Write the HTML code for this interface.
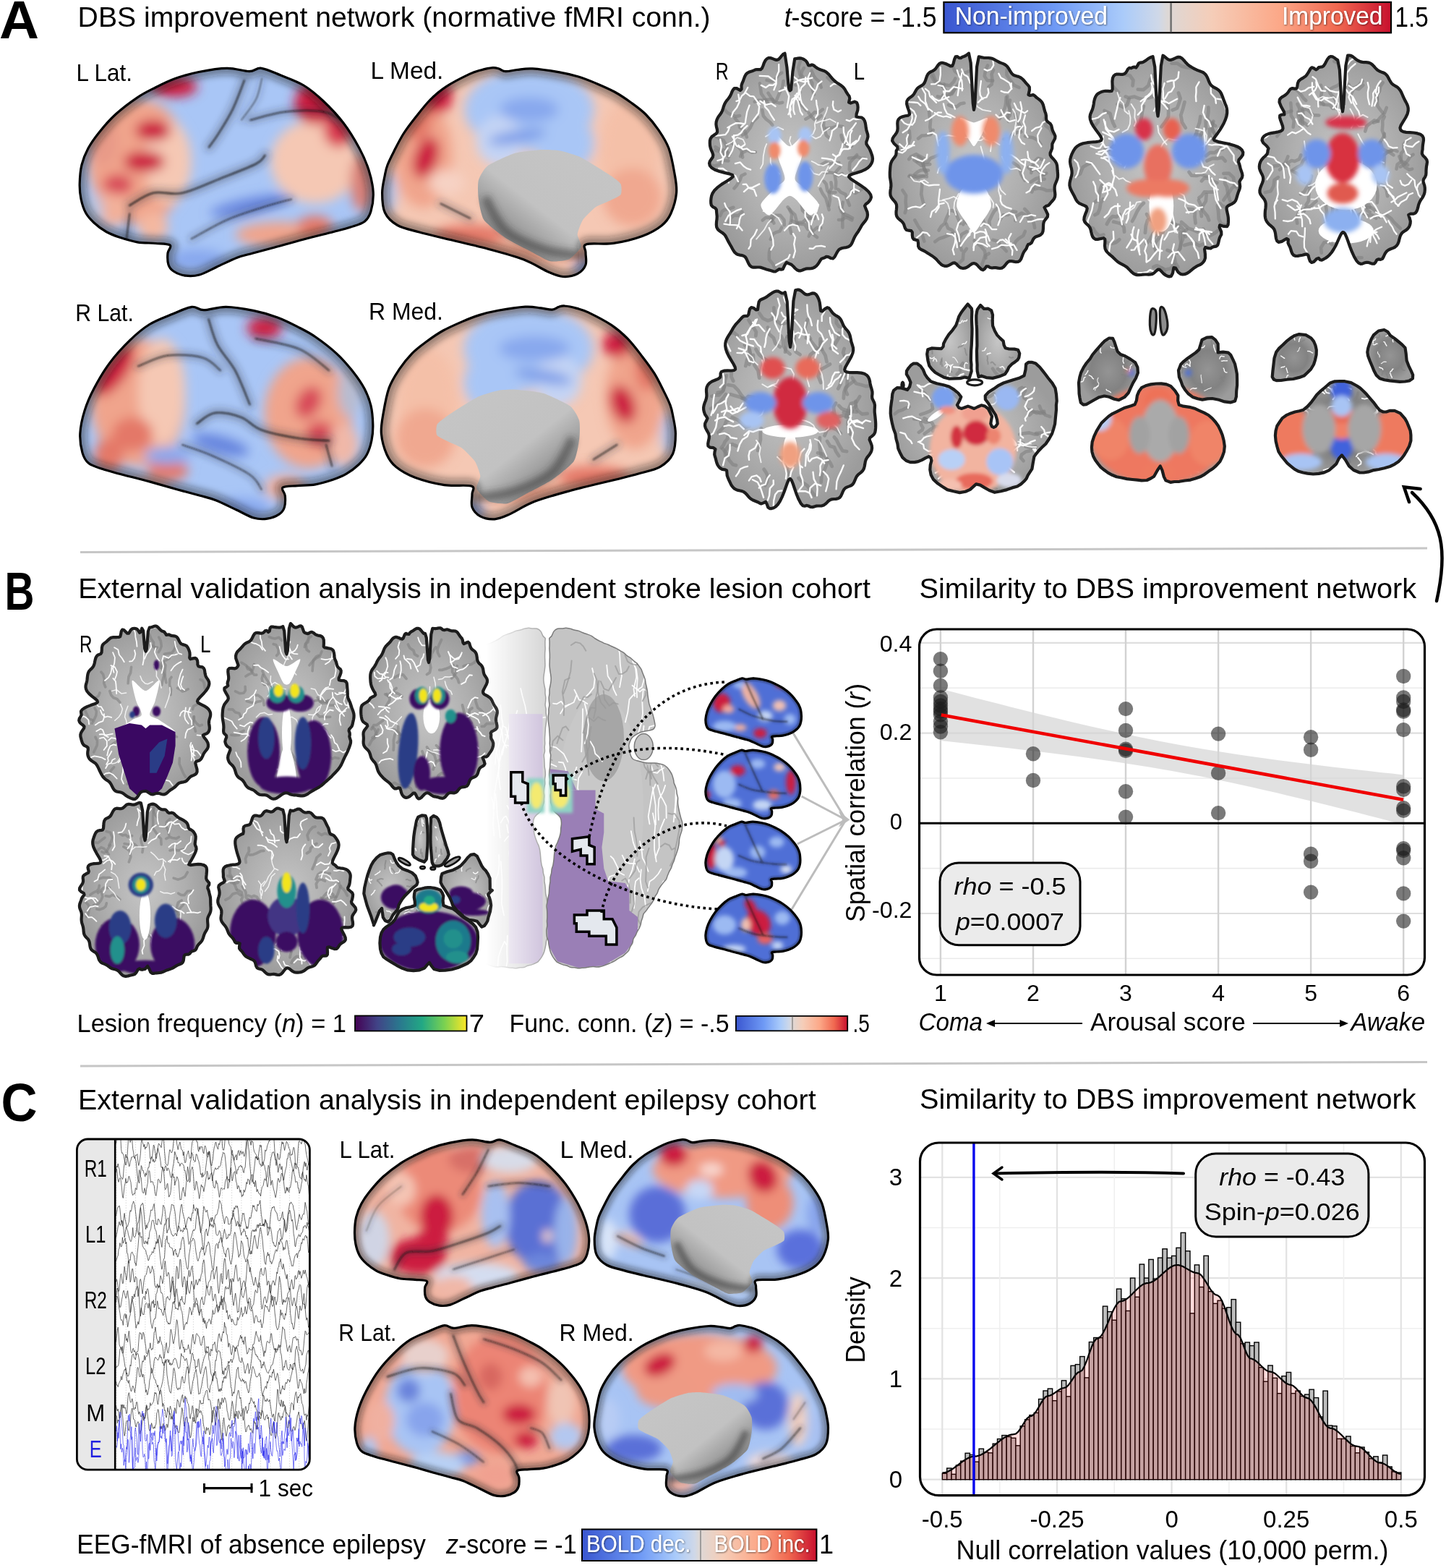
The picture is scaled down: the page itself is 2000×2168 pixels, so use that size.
<!DOCTYPE html>
<html><head><meta charset="utf-8"><title>DBS improvement network figure</title>
<style>html,body{margin:0;padding:0;background:#fff;}svg{display:block;}text{font-family:"Liberation Sans",Arial,sans-serif;}</style>
</head><body>
<svg width="2000" height="2168" viewBox="0 0 2000 2168" font-family="'Liberation Sans', Arial, sans-serif"><defs><linearGradient id="cw" x1="0" y1="0" x2="1" y2="0"><stop offset="0.00" stop-color="#3a56d0"/><stop offset="0.25" stop-color="#6f9af5"/><stop offset="0.40" stop-color="#aacbfa"/><stop offset="0.48" stop-color="#cfd8e8"/><stop offset="0.50" stop-color="#ddd8d6"/><stop offset="0.60" stop-color="#f5cdb8"/><stop offset="0.75" stop-color="#fca888"/><stop offset="0.88" stop-color="#f06850"/><stop offset="1.00" stop-color="#c8102e"/></linearGradient><linearGradient id="vir" x1="0" y1="0" x2="1" y2="0"><stop offset="0.00" stop-color="#440154"/><stop offset="0.20" stop-color="#414487"/><stop offset="0.40" stop-color="#2a788e"/><stop offset="0.60" stop-color="#22a884"/><stop offset="0.80" stop-color="#7ad151"/><stop offset="1.00" stop-color="#fde725"/></linearGradient><filter id="tsh" x="-5%" y="-20%" width="110%" height="140%"><feDropShadow dx="0.8" dy="0.8" stdDeviation="0.8" flood-color="#000" flood-opacity="0.6"/></filter></defs>
<rect width="2000" height="2168" fill="#fff"/>
<text x="-1.0" y="53.0" font-size="75.0" textLength="55.0" lengthAdjust="spacingAndGlyphs" font-weight="bold">A</text>
<text x="107.6" y="37.0" font-size="38.0" textLength="875.0" lengthAdjust="spacingAndGlyphs">DBS improvement network (normative fMRI conn.)</text>
<text x="1084.7" y="36.5" font-size="38" textLength="211" lengthAdjust="spacingAndGlyphs"><tspan font-style="italic">t</tspan>-score = -1.5</text>
<rect x="1305.4" y="3" width="618.6" height="42.3" fill="url(#cw)" stroke="#000" stroke-width="2.2"/>
<line x1="1619.6" y1="4" x2="1619.6" y2="44.3" stroke="#707070" stroke-width="2.5"/>
<text x="1320.7" y="34.0" font-size="35.0" textLength="211.3" lengthAdjust="spacingAndGlyphs" fill="#fff" filter="url(#tsh)">Non-improved</text>
<text x="1773.0" y="34.0" font-size="35.0" textLength="139.4" lengthAdjust="spacingAndGlyphs" fill="#fff" filter="url(#tsh)">Improved</text>
<text x="1929.6" y="36.5" font-size="38.0" textLength="46.1" lengthAdjust="spacingAndGlyphs">1.5</text>
<text x="105.5" y="112.0" font-size="34.0" textLength="77.4" lengthAdjust="spacingAndGlyphs">L Lat.</text>
<text x="512.4" y="109.4" font-size="34.0" textLength="101.0" lengthAdjust="spacingAndGlyphs">L Med.</text>
<text x="104.3" y="444.0" font-size="34.0" textLength="80.5" lengthAdjust="spacingAndGlyphs">R Lat.</text>
<text x="510.0" y="442.0" font-size="34.0" textLength="103.0" lengthAdjust="spacingAndGlyphs">R Med.</text>
<defs><path id="p3" d="M313.8 94.3c11.6-.2 23.1 4.3 31 4.3c7.9 0 9.5-5.2 16.6-4.3c7.1 .9 16.4 5.5 26.2 9.5c9.8 4 22.5 8.3 32.4 14.2c9.9 6 17.8 12.8 27 21.5c9.2 8.7 19.7 19.6 28 30.5c8.3 10.9 16.2 24.2 22 35c5.8 10.8 9.8 19.9 13 30c3.2 10.1 5.7 21.2 6.2 30.7c.5 9.5 -1.2 19.6 -3.2 26.3c-2 6.8 -4 10.5 -8.7 14.2c-4.7 3.7 -12.2 5.4 -19.3 7.8c-7.2 2.4 -12.8 3.7 -23.6 6.5c-10.8 2.8 -27.8 6.9 -41.4 10.5c-13.6 3.6 -28.3 7.8 -40 11c-11.7 3.2 -21.3 5.6 -30 8c-8.7 2.4 -13.7 3 -22 6.2c-8.3 3.2 -19.3 8.8 -28 12.8c-8.7 4 -17.1 9 -24.3 11c-7.2 2 -13.1 2 -19 1.2c-5.9-.8 -12.7-3.6 -16.7-6.2c-4-2.6 -5.8-5.1 -7.1-9.3c-1.3-4.2 -1.3-11.2 -.9-15.7c.4-4.4 6-8.8 3.2-11c-2.8-2.2 -12.7-1.8 -20.2-2.5c-7.5-.7 -16.7-.3 -25-1.7c-8.3-1.4 -17.8-4.4 -25-6.8c-7.2-2.4 -12.2-4.2 -18-7.5c-5.8-3.3 -12.3-8.1 -17-12.5c-4.7-4.4 -8.4-8.2 -11.4-13.7c-3-5.5 -5.2-12.6 -6.6-19.3c-1.4-6.8 -2-13.4 -1.8-21.2c.2-7.8 .8-17.7 2.8-25.8c2-8.1 4.9-15.4 9-23c4.1-7.6 9.3-14.8 15.6-22.6c6.3-7.8 13.7-16.5 22.4-24.4c8.7-7.9 20.8-17 30-23.2c9.2-6.2 16.3-9.4 25-13.8c8.7-4.4 17.4-8.8 27.4-12.4c10-3.6 20.7-6.7 32.6-9.1c11.9-2.4 27.2-5.1 38.8-5.2Z"/><clipPath id="c1"><use href="#p3"/></clipPath><filter id="f2" x="-30%" y="-30%" width="160%" height="160%"><feGaussianBlur stdDeviation="8.1"/></filter></defs>
<g clip-path="url(#c1)">
<rect x="105.0" y="89.0" width="417.0" height="298.0" fill="#a9c6f6"/>
<g filter="url(#f2)">
<ellipse cx="191.4" cy="223.6" rx="69.2" ry="86.4" fill="#f0a48c"/>
<ellipse cx="232.1" cy="223.6" rx="32.6" ry="57.6" fill="#f5c8b4"/>
<ellipse cx="211.8" cy="180.4" rx="24.4" ry="14.4" fill="#cc1a40"/>
<ellipse cx="199.5" cy="223.6" rx="28.5" ry="14.4" fill="#cc1a40"/>
<ellipse cx="162.9" cy="255.3" rx="20.4" ry="14.4" fill="#d84a58"/>
<ellipse cx="240.2" cy="119.9" rx="32.6" ry="14.4" fill="#cc1a40"/>
<ellipse cx="142.6" cy="194.8" rx="20.4" ry="34.6" fill="#e89a88"/>
<ellipse cx="435.6" cy="223.6" rx="61.0" ry="57.6" fill="#f5c8b4"/>
<ellipse cx="435.6" cy="143.0" rx="28.5" ry="28.8" fill="#cc1a40"/>
<ellipse cx="468.2" cy="180.4" rx="20.4" ry="23.0" fill="#d83850"/>
<ellipse cx="500.7" cy="252.4" rx="16.3" ry="40.3" fill="#d88078"/>
<ellipse cx="386.8" cy="324.4" rx="61.0" ry="17.3" fill="#f0a48c"/>
<ellipse cx="435.6" cy="312.9" rx="24.4" ry="14.4" fill="#e47868"/>
<ellipse cx="154.8" cy="289.8" rx="24.4" ry="23.0" fill="#f2b09a"/>
<ellipse cx="211.8" cy="312.9" rx="20.4" ry="20.2" fill="#f4b8a0"/>
<ellipse cx="346.1" cy="284.1" rx="57.0" ry="10.1" fill="#5c7cda" opacity="0.90" transform="rotate(-12 346.1 284.1)"/>
<ellipse cx="272.8" cy="359.0" rx="40.7" ry="14.4" fill="#88a8ee"/>
<ellipse cx="130.3" cy="295.6" rx="12.2" ry="28.8" fill="#b8c4e0"/>
</g>
<defs><filter id="f4" filterUnits="userSpaceOnUse" x="90" y="74" width="447" height="328"><feGaussianBlur stdDeviation="1.2"/></filter><filter id="f5" filterUnits="userSpaceOnUse" x="90" y="74" width="447" height="328"><feGaussianBlur stdDeviation="4.9"/></filter></defs>
<g filter="url(#f5)" fill="none" stroke="#2a2a3a" stroke-linecap="round"><path d="M337.9 111.3c-2.7 6.7 -10.2 27.8 -16.3 40.3c-6.1 12.5 -14.9 26 -20.3 34.6c-5.4 8.6 -10.2 14.3 -12.2 17.2" stroke-opacity="0.29" stroke-width="12.7"/><path d="M179.2 284.1c5.4-2.9 20.4-14.4 32.6-17.3c12.2-2.9 25 3.4 40.6 0c15.6-3.4 36-13.5 53-20.2c17-6.7 38.6-14.8 48.8-20.1c10.2-5.3 10.2-9.6 12.2-11.5" stroke-opacity="0.29" stroke-width="13.8"/><path d="M264.7 330.2c8.1-4.3 32.5-18.8 48.8-26c16.3-7.2 33.9-12.4 48.8-17.2c14.9-4.8 33.9-9.7 40.7-11.6" stroke-opacity="0.29" stroke-width="8.5"/><path d="M346.1 166c8.1-1.9 31.8-9.6 48.8-11.5c16.9-1.9 39.3-2.4 52.9 0c13.6 2.4 23.8 12 28.5 14.4" stroke-opacity="0.29" stroke-width="10.6"/><path d="M362.3 108.4c-1.4 4.8 -3.4 19.2 -8.1 28.8c-4.7 9.6 -16.9 24 -20.3 28.8" stroke-opacity="0.19" stroke-width="8.5"/><path d="M179.2 295.6l-4.1 34.6" stroke-opacity="0.29" stroke-width="10.6"/></g>
<g filter="url(#f4)" fill="none" stroke="#111" stroke-linecap="round"><path d="M337.9 111.3c-2.7 6.7 -10.2 27.8 -16.3 40.3c-6.1 12.5 -14.9 26 -20.3 34.6c-5.4 8.6 -10.2 14.3 -12.2 17.2" stroke-opacity="0.68" stroke-width="2.4"/><path d="M179.2 284.1c5.4-2.9 20.4-14.4 32.6-17.3c12.2-2.9 25 3.4 40.6 0c15.6-3.4 36-13.5 53-20.2c17-6.7 38.6-14.8 48.8-20.1c10.2-5.3 10.2-9.6 12.2-11.5" stroke-opacity="0.68" stroke-width="2.6"/><path d="M264.7 330.2c8.1-4.3 32.5-18.8 48.8-26c16.3-7.2 33.9-12.4 48.8-17.2c14.9-4.8 33.9-9.7 40.7-11.6" stroke-opacity="0.68" stroke-width="1.6"/><path d="M346.1 166c8.1-1.9 31.8-9.6 48.8-11.5c16.9-1.9 39.3-2.4 52.9 0c13.6 2.4 23.8 12 28.5 14.4" stroke-opacity="0.68" stroke-width="2.0"/><path d="M362.3 108.4c-1.4 4.8 -3.4 19.2 -8.1 28.8c-4.7 9.6 -16.9 24 -20.3 28.8" stroke-opacity="0.45" stroke-width="1.6"/><path d="M179.2 295.6l-4.1 34.6" stroke-opacity="0.68" stroke-width="2.0"/></g>
<defs><filter id="f6" x="-10%" y="-10%" width="120%" height="120%"><feGaussianBlur stdDeviation="4.9"/></filter></defs>
<use href="#p3" fill="none" stroke="#1a1a1a" stroke-opacity="0.42" stroke-width="18.3" filter="url(#f6)"/>
</g>
<use href="#p3" fill="none" stroke="#000" stroke-width="3.2" stroke-linejoin="round"/>
<defs><path id="p9" d="M528.6 266.7c0 8.7 .3 19.8 3.8 27.3c3.5 7.5 9.5 13 17.4 17.5c7.9 4.5 19.8 6.6 30.2 9.5c10.4 2.9 16.3 4.2 32 8c15.7 3.8 43.6 10 62.3 15c18.7 5 35.6 9.4 49.7 14.8c14.1 5.4 25.8 13.4 34.9 17.4c9.1 3.9 13.3 5.9 19.9 6.3c6.6 .4 14.7-1.1 19.9-3.8c5.2-2.7 9.4-7.4 11.3-12.4c1.9-5 -.2-12.6 0-17.4c.2-4.8 -5.2-9.1 1.2-11.2c6.4-2.1 24.4 .6 37.3-1.3c12.8-1.9 28.7-5.8 39.8-9.9c11.1-4.1 20.1-9.2 26.7-14.5c6.6-5.2 9.6-9.4 13-17c3.4-7.6 6.8-19.1 7.6-28.3c.8-9.2 -.8-16.4 -2.6-26.7c-1.8-10.3 -4.3-24.9 -8-35c-3.7-10.1 -8.9-17.6 -14.2-25.4c-5.3-7.8 -11.6-15.4 -17.8-21.6c-6.2-6.2 -12.4-10.6 -19.6-15.8c-7.2-5.2 -15.1-10.6 -23.4-15.2c-8.3-4.5 -18.1-8.6 -26.4-12.1c-8.3-3.5 -15.3-6.4 -23.6-8.9c-8.3-2.5 -15.6-4.2 -26.2-6.1c-10.6-1.8 -27.5-4.4 -37.3-5c-9.8-.6 -15.3 1 -21.5 1.6c-6.2 .6 -11.6 2.5 -15.8 2.2c-4.2-.2 -6.3-2.9 -9.2-3.7c-2.9-.8 -4.1-1.6 -8.3-1.3c-4.2 .3 -11.3 1.8 -16.7 3.3c-5.4 1.5 -7.6 1.6 -15.6 5.4c-8 3.8 -23.3 11.5 -32.4 17.4c-9.1 5.9 -15 11.1 -22 18.2c-7 7.1 -14.1 16.4 -20.3 24.2c-6.2 7.8 -11.7 14.9 -16.7 22.8c-5 7.9 -9.5 17.2 -13.2 24.4c-3.7 7.2 -6.7 13.2 -8.8 18.6c-2.1 5.4 -2.4 7.4 -3.6 13.8c-1.2 6.4 -3.8 16.2 -3.8 24.9Z"/><clipPath id="c7"><use href="#p9"/></clipPath><filter id="f8" x="-30%" y="-30%" width="160%" height="160%"><feGaussianBlur stdDeviation="8.2"/></filter></defs>
<g clip-path="url(#c7)">
<rect x="523.0" y="88.7" width="418.0" height="299.0" fill="#f5c8b4"/>
<g filter="url(#f8)">
<ellipse cx="732.0" cy="151.5" rx="89.8" ry="57.8" fill="#a9c6f6"/>
<ellipse cx="781.0" cy="197.7" rx="40.8" ry="40.5" fill="#a9c6f6"/>
<ellipse cx="691.2" cy="194.8" rx="32.6" ry="34.7" fill="#c4d4f4"/>
<ellipse cx="732.0" cy="151.5" rx="40.8" ry="17.3" fill="#88a8ee"/>
<ellipse cx="715.7" cy="189.1" rx="40.8" ry="8.7" fill="#7c9ce8" transform="rotate(-10 715.7 189.1)"/>
<ellipse cx="585.1" cy="215.1" rx="40.8" ry="72.2" fill="#f0a48c"/>
<ellipse cx="601.4" cy="134.2" rx="24.5" ry="23.1" fill="#cc1a40"/>
<ellipse cx="589.2" cy="218.0" rx="16.3" ry="28.9" fill="#cc1a40" transform="rotate(20 589.2 218.0)"/>
<ellipse cx="577.0" cy="165.9" rx="20.4" ry="28.9" fill="#e47868"/>
<ellipse cx="870.7" cy="209.3" rx="40.8" ry="72.2" fill="#f4c0a8"/>
<ellipse cx="874.8" cy="272.9" rx="40.8" ry="40.5" fill="#f0a890"/>
<ellipse cx="732.0" cy="348.0" rx="81.6" ry="14.5" fill="#f0a48c"/>
<ellipse cx="650.4" cy="324.9" rx="49.0" ry="14.5" fill="#e47868"/>
<ellipse cx="536.2" cy="267.1" rx="12.2" ry="28.9" fill="#b0c0e8"/>
<ellipse cx="813.6" cy="371.1" rx="20.4" ry="11.6" fill="#88a8ee"/>
<ellipse cx="617.8" cy="252.7" rx="24.5" ry="17.3" fill="#f6d2c4"/>
</g>
<defs><filter id="f10" filterUnits="userSpaceOnUse" x="508" y="74" width="448" height="329"><feGaussianBlur stdDeviation="1.2"/></filter><filter id="f11" filterUnits="userSpaceOnUse" x="508" y="74" width="448" height="329"><feGaussianBlur stdDeviation="4.9"/></filter></defs>
<g filter="url(#f11)" fill="none" stroke="#2a2a3a" stroke-linecap="round"><path d="M609.6 281.6l40.8 20.2" stroke-opacity="0.29" stroke-width="10.6"/></g>
<g filter="url(#f10)" fill="none" stroke="#111" stroke-linecap="round"><path d="M609.6 281.6l40.8 20.2" stroke-opacity="0.68" stroke-width="2.0"/></g>
<defs><linearGradient id="g12" x1="100%" y1="0%" x2="0%" y2="100%"><stop offset="0" stop-color="#c6c6c6"/><stop offset="0.55" stop-color="#c2c2c2"/><stop offset="0.8" stop-color="#8a8a8a"/><stop offset="1" stop-color="#b4b4b4"/></linearGradient></defs>
<path d="M661.8 249.3c1.2-4.5 7.5-16.2 12.5-19.9c5-3.7 29.8-15.2 37.3-17.4c7.5-2.2 31.2-4.6 37.4-5c6.2-.4 19.7 .3 24.8 1.2c5.1 .9 21.2 5.7 26.2 7.8c5 2.1 19.1 10.7 23.6 13.4c4.5 2.7 17.9 11.1 21.4 13.6c3.5 2.5 12.2 8.7 13.5 11.3c1.3 2.6 1.8 12.4 0 14.9c-1.8 2.5 -15 8.1 -18.5 9.8c-3.5 1.7 -13 5.1 -16.4 7.6c-3.4 2.5 -14.9 13.7 -17.4 17.4c-2.5 3.7 -7.2 16.3 -7.5 20c-.2 3.7 6.2 13.9 5 17.4c-1.2 3.5 -13.2 15.4 -17.4 17.4c-4.2 2 -19.9 3.5 -24.9 2.5c-5-1 -18.7-9.2 -24.9-12.4c-6.2-3.2 -30.6-15.4 -37.3-19.9c-6.7-4.5 -26.2-19.5 -29.9-25c-3.7-5.5 -6.8-24.3 -7.5-29.8c-.8-5.5 -1.2-20.4 0-24.9Z" fill="url(#g12)"/>
<defs><filter id="f13" filterUnits="userSpaceOnUse" x="508" y="74" width="448" height="329"><feGaussianBlur stdDeviation="4.9"/></filter></defs>
<path d="M670.8 272.9c4.8 7.7 15 34.2 28.6 46.2c13.6 12 35.3 20.2 53 26c17.7 5.8 44.2 7.2 53 8.7" fill="none" stroke="#333" stroke-opacity="0.55" stroke-width="12.2" filter="url(#f13)"/>
<defs><filter id="f14" x="-10%" y="-10%" width="120%" height="120%"><feGaussianBlur stdDeviation="4.9"/></filter></defs>
<use href="#p9" fill="none" stroke="#1a1a1a" stroke-opacity="0.42" stroke-width="18.4" filter="url(#f14)"/>
</g>
<use href="#p9" fill="none" stroke="#000" stroke-width="3.2" stroke-linejoin="round"/>
<defs><path id="p17" d="M312.7 424.3c-11.6-.2 -23 4.4 -30.9 4.4c-7.9 0 -9.5-5.3 -16.6-4.4c-7.1 .9 -16.4 5.7 -26.1 9.7c-9.7 4 -22.4 8.4 -32.3 14.5c-9.9 6.1 -17.9 13 -27 21.9c-9.2 8.9 -19.6 20.1 -27.9 31.2c-8.3 11.1 -16.1 24.6 -21.9 35.7c-5.8 11 -9.8 20.3 -13 30.6c-3.2 10.3 -5.7 21.7 -6.2 31.4c-.5 9.7 1.2 19.9 3.2 26.8c2 6.9 4.1 10.8 8.7 14.5c4.7 3.8 12.1 5.6 19.2 8c7.1 2.4 12.8 3.7 23.6 6.6c10.8 2.9 27.8 7 41.3 10.7c13.5 3.7 28.3 8.1 39.9 11.3c11.6 3.2 21.3 5.7 29.9 8.1c8.6 2.4 13.6 3.2 21.9 6.4c8.3 3.2 19.3 9 28 13c8.7 4 17 9.2 24.2 11.3c7.2 2.1 13.1 2.1 19 1.2c5.9-.9 12.7-3.7 16.6-6.3c3.9-2.6 5.8-5.2 7.1-9.5c1.3-4.3 1.3-11.6 .9-16.1c-.4-4.5 -6-8.9 -3.2-11.2c2.8-2.3 12.7-1.8 20.2-2.5c7.5-.7 16.6-.4 24.9-1.8c8.3-1.5 17.8-4.5 24.9-6.9c7.2-2.4 12.2-4.3 18-7.7c5.8-3.4 12.2-8.3 16.9-12.7c4.7-4.5 8.4-8.4 11.4-14c3-5.6 5.2-12.8 6.6-19.7c1.4-6.9 2-13.7 1.8-21.7c-.2-8 -.8-18 -2.8-26.3c-2-8.3 -4.9-15.7 -9-23.5c-4.1-7.8 -9.2-15.1 -15.5-23.1c-6.3-8 -13.7-16.8 -22.4-24.9c-8.7-8.1 -20.8-17.3 -29.9-23.6c-9.1-6.3 -16.2-9.6 -24.9-14.1c-8.7-4.5 -17.4-9 -27.4-12.7c-10-3.7 -20.6-6.9 -32.5-9.3c-11.9-2.4 -27.1-5.2 -38.7-5.3Z"/><clipPath id="c15"><use href="#p17"/></clipPath><filter id="f16" x="-30%" y="-30%" width="160%" height="160%"><feGaussianBlur stdDeviation="8.1"/></filter></defs>
<g clip-path="url(#c15)">
<rect x="105.0" y="419.0" width="416.0" height="304.0" fill="#a9c6f6"/>
<g filter="url(#f16)">
<ellipse cx="191.2" cy="556.3" rx="65.0" ry="88.2" fill="#f0a48c"/>
<ellipse cx="223.7" cy="541.6" rx="32.5" ry="73.5" fill="#f5c8b4"/>
<ellipse cx="158.7" cy="512.2" rx="16.2" ry="41.2" fill="#cc1a40" transform="rotate(35 158.7 512.2)"/>
<ellipse cx="183.1" cy="600.4" rx="28.4" ry="23.5" fill="#e47868"/>
<ellipse cx="150.6" cy="629.8" rx="20.3" ry="23.5" fill="#e47868"/>
<ellipse cx="231.8" cy="650.4" rx="28.4" ry="14.7" fill="#e47868"/>
<ellipse cx="191.2" cy="676.8" rx="40.6" ry="14.7" fill="#f0b0a0"/>
<ellipse cx="426.7" cy="571.0" rx="60.9" ry="76.4" fill="#f0a48c"/>
<ellipse cx="426.7" cy="556.3" rx="16.2" ry="23.5" fill="#d84858" transform="rotate(30 426.7 556.3)"/>
<ellipse cx="442.9" cy="600.4" rx="20.3" ry="17.6" fill="#d84a58"/>
<ellipse cx="365.8" cy="453.4" rx="24.4" ry="14.7" fill="#cc1a40"/>
<ellipse cx="475.4" cy="615.1" rx="20.3" ry="29.4" fill="#f0b8a8"/>
<ellipse cx="394.2" cy="673.9" rx="28.4" ry="17.6" fill="#f0b0a0"/>
<ellipse cx="304.9" cy="615.1" rx="40.6" ry="11.8" fill="#5c7cda" opacity="0.90" transform="rotate(15 304.9 615.1)"/>
<ellipse cx="231.8" cy="629.8" rx="32.5" ry="11.8" fill="#88a8ee"/>
<ellipse cx="333.3" cy="703.3" rx="40.6" ry="14.7" fill="#88a8ee"/>
<ellipse cx="483.5" cy="541.6" rx="16.2" ry="35.3" fill="#b8bcd0"/>
</g>
<defs><filter id="f18" filterUnits="userSpaceOnUse" x="90" y="404" width="446" height="334"><feGaussianBlur stdDeviation="1.2"/></filter><filter id="f19" filterUnits="userSpaceOnUse" x="90" y="404" width="446" height="334"><feGaussianBlur stdDeviation="4.9"/></filter></defs>
<g filter="url(#f19)" fill="none" stroke="#2a2a3a" stroke-linecap="round"><path d="M288.6 441.6c2 5.9 6.1 23.5 12.2 35.3c6.1 11.8 16.9 21.6 24.4 35.3c7.4 13.7 16.9 39.2 20.3 47" stroke-opacity="0.29" stroke-width="12.7"/><path d="M191.2 506.3c6.8-2.4 25.7-12.7 40.6-14.7c14.9-1.9 36.5-.4 48.7 3c12.2 3.4 20.3 14.7 24.4 17.6" stroke-opacity="0.29" stroke-width="10.6"/><path d="M272.4 585.7c4.1-2.5 14.3-13.2 24.4-14.7c10.2-1.5 25.7 2 36.5 5.9c10.8 3.9 14.9 12.7 28.4 17.6c13.5 4.9 37.2 9.3 52.8 11.8c15.6 2.5 33.8 2.4 40.6 2.9" stroke-opacity="0.29" stroke-width="13.7"/><path d="M252.1 615.1c6.8 2.4 25 7.8 40.6 14.7c15.6 6.9 41.3 18.7 52.8 26.5c11.5 7.8 13.5 17.1 16.2 20.5" stroke-opacity="0.29" stroke-width="8.4"/><path d="M353.6 468.1c10.1 2.4 44 7.3 60.9 14.7c16.9 7.4 33.8 24.5 40.6 29.4" stroke-opacity="0.29" stroke-width="10.6"/><path d="M451 615.1l8.2 29.4" stroke-opacity="0.29" stroke-width="10.6"/></g>
<g filter="url(#f18)" fill="none" stroke="#111" stroke-linecap="round"><path d="M288.6 441.6c2 5.9 6.1 23.5 12.2 35.3c6.1 11.8 16.9 21.6 24.4 35.3c7.4 13.7 16.9 39.2 20.3 47" stroke-opacity="0.68" stroke-width="2.4"/><path d="M191.2 506.3c6.8-2.4 25.7-12.7 40.6-14.7c14.9-1.9 36.5-.4 48.7 3c12.2 3.4 20.3 14.7 24.4 17.6" stroke-opacity="0.68" stroke-width="2.0"/><path d="M272.4 585.7c4.1-2.5 14.3-13.2 24.4-14.7c10.2-1.5 25.7 2 36.5 5.9c10.8 3.9 14.9 12.7 28.4 17.6c13.5 4.9 37.2 9.3 52.8 11.8c15.6 2.5 33.8 2.4 40.6 2.9" stroke-opacity="0.68" stroke-width="2.6"/><path d="M252.1 615.1c6.8 2.4 25 7.8 40.6 14.7c15.6 6.9 41.3 18.7 52.8 26.5c11.5 7.8 13.5 17.1 16.2 20.5" stroke-opacity="0.68" stroke-width="1.6"/><path d="M353.6 468.1c10.1 2.4 44 7.3 60.9 14.7c16.9 7.4 33.8 24.5 40.6 29.4" stroke-opacity="0.68" stroke-width="2.0"/><path d="M451 615.1l8.2 29.4" stroke-opacity="0.68" stroke-width="2.0"/></g>
<defs><filter id="f20" x="-10%" y="-10%" width="120%" height="120%"><feGaussianBlur stdDeviation="4.9"/></filter></defs>
<use href="#p17" fill="none" stroke="#1a1a1a" stroke-opacity="0.42" stroke-width="18.3" filter="url(#f20)"/>
</g>
<use href="#p17" fill="none" stroke="#000" stroke-width="3.2" stroke-linejoin="round"/>
<defs><path id="p23" d="M934.4 599.6c0 8.9 -.3 20.3 -3.8 27.9c-3.5 7.6 -9.5 13.2 -17.4 17.8c-7.9 4.6 -19.8 6.7 -30.2 9.7c-10.4 3 -16.3 4.3 -32 8.2c-15.7 3.9 -43.6 10.2 -62.3 15.3c-18.7 5.1 -35.6 9.6 -49.7 15.1c-14.1 5.5 -25.8 13.8 -34.9 17.8c-9.1 4 -13.3 6 -19.9 6.4c-6.6 .4 -14.7-1.1 -19.9-3.9c-5.2-2.8 -9.4-7.5 -11.3-12.6c-1.9-5.1 .2-12.9 0-17.8c-.2-4.9 5.2-9.3 -1.2-11.4c-6.4-2.1 -24.4 .5 -37.3-1.4c-12.8-1.9 -28.7-6 -39.8-10.1c-11.1-4.2 -20.1-9.5 -26.7-14.8c-6.6-5.4 -9.6-9.6 -13-17.3c-3.4-7.7 -6.8-19.5 -7.6-28.9c-.8-9.4 .8-16.8 2.6-27.3c1.8-10.5 4.3-25.4 8-35.7c3.7-10.3 8.9-17.9 14.2-25.9c5.3-8 11.6-15.7 17.8-22.1c6.2-6.4 12.4-10.8 19.6-16.1c7.2-5.3 15.1-10.9 23.4-15.5c8.3-4.6 18.1-8.8 26.4-12.4c8.3-3.6 15.3-6.4 23.6-9c8.3-2.6 15.6-4.4 26.2-6.3c10.6-1.9 27.5-4.5 37.3-5.1c9.8-.6 15.3 1 21.5 1.7c6.2 .7 11.6 2.5 15.8 2.2c4.2-.3 6.3-3 9.2-3.8c2.9-.9 4.1-1.7 8.3-1.3c4.2 .3 11.3 1.9 16.7 3.4c5.4 1.5 7.6 1.6 15.6 5.5c8 3.9 23.3 11.7 32.4 17.7c9.1 6.1 15 11.4 22 18.6c7 7.2 14.1 16.7 20.3 24.7c6.2 8 11.7 15.3 16.7 23.3c5 8 9.5 17.6 13.2 24.9c3.7 7.3 6.7 13.5 8.8 19c2.1 5.5 2.4 7.5 3.6 14.1c1.2 6.6 3.8 16.5 3.8 25.4Z"/><clipPath id="c21"><use href="#p23"/></clipPath><filter id="f22" x="-30%" y="-30%" width="160%" height="160%"><feGaussianBlur stdDeviation="8.2"/></filter></defs>
<g clip-path="url(#c21)">
<rect x="522.0" y="418.0" width="418.0" height="305.0" fill="#f5c8b4"/>
<g filter="url(#f22)">
<ellipse cx="731.0" cy="482.0" rx="89.8" ry="59.0" fill="#a9c6f6"/>
<ellipse cx="682.0" cy="529.2" rx="40.8" ry="41.3" fill="#a9c6f6"/>
<ellipse cx="771.8" cy="526.2" rx="32.6" ry="35.4" fill="#c4d4f4"/>
<ellipse cx="739.2" cy="482.0" rx="49.0" ry="17.7" fill="#88a8ee"/>
<ellipse cx="751.4" cy="520.4" rx="40.8" ry="8.8" fill="#7c9ce8" transform="rotate(10 751.4 520.4)"/>
<ellipse cx="877.9" cy="546.9" rx="40.8" ry="73.8" fill="#f0a48c"/>
<ellipse cx="853.4" cy="476.1" rx="20.4" ry="17.7" fill="#cc1a40"/>
<ellipse cx="861.6" cy="558.7" rx="16.3" ry="26.6" fill="#cc1a40" transform="rotate(-20 861.6 558.7)"/>
<ellipse cx="894.2" cy="511.5" rx="16.3" ry="29.5" fill="#e47868"/>
<ellipse cx="592.3" cy="555.8" rx="40.8" ry="73.8" fill="#f4c0a8"/>
<ellipse cx="588.2" cy="605.9" rx="40.8" ry="41.3" fill="#f0a890"/>
<ellipse cx="751.4" cy="682.6" rx="81.6" ry="14.8" fill="#f0a48c"/>
<ellipse cx="820.8" cy="659.0" rx="49.0" ry="14.8" fill="#e47868"/>
<ellipse cx="926.8" cy="600.0" rx="12.2" ry="29.5" fill="#b0c0e8"/>
<ellipse cx="649.4" cy="706.2" rx="20.4" ry="11.8" fill="#88a8ee"/>
</g>
<defs><filter id="f24" filterUnits="userSpaceOnUse" x="507" y="403" width="448" height="335"><feGaussianBlur stdDeviation="1.2"/></filter><filter id="f25" filterUnits="userSpaceOnUse" x="507" y="403" width="448" height="335"><feGaussianBlur stdDeviation="4.9"/></filter></defs>
<g filter="url(#f25)" fill="none" stroke="#2a2a3a" stroke-linecap="round"><path d="M853.4 614.8l-32.6 20.6" stroke-opacity="0.29" stroke-width="10.6"/></g>
<g filter="url(#f24)" fill="none" stroke="#111" stroke-linecap="round"><path d="M853.4 614.8l-32.6 20.6" stroke-opacity="0.68" stroke-width="2.0"/></g>
<defs><linearGradient id="g26" x1="0%" y1="0%" x2="100%" y2="100%"><stop offset="0" stop-color="#c6c6c6"/><stop offset="0.55" stop-color="#c2c2c2"/><stop offset="0.8" stop-color="#8a8a8a"/><stop offset="1" stop-color="#b4b4b4"/></linearGradient></defs>
<path d="M801.2 581.8c-1.2-4.6 -7.5-16.5 -12.5-20.3c-5-3.8 -29.8-15.4 -37.3-17.7c-7.5-2.3 -31.2-4.7 -37.4-5.1c-6.2-.4 -19.7 .3 -24.8 1.2c-5.1 .9 -21.2 5.7 -26.2 7.9c-5 2.2 -19.1 10.9 -23.6 13.7c-4.5 2.8 -17.9 11.4 -21.4 13.9c-3.5 2.5 -12.2 8.8 -13.5 11.5c-1.3 2.7 -1.8 12.7 0 15.2c1.8 2.5 15 8.2 18.5 10c3.5 1.8 13 5.2 16.4 7.8c3.4 2.6 14.9 14 17.4 17.8c2.5 3.8 7.2 16.6 7.5 20.4c.2 3.8 -6.2 14.1 -5 17.7c1.2 3.6 13.2 15.8 17.4 17.8c4.2 2 19.9 3.6 24.9 2.6c5-1 18.7-9.4 24.9-12.7c6.2-3.3 30.6-15.7 37.3-20.3c6.7-4.6 26.2-19.9 29.9-25.5c3.7-5.6 6.8-24.9 7.5-30.5c.8-5.6 1.2-20.8 0-25.4Z" fill="url(#g26)"/>
<defs><filter id="f27" filterUnits="userSpaceOnUse" x="507" y="403" width="448" height="335"><feGaussianBlur stdDeviation="4.9"/></filter></defs>
<path d="M792.2 605.9c-4.8 7.9 -15 34.9 -28.6 47.2c-13.6 12.3 -35.3 20.6 -53 26.5c-17.7 5.9 -44.2 7.4 -53 8.9" fill="none" stroke="#333" stroke-opacity="0.55" stroke-width="12.2" filter="url(#f27)"/>
<defs><filter id="f28" x="-10%" y="-10%" width="120%" height="120%"><feGaussianBlur stdDeviation="4.9"/></filter></defs>
<use href="#p23" fill="none" stroke="#1a1a1a" stroke-opacity="0.42" stroke-width="18.4" filter="url(#f28)"/>
</g>
<use href="#p23" fill="none" stroke="#000" stroke-width="3.2" stroke-linejoin="round"/>
<defs><path id="sp2" d="M1203.4 229l-3 2.9 -4.2 2.8 -5.4 2.4 -6.2 2 -5.9 1.7 -3.9 1.7 -.7 2.1 2.8 2.9 5.7 3.7 6.9 4.5 6.7 4.7 5.1 4.6 2.9 4.1 .8 3.5 -.9 2.9 -1.7 2.5 -2.1 2.3 -2.7 1.9 -1.6 2.4 1.6 4.1 1.9 4.4 .5 3.8 -.4 3.2 -1.1 2.8 -1.6 2.4 -1.9 2.3 -1.8 2.2 -1.6 2.4 -1.4 2.5 -1.4 2.5 -1.5 2.5 -1.6 2.3 -1.6 2.3 -1.5 2.4 -1.3 2.6 -1.2 2.8 -1.2 2.9 -1.3 2.7 -1.9 2.1 -2.3 1.5 -2.8 .8 -2.9 .4 -2.9 .5 -2.5 .9 -2 1.4 -1.7 2.2 -1.5 2.6 -1.4 2.8 -1.5 2.6 -2.1 1.8 -2.9-.3 -3.6-1.8 -2.8-.3 -2.1 1.3 -2.3 .8 -2.3 .9 -1.7 2.3 -1.7 2.9 -1.7 2.6 -2 2.2 -2.2 1.6 -2.3 1.1 -2.5 .5 -2.5 .2 -2.5 .1 -2.5 .3 -2.4 .8 -2.3 1 -2.4 .8 -2.5 0 -2.6-1.1 -2.6-2.2 -2.5-2.8 -2.4-2.2 -2.3-1.1 -2.3-.8 -2.2-1.4 -2.5 3.7 -2.7 5.7 -2.5 .5 -2.4-.6 -2.7 1.8 -2.8 1.7 -2.5-.2 -2.5-.9 -2.4-.7 -2.5-.6 -2.4-.7 -2.5-.8 -2.4-.9 -2.4-.8 -2.6-.4 -2.7 0 -2.9 .2 -2.8 0 -2.5-.8 -2.2-1.8 -1.7-2.7 -1.5-3.3 -1.4-3.1 -1.6-2.5 -2.1-1.6 -2.6-.8 -2.8-.5 -2.7-.6 -2.4-1.2 -2.1-1.9 -1.7-2.3 -1.5-2.7 -1.4-2.6 -1.5-2.6 -1.4-2.5 -1.5-2.6 -1.3-2.6 -1.3-2.6 -1.4-2.5 -1.7-2.1 -2.2-1.8 -2.4-1.6 -2.4-1.6 -2-2.1 -1.3-2.7 -.4-3.4 .2-3.8 .5-3.8 .2-3.6 -.3-3.2 -.3-3.1 -.2-3.2 -1.8-2.2 -3.1-1.5 -2.1-2.3 -.6-2.9 -.1-3.3 .3-3.3 .6-3.4 1.3-3.5 2.5-3.9 4.2-4.2 6-4.5 6.7-4.2 5.8-3.7 3.2-2.9 -.6-2.1 -4.3-1.6 -6.6-1.5 -7.2-1.9 -6.3-2.3 -4.5-2.7 -2.5-3 -.7-3.1 .8-3 2-2.9 1.9-2.8 .5-2.9 -.9-3.1 -1.5-3.3 -1.2-3.4 -.7-3.3 -.2-3.3 .1-3.3 .8-3 1.8-2.6 2.9-2.2 3.1-1.9 1.6-2.4 -.2-3.4 -1-3.8 -.5-3.7 .3-3.3 .9-3 1.3-2.7 1.6-2.4 1.8-2.3 1.6-2.4 1.2-2.7 1-2.9 .9-3 1.1-2.9 1.4-2.6 1.6-2.3 1.8-2.1 1.7-2.2 1.5-2.5 1.3-2.7 1.1-2.9 1.4-2.6 1.9-2.1 3.2 .2 4.8 2.7 1.8-1.7 -.1-5 1-3.2 1.3-2.8 1.1-3.3 1.2-3.2 1.5-2.8 1.9-1.9 2.2-1.2 2.3-.8 2.4-.7 2.2-.9 2.2-1 2.4-.4 2.5 .2 2.3-.1 1.9-1.7 1.5-3.4 1.4-4 1.7-3.3 1.9-2.2 2.2-1.3 2.4-.2 2.4 .6 2.5 1 2.5 1 2.3 .3 2.2-.9 2-2 2.1-2.7 2.2-2.4 2.3-1.1 2.9 19.2 2.4 28.1 1.7 4.1 1.6-1.2 2.3-24.9 2.8-17.7 2.2-.4 2.3-.4 2.3-.2 2.3 .2 2.2 .8 2.1 1.2 2.1 1.5 1.9 2.7 1.6 3.5 2.3 .2 2.4-1 2.2 .8 2 1.5 1.9 1.5 2 1.4 2.1 1 2.2 .8 2.2 .7 2.2 .7 2.1 1.1 2 1.4 1.9 1.8 1.8 2 1.7 2.1 1.7 2.1 1.8 1.9 1.8 1.7 2 1.6 2 1.4 2.1 1.3 2.2 1.4 2 1.6 1.9 1.8 1.7 2.2 1.4 2.5 1.5 2.5 1.5 2.4 1.7 2.1 .8 3.2 -1.2 5.5 2.5 1.1 5.7-2 2.8 1.3 1.1 2.9 .4 3.5 -.3 4.1 -1.6 5 -.3 3.8 3.5 .9 4.1 .6 2.5 2 1.5 2.6 .9 3 .5 3.2 .4 3.2 .6 3.2 .9 2.9 .9 3 .3 3.2 -.9 3.6 -1.3 3.6 .1 3 1.7 2.7 1.9 2.7 1.4 2.8 1.2 3 1.1 3 .9 3 .4 3.2 -.4 3.1 -1.2 3.2Z"/><clipPath id="sc1"><use href="#sp2"/></clipPath></defs>
<g clip-path="url(#sc1)">
<defs><radialGradient id="sg3"><stop offset="0" stop-color="#c6c6c6"/><stop offset="0.6" stop-color="#afafaf"/><stop offset="1" stop-color="#9c9c9c"/></radialGradient></defs>
<use href="#sp2" fill="url(#sg3)"/>
<g fill="none" stroke="#808080" stroke-width="4.5" stroke-opacity="0.60" stroke-linecap="round" stroke-linejoin="round"><path d="M1161.6 231.6l-5.1 5.6 -1.8 5.4 1.6 9 -.5 9.2"/><path d="M1015.4 260.4l3.3-3.7 4.9-7.8 1.9-5.9 5-2.5"/><path d="M1016.6 163.6l5.4 6.4 1.1 6.2 7 4.9 2.8 8.4"/><path d="M1122.6 97.8l3.3 7.5 3 3.8 4.4 3.8 2.5 8"/><path d="M1196.2 219.1l-4.7 0 -5.8-2.4 -4.2 1.4 -7.6 .7"/><path d="M1006.7 310.3l4-9 5.1-3.6 5.7 .2 4.9-5"/><path d="M1146.7 290.1l-2.3-8.5 -2-7.3 -4.8-6.9 -2.9-6.2"/><path d="M1146.7 284.4l1.4-8.8 -1.6-9 4.2-7.5 -1.3-6.9"/><path d="M1122.9 301.5l-7.4 .8 -5.2 4.9 -4.8 .2 -4.2 3.8"/><path d="M989.4 203.1l5.5 3.4 3.9 5.8 5.7 1.3 3.4 3.8"/><path d="M1060.4 110.9l7.2 1.7 5-3.4 3.7-5.4 5.1-3.2"/><path d="M1111.9 94l-2.6 4.1 -2.1 9.6 -3.6 4.2 -3.3 5.6"/><path d="M1117.3 317.1l-4.4-6.8 -7-.7 -4.7-1.9 -5.6-2.3"/><path d="M1120.6 302.1l-2.4-6 -3.9-.9 -4.4-4.4 -1-6.7"/><path d="M1106.6 127.3l-2.5 9.1 1.9 6.5 5 4.9 4.1 4.7"/><path d="M989.1 207.5l5.3 1.8 5.9-2 5.3 2.4 3.7 4.2"/><path d="M1062.4 128.6l4.7 7.1 3.3 4.9 7.7 2 4.1-.8"/><path d="M1012 197.6l3.7 2.2 5.2 3 4.4 5.1 1.9 9.7"/><path d="M1126.6 302.3l-.1-5.5 -2.6-9.5 -2.6-6.5 -1.2-10.1"/><path d="M1083.6 111.9l-1.5 9.4 -4.4 8.2 -3.7 8.8 -5.2 4.3"/><path d="M1002.6 152l3.4 3.8 4.5 2.5 7.4 2.7 5.2-1"/><path d="M1054.7 304.5l4.3-3.4 4.6-.4 4 2.5 2.9 5.4"/><path d="M1179.2 301.4l-5.5-2.8 -6.3-3 -3.6-2.8 -2.2-6.3"/><path d="M1165.4 314.4l-.1-9.8 .9-8.1 -1.8-9 1.4-7.9"/><path d="M1162.9 107.2l-2.5 4.6 -4.5 .6 -5.8 .3 -5.8-5.6"/><path d="M1130.2 328.1l-6.5-4.8 -1.8-6.9 -4.4-7.7 -2-7.4"/><path d="M1138 151.3l-6 4.6 -5.2-.9 -5.7 5.7 -6.9 4"/><path d="M1178.4 304.4l-5-2.7 -4.1-1.3 -4.3 3.7 -5.1 0"/><path d="M1024 216.2l2.2-4.8 7.3-3.7 6.3 3.1 5.2-.6"/><path d="M1165.2 174.9l-6.7-1 -4.4 1.8 -3.9 1.1 -7.6 .7"/><path d="M1054.3 151.8l1.5 8.5 4 4.7 5.1 3.7 3.6 4.4"/><path d="M1178.1 202.1l-5.4 .7 -4.4-5.7 -3.2-3.5 -1.7-6.7"/><path d="M1175 283.9l-3.1-7.9 -2.2-7.1 -6.7-3 -3.8-4"/><path d="M1071.9 370.6l-3.4-6.2 -4.7-5.7 0-8.9 1.2-5.7"/><path d="M1201.2 256.8l-6.2 2.6 -6.6 4.6 -5.4 2.9 -5.2-3.3"/><path d="M1109.7 79.9l-3.1 5.7 -2.5 7.8 2.2 9.5 4.3 3.2"/><path d="M1065.7 330.9l3.6-7.6 5.1-2.5 4.1-1.2 2.7-4.9"/><path d="M1155.6 266l-7.2 .4 -4-2.6 -1.7-9.3 -3.1-3.7"/><path d="M990.3 189.3l5.6 2.4 4.5 2.2 4.4 7.6 .4 9"/><path d="M1094.4 322.7l-2.4-9.7 2.2-7.9 1-8.8 -3.5-7"/><path d="M1120.5 101.8l-.6 7.3 3.5 5.6 -.3 7.2 2.9 8.8"/><path d="M1118.7 326.6l2.3-5.5 3.8-2 5.6-4.7 5 .7"/><path d="M1066.5 306l1.3-7.3 -1.5-8.8 1.4-5.7 5.7-6.5"/><path d="M1135.8 159.8l-4.3 4.2 -5.2 1.2 -4-3.9 -3.9-5.5"/><path d="M1026.9 186.8l5.6-3.4 5.2-6.8 4-8.6 6.3-5.8"/><path d="M1160.4 224.8l-5.1 .6 -6.7 1.1 -6.1-2.5 -6.6 3.8"/><path d="M1103.5 312.4l-1.4-5.5 -2.6-9.9 -4.1-3.9 -5.9-6.8"/><path d="M996.3 298.2l2.4-5.8 3.5-2.5 5.3-.7 7-2.5"/><path d="M1043.7 140.6l4.9-1.8 6.4-.1 7-1.1 6.8-.2"/><path d="M1050.9 115.2l.8 5.6 1.3 8.8 5.2 7.3 4.7 6.7"/><path d="M1164.8 240.1l-5.4 2.9 -5.3-3.6 -7-1.1 -5.8 .9"/><path d="M1179.3 241.3l-4.6-7 .7-9.6 4-4.2 5.8-6.3"/><path d="M981.3 227.7l6.7 1.7 6.2-1.6 6-6 7.3 .6"/><path d="M1084.8 311.2l-.2-7.1 -5.4-6.3 -6.9-.1 -4.4 6.9"/><path d="M1139.7 163.3l-.6 10 1.9 7.3 1.8 6.4 3.7 3.4"/></g>
<g fill="none" stroke="#ffffff" stroke-width="2.3" stroke-opacity="0.95" stroke-linecap="round" stroke-linejoin="round"><path d="M1165.6 198.9l-2.1 10.2 -2.2 5.1 -5.1 2.3 -4.3-3"/><path d="M1183.9 170.1l-4.6 6.5 -5.9 6.1 -1.9 6.5 -3.5 8.5"/><path d="M1184.6 194.5l-5.6 4 -5.3 7.5 -7.1 0 -5.2 5.2"/><path d="M1121.8 310.4l1.5-5 2.5-7.3 3.6-5.6 2.7-9.5"/><path d="M1066.3 345.5l3.4-6 -.5-8 -2.7-9.9 -2.8-6.6"/><path d="M1008.4 216l4.5-8 2.3-7.5 .6-7 -3-4.8"/><path d="M1047.7 142.7l2.4 4.5 -1 9.6 -4.1 5.5 -4.2 5.5"/><path d="M1090.5 105.7l.5 8.6 -3.4 8.3 -6.1 2.3 -3.9 1.5"/><path d="M1141 341.1l-5-1.3 -7.7 .9 -3.7 3.2 -4.9-.4"/><path d="M1166.9 292.9l-3.9-4.8 -1.8-9.9 -1.7-5 -7-2.7"/><path d="M1018.9 316l3.2-6.3 .9-6.4 1.9-5 4.2-2.4"/><path d="M999 225.6l1.5-7.6 -4.1-7.5 1.5-8.3 -1.7-9.5"/><path d="M1035.5 343.9l2.5-4.1 .6-8.6 5.2-6.6 3.2-7"/><path d="M1124.4 323.9l-4.8-7.3 -.9-8.9 -5-8 -.1-7.4"/><path d="M1051.3 139.8l3.8 2.3 4.4 2.8 7.6-1.7 5.5 3.8"/><path d="M1101.7 133.4l-6 3.9 -2.7 8.9 .8 5.6 -3.4 6.5"/><path d="M1021.3 130.6l1.4 10.3 -3.6 7.8 -5.2 6.4 -2.2 6.4"/><path d="M1166.6 175.9l.4 6.9 2.2 7.1 1.9 5.6 3.6 5.8"/><path d="M990.2 187.9l5.4-.8 7.7-.9 3.5-4.4 2.2-5.8"/><path d="M1198.8 219.7l-5.8-.9 -4.8 4.8 -3.4 5.4 -5.7 6.7"/><path d="M1188.2 264.3l-6.2-3.1 -4.4 3.3 -1.8 5.2 -4.6 4.6"/><path d="M1030.8 127.8l6.6 5.1 5.1 .4 4.5 6.6 4.2 4.3"/><path d="M1003.3 305.9l4.2-7.9 6.6-4.3 4.5-2.5 6.4-2.4"/><path d="M1015 187.4l.4 7.3 3.3 7 5.3 2.5 6.1-4.2"/><path d="M1106.4 127.9l.9 9 1.6 5.6 4.6 6.1 3.1 3.3"/><path d="M1178.5 180.5l-2.5 4.7 -.3 7.8 -.2 5.7 .3 6.7"/><path d="M1025 175.8l5.9-5.9 .7-5.8 1.6-9.4 3.4-9.1"/><path d="M1085.4 120.8l3.3 6 2.6 6.2 -.9 5.9 -1.7 9.9"/><path d="M1021.2 200.9l6.3 5.8 5.4-1.2 5.7 4 5.4 .7"/><path d="M1132.9 318.8l.9-5.4 3.7-4.8 1.2-7.5 -1.9-4.8"/><path d="M1120.3 100.9l-3.2 7.7 1.4 7 3.9 5.7 3.9 3.7"/><path d="M1073.2 366.6l3.7-2.1 6.6-3.5 6.8-4.1 2.1-4.6"/><path d="M1129 138.9l.6 5.8 1.6 6.9 0 6.1 -3.1 5"/><path d="M1102.3 113.9l2.2 5.1 .4 6.5 -1.5 6.9 2.4 5.9"/><path d="M1158.9 169.8l-1.3 5.8 -6.7 5.2 -1.1 6.3 -2.3 7.2"/><path d="M1101.9 134.7l-5 5.8 -4.1 5.6 -.8 7.9 2 7.6"/><path d="M1132.2 303.4l-2-5.9 -4.7-4.9 -3-4.4 -2.6-8.1"/><path d="M1174.7 241.3l-5.3 1.9 -5.3-2.5 -4.1 2 -5.6-2.5"/><path d="M1102.1 129.1l-3.2 7.2 -1.6 9.6 .1 6.7 1.8 5.3"/><path d="M1085 318.7l6.1-6.5 5.4-1.7 6.8 1.9 2.7 7"/><path d="M1028.9 265.1l6-5.3 6-.7 4.1-2 5.4-2.7"/><path d="M1123.4 107.6l-6 1.5 -6.3 .2 -5.4 1.2 -6.5 3.6"/><path d="M1189.8 187.6l-2.6 6.4 -5.3 5.1 -6.7 1.5 -4.1-1"/><path d="M1152.3 140.1l-.5 5.5 1.7 6 5.6 3 4-2.1"/><path d="M1094 103.1l6.1 4.8 3.6 3 7.2 2.1 7.4-.9"/><path d="M1168.2 112.1l-4.1 3.1 -6.1 .8 -4.9-.2 -4.3 3.4"/><path d="M1015 187.5l5.3-.8 4.5-3 3.3-4.8 5.4-5"/><path d="M1056.9 139.7l1.1 7.9 4.8 5 3.4 6.2 4.7 7"/><path d="M992.4 222l5.9-1.6 4.8-5.1 .1-5.8 3.5-5.1"/><path d="M1136.5 112.4l-5.3 4.3 -2 6.5 -4.5 8.1 -2.4 6.5"/><path d="M1114.3 107.1l-.8 9.1 -5.3 4.9 -2.7 8.4 -4 6.9"/><path d="M1189.4 146.6l.5 7.8 5.6 7.3 3.1 6.3 5.3 2.9"/><path d="M994.1 233l5.8-.2 5.2 4 1.6 9.8 1.1 5.9"/><path d="M1009.7 310.7l.4-9.4 -.6-8.5 -5.3-6.7 -2-5.1"/><path d="M1001.5 309.6l7.2 1.3 7.3 .3 5.1 .5 5.5 6.8"/><path d="M1099.5 132l4 7.7 1.9 6.9 1.7 7.6 2.9 4.3"/><path d="M1000.4 241.2l5.3-2.5 7.1 2.7 4.4 1.7 3.8 7.8"/><path d="M1034.3 121l-4.6 8.5 -3.8 3.2 -3.1 6 -4.3 1.2"/><path d="M1017 226.2l6.8-1.8 4.7 5.4 4.5 3.1 5.2 1.8"/><path d="M1097.3 356.1l2.6-9 -1.7-9.6 1.8-9.1 -3.1-5.5"/><path d="M1163.4 205.8l-1.8 7 -5.4 4.8 -2.9 9 -6 6.1"/><path d="M1191.4 164l-7.1 1.1 -3.9-1 -5.4 3.3 -4.3-1.5"/><path d="M1192.6 240.2l-7.3 1.6 -3.8 7.4 -.4 9.4 -.1 7.6"/><path d="M1027.7 254.9l4.4-.2 3.5 5.1 7.3 2.3 3.3 8.8"/><path d="M1052.8 117.9l6.4 3.2 4.8-3.6 5.2 .3 4-2.9"/><path d="M1164.2 228.5l-6.9-2.3 -5.9-5.3 -7.8-1.6 -6.8-.6"/><path d="M1077.2 89.2l0 9.3 -3.2 7.5 -.5 10.3 -3.1 8.1"/><path d="M1006.3 176.4l5.9-3.4 5.8-2.9 7.3 .4 4.2 .9"/><path d="M1050.7 104.9l6.1 .3 5.9 .3 5.2 3.8 4.6 3.1"/></g>
<g fill="none" stroke="#ffffff" stroke-width="1.8" stroke-opacity="0.80" stroke-linecap="round" stroke-linejoin="round"><path d="M1138.5 184.6l-2.8-10.8 2.8-9.1 4.3-9.8 1.9-6.6"/><path d="M1066.4 304l-4.3 4.4 -5.1 9.3 -4.8 5.7 -6.1 7.2"/><path d="M1120.2 232.5l5.3 7.3 7.5 2.1 4-4.2 7.7-.1"/><path d="M1145.6 230.3l-2.9 5.7 -3.3 8.5 -3.5 5.2 -4.1 7.6"/><path d="M1129.1 170.2l6.8-2.8 5-.8 6.7-2.1 8.3 4.5"/><path d="M1146 225.5l-7.3 3.6 -6.9-1.2 -4.3-2.7 -4.8-2.2"/><path d="M1093.6 188.8l-1.7 6.2 2.8 7 3.8 3.4 6.5-2.7"/><path d="M1065.7 218.1l.1 6.8 3.2 7.2 4.6 3.8 4.6 4.8"/><path d="M1072.5 234.3l3.9 8.3 -1.5 11 .4 7.8 -1.5 7.6"/><path d="M1122.5 188.2l5.8 3.4 6.3-2.7 4.8-7 7.8-5.1"/><path d="M1030.6 198.8l-2.9-5.9 -8.1-2.8 -7.6 6.5 -7.4 3.6"/><path d="M1060.3 199l-2.3 5.6 -2.2 11 -.6 11.1 -3.3 6.2"/><path d="M1119.6 188.9l5-4 2.9-7.1 -.7-6.2 2-6"/><path d="M1095.9 263.3l2.1-5.4 -.9-8.1 -.6-7.3 -1.6-7.2"/><path d="M1083.4 179.1l-7.3-3.3 -7.2 4.5 -5.2 5.8 -4.7 2.7"/><path d="M1055.6 292.1l7.3 .5 6.8 3.9 6.7 4.8 4.8 8.4"/><path d="M1071.9 255.9l-5.9 .1 -4-4.7 -.9-6.7 3.9-8"/></g>
<path d="M1071.3 184.3c2.2-2 15.5 17.9 21.2 17.9c5.7 0 19-19.9 21.2-17.9c2.2 2 -2.8 24.5 -4.7 32.8c-1.9 8.3 -9.8 24.2 -9.5 29.8c.3 5.6 7.4 7.1 11.8 11.9c4.4 4.8 19.9 18.6 21.2 23.8c1.3 5.2 -7.7 15.7 -11.8 14.9c-4.1-.8 -15-17.2 -18.8-20.8c-3.8-3.6 -6.9-6 -9.4-6c-2.5 0 -5.6 2.4 -9.4 6c-3.8 3.6 -14.7 20 -18.8 20.8c-4.1 .8 -13.1-9.7 -11.8-14.9c1.3-5.2 16.8-19 21.2-23.8c4.4-4.8 11.5-6.3 11.8-11.9c.3-5.6 -7.6-21.5 -9.5-29.8c-1.9-8.3 -6.9-30.8 -4.7-32.8Z" fill="#fff"/>
<defs><filter id="sf4" x="-20%" y="-20%" width="140%" height="140%"><feGaussianBlur stdDeviation="2.5"/></filter></defs>
<g filter="url(#sf4)">
<ellipse cx="1071.3" cy="187.3" rx="9.4" ry="11.9" fill="#a8c4f4"/>
<ellipse cx="1113.7" cy="187.3" rx="9.4" ry="11.9" fill="#a8c4f4"/>
<ellipse cx="1071.3" cy="208.1" rx="8.2" ry="11.9" fill="#f08a6c"/>
<ellipse cx="1111.3" cy="205.2" rx="8.2" ry="11.9" fill="#f08a6c"/>
<ellipse cx="1069.0" cy="246.9" rx="11.8" ry="20.9" fill="#6e94ea"/>
<ellipse cx="1113.7" cy="243.9" rx="10.6" ry="20.9" fill="#6e94ea"/>
</g>
</g>
<use href="#sp2" fill="none" stroke="#1c1c1c" stroke-width="4.2" stroke-linejoin="round"/>
<text x="989.8" y="110.0" font-size="34.0" textLength="18.0" lengthAdjust="spacingAndGlyphs">R</text>
<text x="1180.7" y="110.0" font-size="34.0" textLength="15.3" lengthAdjust="spacingAndGlyphs">L</text>
<defs><path id="sp6" d="M1461.3 226l.8 3.1 .3 3.1 .2 3.1 .3 3.2 .2 3.1 -.1 3.2 -.7 3 -1.1 2.9 -1.2 2.8 -1 2.8 -.4 3 .1 3.2 .4 3.2 .3 3.3 -.3 3.1 -1.2 2.8 -1.8 2.4 -2.1 2.2 -1.8 2.3 -2.1 2.1 -3.4 1.2 -2.2 1.8 2.4 4.7 2.3 4.9 -.3 3.2 -1.7 2.2 -1.8 2.2 -1.5 2.4 -.7 2.9 -.2 3.5 -.1 3.7 -.4 3.4 -1.2 2.8 -2.1 2 -2.6 1.2 -2.9 .9 -2.4 1.3 -1.9 2 -1.3 2.6 -1.2 2.7 -2.1 1.7 -2.7 .9 -1.4 2.5 -1.1 3.2 -1.7 2.3 -1.7 2.2 -1.4 2.9 -1.2 3.4 -1.3 3.4 -1.8 2.6 -2.4 1.4 -2.9 .2 -3.2-.6 -3.1-.6 -2.7 .1 -2.3 1.2 -2 2.2 -1.9 2.5 -2.1 2.2 -2.3 1.4 -2.7 .4 -2.8-.4 -2.7-.4 -2.7-.1 -2.5 .4 -2.7-.5 -2.8-1.7 -2.5 .1 -2.1 3.1 -2.4 1.9 -2.6-1.1 -2.7-2.7 -2.6-2.9 -2.4-2 -2.4-.7 -2.4 .6 -2.4 1.6 -2.5 1.9 -2.6 1.6 -2.6 1 -2.5 .3 -2.5-.5 -2.4-1.2 -2.2-2 -2.1-2.4 -2.2-1.5 -2.5 .3 -3 1.6 -3 1.7 -2.9 .9 -2.7-.1 -2.5-.8 -2.3-1.4 -2.1-2 -1.9-2.1 -1.9-2.2 -2-2 -2.1-1.7 -2.1-1.5 -2.2-1.4 -2.2-1.4 -2.2-1.4 -2.2-1.4 -2.3-1.3 -2.4-1.2 -2.4-1.1 -2.2-1.6 -1.4-2.8 -.1-4.4 -.7-3.5 -2.6-.8 -2.8-.8 -1.6-2.2 -.5-3.6 0-3.9 -1.5-2.2 -3.4-.4 -3.2-.7 -1.7-2.2 -1-2.9 -.9-2.9 -1.5-2.4 -1.9-2 -2.4-1.8 -2.2-2 -1.7-2.4 -.8-3 -.1-3.4 .4-3.6 .3-3.5 -.3-3.1 -1.2-2.7 -1.9-2.3 -2.1-2.3 -1.9-2.5 -1.2-2.9 -.3-3.1 .2-3.3 .5-3.4 .4-3.3 -.1-3.1 -.4-3 -.5-3.1 -.5-3 -.1-3.1 0-3.2 .2-3.1 .2-3.2 .3-3.1 .6-3.1 1.2-3.1 2-3 2.2-2.8 1.7-2.8 .4-2.9 .1-3 1.8-2.7 -.3-3 -4.7-4.2 -2.4-3.8 .5-3.2 1.6-2.8 2-2.5 1.8-2.6 1.2-2.8 .4-3.1 -.1-3.4 -.2-3.5 .3-3.3 1.3-2.8 2.3-2.1 3.2-1.4 3.8-.9 3.8-.6 2-1.8 -.6-4 -2-5.3 -1.3-4.9 .2-3.7 1.5-2.7 2.1-1.9 2.3-1.6 2.1-1.7 1.8-2.1 1.4-2.5 1.4-2.6 1.6-2.3 2-1.8 2.2-1.4 2.3-1.2 2-1.6 1.7-2.2 1.2-2.9 1.1-3.3 1.1-3.2 1.5-2.7 1.9-1.9 2.2-1.3 2.3-1 2.2-1.3 1.9-1.9 1.7-2.4 1.7-2.5 1.9-2 2.3-1.1 2.5 0 2.7 .8 2.7 1.1 2.7 1.4 2.6 1.3 2.2-.4 1.6-3.5 1.3-5.4 1.7-3.9 2.4-.1 2.6 1.9 2.3 0 2.1-1.3 2.3-.8 2.2-1 2.2-1.6 2.2-1.6 2.7 13.1 3 55.6 1.3 9.4 1.3-6.3 2.8-53.2 2.7-14.1 2.2 .4 2.2 .7 2.3 .4 2.2 .2 2.3 0 2.3 0 2.3 .3 2.3 .5 2.2 .9 2.1 1.1 2.1 1.2 2.2 1.2 2.1 1.1 2.2 .8 2.2 .8 2.2 1 2.1 1.3 1.9 1.8 1.8 2.4 1.5 2.7 1.6 2.6 1.7 2.3 1.9 1.6 2.1 1 2.4 .7 2.4 .6 2.3 1 2.1 1.3 2 1.8 1.8 2 1.7 2.1 1.8 2 1.9 2 1.6 2.3 .1 4.4 -1.4 6.2 2.3 1 4.2-.9 2.3 1.4 1.9 2 2.2 1.7 2.3 1.7 2.1 1.9 1.8 2.3 1.2 2.8 .9 3.2 .7 3.1 .9 3 1.1 2.9 .6 3.1 0 3.5 .6 3.1 2.2 2.1 2.8 2 1.6 2.6 .7 3 .7 3.1 1.2 2.9 1.5 2.7 1.2 3 -.3 3.4 -2.1 3.8 -1.7 3.6 -.1 3.1 -.1 3.1 -1.3 3.3 -1.3 3.1 .1 2.9 1.7 2.8 2.7 2.7 2.5 3Z"/><clipPath id="sc5"><use href="#sp6"/></clipPath></defs>
<g clip-path="url(#sc5)">
<defs><radialGradient id="sg7"><stop offset="0" stop-color="#c6c6c6"/><stop offset="0.6" stop-color="#afafaf"/><stop offset="1" stop-color="#9c9c9c"/></radialGradient></defs>
<use href="#sp6" fill="url(#sg7)"/>
<g fill="none" stroke="#808080" stroke-width="4.6" stroke-opacity="0.60" stroke-linecap="round" stroke-linejoin="round"><path d="M1412.5 182.5l-5 .3 -7.4 3 -3.7 6.2 -8 .5"/><path d="M1257.3 243.8l5.2 1.8 4.6-1.5 4.3-1 6.4 .4"/><path d="M1298.5 318.5l3.2-5.4 4.9-4.1 2-6.2 3.6-7.8"/><path d="M1347.3 312.9l5.2-7.4 3.6-8.5 6-2.8 4.7-3.6"/><path d="M1265.2 241l5.2-4.2 4-1.6 4.5-.1 5 .4"/><path d="M1404.2 305.1l1.5-6.3 7.4-4.3 7.3 3.7 3.6 6.8"/><path d="M1446.8 158.4l-2.1 6.7 1.5 8.8 6.4 4.7 2.9 6.4"/><path d="M1444.7 247.6l-5.2 .3 -3.4 5.3 -6.5 4.4 -2.3 7.9"/><path d="M1269.9 216.3l4.7 3.7 1.7 5.7 2.1 8.4 3.4 6.5"/><path d="M1447.3 239.6l-4 1.5 -5.9 4.7 -4.6 1.2 -7.2 4.7"/><path d="M1257.8 181.1l.7 9.7 -2.4 8.3 -5.1 6.4 -6.6 2.6"/><path d="M1296.8 133.4l6.7 1.3 7-1.7 6.8-5 5.4-7.6"/><path d="M1264.4 221.4l6.1 4.4 3.8 3.1 5-1.1 6.9-.7"/><path d="M1455.9 263.1l-8.1 .4 -5.6-2.3 -5.1-.9 -5.4 1"/><path d="M1404.2 157.6l1.6 6.5 2.9 5.8 2.4 4.9 .1 5.7"/><path d="M1368.8 311.9l-.6-6.2 3.7-8 3.2-5.7 5.6-5.5"/><path d="M1441 220.3l-5.3-1.5 -6.4 5.7 -.7 6.3 -2.3 8.2"/><path d="M1251.7 294.4l1.7-5.9 -.8-9.4 .5-8.9 -4.8-7.3"/><path d="M1278.5 224.8l4.8-.7 3.6-5.2 4.9-1.9 6.6-3"/><path d="M1431.2 314.9l-1.1-5.1 -3.3-9.3 -5.2-7.2 -4.4-4.4"/><path d="M1352.9 311.2l2.2-7.6 2.6-8.3 -1.3-7.2 2.1-8.5"/><path d="M1391.7 134.5l-.7 9.6 -1.3 5.4 -3.3 7.4 -3.8 7.2"/><path d="M1288.4 105.1l3.9 7.3 6.9 2.1 4 4.6 4 5"/><path d="M1405.2 293l-4.3-.7 -7 4.7 -6.6 .4 -4.5 6.8"/><path d="M1363.5 356.8l-1.6-10.1 -5.3-6.4 -4.5-3.4 -4.5-4.1"/><path d="M1258.5 242.5l6.4 .7 4.4 3 7.3-2.9 5.2 1"/><path d="M1358.9 371.2l-.6-5.7 2-5.5 2-6.1 5.5-3.4"/><path d="M1328.2 309l-3.8-8.4 -2.6-7.3 -4.9-2.3 -4 .4"/><path d="M1323.1 365.9l3.9-2.6 4.8-4.2 .7-9.5 4.4-5.7"/><path d="M1268.5 223.2l3.9-1.2 4.3 3.8 1.6 7.1 2.7 4.4"/><path d="M1366.1 90.5l-2.9 5.8 -1.5 8.9 3.7 5.9 7.8 .4"/><path d="M1417.5 249.5l-5-8.2 -1.8-6 -2.5-5.6 -6.7-4.6"/><path d="M1361.7 309.8l-2.4-6.3 -.5-6.5 -5-8 -4.8-.7"/><path d="M1401.6 340.4l3.4-6.5 4-4 6.3-4 2.6-6.1"/><path d="M1321.4 108.5l-2.4 4.6 -5.2 5.3 -4.9-.9 -5.2 1.1"/><path d="M1318 92l2.9 6.9 5.5 4 6.1-1.2 7.7-3.2"/><path d="M1277.9 283.8l-2.3-9.2 -1.4-6.1 .6-6.5 .8-9.8"/><path d="M1285.6 96.4l4.8 6.5 3.3 8.3 5.8 6.3 6.3-1.2"/><path d="M1293.2 334.2l5.8-4.2 7.6-2.5 4-1.7 6.5-2.6"/><path d="M1374.1 96.5l-2.6 6.1 1 7.9 -.9 6.3 -4.3 3.4"/><path d="M1337.2 308.4l2.9-5.6 3.4-5.7 1.7-5.2 7-4.3"/><path d="M1393.3 133.1l.3 9.9 3.2 8.4 -3.3 9.6 1.6 6.8"/><path d="M1397 138.6l-1.4 5.9 1.7 9 -.7 6.5 -3.9 4"/><path d="M1392.6 96.3l-.1 7.2 4.8 7.4 5.4 7 6.9 3.1"/><path d="M1391.9 347.2l-3.8-4.3 -3.6-3 -4.3-6.5 -6.9-1.6"/><path d="M1278.3 333.6l-2.2-7.4 -2.2-7.8 -4.3-6.2 -4.3-7.9"/><path d="M1303.9 131.7l6.2-1 6.6-.8 4.6-8.3 5.5-6.2"/><path d="M1439.5 199.5l-4-5.4 -6.8-3.8 -4.8-.8 -6-1"/><path d="M1329.9 345.8l-3.1-9.3 -.3-6.3 4.1-6.4 6.7-3.7"/><path d="M1332.2 310.4l2.5-5.9 6.6-4.5 2.3-5.7 -1.6-6.7"/><path d="M1257.2 220.1l3.1-3.8 7.2-3.2 4.5 2.8 6.9 3.7"/><path d="M1270.1 191.6l4.9-4.1 4.7-.3 7.1-1 3.8-6.2"/><path d="M1444.2 241.9l-6.9-4.8 -3.8-3.3 -7.4 .9 -3.8-3.2"/><path d="M1284.8 151.9l.9 8.5 1.4 5.3 -.8 10 1.7 9"/><path d="M1323.2 332.6l-2.1-8.1 -4.5-6.5 -5.3-2.4 -2.4-5.9"/><path d="M1311.9 145.2l4.9 1.9 6.5 .4 4.8-3.9 5.4-1"/></g>
<g fill="none" stroke="#ffffff" stroke-width="2.3" stroke-opacity="0.95" stroke-linecap="round" stroke-linejoin="round"><path d="M1368.8 333l-2.4-6.6 -5.2-5.5 -5.5-.7 -7.1 2.5"/><path d="M1436.2 229.9l-5.7-5.5 -5.9-2.2 -6.9-1.8 -5.1 .7"/><path d="M1422.2 252.1l-5.4-4.9 -2.6-7.9 3.3-9.2 .9-7.2"/><path d="M1399.9 352.5l.5-6.4 -3.9-7.3 -1.4-9.4 3.4-6.3"/><path d="M1330.1 95.7l3.1 7.4 5.2 2.8 3.3 8.5 5.2 4.6"/><path d="M1240.5 209.2l7.5 2.2 4-2.9 4.9-6.8 7.7-.5"/><path d="M1365.7 341.1l-6.7-3.8 -7.7-1.7 -4.1 4.2 -.6 6.3"/><path d="M1304.9 143.4l1.8 7.3 3.2 6.4 6.4 2.8 4.4 2.3"/><path d="M1323.8 342l-.4-6.3 -2.2-7.4 -3.6-3.8 -7.5-1.4"/><path d="M1268 328.6l5.1-3.9 3.1-3.6 6.1 1.1 3.3 3.8"/><path d="M1246.4 207.4l4.1-1 4.3-7.2 -.8-7.7 2.1-5.3"/><path d="M1336.1 329.4l3.7-5.8 6.4-5.7 2.7-4.7 2.2-9.2"/><path d="M1328.7 340l4.9-7.3 3.4-4.5 4.3-3.4 .6-6.6"/><path d="M1319.7 351.9l-2-6.8 3.1-8.9 .7-5.9 -.7-7.5"/><path d="M1283.2 184.8l6.8-1.5 5 3.2 1 5.2 2.1 9.6"/><path d="M1297.6 117.9l6.7 1.3 3.3 5.9 -1.3 6 -3.7 5.2"/><path d="M1414.5 174.4l-4.2 5.5 -1 10.2 3.8 6.9 4 2.2"/><path d="M1421.1 153.3l-3.9 3 -6.7-3.3 -4.1-2.4 -3.5-7.7"/><path d="M1381.3 101.8l3 5.7 4.9 2.6 6.9 4.4 3.3 8.3"/><path d="M1307.5 125.8l5.3 .3 6.3-6 4.9 1.1 7.7 1.6"/><path d="M1438.2 256.8l-7.3-2.1 -4.2 4.2 -2.3 4.9 -4.9 2.6"/><path d="M1444.5 220.7l-3.1 6.7 -2.3 4.7 -7.1 1.5 -4 1.3"/><path d="M1356.5 312.8l4.1-3.9 6.6 2.3 4.7 5.8 6.4 .1"/><path d="M1418 159.3l-2.6 9.2 2.9 7.5 -.4 8.1 3.6 5.5"/><path d="M1440.3 202.5l-4.3-6.3 -.9-9 2.4-4.9 3-5.3"/><path d="M1244.1 199.2l6 5.1 5.9 .5 4.7-2.5 3.7-6.4"/><path d="M1410.9 174.8l-4.7 .8 -4.8 7 -3.1 9 -2 7.5"/><path d="M1346.4 342.5l.9-5.5 5.2-4.6 3.2-3.5 7.6-1.4"/><path d="M1347.9 328.9l.2-6.3 -3.3-8.5 -4.1-2.9 -2.7-8.6"/><path d="M1432.1 298.3l-5.9-1.3 -4.3 1.4 -6 .4 -5 8.2"/><path d="M1288.1 116.4l5.6-.2 5.8-4.3 1.4-9.1 -.2-9.8"/><path d="M1273.7 250.4l5.3 4.3 5.6 1.8 7.2-.9 6.9 0"/><path d="M1380.4 311.3l3-8.3 -.1-6.8 -2.5-9.6 -3.1-4.1"/><path d="M1447.1 167l-4.8 2.6 -3.3 5.6 -6.5 1.7 -5.4 4.1"/><path d="M1323.8 97.1l2.8 8.3 3.6 5.8 .7 6.8 -.1 7.3"/><path d="M1398.7 115.1l0 8 -4.3 5 -5.8-.6 -4-1.6"/><path d="M1445.1 303l-4.6-.2 -5.7 .7 -7.8 2.6 -5.1 .4"/><path d="M1287 300l1.9-7.3 5.3-3.8 5.3-6.8 6.2-1.3"/><path d="M1451.4 225.1l-5 3.3 -5 6.6 -2.3 7 .8 8.8"/><path d="M1261.6 172.7l3.3-4.1 2.2-8.4 -3-6.2 -5.1-4.1"/><path d="M1396.8 156.2l-4.2-.8 -5.6 5.7 -5.6 1.5 -4-4"/><path d="M1398.5 336.4l-5.6-.2 -5.7-4.9 -4.1 .7 -3.7 3.5"/><path d="M1261.8 217.2l6.5 3.1 7.5 2.8 5.7-4.2 .9-5.3"/><path d="M1398.7 288.7l-7.4-2.4 -5.2-3.5 -2.3-5.1 .3-7.3"/><path d="M1403.8 166l-7.8 2.1 -3.5-2.6 -4.6-6.2 -3.3-7.3"/><path d="M1288.9 132.7l3.5 3.8 5.9 3 7.6-2.6 6.5-2.9"/><path d="M1256.1 288.6l5.7-2.3 4.8-.6 6.2 1.3 6.2-4.8"/><path d="M1250.3 140.4l7.5 .7 6.3 .4 5.5 .7 3.7 3.7"/><path d="M1280.1 166.7l4.8-2 5.7-4.3 6.9-5.1 4.4 .3"/><path d="M1366.5 122.3l.9 6.1 -2.9 6.1 -6 1.6 -5.6 5.5"/><path d="M1243.2 161.4l3 3.5 4.5 5.4 4.4 2 5.3 .1"/><path d="M1305 126.1l3 9 6 6.2 4.4 2.8 2.5 6.6"/><path d="M1279.8 122.7l4.9 4 1.6 6.4 5.4 5.3 3.4 3.6"/><path d="M1400.1 338.9l-7.7 .5 -7.4-.8 -5.3 3.4 -7.7 2.2"/><path d="M1270.2 133.5l3.1 5.2 6.4 4.9 3.3 5.6 6.5 5"/><path d="M1406.6 345.8l-4.5-7.5 -4.5-.4 -3.5-3.9 -3.4-3.4"/><path d="M1294.1 293.4l4.5-6.9 -.5-8.9 1.2-10 .7-5.9"/><path d="M1405.5 305l-2.9-7.9 -6.7-3 -5.3 2.2 -5.3 4.1"/><path d="M1411.3 141l2 9.2 -1 5.6 -1.5 8.2 -2.7 4.2"/><path d="M1330.3 101l-1.4 8.1 -2.1 5.1 -1 9.7 -1.2 8.1"/><path d="M1368.7 340.4l-3.8-3.9 -1.3-7.3 1.2-5.9 -2.1-6.2"/><path d="M1327.1 333.6l-.8-7.6 -3.4-8.6 2.8-8.9 4-4.1"/><path d="M1373.2 82.7l1.1 7.4 -3.3 5.6 -5.4 2.1 -4-1.9"/><path d="M1275.6 122.2l4.3 7.6 0 10 2.1 5.9 1.7 6.1"/><path d="M1356.9 112l-1 7.7 -.7 6 .6 5.9 3.5 5.5"/><path d="M1292.7 156l5 3.3 7.1 2.2 4.2-.9 6.2 2.1"/><path d="M1436.5 220.2l-4.7 5 -5.4-1.2 -4.2-6.2 -1-8.1"/><path d="M1444.6 240.3l-5.8-1.8 -6.2-6.1 -4.6-1 -4.1-.9"/><path d="M1248.6 183.2l6.5-4.2 4.4-7.8 2.2-7.4 -.3-5.6"/><path d="M1417.9 228.8l-5.6-3.5 -6-6.1 -6.7-4.6 -5.6-1.7"/></g>
<g fill="none" stroke="#ffffff" stroke-width="1.9" stroke-opacity="0.80" stroke-linecap="round" stroke-linejoin="round"><path d="M1299.4 194.6l3.8-5.9 8.6-1.6 5.5 .9 7.5 1.3"/><path d="M1283.8 252.8l-5.3-3.8 -6.7 2.6 -7.4-1.2 -4.8-5.8"/><path d="M1334.9 190l9.2-.4 4.4 4.5 8.2 0 5.4-3.5"/><path d="M1310 216.2l-1.1 6.9 -3.7 4 -6.7 5.8 -1.8 6.3"/><path d="M1380.6 240.1l.1 7.1 .5 8.7 0 8.2 2.8 10"/><path d="M1303.8 276.4l8.5-1.9 6.9-2.6 5.6 3.3 7.8-1.9"/><path d="M1373.6 231l-6.7-5.6 -5.6-4.7 -1.7-7.2 -3.1-11.1"/><path d="M1359.5 176.9l2.7 6.1 6 6 3.2 8.8 -1.4 11.6"/><path d="M1403.7 186.6l.1-9.5 2.1-10.8 -1.9-10 -3.1-5.2"/><path d="M1357.1 262.7l4.5 2.8 6.8 5.9 5.7 9.4 -.5 6"/><path d="M1358.5 188.4l3.5 4.2 8 2.8 5.2 .2 7.5 4.7"/><path d="M1348.8 143.6l3.4 4.1 6.8 4.2 5.1 1 6.2 1"/><path d="M1375.4 244.4l4 4 2 6.3 3.1 8.3 6.1 5.9"/><path d="M1326.1 267.7l-3.5 6.4 -2.4 5.2 -.8 8.2 2.8 9.7"/><path d="M1385.9 216.7l4.9 9.9 7 7.5 8.4-1.4 5.3 2.9"/><path d="M1298.7 277.8l7.5-.7 4.6 4.2 2.5 7.9 -.1 7.7"/><path d="M1352.2 293.3l7.6-4.3 2.8-7.6 -1.5-10.5 -4.8-3.8"/></g>
<path d="M1328 163.4c1.6-2 13.9 6 19 6c5.1 0 17.4-8 19-6c1.6 2 -5.2 16.5 -7.1 20.9c-1.9 4.4 -5.5 9.5 -7.1 11.9c-1.6 2.4 -3.5 6 -4.8 6c-1.3 0 -3.2-3.6 -4.8-6c-1.6-2.4 -5.2-7.5 -7.1-11.9c-1.9-4.4 -8.7-18.9 -7.1-20.9Z" fill="#fff"/>
<path d="M1330.3 261.8c3.2-4 12.2-6 16.7-6c4.5 0 13.5 2 16.7 6c3.2 4 8.1 17.5 7.1 23.8c-1 6.3 -11.1 19 -14.3 23.8c-3.2 4.8 -7 12 -9.5 12c-2.5 0 -6.3-7.2 -9.5-12c-3.2-4.8 -13.3-17.5 -14.3-23.8c-1-6.3 3.9-19.8 7.1-23.8Z" fill="#fff"/>
<defs><filter id="sf8" x="-20%" y="-20%" width="140%" height="140%"><feGaussianBlur stdDeviation="3.0"/></filter></defs>
<g filter="url(#sf8)">
<ellipse cx="1328.0" cy="181.3" rx="11.9" ry="20.9" fill="#f08a6c"/>
<ellipse cx="1370.8" cy="181.3" rx="11.9" ry="20.9" fill="#f08a6c"/>
<ellipse cx="1347.0" cy="240.9" rx="40.5" ry="26.8" fill="#6e94ea"/>
<ellipse cx="1304.2" cy="211.1" rx="9.5" ry="29.8" fill="#8cb0f0"/>
<ellipse cx="1392.2" cy="211.1" rx="9.5" ry="29.8" fill="#8cb0f0"/>
</g>
</g>
<use href="#sp6" fill="none" stroke="#1c1c1c" stroke-width="4.2" stroke-linejoin="round"/>
<defs><path id="sp10" d="M1715 230l.7 3.1 1.1 3.1 1.1 3.2 .6 3.2 -.7 3.1 -2 2.8 -1.4 2.8 .4 3.2 .4 3.2 -.5 3 -1 2.8 -1.1 2.8 -.9 2.8 -.8 2.8 -.8 2.9 -1.1 2.6 -1.8 2.4 -2.6 1.8 -3.2 1.5 -2.9 1.5 -1.7 2 -.2 2.9 .7 3.6 .9 3.8 .6 3.6 .2 3.5 -.1 3.4 -.3 3.3 -1.4 2.4 -4.4-.2 -5.7-1.6 -.5 2.9 2.6 6.2 .1 3.9 -1.4 2.4 -1.2 2.7 -.8 3.1 -.7 3.4 -1 3 -2.1 1.8 -3 .4 -2.6 .9 -2.1 1.5 -3.3-.3 -3.8-1.3 -1.2 2.8 .8 6.5 .1 5.5 -1.2 3.6 -1.8 2.5 -2.1 1.9 -2.3 1.4 -2.4 1.1 -2.5 1.2 -2.3 1.5 -2.2 1.6 -2.2 1.9 -2.2 1.8 -2.3 1.7 -2.5 1.4 -2.5 .9 -2.7 .3 -2.9-.6 -3.3-2.6 -3.6-5.7 -2.6-.5 -1.4 7.6 -2.1 4.2 -2.6 .5 -2.7-.7 -2.7-1.4 -2.8-2.1 -2.6-2.9 -2.5-2.4 -2.5-.2 -2.5 2.1 -2.6 2.4 -2.6 1.7 -2.6 .6 -2.6 .1 -2.6-.1 -2.6 0 -2.7 .2 -2.7 .3 -2.7 .2 -2.7-.1 -2.6-.7 -2.4-1.3 -2.3-1.9 -2.1-2.1 -2.1-2.2 -2.1-2.1 -2.2-1.6 -2.3-1.4 -2.3-1.2 -2.3-1.2 -2.3-1.3 -2.2-1.6 -2-1.8 -2-1.9 -1.9-1.9 -2-1.8 -2.1-1.7 -2-1.8 -1.9-1.8 -1.7-2.2 -1.3-2.8 -.5-4 .3-4.8 0-4.1 -1.8-1.7 -3.9 .8 -4.2 .9 -3.4-.1 -2.3-1.5 -1.6-2.3 -1-2.9 -.8-3.1 -.7-3.1 -.9-2.8 -1.5-2.3 -1.9-2 -2.2-1.9 -1.8-2.1 -1-2.8 .4-3.7 1.5-4.4 1.8-4.3 .7-3.5 -1.2-2.5 -2.8-1.5 -3.5-1.4 -3.4-1.6 -2.5-2.1 -1.8-2.5 -1.4-2.7 -1.3-2.8 -1.5-2.8 -1.5-2.8 -1.5-2.8 -1.2-3 -.7-3.2 .1-3.4 .7-3.4 .9-3.4 1-3.3 .5-3.3 -.1-3.2 -.5-3.2 -.9-3.2 -.7-3.3 -.4-3.3 .3-3.3 .8-3.2 1.1-3.2 1.5-3.1 1.6-3 1.9-2.8 2.6-2.6 3.6-2.2 4.7-1.7 5.7-1.1 6.1-.7 5.8-.4 4.6-.6 2.8-1.3 .7-2.1 -1.4-3.2 -2.8-4.2 -3.7-4.9 -3.6-5.2 -2.8-5 -1.6-4.5 -.4-3.7 .5-3.1 1.1-2.7 1.2-2.7 1-2.7 .8-3.1 .6-3.3 .5-3.5 .8-3.3 1.1-3 1.5-2.5 1.9-1.9 2.4-1.4 2.5-1.1 2.7-.8 2.7-.5 3 0 3.2 .4 2.6-.2 1.1-2.7 -.1-5.2 -.2-5.7 .6-4.5 1.3-2.9 2-1.7 2.4-.7 2.7-.1 2.6 .3 2.6 .1 2.3-.6 1.9-1.4 1.7-2.5 1.5-2.9 2-1.7 2.5 .5 2.1-1.2 2.2-.5 2.5 .9 1.8-2.5 1.7-3.3 2.1-1.1 2.3-.2 2.2-.7 2.1-1.3 2.2-1.5 2.1-1.6 2.2-1.3 2.3-1 2.2-.9 2.8 14.4 3 59.9 1.2 8.2 1.2-8.8 3.1-60.7 2.7-14.4 2.3 1.6 2.2 1.8 2.2 1.7 2.2 1 2.3 0 2.4-.8 2.5-1.2 2.6-1.2 2.6-.7 2.4 .3 2.2 1.2 2.1 1.9 2 2.2 1.9 2.3 2 2 2 1.7 2.1 1.4 2.2 1.3 2.1 1.3 2.2 1.1 2.3 1.1 2.3 .9 2.4 .9 2.4 .9 2.3 1.1 2.1 1.8 1.8 2.3 1.5 2.9 1.2 3.1 1.3 3.1 1.4 2.7 1.8 2.1 2.1 1.6 2.4 1.3 2.5 1.3 2.3 1.5 2.1 2 1.6 2.5 1.3 2.8 1.2 3.1 1 3 1.2 3 1.1 2.9 1.2 2.9 .9 3 .5 3.4 0 3.7 -.7 4.2 -1.5 4.5 -2.1 4.8 -2.7 4.9 -3 4.9 -3.2 4.6 -3.4 4.5 -2 3.5 1.3 1.9 3.1 1 3.6 1.1 4.4 .9 5 1 5.3 1.1 5.2 1.5 4.8 1.8 3.9 2.2 2.7 2.7 1.4 3 -.3 3.4 -2.4 3.5 -3.1 3.4 -.5 3.1 1.2 2.9Z"/><clipPath id="sc9"><use href="#sp10"/></clipPath></defs>
<g clip-path="url(#sc9)">
<defs><radialGradient id="sg11"><stop offset="0" stop-color="#c6c6c6"/><stop offset="0.6" stop-color="#afafaf"/><stop offset="1" stop-color="#9c9c9c"/></radialGradient></defs>
<use href="#sp10" fill="url(#sg11)"/>
<g fill="none" stroke="#808080" stroke-width="4.8" stroke-opacity="0.60" stroke-linecap="round" stroke-linejoin="round"><path d="M1678.3 167.7l-2.2 6.7 1.2 7.2 3.4 4.1 2.8 4.2"/><path d="M1521.8 337.7l6.9-3.8 6.8 3.6 8.2-2.4 4.5-3.8"/><path d="M1660.4 187.4l-.3 10.3 -3 4.3 .7 6.8 4.2 6.4"/><path d="M1647.9 94l-6.2-.7 -7-1.6 -6.2-4 -8-.1"/><path d="M1527.7 153.1l7.7 3.7 1.4 5.4 2.8 7.9 2.3 4.6"/><path d="M1653.6 308.6l-1.1-9 .4-6.1 -3-4 -7.2-.5"/><path d="M1679.5 265.3l-8.2 .3 -5.6-.1 -3.5 5.1 -3.7 2.9"/><path d="M1694.7 222.7l-4.2-4.8 -5.6 1.1 -7.8-.1 -7.6 3.5"/><path d="M1583.9 321.9l1-9.6 2.2-7.5 4.7-2 4.3-2.7"/><path d="M1656.3 320.4l-5.7-2.3 -6.8-2.4 -4.8-4.3 -5-4.3"/><path d="M1603.4 313.5l-4.9-3.6 -5.7-4.5 -3.9-4 -2.9-5.2"/><path d="M1602.7 372.7l4.1-2.3 4.5 2.4 7.9-1.4 5.1-6.1"/><path d="M1556.7 133.6l4.6 1.6 7.9-1.5 5.3 2.1 8.1 2.2"/><path d="M1540.1 306.7l5.6 1.3 5.6 1.6 3.3 5 .5 6.1"/><path d="M1615.1 143.1l1.1 10.5 -.2 7.9 -4.5 7.3 -5.2 6.5"/><path d="M1515 279.1l4.8-4 .9-8.5 1.2-5.4 1.9-4.9"/><path d="M1676.9 169.7l0 7.8 3 8 4.8 2.1 1.6 5.7"/><path d="M1629.4 369.2l-3.7-5.6 -1.3-7.5 -4.1-8 -5.7-2.2"/><path d="M1683.2 252.8l-4-1.5 -5.4-4.1 -7.5-1.5 -4.4 4.6"/><path d="M1528.2 206.9l7.3 0 4.7-4.9 7.8-3.1 5.4 3.7"/><path d="M1700.8 276.4l-2.6-10 -1.1-7.5 -3-5.6 .5-6.8"/><path d="M1545.6 144.1l3.9 2.2 4.6 2.1 4.8-3.3 2.7-8.4"/><path d="M1593.3 334.9l3.2-7.9 4.9-3.9 5.6-7.5 5.6-3.2"/><path d="M1686 317.5l-6.1 5.2 -7.7 3.8 -5-2.7 -2.8-7"/><path d="M1631.4 344.6l2.1-8.1 2.4-5.5 .6-9.1 5-4.4"/><path d="M1702.6 279.3l-2.8 4.7 -4 2.6 -4.7-1.5 -4-3.9"/><path d="M1690.9 206.8l-4.3 0 -6.6 4.3 -6.2-.3 -5.9 4.5"/><path d="M1672.1 304.5l-2.1-5.8 -5.9-7.1 -3.7-9.3 -2.4-5.3"/><path d="M1660.4 161l-1.3 8.3 -2.6 7.5 -2.3 9.9 -5.6 6.9"/><path d="M1667.7 167l.3 9.9 -3.4 4.3 -4.2 5.5 -7.1-.5"/><path d="M1529.2 109.5l4.7 2.3 4 5.8 5.5 6.4 3.7 3.4"/><path d="M1630.5 316.6l-5.5-7.2 -4.9-1.7 -4-7.1 -6.7-2.5"/><path d="M1664.7 337.3l-5.9 2.5 -6.2-3.8 -7.2 1 -7.4 2.1"/><path d="M1552.8 98.5l4.7 4.9 5.3 1.1 4.6 6.4 -.8 7.7"/><path d="M1630 128.5l2.7 7.8 -2.5 7.8 -2.2 5.5 -6.3 2.6"/><path d="M1596.5 102.8l-5.4 7 -2.9 8.8 -6.8 5.5 -7.6-.5"/><path d="M1514.5 297.3l4-2.4 2.6-6.6 1.3-7.8 3.2-5.2"/><path d="M1487.7 243.7l6.3-3.4 3.7-9.3 5.6-3.3 5.4-2.3"/><path d="M1702.5 151.7l-6.3 6.5 -1 7.1 -1.5 9.6 .4 8.6"/><path d="M1518.9 163.2l-.1 5.5 -4 4.6 -3.9 5.2 -2.9 8.5"/><path d="M1628.1 349.6l4.5-6.2 .7-8.3 -1.2-8.5 .9-6"/><path d="M1610.8 376.9l-2-5 -4.2-2.6 -4.5-2 -4.7 2"/><path d="M1688 201.6l-5.6-7.1 -5-1.3 -3.9-4 -.7-10.6"/><path d="M1608.6 120.3l-3.1 5.6 -6.8 5.8 -6.3 2.6 -4.1 1.2"/><path d="M1668.4 243.5l-7.6-2.3 -5.6 1.7 -7.2-.2 -3.5-4.8"/><path d="M1530.8 310l3.6-6.4 4.4-4.4 5.5 .7 4.2-3.3"/><path d="M1694.3 311l-5.3-1.3 -3.2-7 -.7-10 -1.2-8.5"/><path d="M1681.2 174l-6.8-4.1 -4.3-6 1.3-10 -.1-5.6"/><path d="M1710.8 205.6l-4.5-7.3 -5.5-2 -5-8.5 -6.8-1.8"/><path d="M1608.5 321.1l-7.3-3.4 -6.5 4.9 -4 8.1 -5.2 6.5"/><path d="M1581.8 146.7l-1.6 5.8 -1.3 8.9 -1.8 8.6 -3.3 5.3"/><path d="M1713.3 262.2l-5.8-6.4 -1.4-10.3 -6.4-5.9 -7.3 .3"/><path d="M1504.8 313l7.2 2.8 2.8 4.9 5.7 5.6 5.8-1.8"/><path d="M1639.8 327.3l-2.8-9.2 -5.3-6.7 -8-.7 -4.7-2.9"/><path d="M1661.9 299.1l-1-6.4 2.4-7.5 4.5-6.9 .8-9.5"/><path d="M1598.7 346.6l-1.9-5 1.8-6.8 4.9-6.9 2.2-4.7"/><path d="M1707.5 257.1l-3.8 3.4 -2.7 4.2 -3.7 4.9 -4.9 7"/><path d="M1566 305.9l3.2-5.8 4-8.5 4.1-6.3 4.7-4.5"/><path d="M1638.4 141.1l-2.4 9.7 -2.8 8.5 1.8 10 4.8 7.5"/></g>
<g fill="none" stroke="#ffffff" stroke-width="2.4" stroke-opacity="0.95" stroke-linecap="round" stroke-linejoin="round"><path d="M1695.9 202.8l-6.2-2 -8.3-1 -5.1 .8 -4.5-.7"/><path d="M1604 125.1l-1.8 8 1.5 5.2 6.2 6.3 4.9 6"/><path d="M1672.7 323.8l-4-4 -5-.1 -6.1-2.1 -3.5-2.9"/><path d="M1533.8 191.6l6.5 2.3 4 5.2 3.7 4.3 6.3-.6"/><path d="M1623.4 113.2l.5 6.9 -3.8 6.2 -4.1 1.8 -4.7 8"/><path d="M1506.9 165.5l7.4-1.7 4.3-1.1 6.2-5 4.9-1.8"/><path d="M1651.4 341l.1-6.1 -5.1-6.1 -5.3-5.9 -4.7-.4"/><path d="M1658.5 332.2l.5-8.4 3.7-3.7 8.1-.1 5.2 .9"/><path d="M1677.3 337.6l-5.9-7 -3.5-9.4 -4-3.9 -8.1 .5"/><path d="M1674.7 191.1l-5.8 7.2 -4.5 3.8 -4.7 1.3 -6.8-.5"/><path d="M1602.3 325l-1.3-6.9 1-5.8 -3.1-7.5 -3.5-6.3"/><path d="M1564.6 345.7l4.3-.3 2.9-4.5 4.5-3.5 6-6.6"/><path d="M1558.4 342.4l4.6-7.2 2.9-5.6 .8-10.6 1.7-4.9"/><path d="M1603.5 359l.8-9.5 .3-6.4 1.3-10.2 2.4-7.9"/><path d="M1620.7 363.9l2.2-7.4 1.4-5.6 -2.4-5.2 2-8.3"/><path d="M1525.3 182.6l6.3 3.2 4.1 2 5.1 5.1 .8 5.9"/><path d="M1593.5 121.3l-.4 6.9 -4 4.2 -6.3 4.1 -5.1 3.6"/><path d="M1675.8 113.3l-1.2 9.8 .4 6.1 6 6.7 .9 6.8"/><path d="M1595.1 341.4l-1.2-8.1 1.6-10.3 4.6-7.7 5.8-3.7"/><path d="M1630.4 99.4l-1 8.2 -4.5 3.6 -4.9 .3 -5.5 1.5"/><path d="M1658.5 113.4l-4.1 7.1 .1 6.9 -.6 6.1 .5 6.6"/><path d="M1516.4 212.4l7.4 1.6 6.1-6.1 4.5-2.5 4.6 1.9"/><path d="M1680.4 241.7l-4.9-4.4 -3.3-4.7 -7.8-2 -3.7-8.9"/><path d="M1486.1 221l4.2 4.2 2.2 7.5 -2.1 8.3 -2.8 4.3"/><path d="M1512.8 190.6l5 5.7 6.7 .4 4.3 6.8 4.7 0"/><path d="M1684.6 262.3l-4.3-2.2 -4.9-3.8 -2.5-4.6 -.8-8.8"/><path d="M1574.4 377.3l5.9-.2 6.2-.8 4.1-3.2 7.1 3.3"/><path d="M1595.1 123l.8 9.4 4.7 8 -1.3 7.8 -3.4 5.1"/><path d="M1528.4 168.3l1.2 10.2 5.2 6.4 4.6 5.1 2.3 6.5"/><path d="M1523.2 218.4l4.3 .6 7 5.2 4.7 8.8 .9 7.8"/><path d="M1701.6 156.3l-6.3-5.6 -1.7-6.5 -3.6-6.6 -6.7-1"/><path d="M1527.2 217.3l7.7-.6 5 4.1 4.4 1.4 6.3 4.6"/><path d="M1575.8 346.9l-1-8.5 -2.8-5.9 -4.1-1.4 -3.4-7.1"/><path d="M1659 289.5l-6.9-5.8 -8.1-1.8 -6.4-4.5 -7.3-2.8"/><path d="M1527.6 300.5l5.4-4.9 4.1-7.7 4.8-3 6.9 .1"/><path d="M1504.5 315.3l.2-10.6 2.8-6.6 2.8-8 1.8-9.5"/><path d="M1512.1 251.3l2.8 6 .8 7.7 3.3 5.1 -.2 7.8"/><path d="M1688.4 288l-3.2-5.4 -3.5-6.5 -1.4-7.2 -1.4-9.7"/><path d="M1628.2 321.8l-4.2-7.7 .2-5.9 -2-8.9 -1.5-6.8"/><path d="M1638.4 359.7l-3.8-5 -5.1-6.4 -8 1.3 -6.1 6.6"/><path d="M1589.9 129.8l-6 7.5 -4.9 8.5 .2 6.9 -5.4 6"/><path d="M1557.7 308l2.7-6.3 .6-6.6 2-7.4 .1-8.1"/><path d="M1576.6 352.1l-2.1-7.5 -1-7.9 -.4-9.2 1.8-9.9"/><path d="M1526.7 165.5l2.7 9.7 3.7 5.3 7.6 1.9 6.8-3.4"/><path d="M1610.4 331.2l2.9-4.1 3.1-5.9 7.9-1.9 5.4-6.6"/><path d="M1709.8 226.6l-3.2-4.5 -.1-7.3 -5.5-7.3 -3.3-4.8"/><path d="M1552.6 303.6l.7-6.1 4-7.7 5.2-2 5.2-4"/><path d="M1585.6 361.5l-.1-8.9 -2.2-5.7 2.8-8.6 -1.8-5.7"/><path d="M1525.2 266.2l1.6-6 1.9-5.2 4.9-2.1 5.2 3"/><path d="M1658.2 356.9l-1.6-7.7 -3.9-5.8 -1.9-8.4 -3.5-5.4"/><path d="M1665.7 145.9l-1.8 9.5 3 7.4 5 4.9 2.8 7.1"/><path d="M1551.9 310.4l-1.6-9.3 -3.5-5.8 -.6-5.7 -.1-7.6"/><path d="M1508.6 202.1l8 3 4.8-.5 3.9-5.8 .5-10.3"/><path d="M1628.1 136.8l-5.5 3 -5.9 3.2 -4.8-2.5 -7.4-1.1"/><path d="M1502.7 223.6l7.1 1.8 3.3 4.1 3.5 5.1 4.7 6.3"/><path d="M1685 276.6l-1.6-9.8 -1.5-8.9 -4-6.6 -1.8-4.9"/><path d="M1665.4 177.4l.3 9.1 .5 5.6 .1 5.7 -1.1 9.5"/><path d="M1592.5 114.8l1.9 7.8 -4.2 8.2 -5.8 3.2 -1.3 6.1"/><path d="M1711.1 257.1l-3.5-3.9 -5.7-.9 -7-3.1 -7.9-1.2"/><path d="M1527.3 265.3l7.9-2.9 3.4-8.3 2.6-9.5 -2.8-8.7"/><path d="M1592.2 103.8l1.2 7.1 2.1 4.7 4.8 4.2 4.4 1.8"/><path d="M1549.5 135.1l-3 7.1 -1.2 6.9 -2.1 8.4 -1.5 6.9"/><path d="M1663.1 286.4l-5.8 1.1 -7 5.4 -5 .2 -4.5 .6"/><path d="M1704.2 197.7l-7.2 2.9 -4 4 -5.1 2.1 -3.9 8.9"/><path d="M1521.5 248.8l6 5.5 3.4 4.5 1.3 9.2 -4.9 8.7"/><path d="M1526.2 257.8l4.3-2.8 7.1 2 4.9 5.2 2.5 8.2"/><path d="M1610.6 115.1l-2.2 7.9 .5 5.5 -.2 6.6 2.2 5.8"/><path d="M1529 210.2l4.1 5.3 6.5 2.6 5.1 .5 6.5 5.5"/><path d="M1667.3 338.6l-1.3-7.7 -2.1-8.3 -2.9-5 -8.1-.4"/><path d="M1585.7 362.4l4.8-3.2 5.9-7.6 4.8-5.6 6.1 .7"/><path d="M1697.3 169.8l-4.3 7 -6.9 1.2 -2.3 4.9 -.5 9.4"/><path d="M1533.6 352.9l.7-7.6 1.3-8.5 4.8-6.3 -.6-10.4"/><path d="M1605 347.9l-4.6-4.4 -4.4-8.6 -.2-5.7 1.3-7.1"/><path d="M1519.4 210.1l7.9-2.2 3.9 3.5 2.6 5.5 .4 6.4"/></g>
<g fill="none" stroke="#ffffff" stroke-width="1.9" stroke-opacity="0.80" stroke-linecap="round" stroke-linejoin="round"><path d="M1632.3 194l-8.9-.7 -7.1-2 -7.6 6.9 -2.9 5.3"/><path d="M1644.3 294.8l-5.5-9.8 1.2-6.5 -2.6-8.4 -6.4-3.7"/><path d="M1626.3 257.7l-8 3.9 -4.3 4 -3.1 5.2 -.7 11.4"/><path d="M1607.8 265.6l-2.8 9.2 3.3 9.3 5.5 3.6 7.3 2.1"/><path d="M1571.4 209.3l-4.6 2.8 -4.6 9.8 -3.8 3.7 -3 6.1"/><path d="M1653.9 239.8l8.5-.3 5.1-1.4 5.1-7.7 6.2-3.1"/><path d="M1542.5 242.9l5.5 4.8 5.3-1.6 4.1 3.8 6.3 2.5"/><path d="M1653.5 177.8l6 1.2 6 2 3.3 6.3 -.7 8.1"/><path d="M1595.6 263.3l9.2-.7 4.7 2.6 5.9 2.4 4.7 10.5"/><path d="M1568.9 174.2l2.5-5.3 -2-6.7 .4-10.1 -5.1-8.2"/><path d="M1552.5 182.9l7.2-4.1 3.2-7.1 .6-9.1 -2.3-9.5"/><path d="M1588.2 276.1l6.3 5.6 .6 10 1 9.1 3.4 6.4"/><path d="M1560.5 157.4l-4.8-3.9 -1.9-10.7 -5.4-5.4 -3-9.6"/><path d="M1613.6 199.8l-3.8-4.7 -3.4-5.5 -3.8-6 -1.4-9.8"/><path d="M1577.9 278.7l-5.7 .9 -3.3 7.1 -5.2 3.9 -6.9 5.8"/><path d="M1625.6 209.3l6.7-2.5 8.8 3.5 3.1 5.9 1 12"/><path d="M1603.1 289l4.8 9.3 5.6 7.2 8.4 5.5 3.6 10.4"/><path d="M1628.9 213.8l8.9-.7 4.1 3.5 8.7 3.8 4.9 5.6"/></g>
<ellipse cx="1606.3" cy="284.4" rx="16.9" ry="36.2" fill="#fff"/>
<defs><filter id="sf12" x="-20%" y="-20%" width="140%" height="140%"><feGaussianBlur stdDeviation="3.0"/></filter></defs>
<g filter="url(#sf12)">
<ellipse cx="1558.1" cy="208.9" rx="24.1" ry="24.2" fill="#6e94ea"/>
<ellipse cx="1644.9" cy="208.9" rx="24.1" ry="24.2" fill="#6e94ea"/>
<ellipse cx="1601.5" cy="230.0" rx="19.3" ry="30.2" fill="#e87060"/>
<ellipse cx="1582.2" cy="178.7" rx="12.1" ry="15.1" fill="#d8304a"/>
<ellipse cx="1620.8" cy="178.7" rx="12.1" ry="15.1" fill="#e86050"/>
<ellipse cx="1587.0" cy="260.2" rx="28.9" ry="12.1" fill="#ec7a64"/>
<ellipse cx="1616.0" cy="260.2" rx="28.9" ry="12.1" fill="#ec7a64"/>
<ellipse cx="1601.5" cy="305.5" rx="12.1" ry="18.1" fill="#f0a080"/>
</g>
</g>
<use href="#sp10" fill="none" stroke="#1c1c1c" stroke-width="4.2" stroke-linejoin="round"/>
<defs><path id="sp14" d="M1973.6 227l-.6 3 -.3 3 -.2 3 0 3 -.3 3 -1.2 2.8 -1.8 2.7 -.8 2.8 .8 3.1 1.1 3.3 .5 3.1 0 3.1 -.3 3 -.8 2.8 -1.2 2.6 -1.5 2.5 -1.6 2.4 -1.5 2.4 -1.1 2.6 -.9 2.7 -.6 2.8 -.8 2.7 -1 2.6 -1.6 2.3 -2.8 1.3 -4.5 .1 -2.4 1.4 1.4 4.3 1.2 4.3 -.2 3.2 -.8 2.9 -1.2 2.5 -1.7 2.1 -2 1.7 -2.3 1.4 -2.2 1.5 -1.8 1.8 -1.4 2.3 -1 2.8 -.8 3.1 -.8 3.2 -1.2 2.9 -1.5 2.4 -2 1.8 -2.3 1.3 -2.4 1 -2.5 .9 -2.3 1.1 -2.1 1.6 -1.8 2.1 -1.5 2.7 -1.4 3.1 -1.6 2.8 -2.5 1 -3-.5 -2.3 1.1 -1.7 3.2 -2 2 -2.9-.1 -3-1.1 -2.8-.7 -2.6 .1 -2.4 .7 -2.4 1 -2.5 .2 -2.8-1.2 -3-3.3 -3.1-5.3 -3.1-6.8 -2.9-7.5 -2.5-7.2 -2.2-5.9 -1.9-4.2 -1.8-2.1 -1.6-.1 -1.7 1.8 -1.8 3.3 -2 4.4 -2.1 4.8 -2.4 5 -2.6 4.5 -2.6 4 -2.7 3.2 -2.7 2.5 -2.7 2 -2.8 1.6 -2.7 1.3 -2.5-.4 -1.9-2.3 -2.8 1.1 -3.8 4 -3.1 1 -2.1-1.8 -1.4-3.6 -1.1-4.3 -1.9-1.9 -2.9 .5 -3.2 .8 -3.1 .6 -3.3 .6 -3.1 .1 -2.6-1 -1.9-2.1 -1.3-3 -1-3.5 -1.1-3.2 -1.4-2.5 -1.2-2.8 .3-4.8 -2.4-1.1 -6.5 3.9 -4.5 1 -2.2-1.8 -1.1-3 -.6-3.4 -.4-3.6 -.7-3.2 -1.1-2.8 -1.6-2.2 -2.1-1.9 -2.2-1.8 -2.1-2 -1.8-2.2 -1.4-2.5 -1-2.9 -.4-3.2 0-3.4 .2-3.5 .5-3.5 .3-3.4 0-3.2 -.6-2.8 -1.2-2.5 -1.7-2.3 -1.9-2.4 -1.7-2.5 -1.1-2.7 -.1-3.1 .7-3.2 1.3-3.4 1.4-3.3 1.1-3.2 .3-3 -.4-2.8 -1.1-2.7 -1.5-2.8 -1.3-2.8 -.9-2.9 -.2-3 .4-3 1-3 1.6-2.9 2.3-2.8 2.9-2.6 2.4-2.5 .9-2.6 .3-2.8 .9-2.6 -2.6-3.5 -4.7-4.2 -1.7-3.5 .7-3 1.9-2.5 2.9-2.1 3.9-1.5 4.5-1.1 4.5-.7 4.2-.8 3.4-1 2.2-1.5 .8-2.2 -.4-3.1 -1.3-3.7 -1.5-4 -1.2-4.1 .1-3.1 2.7-1.1 3.5-.2 -.5-3.7 -4-7.3 -2.4-6.1 .4-3.6 1.7-2.2 2.2-1.6 2.3-1.3 2.2-1.5 1.9-1.7 1.7-2.1 1.5-2.3 1.7-2 2.4-.8 3.2 .5 2.6-.3 1-3 .6-4.1 1.2-3 1.8-1.8 2-1.3 2.1-1.2 2-1.3 2-1.5 1.7-2 1.6-2.4 1.6-2.8 1.6-2.8 1.9-1.8 2.8 1 2.9 2.1 2.1-1.2 1.8-2.1 2.3-.4 2.3-.2 2-1.3 1.9-2.6 1.7-3.4 1.9-3.4 2.1-2.6 2.2-1.2 2.5 .3 2.4 1.4 2.5 1.9 2.4 1.5 2.7 13.6 2.8 51.1 1.3 6.5 1.3-8.4 3-54.5 2.8-14.7 2.4-.2 2.4 .6 2.2 1.3 2.2 1.7 2.2 1.8 2.2 1.5 2.1 1.2 2.3 .8 2.3 .5 2.3 .2 2.4 .1 2.4 .2 2.4 .5 2.2 1 2.1 1.6 1.9 1.9 1.9 2.2 1.9 2 2 1.7 2.1 1.2 2.3 .9 2.3 .8 2.3 1 2.1 1.6 1.8 2.1 1.5 2.6 1.4 2.8 1.5 2.6 1.6 2.3 1.9 1.7 2.2 1.4 2.2 1.3 2.2 1.5 1.9 1.8 1.7 2.3 1.4 2.6 1.2 2.7 1.2 2.8 1.2 2.7 1.3 2.6 1.4 2.5 1.3 2.5 1.1 2.7 .7 3.1 0 3.6 -1 4.3 -2.5 5.2 -3.6 5.8 -3 5 -1.1 3.4 .5 2.4 1.4 1.8 2.6 1.3 3.9 .6 5 .3 5.4 .4 5.1 .9 4.2 1.4 2.8 2.1 1.4 2.8 .2 3.1 -.5 3.3 -.5 3.2 -.3 3.1 -.1 3.1 -.6 3 -.2 3 1.5 2.8 2.9 2.7 2.2 2.9 .6 3Z"/><clipPath id="sc13"><use href="#sp14"/></clipPath></defs>
<g clip-path="url(#sc13)">
<defs><radialGradient id="sg15"><stop offset="0" stop-color="#c6c6c6"/><stop offset="0.6" stop-color="#afafaf"/><stop offset="1" stop-color="#9c9c9c"/></radialGradient></defs>
<use href="#sp14" fill="url(#sg15)"/>
<g fill="none" stroke="#808080" stroke-width="4.6" stroke-opacity="0.60" stroke-linecap="round" stroke-linejoin="round"><path d="M1947.6 192.6l-6 6.6 -.1 9 -3.6 3.9 .1 9.1"/><path d="M1866.9 305.8l-3.6-3.7 -6.8-4.1 -5.1-1.6 -2.5-4.7"/><path d="M1927.4 214.4l-5.3-3.5 -6.1-3 -4.2-2.4 -2.3-8.6"/><path d="M1885.3 117.8l-5.6 5.4 -7.1-1.1 -4.7-1 -2.5-4.4"/><path d="M1826.9 117.8l1.5 7.2 -1.1 8.2 0 7.4 3.6 3.7"/><path d="M1787 236.2l6.5 3.3 4.7 3.9 1.6 4.9 4.9 3.4"/><path d="M1914.9 161.4l-2.7 5.2 .2 5.2 -.6 8.6 3.3 8.8"/><path d="M1770.1 234.7l3.2-3.1 2.6-4.4 2.9-4.2 2.5-6.5"/><path d="M1866.3 79.8l-2.9 3.6 -7.1 .1 -5.6 3.7 -5.5-2.3"/><path d="M1802.8 294.2l2.7-6.5 7.1-2.4 4.2-4 3.9-3.3"/><path d="M1750.1 265.9l7.6-1.7 3.8-7.2 1-8.1 5.3-3.8"/><path d="M1824.8 143.3l7.2 1.5 7.2 .3 4.2 4.9 5.8-.2"/><path d="M1884.7 112.1l-5.3 5.8 -6.7 3.8 -2.3 4.7 -2.3 4.8"/><path d="M1919.1 271.2l-1.6-9.2 -3.2-3.7 -4.9-4.3 -7-3.8"/><path d="M1906.4 167.9l-5.5-1.5 -6.7 4.9 -3.8 3.1 -2.2 7.2"/><path d="M1834.9 300.5l.3-6.9 -1.3-8 -1-5.3 1.8-8.9"/><path d="M1932.5 209.1l-5.7-2.4 -7.3 3.7 -7.1 4.7 -3.1 3.4"/><path d="M1954.6 213.7l-4.2 2.9 -3.6 5.7 -4.7 5.5 -5.3 2.9"/><path d="M1903.4 301.8l-6-4.5 -6.5 .8 -6.1-3.8 -5.7 2.5"/><path d="M1785.2 142.2l.7 7.9 -.3 9.4 4.3 6.9 -1.2 9.3"/><path d="M1801.6 151.9l5.9-.9 4.3 3.6 4.6 4.5 7.9 .4"/><path d="M1860.1 111.5l-6.8 4.1 -4.4 3.2 -3.9 1.5 -4.2 2.2"/><path d="M1894.8 293.2l-3.9-2.1 -1.4-5 -2.6-7.4 -3.8-4.1"/><path d="M1806.3 283.5l3.5-5.5 .4-7.2 1.1-8.5 .5-5.4"/><path d="M1864.7 357.5l4.4-2.9 5.5 2.8 4.4-1.4 4.6 .3"/><path d="M1937 315.7l-3.9-3.5 -5.9-5.8 -3.1-4.2 -5.8-4.4"/><path d="M1912.8 114.2l-3.6 5.3 -1 6.2 -3.5 5.5 .3 6.7"/><path d="M1799 268.4l4.9-3.1 4.4-7.7 4-6.8 1.7-7.6"/><path d="M1917.8 148.9l-3.2 8.3 -5.6 5.3 -4.5 5.4 -4.6 1.7"/><path d="M1794.2 308.8l-.9-6.1 1.9-6.6 2.5-4.9 7-1.6"/><path d="M1838.8 303.7l3.5-6.9 1.1-6.4 -1-9.3 -4.4-4.2"/><path d="M1761.6 229.5l6.3-.6 5.2-1.8 3.6 2.5 5.7-.8"/><path d="M1953.2 233.6l-4.1 1.1 -5.5-3.3 -4.4-6.4 -3.9-8.6"/><path d="M1947.2 228.1l-4.6-3.6 -4.4-1.1 -5.5 3.9 -1.2 6.3"/><path d="M1938.8 117.6l.5 7.1 2.5 4.2 4.3 2.8 3.7 4.4"/><path d="M1801.1 150.2l1.6 8.4 -1.4 4.9 -3.4 3.9 .3 6.5"/><path d="M1767.7 160.8l-.1 6.5 2.2 9.4 0 7.1 -3.5 4.6"/><path d="M1836.1 122.2l4 7.5 4.9 5.2 3.3 6 -.7 5.6"/><path d="M1904.6 132l.2 6 .7 8.7 3.5 4.9 4 4.9"/><path d="M1761.6 145.2l5.8 2.9 5.5 6.2 6.7 1.2 6.7-2.1"/><path d="M1872.8 306.7l-.6-8.1 .6-5.7 -.7-6.6 3.1-8.9"/><path d="M1788.1 234.9l7.3-4.4 4.5-2.2 2.5-6.7 5.5-3.9"/><path d="M1780.8 225.4l5.7-3.3 4.2 .9 6.3-2.9 2.3-5.7"/><path d="M1908.2 300.2l-1.5-5 -5-4.3 -5-3.7 -7.2-.6"/><path d="M1876.9 314.4l-2.5-4.2 .7-7.6 -3-5.6 -2.7-4.7"/><path d="M1795.4 154.9l.3 5.3 3.3 7.3 5.9 2.9 3.5 2.9"/><path d="M1827.8 349.7l-.8-7.2 4.6-7.5 6.3-.3 4.9 3.6"/><path d="M1859.5 331.5l-2.9-5.3 .5-6.8 -2.7-9.3 -3.9-2.7"/><path d="M1789.3 122l6.1 4.1 4.6 5.6 3 4.3 3.3 2.9"/><path d="M1925.4 208.7l-6.6 .5 -4 4.7 -.4 8.3 -.3 8.9"/><path d="M1914.9 184.9l-1.4 4.8 -5.3 7.6 -2.9 6.5 1.4 5.4"/><path d="M1894.8 286l-3.3-5.9 .5-7.6 -1.8-7.9 2.8-5.3"/><path d="M1794.4 143.9l2.7 5.3 1.3 9.5 3.1 6.4 .5 6.6"/><path d="M1904.7 280.5l.9-10 -.9-8.7 -2.9-8.1 -4.4-6.4"/></g>
<g fill="none" stroke="#ffffff" stroke-width="2.3" stroke-opacity="0.95" stroke-linecap="round" stroke-linejoin="round"><path d="M1840.6 334.1l2.3-6.8 2.6-6.8 -1.3-5.8 1.2-6.2"/><path d="M1773.7 276.1l7.3 2.2 6.1-2.4 7.2 3.2 3.8 5.6"/><path d="M1868.4 318.8l-1.2-6.2 1-5.2 -1.8-5.8 -5.9-3.7"/><path d="M1932.5 204.1l-6 .5 -5.7-2.4 -2.9-5.2 -3.4-4.3"/><path d="M1953.9 267l-5.4 2.2 -3.4 6.3 -7.2 3.9 -4.5 5.4"/><path d="M1780.7 283.6l4 2.4 6.7 4.7 6.1-1.8 2.5-5.3"/><path d="M1890.7 340.5l1.5-6.9 3.1-7.1 4.4-5.9 4.6 .4"/><path d="M1865.6 354l-2-9.8 1.1-6.8 .2-5.6 -2.2-7.4"/><path d="M1931.7 323.8l-3.3-4.2 -2.7-6 -3-3.9 -2.4-4.5"/><path d="M1794.7 134.6l2.9 5.6 3.4 5.6 5.7 .2 4.8 .9"/><path d="M1891.7 114.2l1.4 6.5 -1.3 7.1 .2 7.5 2.1 9"/><path d="M1895.2 334.8l.6-7.9 2.9-6.1 5.6-4 6.8-3"/><path d="M1934.6 284.6l-4.7-3.8 -2.5-8.9 -6.5-5.1 -1.7-5.8"/><path d="M1870.8 133.7l.8 8.2 4.4 7.6 3.1 4.3 1.6 6.1"/><path d="M1891.1 300.7l-2.9-5.2 -3.4-4.9 -1.7-5.5 -3.6-6.1"/><path d="M1833.1 120l6.5 5.4 7.9 1.9 4.1 .1 7.3 1.8"/><path d="M1744.1 192.3l7.2-2.5 3.9-3.5 6.2-4.3 1.5-6.3"/><path d="M1772.7 129.2l6.8-.7 3.8-4.7 5.1-1.8 6.1 1.2"/><path d="M1797.7 266.6l6.1 3.1 5.4-.4 5.1-7.8 4.1-3.9"/><path d="M1764.2 281.6l1.3-5 2.2-8.3 -.8-9.4 .5-8.8"/><path d="M1796 156.8l4.4-.4 4.9 5.6 5.9 2.7 4.3 6.9"/><path d="M1924.2 291.3l-7.3 3.9 -4.6 2.4 -5.1-2.1 -4.3-2"/><path d="M1775.1 305.1l6.1 .9 6.4-1.2 4.3-4.3 7 .2"/><path d="M1807.9 349.1l-3.9-6.8 -.2-7.6 .8-9.5 .4-9.9"/><path d="M1917.7 307.2l-4.2-7.4 -7.7-1.9 -6.1 1.7 -4.2 2.7"/><path d="M1793.7 122.9l5.7 3.8 5.4-1.5 5.4-3.9 7-1.4"/><path d="M1820.3 113.2l.9 7 -2.5 4.7 -4 3.4 -3.7 2.9"/><path d="M1815.8 129.7l4.7 7.7 7.1 1.6 4.5-3.7 4.5 .2"/><path d="M1814.9 114.5l.1 9.2 3.5 7.5 4.4 6.6 .5 9.7"/><path d="M1909.8 300.1l-3.5-7.3 -3.8-7.3 -5.3-6.6 -5.2 .7"/><path d="M1951.6 190.5l-7.2 4 -2.2 9.2 3.3 9.1 4.7 2.7"/><path d="M1767.1 223.8l4.5 2.4 3.1 5 .9 5.4 .9 9.5"/><path d="M1876.6 78.4l-4.7 2.8 -4 2.7 -4.3 5.5 -6.8-.8"/><path d="M1878.9 304.7l-3.1-8.1 -2.5-5.1 -4.9-7.1 -.5-7.3"/><path d="M1815.4 106.3l4.4 3.1 3.3 8.4 4.4 7.6 5.4 .5"/><path d="M1875.7 120.2l-4 3.6 -4.1 3.1 -2.2 7.4 3.7 8.1"/><path d="M1781.9 323.7l3.7-4.6 7.5 .9 3.4 5.5 6 1.9"/><path d="M1812.6 309.2l-1.3-5.8 -3.9-4.7 -4.3-3.2 -7.8 .8"/><path d="M1909.7 111.8l-3.2 4 -2.3 4.5 -1.4 7.6 2.2 4.3"/><path d="M1925.9 259.7l-6.8-4.3 -1.7-5.5 .9-5.5 2.5-6.5"/><path d="M1874.7 88.2l-6.3 5.3 -5.4 7.3 .7 9.5 -1.7 7.5"/><path d="M1834.7 309.8l-2.2-7.2 -1.6-6.7 -4.5-5.1 -2.7-7"/><path d="M1856.1 119.8l-4.2 7.8 -2.7 9.5 -1.5 7.3 -4 5"/><path d="M1836.6 335.4l5.2-5 2.7-7.3 2.5-7.7 4.9-2.5"/><path d="M1781.1 186.6l6-4 5.2 1.7 6.1-3.4 3.7-2.5"/><path d="M1861.6 123.6l3.5 5.1 6 5.1 2.7 5.1 2.5 5"/><path d="M1962.6 195.6l-4.4 2.6 -4.5 4.8 -7.5-1.2 -4.3-2"/><path d="M1959.9 262.9l-2.6-5.9 -.8-7.7 -6.4-5.1 -3.9-4"/><path d="M1814 288.2l4.5 0 6.2-.6 4.2-3.2 6.9-3.3"/><path d="M1801.2 313.2l-.3-9.7 -2.4-8.8 -.6-6.1 -3.8-4"/><path d="M1796.3 293.2l6.6-3.3 5.3-.4 5.4-.1 4.8-2.7"/><path d="M1907.5 330.3l-3-5.5 -3.7-2.8 -4.1-2.2 -5.9-5.4"/><path d="M1952.2 249.1l-4 5.7 -5.1 2 -4.2-1.9 -2.2-5.2"/><path d="M1965.5 273.4l-3.5-4.1 -2.3-8.6 1.6-5.1 5.6-5.4"/><path d="M1945.4 266.5l-6.6 3.3 -5.4 2.6 -4.3 4.3 -4.8 2.8"/><path d="M1744.2 213.2l6.8 2.3 7 1.3 4.2 1.1 3.4 5"/><path d="M1858.9 313.2l6.4-5.6 2.9-4.2 .6-9.2 -1.1-7.8"/><path d="M1884.1 109.8l-1.7 5.7 -6.6 5.1 -4.5 1.6 -5.8-3.8"/><path d="M1763.8 302.5l-.2-8.9 -1.1-7.9 1.2-5.8 3.3-3.1"/><path d="M1902.2 124l-3.1 5.2 .4 5.7 -1 5.7 -1 5.9"/><path d="M1752.5 248.2l3.1-4.5 4.7-8.1 -.8-5.7 -6.1-4.2"/><path d="M1792.4 164.7l3.3 7.1 6.9 5.1 6.1 6.6 3.8 2.3"/><path d="M1784.1 253.1l1.1-8.5 -1.6-5.5 -1.8-8.5 -4.2-4.4"/><path d="M1907.1 120.6l-.1 6.7 -3.8 7.3 .9 5 -3.1 6.7"/><path d="M1831.3 136.1l6.8 4.2 5.8 3.5 3.7 6.5 6.5 2"/><path d="M1880.4 304.3l1.4-6.6 3.7-6.4 1.1-5.4 -.6-8.3"/><path d="M1928.3 276l-4.5-7.4 -4.4-5.8 -3.8-5.6 -6.1-1.1"/><path d="M1904.5 336.4l-2.2-5.1 -2.4-4.2 -2.4-7.9 -4.1-4.1"/></g>
<g fill="none" stroke="#ffffff" stroke-width="1.9" stroke-opacity="0.80" stroke-linecap="round" stroke-linejoin="round"><path d="M1868.6 302.2l4.6 1.6 6.5 5.6 1.7 5.5 -1.1 7.8"/><path d="M1852.7 172.7l1.8-11.1 -4.4-9.6 .8-9.4 -4-5.7"/><path d="M1892 211.3l2.8 8.5 6.9 4.3 6-1.6 6.3 2.4"/><path d="M1864.9 278.7l5.9-3.3 7.6 2.7 4.2 3.1 5.6 6"/><path d="M1878.3 185.3l2.8 5.6 3.3 5.9 4.7 6.7 4.7 7.3"/><path d="M1841 242.7l4.6-5.5 4.2-3.8 1.5-10.2 -4.3-7.3"/><path d="M1849.7 138.9l-5.1-4.6 -8.3 1.6 -6.6-2.2 -8.4 3.8"/><path d="M1809.4 172.4l4.4-5.3 2-7.5 -4.4-9.9 -9-2.6"/><path d="M1846.4 245.7l-4.1-8.7 -4.7-3.9 -4.8 .4 -6.1 5.5"/><path d="M1886.3 236.3l-2.6-8.6 .5-7.6 2.5-6.4 5.8-6.1"/><path d="M1839.9 167.8l6.3-3.6 4.8-3.6 4-9.8 5.4-4.6"/><path d="M1891.7 162.1l-6.7-3.5 -7.8 4.9 -5.4 8.6 -2.9 4.7"/><path d="M1899.5 262.1l-5.4 .1 -3.6-3.9 -8.7-2.6 -8-1.9"/><path d="M1823.2 233.1l1 9.1 -4.4 9.7 -4.4 3.4 -5.4 1.8"/><path d="M1813.5 275.4l5.3 .2 4.1-3.2 5.6-2.1 4.9-1.1"/><path d="M1886.5 174.6l-6.9 .3 -5.1-5.7 -2.7-10.4 -4.4-8.3"/><path d="M1810.9 227l-2.2-7.1 .4-9.4 -3.5-4 -1.6-11.2"/></g>
<ellipse cx="1861.8" cy="255.8" rx="42.8" ry="34.6" fill="#fff"/>
<ellipse cx="1861.8" cy="319.2" rx="38.1" ry="17.3" fill="#fff"/>
<defs><filter id="sf16" x="-20%" y="-20%" width="140%" height="140%"><feGaussianBlur stdDeviation="3.0"/></filter></defs>
<g filter="url(#sf16)">
<ellipse cx="1857.0" cy="218.4" rx="23.8" ry="34.6" fill="#d83040"/>
<ellipse cx="1861.8" cy="169.4" rx="28.6" ry="8.6" fill="#d8304a"/>
<ellipse cx="1821.3" cy="212.6" rx="19.0" ry="20.2" fill="#6e94ea"/>
<ellipse cx="1897.5" cy="212.6" rx="19.0" ry="20.2" fill="#6e94ea"/>
<ellipse cx="1804.6" cy="241.4" rx="11.9" ry="14.4" fill="#a8c4f4"/>
<ellipse cx="1909.4" cy="241.4" rx="11.9" ry="14.4" fill="#a8c4f4"/>
<ellipse cx="1857.0" cy="267.3" rx="21.4" ry="14.4" fill="#e05a50"/>
<ellipse cx="1857.0" cy="304.8" rx="26.2" ry="17.3" fill="#8cb0f0"/>
</g>
</g>
<use href="#sp14" fill="none" stroke="#1c1c1c" stroke-width="4.2" stroke-linejoin="round"/>
<defs><path id="sp18" d="M1209.3 557l.7 3.1 -.1 3.1 -.2 3.1 0 3.2 .3 3.1 .4 3.2 .3 3.2 .3 3.2 .2 3.3 0 3.2 -.1 3.2 -.3 3.1 -.6 3.1 -1.5 2.7 -2.6 2.3 -2.8 2 -.7 2.9 1.7 4 1.5 4.1 .3 3.6 -.6 3.2 -1.1 2.8 -1.6 2.5 -1.9 2.4 -1.8 2.3 -1.4 2.6 -.9 3 -.5 3.2 -.6 3.3 -.9 3.1 -1.5 2.6 -2 2.1 -2.3 1.8 -2.2 1.8 -1.8 2.2 -1.4 2.6 -1.2 3 -1.3 2.9 -1.6 2.4 -2.2 1.8 -2.7 1.1 -2.7 1 -2.5 1.2 -1.9 2 -1.5 2.7 -1.3 3.1 -1.4 3.1 -1.8 2.4 -2.4 1.4 -2.8 .6 -3 .1 -2.8 .3 -2.5 .9 -2.2 1.6 -2.1 2.1 -2.1 2 -2.3 1.6 -2.5 .8 -2.7 .2 -2.8 0 -2.6 .2 -2.5 .7 -2.5 .8 -2.8-.3 -2.8-1.4 -2.7-.6 -2.4 .8 -2.6-.5 -2.9-3.4 -3-5.7 -2.8-6.9 -2.6-7.4 -2.3-6.8 -2-5 -1.8-2.1 -1.8 1.1 -2 4 -2.2 6.2 -2.5 7 -2.8 6.9 -2.9 5.9 -3 4.5 -2.9 3 -2.9 1.8 -2.7 .8 -2.7 0 -2.3-1.6 -1.6-4.5 -1.8-3.2 -3.1 1.6 -3 1.1 -2.4-1 -2.3-1.3 -2.4-1 -2.4-1 -2.4-1 -2.3-1.4 -2.1-1.8 -1.9-2.1 -1.8-2.2 -1.9-2 -2.1-1.5 -2.5-1.1 -2.6-.6 -2.8-.6 -2.7-.9 -2.4-1.3 -2-1.9 -1.8-2.3 -1.4-2.6 -1.3-2.8 -1.3-2.8 -1.2-2.8 -1.1-2.9 -.3-3.7 -.3-3.5 -2.7-1.1 -3.5-.4 -2.6-1.5 -2-2 -1.6-2.3 -1.2-2.8 -.9-2.9 -.7-3.1 -.9-2.9 -.8-2.9 .3-3.6 .9-3.9 -2.6-1.8 -4.8-.6 -2.6-2 -.2-3.3 .7-3.7 .8-3.6 .2-3.3 -.7-2.9 -1.4-2.7 -1.6-2.7 -1.4-2.8 -.8-3 .2-3.2 1.8-3.6 1.5-3.4 -1.6-2.8 -2-2.9 -1-3 -.7-3.1 -.1-3.2 .6-3.2 1-3.2 1.3-3.1 .9-3.1 .5-3.1 -.1-3.2 -.3-3.2 0-3.2 .6-3 1.5-3 2.4-2.6 3.5-2.2 4.3-1.8 4-1.6 2.6-2 .7-2.6 0-2.9 1.2-2.5 3.5-1.2 5-.3 5.2 .1 3.9-.5 1.7-1.4 -.4-2.9 -2.1-4.2 -3.1-5.1 -3.3-5.5 -2.6-5.4 -1.7-4.9 -.7-4.3 .1-3.6 .7-3.2 1.1-2.8 1.4-2.6 1.5-2.4 1.5-2.4 1.5-2.4 1.5-2.5 1.4-2.5 1.6-2.5 1.6-2.2 1.8-2.1 1.9-2 1.8-1.9 1.8-2 1.8-2.1 2-1.7 2.6-.5 2.8 .1 1.7-2 .8-4.3 1.1-3.8 2-1.9 2.9 .7 3.5 2.7 2.4-.2 .7-5.3 .9-5.4 1.8-2.6 2.3-1.2 2.2-.9 2.3-1.1 2.2-1.3 2.1-1.6 2.2-1.6 2.2-1.5 2.2-1.4 2.3-1.1 2.4-.7 2.5 .2 2.5 1.3 2.5 1.4 2.3 .1 2.3-1.3 2.8 12.7 3 55.1 1.3 7.9 1.3-7.9 3.1-55.8 2.8-14.9 2.4-.6 2.5 0 2.3 1 2.3 1.8 2.2 1.9 2.2 1.5 2.3 .6 2.5-.4 2.6-1 2.6-.7 2.5 .2 2.2 1.6 1.9 2.8 1.7 3.7 1.3 4.3 .8 5.9 .6 5.8 2.1 .8 3.7-3.4 3.2-1.9 2.4 .8 1.8 2.1 1.7 2.4 1.7 2.3 1.9 1.8 2.1 1.4 2.2 1.2 2.1 1.4 1.9 1.9 1.6 2.5 1.3 2.8 1.2 2.9 1.4 2.7 1.6 2.2 1.7 2.1 1.8 2 1.6 2.3 1.2 2.8 .8 3.1 .7 3.2 .6 3.2 .9 2.9 .9 2.8 .8 2.9 .2 3.3 -.8 4.1 -1.9 4.8 -2.9 5.2 -3 5.1 -2.4 4.3 -1 3.3 .6 2.1 2.3 1.3 3.7 .6 5 .1 5.9 0 5.5 .5 4.4 1.2 3.2 1.9 2.1 2.4 1.3 2.8 .8 2.9 .5 3 .6 3 .8 2.9 .9 3 .7 3 0 3.1 -.4 3.1 .3 3 1.4 3Z"/><clipPath id="sc17"><use href="#sp18"/></clipPath></defs>
<g clip-path="url(#sc17)">
<defs><radialGradient id="sg19"><stop offset="0" stop-color="#c6c6c6"/><stop offset="0.6" stop-color="#afafaf"/><stop offset="1" stop-color="#9c9c9c"/></radialGradient></defs>
<use href="#sp18" fill="url(#sg19)"/>
<g fill="none" stroke="#808080" stroke-width="4.8" stroke-opacity="0.60" stroke-linecap="round" stroke-linejoin="round"><path d="M1009.7 493.6l1.4 10.3 .7 7.5 -.3 9.5 2.7 5.9"/><path d="M1184.9 569.5l-5.2-.5 -7.3-1 -7.9-2.8 -4.4-4.5"/><path d="M1045.4 482.7l4.6 7.8 6.8 5.4 6.1 3.8 3.5 3.4"/><path d="M1150.8 644.8l-2.8-5.4 -4.5-5.5 -5.9-6.3 -6.5-1.3"/><path d="M1058.2 671.2l2.6-4.6 .9-8.8 -2.2-4.6 -2.9-4.3"/><path d="M1183.9 561.4l-4.3 4.4 -4.5 5.2 -4.2 .2 -4.1-1.3"/><path d="M1012.8 577.1l7.6 3.5 5.4 4.4 5.9 5.5 4.9-1.3"/><path d="M982.9 565.2l5-2.6 6.8-5.9 6-6.9 3.3-4.6"/><path d="M1070.1 437.7l-3 4.1 -5.3 1.6 -6.7-3.2 -5.1-7.3"/><path d="M1136.9 483l-7.7-1.9 -4.9-6.2 -3.9-4.8 -5.5-3"/><path d="M1093.1 452.1l-.6 8.3 -5 8 0 9.3 -1.5 8.9"/><path d="M1171.8 446.8l.4 6.5 3.5 3.2 5.5 4.5 6.8 4.4"/><path d="M1080.4 464.4l2.6 6.7 .3 6.7 4.5 7.6 4.9 4.1"/><path d="M1171.1 624.1l-5.6-.7 -5.1-8.3 -3.6-7.2 -3-3.5"/><path d="M1180.7 527.2l-6.7 5 -4.5 3.9 -2.1 6.5 -.6 8.2"/><path d="M1178.1 569.2l-3.9 6.5 -1.5 8.4 .6 7.2 3 9.1"/><path d="M1062 452.7l1.6 8.9 6.4 5.7 2.5 7.8 6.6 4.6"/><path d="M1160.8 584.2l-5.3-7.3 -1.8-6.8 -.8-7.5 3.2-5.2"/><path d="M1048.2 622.9l2-6.9 1.7-8.2 -.1-8.2 .9-7.5"/><path d="M1096.5 435.7l-.2 9.3 -1.5 6.1 -3.2 6.4 -2.8 8"/><path d="M1189.2 548.2l-4.7 7.8 -7.7 2.1 -3.5 8.9 -3.1 9.7"/><path d="M1199.7 571.9l-7.4 .6 -6.2-5 -2.4-4.5 -.2-8.4"/><path d="M1134.7 468.3l-.4 7.9 2.7 7.7 4.6 7.6 1.9 8.7"/><path d="M997.5 619.2l3.3-4 2-4.7 3.2-3.5 .9-5.9"/><path d="M1136 633.9l-.2-5.4 -1.6-7.8 -.8-8.1 .6-7.5"/><path d="M1160.2 630.2l-4.1-6.2 -2.2-5.6 -5.6-1.5 -4.3-6.9"/><path d="M1070.3 425.3l.8 9.4 2.5 8.2 6.4 5.3 5.6-1.2"/><path d="M1162.6 506.1l.5 8.2 .4 6.9 -.8 9.4 -3.4 6.8"/><path d="M1099.3 465.3l-1.1 6.9 -.4 7.4 3 7 5.8 3.7"/><path d="M1205.1 533.5l-7.7 .5 -5.5-1.7 -7.9-2.1 -5.4-7.8"/><path d="M1010.6 545.2l7.2 2.2 5.9 1.7 6.6 3.6 6.3 3.9"/><path d="M1026.6 550.6l5 .8 3.5-3.4 6.8 1 5.5 2"/><path d="M1041.8 490.9l.4 8.9 1.2 5.1 5.2 7.5 1.6 10.3"/><path d="M1029.9 477.1l6.2 5.7 2.3 8.2 1.1 6 -3.2 6.9"/><path d="M1171.9 545.3l-2.4-5.2 2-7.9 .7-9.7 -4-6.5"/><path d="M1126.5 684.8l-5.8-7.4 -4.1-6 -6.2-4.2 -5.9-6.2"/><path d="M1172.9 575.6l-7.1-1.1 -6.7 1.9 -5.1-1.4 -3.3-3.9"/><path d="M1147.9 503.6l-6.4 3.9 -7.3 4 -2.5 8.8 3.6 8.7"/><path d="M1007.1 532.1l7.8 1.4 6.3 6.5 4.2 6.3 5.2 5.8"/><path d="M1158.6 434.1l-1.6 5.2 -.2 7.4 3.3 4.5 6.3 2.4"/><path d="M1162.7 599.3l-5.7-5.2 -6.8-3 -6 2.6 -3.6 8.5"/><path d="M1091.6 656.9l-2.7-7.4 .8-9.6 -4.3-6.5 -7.6-.4"/><path d="M1116.9 441.6l-1.6 5.5 -2.3 6.1 2.6 8.9 5.4 6"/><path d="M1034 477.2l2.9 6.3 .6 5.5 -4.2 8.4 -2 8.6"/><path d="M993.4 598.1l4.2-4 4.2-4.6 2.8-7.3 4.7-1.9"/><path d="M996.1 466.8l6.1-1.3 6.7-4.3 6.2-1.3 4.7 4"/><path d="M1189.5 509.5l-4.3 4.7 -8.3 .9 -5.1 .6 -5 4.8"/><path d="M979.5 505.5l2.7 7.3 5.8 5.1 6.5 2.7 8.2 .3"/><path d="M992.7 542.9l6.5-1.7 3-7.2 .6-8 2-6.6"/><path d="M1003.3 630.3l-.5-6.4 5-7.5 5.1-2.3 5.4 2.4"/><path d="M1179.4 504.1l-4.4-3.7 -5.3-4.3 -3.6-8.6 1.6-5.5"/><path d="M984.4 547.8l5.6-1.5 4.5 .1 6.1-6.5 1.2-6.2"/><path d="M1182.2 510l-3.6-7.1 -.5-5.9 -5.5-4.3 -4.2-.6"/><path d="M1135.7 666.6l.8-10.5 2.9-4.3 3.8-9.1 .8-8.3"/><path d="M999.6 620.5l5.5 6.8 3.3 8.8 5.2 6.1 4.4 1.2"/><path d="M1035.4 442.5l2.8 4.5 4.7 7.1 3 5 -.6 5.3"/><path d="M1135.8 472.7l-1.7 8.7 -7.5 4.5 -5.9 4.6 -2.9 8.2"/><path d="M1160.1 460.6l.2 6.2 -4.3 7.4 -2.6 5.3 -4.6 2.3"/></g>
<g fill="none" stroke="#ffffff" stroke-width="2.4" stroke-opacity="0.95" stroke-linecap="round" stroke-linejoin="round"><path d="M1113.9 644.2l.7-8.4 .2-7.1 4.4-8.3 1-6.6"/><path d="M1192.5 585.5l-6.8-4.5 -7.4 1.7 -5.4 6.5 .3 8.9"/><path d="M1109.8 646.2l-3.6-2.6 -1.3-8.6 3-9.7 4.6-4.8"/><path d="M986.1 571l3.4-5.2 3.1-6.1 5.2-2.2 5.7-3.6"/><path d="M1174.4 590.7l-1.2-7.4 4-7.6 .2-8.9 -.6-5.6"/><path d="M1103.3 428.2l-4.4 2.1 -6.3 7 -6.4 3.3 -4.9 6.1"/><path d="M1056.1 687.9l-2.5-8.1 -1.8-5.4 -3.9-7.7 -7-3.5"/><path d="M1148 439.1l.4 7 1.8 4.9 4.3 8.7 6.6 4.2"/><path d="M1017.9 658.4l3.3-4.5 2.7-5.4 5.7-2.7 4.4-1"/><path d="M1144.1 468.8l-6.2 6.4 -3.3 6.7 -4.9 5.7 -2.3 7.2"/><path d="M1035.9 664.4l3.8-5.3 6.8-1.8 4.3 3.7 1.9 5"/><path d="M1119.8 681.7l-6-2.5 -5.1-.2 -6.2 .8 -5.8 6.2"/><path d="M997.9 569.6l5.3-1.9 4.3 1 7.5-2.3 6-2.2"/><path d="M1006.7 567.4l6.3 4.6 7.4-2.7 3.3-6.1 3.9-5.6"/><path d="M994.5 509.3l5.3 7 1.3 5.1 -.3 9.1 -5 5.2"/><path d="M1140.2 640.5l-3.9-5.4 -6.3-2.9 -6.7 1.9 -3.6 4"/><path d="M1203.8 582.8l-6.5-1.7 -4.6 3.6 -8.1-1.8 -4.8 2"/><path d="M999.5 462l5 7.1 .4 5.2 3 6.3 2.4 4.8"/><path d="M1163 517.8l-2.7 4.1 -5.4 3.6 -4.9 7.9 -7 4.4"/><path d="M1098.8 435l-4.7 3.3 -3.9 2.3 -6.9-3.5 -2.4-5.1"/><path d="M1029.3 601.9l6.8-6.1 5.5 1.4 8-3.1 6.9 .2"/><path d="M1114.1 445.7l-1.4 7 2.6 6.6 2 6.5 -.6 8.9"/><path d="M1130 685.4l.6-9 -.5-5.7 -4.4-8.3 -1.2-9.8"/><path d="M1131.4 443.1l-.8 6.9 .7 7 4.9 4.9 3.4 8"/><path d="M1064.7 454.5l-3.8 7.1 -1.6 6.2 -.3 5.6 -1.7 6.5"/><path d="M1041.2 445.7l4.2 4.1 4.3-.6 3.7 4.4 3.9 4.4"/><path d="M1194 592.1l-4.4-1.5 -6.3-1.6 -5.9-7.4 -1.9-6.4"/><path d="M1069.8 699.4l.4-7.3 2-8.3 3.8-4.6 5.4-.8"/><path d="M1116.3 421.4l.5 9.7 1.2 5.5 2.9 4.8 2 8.6"/><path d="M1037.7 468.7l5.4 .4 5.2 7.7 3.7 2.8 .8 7"/><path d="M1099.4 442.7l5.5 6.7 4 5.6 -.8 6.2 -2.8 5.9"/><path d="M1097 457.9l1.1 5.3 -1 5.3 3.1 9.8 -.7 5.9"/><path d="M982.1 601.7l4.3-2.6 3.8-8.3 1.6-9.4 1.1-8.4"/><path d="M1019 465.7l4.6 5.3 7.1 3.6 4.8 1.8 6.3 2.1"/><path d="M1000 643.4l2.6-9.9 5.2-3.5 1.7-8.2 .1-7.2"/><path d="M1036.1 635.8l-.6-5.7 1.4-6.2 7.4-4.4 3.6-7.3"/><path d="M1067.3 432.7l3.8 5.4 .9 9.1 2.8 6 2.8 5.3"/><path d="M1090.6 675.3l-1-7.2 2.8-6.6 1.7-8.6 3.3-6.9"/><path d="M989.1 581.5l5.7-3.4 7.9-1.6 4.4 3.2 7.1 3.5"/><path d="M1001.2 574.3l4.2-9.1 -1.7-7.9 .9-6.5 3.1-5.5"/><path d="M983.5 574.2l2.6-7.7 .1-6.3 .4-6.1 1.4-8.5"/><path d="M1178.4 486.2l-3.1 4.2 -5.1 1 -2.9 4.2 -5.3 5.2"/><path d="M1118.3 637.1l-1.1-7.1 4.1-8.3 .6-5.7 -1.5-7.9"/><path d="M1146.8 457.1l2.2 7.5 2.4 4.7 .2 7.6 5.6 5.3"/><path d="M1021.7 481.6l7.4 2.4 3.5 7 3.7 8.3 5.8 1.8"/><path d="M1119.3 462.7l-8-.2 -7.4-2.7 -7.2 3.2 -6.9-1.1"/><path d="M1173.5 504.6l-4.2 7.1 -1.2 5.6 -3.4 7.7 -2.3 4.9"/><path d="M1188.6 621.5l-6.2-6.3 -4.2-9.1 1.7-8.1 -3.5-8"/><path d="M1142.3 414.9l-.7 6.3 -1.4 9.9 -3.5 5.9 0 6.9"/><path d="M1075.8 412.7l2.7 9.7 -2 5.9 -.6 5.4 -2.6 8.1"/><path d="M1086.9 661.8l.9-7 -1.3-7 -3.1-7.9 1.4-7.8"/><path d="M1047.1 441.4l-3.7 8.8 -4.9 2.1 -4.7 7.5 -2.3 5.4"/><path d="M1133.9 657.4l.8-5.5 -.3-7.8 3.8-6.9 7.4-1.2"/><path d="M1088.3 441l4.5 4.5 .9 7.4 2.4 6.9 -1.4 6.4"/><path d="M1122.6 688l-2.9-6.7 .8-6.6 6.8-6.1 8 2.8"/><path d="M1049.8 674.7l3.4-3.3 5.4-1.7 2.9-8.3 3.2-4.5"/><path d="M1159.1 489l-7.1-5.3 -1.8-6.8 2.5-7.4 -1.5-6.9"/><path d="M1142.2 679.2l2.3-8.5 1.7-8.6 -2.1-4.8 -5.3-5.4"/><path d="M1105.2 677.7l5.5-7 -.6-7.2 -3.1-8.6 -.4-10.5"/><path d="M1156.6 676.4l.8-10.6 2.3-6.6 3.7-7.6 3.4-8.2"/><path d="M1182.5 496.7l-5.3 1.9 -4.7 8.1 .5 10.1 -.5 7.2"/><path d="M1001.6 589.4l6.5-1.5 6.5 1.7 7.8-2.5 6.4 6.1"/><path d="M995.1 600.4l6.7-1.5 5.9 2.4 3.1 3.7 8.1 1.4"/><path d="M1084 410.8l1.9 5.9 3.6 6.5 4.3 4 6.9 .5"/><path d="M1118.6 465.1l-.3 5.6 3.3 5.7 4.6 7.8 5.7 4"/><path d="M1010.6 561.7l4.5 6 4.6 1.9 5.9-3.1 6.1-3.4"/><path d="M1061.9 691.6l2.1-6.3 .9-10.1 5-5.6 -.2-5.5"/><path d="M1045.1 442.1l-4 6.9 -3.1 4.1 -4.2 8.8 -7.4 2.1"/><path d="M1169 448.7l-3.9 6.5 .3 7.6 3.9 4.5 5.7 2.8"/><path d="M1179.6 452.8l-.3 5.6 3.4 9.4 -.4 5.9 -2.6 7.4"/><path d="M1160.4 514.7l-5.4 .3 -3.3 5.4 -2.4 9 -3.6 4"/><path d="M1031.7 465.2l1.9 8.1 -1.1 9.8 -5.8 5.1 -7.2-.3"/><path d="M1020.4 623.5l2.7-9.1 3.8-6.6 6.8-4.4 2.2-5.4"/></g>
<g fill="none" stroke="#ffffff" stroke-width="1.9" stroke-opacity="0.80" stroke-linecap="round" stroke-linejoin="round"><path d="M1138.8 581.4l6.4 .1 5.9 3.5 6.6 5.9 5.2 10"/><path d="M1054.2 498.2l2.4 10.6 7.1 5.7 6-2.4 4.9-5.8"/><path d="M1124.4 496.8l-.4 9 -6.6 8.3 -1.2 9.4 3.1 11.1"/><path d="M1046 608.8l3.5 4.6 2.2 5.7 -1.5 8.8 2.4 11.3"/><path d="M1118.4 541.2l-4.5 10.5 -.9 7.8 -5.6 4.2 -5.7-.4"/><path d="M1109.4 580.8l4.8 1.1 5.5 2.2 5.4 4 4.4 8.4"/><path d="M1095.8 617.9l3.5-9.8 -1.4-8.9 -.2-11.3 6.1-7.4"/><path d="M1060.4 556.9l-4.1 10 -2.7 6.1 -5.9 4 -6.4 7.6"/><path d="M1054.3 531.3l7.6 4.4 5.8-3.3 6.2-2.1 2.8-5.3"/><path d="M1048.1 504.4l-5.1-4.6 -2-5.6 -6-5.2 -5.2-1.3"/><path d="M1146.8 585.8l-.7 6.9 -4.6 3.7 -8 1.4 -6.3-4.8"/><path d="M1126.9 606.9l5.6 2.4 3.3 5.2 3.9 7.9 3.6 8.4"/><path d="M1075 631.8l6.6 6.4 5 1.7 6.6-3.6 7.1 3.9"/><path d="M1053 518.7l.9-10.2 3.1-9.8 -1.3-6.3 -3.8-6.9"/><path d="M1068.5 484.8l5.5-6.2 4.9-10.2 .6-10.6 2.2-8"/><path d="M1138.9 538l-.3-10.5 -1.9-10.3 -3.6-7.4 1.2-6.7"/><path d="M1081.1 507l7.6 1.8 5.5 1.4 3.8 6.9 -1.2 8.9"/><path d="M1064.4 534.4l5.2-1.8 8.7 4.7 5.3 9 1.1 8.9"/></g>
<ellipse cx="1093.0" cy="596.0" rx="38.7" ry="9.0" fill="#fff"/>
<ellipse cx="1093.0" cy="623.0" rx="9.7" ry="24.0" fill="#fff"/>
<defs><filter id="sf20" x="-20%" y="-20%" width="140%" height="140%"><feGaussianBlur stdDeviation="3.0"/></filter></defs>
<g filter="url(#sf20)">
<ellipse cx="1093.0" cy="557.0" rx="24.2" ry="36.0" fill="#d02a40"/>
<ellipse cx="1068.8" cy="509.0" rx="16.9" ry="15.0" fill="#e05050"/>
<ellipse cx="1117.2" cy="509.0" rx="16.9" ry="15.0" fill="#e86a5a"/>
<ellipse cx="1051.9" cy="557.0" rx="21.8" ry="15.0" fill="#6e94ea"/>
<ellipse cx="1131.7" cy="557.0" rx="21.8" ry="15.0" fill="#6e94ea"/>
<ellipse cx="1039.8" cy="581.0" rx="16.9" ry="12.0" fill="#a8c4f4"/>
<ellipse cx="1146.2" cy="581.0" rx="16.9" ry="12.0" fill="#e06060"/>
<ellipse cx="1093.0" cy="629.0" rx="14.5" ry="18.0" fill="#f0a080"/>
</g>
</g>
<use href="#sp18" fill="none" stroke="#1c1c1c" stroke-width="4.2" stroke-linejoin="round"/>
<defs><path id="sp22" d="M1332.9 427.6l5.6-7.1 5.4 6.2 .4 4 -.1 4.8 -.2 5.7 .2 6.4 .3 7 -.1 7.4 -.3 7.6 -.3 7.5 -.6 7.5 -.2 7.1 -.1 6.6 .6 5.9 -.2 5 .4 4.1 -3.1 9.8 -6.1-1.6 -6.4 1.7 -7.8 .1 -7.2 .3 -7.7-1.9 -6.8-3.7 -5.1-3 -4.6-4.5 -3.6-4.7 -1.9-7.4 -1.2-8.7 1.1-6.5 5.3-1.8 7.5 .4 5.9 .4 2.6-3 .5-4.2 3-5.9 4.1-6.5 5.4-6.3 4.5-6.2 2.2-6.2 1.9-6.1 3.2-5.6Z"/><path id="sp23" d="M1351.8 427.9l4.3-5.9 4.9 5 5.8-.3 4.4 2.7 1.8 5.9 -.3 8.1 .4 7.1 2.8 7 3.1 5.6 4.3 4.5 4.4 4 .9 5.6 1.9 4 5.2 1.3 7.3 .1 5.1 1.2 2.1 5 -.9 5.7 -1.8 3.1 -3.3 2.6 -4.5 3.1 -4.1 4.1 -2.4 5.1 -3.2 4.9 -7.8 3.1 -9.2 2.4 -8.8-.8 -6.9-2.4 -3.8 1.5 -1.8-8 -.2-3.9 .1-4.9 -.4-5.8 -.1-6.4 -.2-7.1 .5-7.3 -.1-7.5 -.1-7.6 -.1-7.3 -.5-7 -.3-6.4 0-5.7 .7-4.8Z"/><path id="sp24" d="M1263.6 502.5l4.9 .2 4.8 3.4 3.5 5 2.5 6.2 3.5 5.3 4.8 4.8 8.2 2.9 9.1 2 7.8 2.2 6.4 3.9 6.2 5.1 4 5.3 -2.4 5.8 -3 5.4 2.3 3.7 4.1 1.2 4.3-1.7 4.2-1.6 4 1.5 4.6 1.9 4.9-2.5 5-2.2 5 1.3 4.4 3.4 2.8 5.4 2.6 5.3 -1.1 5.3 -.7 4.7 1.5 3.9 2.6 1.3 2.7-1.2 2.6-3.9 -.6-5.3 -2-6.7 -3.4-5.2 -3.7-6 -3.1-5.1 -4-5.2 -.2-5.1 4.4-4.9 7.4-4.7 6.8-4.8 6.7-3.3 6.9-2.3 6.3-2 8.3-2.4 7-3.4 2-8.4 .6-7.5 3.3-2.6 4.5-.1 5.7 1.8 5.6 5.1 3.7 4.7 4.2 5.4 3.9 5.2 5.4 6.6 4.2 7.2 1.4 8.4 .7 9.2 -.8 5.6 .1 6.3 -.6 6.3 -.6 6 -.7 7.7 -2 7.1 -2.1 6.4 -4.2 7.5 -4.4 6.4 -5.7 5.4 -5 5.2 -2.9 3.5 -2.4 3.6 -1.6 8.4 -1.4 8.6 -3.1 4.7 -2.6 4 -2.1 4.7 -3.5 4 -4 3.6 -5 3.1 -7 1.9 -7.5 2.7 -8.4 2.2 -8.4 1.5 -7.5-2.8 -6.8-3.9 -5.8-3.5 -5.6-1.2 -3.9 3.5 -4.4 4 -6.5 2.8 -7.9 1.4 -8.6-1.8 -8.5-2.2 -7.3-4.6 -6.6-4.5 -5.4-5.1 -3.3-6.1 -1.4-7.4 .5-6.7 .9-3.3 .7-2.5 -.9-3.7 -2.7-2.1 -4.5 2 -5.3 3 -4.9 2 -5.2 1 -5.9 0 -5.6-2.1 -5-4.3 -3.7-7 -2.4-5.5 -.9-6.6 -1.9-6.6 -1.1-7.2 -2.6-7 -1.8-7.2 -1.4-6.9 -.9-7 .2-7.3 .8-6.4 1-6.8 .6-6.5 1.7-4.8 4.8-3.8 5.7 .3 4.6 1.3 3.9 1.3 3.1-4.3 1.4-5.9 -2.5-6.1 -3.2-5.3 .2-4.5 2.5-3.9 3.4-4Z"/><clipPath id="sc21"><use href="#sp22"/><use href="#sp23"/><use href="#sp24"/></clipPath></defs>
<g clip-path="url(#sc21)">
<defs><radialGradient id="sg25"><stop offset="0" stop-color="#c6c6c6"/><stop offset="0.6" stop-color="#afafaf"/><stop offset="1" stop-color="#9c9c9c"/></radialGradient></defs>
<use href="#sp22" fill="url(#sg25)"/>
<g fill="none" stroke="#808080" stroke-width="2.0" stroke-opacity="0.60" stroke-linecap="round" stroke-linejoin="round"><path d="M1300.8 503.9l-.2-2.7 1.3-2.1 .6-2 .3-1.9"/><path d="M1286.3 484l1.5-1.2 1.1 .8 .6 2.9 0 2.8"/><path d="M1318.1 421.4l-1.8 1.8 -.7 3 -.4 3.5 -1.4 2.7"/><path d="M1306.1 522.2l1.8-1.7 1.6-.1 1.6 .2 1-1.3"/><path d="M1303.2 506.3l-.4-2.2 -.5-2.6 .5-2 -.6-2.5"/><path d="M1337 490.9l-.8-2 -.7-2.4 -.4-3.3 -.9-1.4"/><path d="M1332.1 476.8l-1.7 1.7 -1.7 .9 -1.5-.4 -1.7 1.5"/><path d="M1316.6 514.3l-1.4-1.6 -1-.8 -.9-2.4 -1-2.2"/></g>
<g fill="none" stroke="#ffffff" stroke-width="1.4" stroke-opacity="0.95" stroke-linecap="round" stroke-linejoin="round"><path d="M1313.9 515l.8-2.7 -.4-2.3 .5-3.5 .5-2.1"/><path d="M1309.1 508.8l1-2.3 0-3.1 -1.1-1.8 -.9-1.5"/><path d="M1314.4 511.7l.7-1.9 .2-2.5 .8-1.9 1.8-1.6"/><path d="M1306.8 506.2l1.4-1.9 2.1-.5 2.1 .6 1.4 2"/><path d="M1331.1 442.8l-1.1 1.7 -1.2 1.9 -1.5 .8 -1.6-1.4"/><path d="M1290.7 499.2l.9-2.5 1.4-.9 1.7 .9 1 3"/><path d="M1337.6 442l-1 1.9 -2-.1 -1.8 .2 -.8 1.4"/><path d="M1337 472.2l-1.4 2.5 -1.2 .2 -2.1 .3 -1.6 1"/><path d="M1338.1 502.6l-1.9-1.2 -1.6 1.2 -.7 2.9 .4 2.8"/><path d="M1286.4 494.6l1.2 1 2 0 1.7-1 1.1-.7"/></g>
<g fill="none" stroke="#ffffff" stroke-width="1.2" stroke-opacity="0.80" stroke-linecap="round" stroke-linejoin="round"><path d="M1317.7 493.9l2.3 .5 1.5 1.7 1.8 2.7 1.4 2.5"/><path d="M1307.8 451.3l-.8 2.6 -.6 3.1 -.5 3.2 -1.4 3.3"/></g>
<defs><radialGradient id="sg26"><stop offset="0" stop-color="#c6c6c6"/><stop offset="0.6" stop-color="#afafaf"/><stop offset="1" stop-color="#9c9c9c"/></radialGradient></defs>
<use href="#sp23" fill="url(#sg26)"/>
<g fill="none" stroke="#808080" stroke-width="2.0" stroke-opacity="0.60" stroke-linecap="round" stroke-linejoin="round"><path d="M1366.6 503.4l-.2-2.8 -.9-2.3 .5-2.9 -.5-3"/><path d="M1370.5 501.6l1.6-1.2 1.5 .9 1.6 2 1.4 1.2"/><path d="M1394.2 437.3l-1.4 2.5 -1.7-.1 -1.3-.6 -1.2 1.1"/><path d="M1401.1 454.5l-.7 2 -1.6 1.9 -.6 3 .2 3.4"/><path d="M1379.3 434.1l.2 3.2 -.7 2.2 0 2.8 .9 1.9"/><path d="M1401.3 494.2l-1 .1 -1.5 .6 -1.4-.6 -1.3-.7"/><path d="M1375.6 442.5l.1 2.2 1.5 2.1 0 2.6 -.6 1.6"/></g>
<g fill="none" stroke="#ffffff" stroke-width="1.4" stroke-opacity="0.95" stroke-linecap="round" stroke-linejoin="round"><path d="M1399.1 506.6l-1-1.8 -1.2-.1 -1.2 1.1 -.9 2.8"/><path d="M1396.9 456.3l-1.3 2.8 -1.5 1.5 -.4 2.8 -1.3 2.2"/><path d="M1375.1 422.9l-.8 1.6 -1.6-.1 -2-.1 -1.6-2.1"/><path d="M1399.8 460.9l-1.3 1.8 -.6 3 -.7 2.5 -.9 1.1"/><path d="M1389.1 510.6l-.9-2.7 -1.9-1.3 -1.2 .8 -2 .4"/><path d="M1358.7 485.1l1.8-.2 1.3-.6 1-1.9 .9-1.4"/><path d="M1365.1 489.9l1.2-1.2 1.8 .4 .9-1.1 1.2 .5"/><path d="M1366.2 439.7l1 .6 2.1 .6 2-.1 1.1-1.6"/><path d="M1404.4 459.1l-1.1 2.1 -1.4 1.8 -.9 1.2 -.2 2.9"/></g>
<g fill="none" stroke="#ffffff" stroke-width="1.2" stroke-opacity="0.80" stroke-linecap="round" stroke-linejoin="round"><path d="M1381.9 462.1l-.6-2.5 -.4-2.1 .5-3.2 -1-3.3"/><path d="M1385.1 454.9l-2.1 0 -1-1.3 -1.4-.7 -1.3-.2"/></g>
<defs><radialGradient id="sg27"><stop offset="0" stop-color="#c6c6c6"/><stop offset="0.6" stop-color="#afafaf"/><stop offset="1" stop-color="#9c9c9c"/></radialGradient></defs>
<use href="#sp24" fill="url(#sg27)"/>
<g fill="none" stroke="#808080" stroke-width="4.6" stroke-opacity="0.60" stroke-linecap="round" stroke-linejoin="round"><path d="M1373 509.8l3.7 5.3 4.3 4.2 6.7 2.9 7.8-1.1"/><path d="M1278.6 599.8l5.4-3.9 3.4-2.6 6.3-3.5 4.7 .6"/><path d="M1296.9 652.3l-2.2-5.2 .7-3.8 4.5-4.5 4.9-1.2"/><path d="M1299 549.1l3.4 4.4 1.4 4.4 5.1 2.2 2.1 5.7"/><path d="M1272.3 535.1l1.5 5.5 5.1 2.9 3.3 4.9 4.1 4.5"/><path d="M1401.3 516.3l-2.2 5.4 -4.5 3.4 -7.4-.6 -4.6-.5"/><path d="M1264.2 579.2l7.9 .9 4.1 2.1 4.3 1.7 4.1-.7"/><path d="M1415.6 637.2l-3.7-4.3 1-4.2 5.8-4.1 7.2-1.4"/><path d="M1452.5 576.1l-6.5-2.2 -2.3-2.7 -3.9-4.7 -1.9-5"/><path d="M1413.5 535.9l-3.5 1.6 -2.6 4.1 -1.2 4.2 -.6 4.1"/><path d="M1377.9 676.2l-7.1-2.9 -6.9-.1 -5.1-2.3 -2.6-4.7"/><path d="M1293.4 628.1l3.6-1.6 6.5 1.1 3.2 3.1 7.4 .8"/><path d="M1318.3 536.4l.7 4.5 1.1 4.8 4.7 4.7 3.9 4.9"/><path d="M1273.2 573.1l6.7-2.1 5.9-2.3 4.3-3.5 -1.1-6.2"/><path d="M1323.2 637l5-4.6 3.5-2.3 3.7-3.7 0-4.8"/><path d="M1331.8 502.3l-2.1 2.9 -1.6 3 -.6 5.2 -3.8 3.9"/><path d="M1340.3 665.9l.3-3.7 3.3-3 -.5-5.4 -6.1-3.6"/><path d="M1435.3 600.6l-4.8-.2 -6.9-2 -6.2 .7 -7.1 1.5"/><path d="M1359.7 527.3l-4.2 4.9 -4.4 .7 -4.9 .8 -7.8 .2"/><path d="M1432.4 617.2l-6.7 2.2 -7.2-2.1 -1.8-3.2 -3.9-2.3"/><path d="M1301.5 548.3l1.1 4.2 .1 5.5 -.7 5.1 .4 4.4"/><path d="M1421.2 553.3l-4.9-3.3 -1.7-4.5 3.6-5.4 -1-3.4"/><path d="M1315.2 647.8l-3.1-5.6 -1.4-3.1 -1.3-6.2 5-4.3"/><path d="M1455.5 603.6l-5.4-3.5 -5.9-.8 -4.6-.7 -6.8 .5"/><path d="M1380 510.1l3.4 2.4 3.3 2.6 1.9 2.9 2.2 5.3"/><path d="M1444.2 568.7l-4.2 1.3 -6.3 1.2 -5.7-3.2 -7.6-1.9"/><path d="M1295 666.2l3.6-4.2 0-3.8 1-4.4 4.5-2.4"/><path d="M1278.4 578.4l5.5 2.8 5.4 3.6 2.7 5.6 -1.8 5.7"/><path d="M1362.4 530.1l-7.1 1 -3.7 1.3 -7.3 1.7 -6.4 .3"/><path d="M1374.9 544.1l-5.2 3.9 -6.9 1.9 -3.8-1.8 -2.4-4.7"/><path d="M1444.7 571.5l-6.5-.1 -3.3-2.2 -6.7 .8 -4.4 4"/><path d="M1237.6 572.3l4.9-3.8 5.5-1.6 4.2-2.3 5.5-2"/><path d="M1315.3 657.9l-1.6-5.5 2.3-5.3 6-3.1 2.3-3"/><path d="M1270.8 597.8l4.7-3.1 1.1-3.1 -2.5-4.2 -.8-3.2"/></g>
<g fill="none" stroke="#ffffff" stroke-width="2.3" stroke-opacity="0.95" stroke-linecap="round" stroke-linejoin="round"><path d="M1330 660.4l1.1-3.4 2.7-5.8 4.6-3.1 2.7-4.1"/><path d="M1430.8 535.9l-.8 4.7 -2.8 3 -5.3 3.6 -4.3 1.1"/><path d="M1301.4 530.4l4.6 .5 7.9-.2 5.6-.4 6.3 3.9"/><path d="M1249.2 578.3l6.2-1.8 5.8-.9 5.7 2.9 6.5 2.3"/><path d="M1350.3 523.9l.4 5.1 -3.6 4.4 -3.7 3.4 -4.6 1.2"/><path d="M1308.1 639.6l3.6-2.8 6.3-.7 6.6-3.2 4.6-.6"/><path d="M1271.6 611.5l5.6 3.3 .8 5.3 5.9 3.7 4.3-.5"/><path d="M1328.3 535.2l2.7 5.6 4 1.8 3 5.2 -1.9 3.2"/><path d="M1270.7 532.7l3.1 2 4.6-.2 5.1-3.3 5.3-1.7"/><path d="M1310.8 518.7l-.9 3.8 -4.1 2.4 -2.3 2.8 -.6 5.2"/><path d="M1419 537.1l-3.6 2.2 -3.2 3 -.3 3.5 -4.6 3.1"/><path d="M1427.5 550.8l-5.8 2.2 -1.8 3.4 -2.5 5.5 3.2 5"/><path d="M1459.9 598.2l-6-.8 -6.3 .9 -6.8 3 -.6 3.2"/><path d="M1293.8 653.8l4.5-2.3 1.9-4.8 4.1-4.3 6-2.9"/><path d="M1405.1 547.8l-7.5-2.3 -6.1 2.3 -6 3.5 -7.4-.9"/><path d="M1334.9 650.4l4.6-4 5.3-3.6 3.3-1.9 6.6-1.4"/><path d="M1264.5 541.6l7.6 1.7 6 .6 5.6 4.2 3.1 4.9"/><path d="M1317.7 643.2l-3.3-5.7 -5.7-2.3 -2.7-2.4 -6.1-2.1"/><path d="M1245.2 597.9l6.7 2 2.8 5.7 4.8 4 1.9 3.4"/><path d="M1427.6 565.7l-4.9 3.5 -1.8 5 -3.2 4.4 .9 3.1"/><path d="M1372.6 534.1l-4.8-.3 -4.6-1.4 -7.5 1 -4.7-2.3"/><path d="M1441.2 636.3l-2.3-3.3 .4-4.7 -5.2-4.1 -2.5-3.4"/><path d="M1268.7 532.3l2.7 3 4.2 2.9 -.2 4.9 .9 5.1"/><path d="M1312.8 520.9l7 1.7 5.5-1.2 3-3 4.4-1.5"/><path d="M1415.3 605.4l-3.8-3 -.1-4.4 -.3-6.3 3.4-3.7"/><path d="M1359.1 656.1l-2.3-4.4 -2.5-3 -5.3-4.2 -.1-4.3"/><path d="M1386.2 647.8l-1.9-3.9 -2.2-3.6 -2.2-2.8 1.4-5.8"/><path d="M1431.6 608.8l-6.4 2.4 -4.3 3 -5.2 2 -7.1-1.6"/><path d="M1297.8 661.9l5.2-4.4 7.4-.4 4.5 1.1 6.5 3.2"/><path d="M1334.5 528.9l-1.3 3 -5 2.9 -2.6 3.7 -2.8 3.2"/><path d="M1364.9 664.4l-3.6-2.3 -6.7-1.5 -4.3-1.3 -5.6 .8"/><path d="M1244.9 554.4l5.3-.6 5.5 1.2 1.7 3.2 -1.4 5.9"/><path d="M1447.6 633.6l-4.2-1.7 -4.8-3.8 -5.4-1.8 -4-5.3"/><path d="M1345.9 658.4l-1.3-5.7 -4.7-3 -1.7-3.7 -5.1-2.5"/><path d="M1407.1 623.1l-.2-4.1 3.4-2.4 .9-3.9 .1-4.8"/><path d="M1319 507.3l7.8 .5 7.1 2.8 6.2 1.6 4-1.3"/><path d="M1269.9 611l4.3-1.3 3.6-4.3 4.2-1.9 7.7-1.7"/><path d="M1285.8 629l6-1.5 3.9 1.3 7.1 .2 4.6-2.2"/><path d="M1335.1 532.8l.2 5.3 -1.6 4.8 2.4 3 -1.4 4.5"/><path d="M1306.4 535.2l1.9 4.8 1.5 4.1 -2.6 2.8 -1.4 5.1"/><path d="M1358.8 533.2l2 5.3 2 5.4 -1.2 5.9 3.6 5.2"/><path d="M1457.4 602.9l-7.7 .4 -4.5-3 -1-5.9 -4-4.4"/><path d="M1402.9 653l-5.4-4.4 -3.2-2.9 -2.6-5.5 -.4-5.5"/></g>
<g fill="none" stroke="#ffffff" stroke-width="1.8" stroke-opacity="0.80" stroke-linecap="round" stroke-linejoin="round"><path d="M1366 610.7l1.1-5.5 1.5-4.7 3.5-3.9 1.9-3.7"/><path d="M1370.7 559.6l4.6-1.3 3.5-3.6 -.8-5.6 -2.3-3.3"/><path d="M1361.2 563.5l1.8-7 -.4-4.3 .6-4.3 1.6-5.2"/><path d="M1400.9 623.9l5.5-4.6 5.9-5.4 8.9-.4 4.9-.1"/><path d="M1408.2 610.4l6.1 1.9 4.6 4.3 8.5 1.4 5.9 0"/><path d="M1315.8 624.8l8.4 2.7 4.5 3 3.9 3.2 6 2.1"/><path d="M1317.3 571.9l7.8-1.8 2.6-4.4 -3.1-5.2 1.9-5.3"/><path d="M1355 565.7l5.4-3.7 1.8-4.6 -.3-6.6 -2.9-3.5"/><path d="M1312.4 627.7l-6.9 3.4 -8.3 1.6 -7 1.4 -5.4 4.7"/><path d="M1392.5 606l-3.3 2.9 0 3.9 2.9 5.8 4 1.8"/></g>
<ellipse cx="1294.7" cy="574.3" rx="14.0" ry="4.0" fill="#fff" transform="rotate(-35 1294.7 574.3)"/>
<ellipse cx="1395.7" cy="607.1" rx="14.0" ry="4.0" fill="#fff" transform="rotate(40 1395.7 607.1)"/>
<ellipse cx="1333.1" cy="574.3" rx="5.0" ry="8.0" fill="#fff"/>
<defs><filter id="sf28" x="-20%" y="-20%" width="140%" height="140%"><feGaussianBlur stdDeviation="2.5"/></filter></defs>
<g filter="url(#sf28)">
<ellipse cx="1345.9" cy="621.3" rx="59.8" ry="61.2" fill="#f2b4a0"/>
<ellipse cx="1304.7" cy="550.2" rx="15.6" ry="15.6" fill="#7aa0ee"/>
<ellipse cx="1392.9" cy="550.2" rx="17.1" ry="17.1" fill="#9ab8f2"/>
<ellipse cx="1310.4" cy="567.2" rx="11.4" ry="5.7" fill="#f09080"/>
<ellipse cx="1348.8" cy="571.5" rx="18.5" ry="11.4" fill="#f0a090"/>
<ellipse cx="1350.2" cy="598.5" rx="18.5" ry="17.1" fill="#d02a40"/>
<ellipse cx="1323.2" cy="604.2" rx="8.5" ry="15.6" fill="#d23040"/>
<ellipse cx="1316.1" cy="635.5" rx="18.5" ry="14.2" fill="#b8d0f6"/>
<ellipse cx="1382.9" cy="638.4" rx="18.5" ry="18.5" fill="#a8c4f6"/>
<ellipse cx="1347.4" cy="665.4" rx="25.6" ry="11.4" fill="#e86a5c"/>
<ellipse cx="1313.2" cy="671.1" rx="17.1" ry="8.5" fill="#f4c0b0"/>
<ellipse cx="1395.7" cy="664.0" rx="17.1" ry="10.0" fill="#d8dcec"/>
<ellipse cx="1374.4" cy="602.8" rx="10.0" ry="11.4" fill="#ec8470"/>
</g>
</g>
<use href="#sp22" fill="none" stroke="#1c1c1c" stroke-width="4.2" stroke-linejoin="round"/>
<use href="#sp23" fill="none" stroke="#1c1c1c" stroke-width="4.2" stroke-linejoin="round"/>
<use href="#sp24" fill="none" stroke="#1c1c1c" stroke-width="4.2" stroke-linejoin="round"/>
<ellipse cx="1348.1" cy="528.8" rx="10.5" ry="4" fill="none" stroke="#1c1c1c" stroke-width="3.2"/>
<ellipse cx="1248.5" cy="532.4" rx="3.2" ry="6" fill="#1c1c1c"/>
<path d="M1591.9 429.4c1-3.7 3.1-2.8 4.3-2.3c1.2 .5 2.5 1 2.9 5.2c.4 4.2 -.1 15.1 -.6 20.1c-.5 5 -1.3 8.6 -2.3 10c-1 1.4 -2.5 .8 -3.5-1.4c-1-2.1 -2.2-6.2 -2.3-11.5c-.1-5.3 .5-16.4 1.5-20.1Z" fill="#8c8c8c" stroke="#1c1c1c" stroke-width="3.2"/>
<path d="M1604.8 426.5c.7-3.4 2.9-2.4 4.3-.5c1.4 1.9 3.4 7.6 4.3 12c1 4.4 1.9 10.3 1.4 14.4c-.5 4.1 -3 8.6 -4.3 10c-1.3 1.4 -2.5 1.2 -3.4-1.4c-1-2.6 -1.9-8.6 -2.3-14.4c-.4-5.8 -.7-16.7 0-20.1Z" fill="#8c8c8c" stroke="#1c1c1c" stroke-width="3.2"/>
<defs><path id="sp30" d="M1493.4 549.8l-.8-5.4 -.2-7.2 -.4-7.9 1.3-7.7 1.8-6.4 3.7-7.3 3.9-5.9 5.2-6.2 3.1-5.3 4.5-5.3 4.6-5.3 4.2-4.8 3.5-3.5 6.3-4.1 5 .3 2.4 5.3 2.3 7.2 1.9 5.6 4.2 4.1 6.2 2.3 7.5 4.3 6.6 4.6 3.2 6.6 .5 7.7 -2.8 7.2 -4.1 6.9 -3.3 7.1 -3 6.6 -5.5 5.9 -7.7 3.9 -6.5-1.3 -6.9-3 -6.7-1.3 -7.1 1.7 -7 3.8 -5.7 3.3 -5.1 2.9 -4.1 .4 -3.6-2.9Z"/><path id="sp31" d="M1633.2 503.8l4.2-4.2 5.1-4.1 5-3.5 6.2-4.4 4.7-4.2 2.1-6.9 2-6.6 6.7-3.3 7-.5 4.8 3.7 3.6 5.6 .2 6.3 -.1 5.7 7-.7 7.3 1 3.2 3.1 2.9 5.8 2.9 6.4 1.4 6.4 1.5 7.8 .2 7.9 0 7.6 -.9 7.9 -.3 7.9 -1.7 5.9 -6.4 2 -8.1-1 -8-2.6 -9-1.8 -6.8 .4 -6.9 1.2 -6.6-1.4 -6.9-2.3 -6.1-4.6 -4.5-5.6 -3.4-5.6 -2.1-6 -2.5-5.8 -.9-9.2Z"/><path id="sp32" d="M1579.2 535.8l5.4-2.5 7.2-1.9 7.2-.9 7.2-.2 7.1 1.1 6 2.5 5.8 6.2 4.3 6.8 -.2 7.1 1.5 5.8 5.9 1.9 8.4 1.1 8.2 2.3 5.8 2.7 6.3 2.8 6.2 3.4 5.1 4.4 4.6 5.1 4.1 5.8 3 6.3 2.4 5.9 2 7.7 1.1 7.8 -.8 7.6 -2.4 6.9 -3.2 6.6 -5.5 6.1 -4.4 3.8 -5.6 3.6 -5.7 4.2 -6.2 3.5 -6.5 2.3 -6.9 2 -7.7 .9 -7.6 1.3 -6.9 .2 -5.5 .8 -6.5-2.4 -2.6-5.3 -2.3-8.7 -2.7-5.9 -3.9 5.7 -4.8 8.6 -4.5 2.7 -5.3 2.5 -7.3 .4 -5.9-.7 -7-.7 -7.5-.9 -7.3-1.6 -6.9-1.2 -6.1-2.5 -5.9-3.2 -5.2-3.8 -4.8-3.9 -3.5-4.4 -3.9-5.2 -2.9-5.6 -1.7-6 -.5-6 .8-7.7 2.5-7.6 3.4-7.3 3.3-5.4 3.5-5.7 4.9-4.8 4.9-4.4 5.4-3.7 6.2-3 5.9-3 5.2-2.4 8.3-2.5 5.4-2 2.3-5.4 1-6.9 2.5-6Z"/><clipPath id="sc29"><use href="#sp30"/><use href="#sp31"/><use href="#sp32"/></clipPath></defs>
<g clip-path="url(#sc29)">
<defs><radialGradient id="sg33"><stop offset="0" stop-color="#949494"/><stop offset="0.6" stop-color="#828282"/><stop offset="1" stop-color="#9c9c9c"/></radialGradient></defs>
<use href="#sp30" fill="url(#sg33)"/>
<g fill="none" stroke="#808080" stroke-width="2.0" stroke-opacity="0.60" stroke-linecap="round" stroke-linejoin="round"><path d="M1559 506.1l-1.3 1.4 -.8 1.8 -.8 2.7 -1.5 2"/><path d="M1542 484l-1.2 2.1 .6 2.9 1 1.7 2.5 1.1"/><path d="M1570.3 504.3l-2.2 .9 -2.3 0 -1.7-1.2 -.2-1.6"/><path d="M1560.7 519.9l-2.1 .1 -2.5-.5 -2.3-1.5 -1.8 .1"/><path d="M1554.5 484.4l-.1 1.8 -1.3 2 -.2 2.4 .4 2.4"/><path d="M1572.2 501.5l-1.7 .9 -2 .8 -2.4 .9 -1.7 1.9"/><path d="M1565 495.8l-1.9 1.5 -.8 1.4 -2.2 1 -2.5 1.3"/><path d="M1511.2 530.1l1.7-.8 1.7-.7 2.4-1.4 1.9 .7"/></g>
<g fill="none" stroke="#ffffff" stroke-width="1.4" stroke-opacity="0.95" stroke-linecap="round" stroke-linejoin="round"><path d="M1565.5 504.3l-2.1 2.1 0 2.9 -1.3 1.3 0 2.9"/><path d="M1536.4 542.8l-1.3-1.2 -2.4-1.3 -1.8-.5 -.8-1.5"/><path d="M1559.3 511.4l-1.9-1.1 -2.1-1 -1.5-.7 -.8-2.8"/><path d="M1543 479.5l-2 1.7 -2.5-.3 -1.6-.3 -.9-1.5"/><path d="M1521.7 479.6l.5 2.3 -.4 2.6 0 2.3 1.3 1.2"/><path d="M1506.3 518.9l2.3 1 1.6 1.2 .6 1.6 1.7 1.1"/><path d="M1554.3 493.4l-.9 1.7 .1 1.7 -.3 2.7 1.2 2.8"/><path d="M1501 518.2l1.1-1 .9-1.4 1-1.4 .9-2"/><path d="M1536 468.5l-1.1 1.1 -2.5 .1 -1.9 1.1 -2-.7"/><path d="M1512.6 538.2l1-2.1 2.5-.8 1.5-1.2 1.3-1.1"/><path d="M1494.9 528l2.7-.5 1.3-2.3 .3-2.6 1.9-1.2"/></g>
<g fill="none" stroke="#ffffff" stroke-width="1.2" stroke-opacity="0.80" stroke-linecap="round" stroke-linejoin="round"><path d="M1519.5 532.8l-1 1.6 -2.3 1.9 -1.3 1.2 -.2 2.2"/><path d="M1519.6 531.6l0-1.9 -1.5-1.7 -.3-3.2 1.2-2.4"/></g>
<defs><radialGradient id="sg34"><stop offset="0" stop-color="#949494"/><stop offset="0.6" stop-color="#828282"/><stop offset="1" stop-color="#9c9c9c"/></radialGradient></defs>
<use href="#sp31" fill="url(#sg34)"/>
<g fill="none" stroke="#808080" stroke-width="2.0" stroke-opacity="0.60" stroke-linecap="round" stroke-linejoin="round"><path d="M1663 537l.4-2.1 -1.5-2.5 -1.8-1.9 -1.6-.7"/><path d="M1686 481.7l-.3 2 -.9 1.5 -.7 1.5 -1 2.3"/><path d="M1632.7 507.3l2.1 1.6 1.1 1.7 -.6 2.8 -.6 2.4"/><path d="M1694.4 521.8l-1.6-.3 -2.6 .3 -1.1 1.1 -1.7 .4"/><path d="M1693 483l-1.3 .7 -1.6-.4 -2-.4 -2.2 1.2"/><path d="M1692.4 526.9l-2.1-2.1 -.6-1.7 -.2-2 -1.2-.9"/><path d="M1676.6 468.1l-.4 2 -1 2 .8 3 0 2.9"/><path d="M1656.2 485.9l0 2 .1 3 1.3 2.1 1.9 .3"/></g>
<g fill="none" stroke="#ffffff" stroke-width="1.4" stroke-opacity="0.95" stroke-linecap="round" stroke-linejoin="round"><path d="M1693.2 493l-1.9-.2 -1.8-.7 -1.9 1.5 -.8 2.5"/><path d="M1646.5 480.6l2.1 .2 1.8-1.2 1.6-2.5 1.4-2"/><path d="M1647 479.7l1.6-.4 2.6-.2 1.5-.3 2.1-.4"/><path d="M1646.4 539.1l2-1.8 2.1-.6 2.3 .6 2.2-.6"/><path d="M1659.5 478.1l1.5 2.2 1.9 .5 1.9-.8 1.4-2.1"/><path d="M1697.4 498.7l-2.3 .2 -2.7-.3 -1.4 .6 -1.7-.1"/><path d="M1644.6 497.5l1.1 1.6 .8 1.9 -.8 2.8 .4 2.8"/><path d="M1633.7 504.3l1.4 1.2 2.2 1.9 2.1 .2 1.4 .4"/><path d="M1678.7 477l.3 3 .8 2.2 .6 2.2 1.2 2.4"/><path d="M1697 515l-1.9-.1 -1.8-2.2 0-1.7 -1.1-1.9"/><path d="M1639.2 505.5l1.1-2 1.8-.4 2.2 1.9 1.6 1.2"/></g>
<g fill="none" stroke="#ffffff" stroke-width="1.2" stroke-opacity="0.80" stroke-linecap="round" stroke-linejoin="round"><path d="M1661.2 518.4l-.1 2.3 .4 2.2 .4 3 .4 3.5"/><path d="M1675.3 536l-2 1.2 -1.9 .3 -2.7 1.5 -2.9 1.4"/></g>
<defs><radialGradient id="sg35"><stop offset="0" stop-color="#949494"/><stop offset="0.6" stop-color="#828282"/><stop offset="1" stop-color="#9c9c9c"/></radialGradient></defs>
<use href="#sp32" fill="url(#sg35)"/>
<g fill="none" stroke="#808080" stroke-width="3.7" stroke-opacity="0.60" stroke-linecap="round" stroke-linejoin="round"><path d="M1581.2 553.1l5.5 .3 4-.7 3.2-4 3-1.3"/><path d="M1632.7 629.9l-1.6-4.5 -5.3-2.4 -4.8 .6 -4.2-.6"/><path d="M1563.3 654.1l.3-4.3 3.4-3 1.6-2.3 -1.2-3.2"/><path d="M1529 615.3l5.1-1.7 1.7-2.5 5.2-.9 5.6 .9"/><path d="M1556.6 552l3.5 3.9 4.5 1.4 2.5 3.7 -1.2 2.9"/><path d="M1542.9 621.9l4.2-1.9 3.1-3.9 2.6-2.8 .4-4.2"/><path d="M1637.4 635.2l-2.6-1.8 -.2-3.9 -2.5-1.6 -2.8-2.7"/><path d="M1543.4 611.3l4.3-2.1 5.5-1.9 4.4-.2 3.1 1.3"/><path d="M1530.6 569.6l2.3 2.8 -.2 3.3 1.2 4.5 3.3 3.1"/><path d="M1616.4 551.9l3.1 1.9 3 3.3 3.8 2.9 2.3 2.7"/><path d="M1658.3 563.5l-4.3 .7 -1.7 2 -4 .9 -2.3 3.6"/><path d="M1574.3 637l1.1-3.5 .2-3.2 -3.5-3.2 -2.3-3.7"/><path d="M1546.1 648.2l6.2 1 6.2-1 4-.9 2-2.5"/><path d="M1599.2 642.3l3-2.1 5.1-2.6 2.8-1.7 .8-3"/><path d="M1615.2 540.5l-2.8 3.5 -3.1 1.2 -2.5 4.2 .4 2.4"/><path d="M1563.5 540.2l3.4 3.5 -.5 3.7 -.7 3 -2.4 2.8"/><path d="M1660.4 581.1l-5.8-1.2 -3.7-.3 -3.7-2.6 -2.8-3"/><path d="M1571.9 563.4l1.8 2.8 .6 2.7 -.7 3.9 -3 2.4"/><path d="M1516.7 586.4l4.1 1.6 3.9 .7 3.3 2.5 4.2 2.7"/><path d="M1646.1 656l-1.9-3.7 -.7-2.3 2.4-2.7 -.7-2.4"/><path d="M1529.4 578.6l5.2-2.1 2.4-3.2 -2-4.6 -1.5-2.6"/><path d="M1627.6 662.5l-2.2-2.2 -3.7-.3 -4.8-.7 -3.4 1.5"/></g>
<g fill="none" stroke="#ffffff" stroke-width="1.8" stroke-opacity="0.95" stroke-linecap="round" stroke-linejoin="round"><path d="M1533.3 573.6l4.9 1.4 4.6-.9 3.6-.1 3.4 .8"/><path d="M1608.6 547.3l.1 4.3 3.9 2.2 5 1.1 3.3 1.5"/><path d="M1545.1 621.1l.7-4.2 2.4-4.1 -1.1-3.8 -4.8-1.7"/><path d="M1653.4 578l-4.8-1.3 -4.6-.5 -3.8-2.4 -5-1.7"/><path d="M1588.2 545.3l-1 2.7 -1.4 2.2 -1.5 4.1 -1.6 4.2"/><path d="M1668.3 634.3l-2.7-3.6 .6-4 -.6-3.3 1.5-4.4"/><path d="M1530.9 561.9l4.1 1 2.3 4.5 .2 3.7 -.2 4.1"/><path d="M1523.4 570.8l2.7 2.1 1.8 3.5 .6 3.1 -2.5 4.4"/><path d="M1629.7 635l-.1-4.1 -2.7-2.3 -2.3-4.3 -3.3-2.9"/><path d="M1643.6 565.4l1.3 2.7 2.4 4 -1.9 3.6 -3.1 2.5"/><path d="M1647.2 657l-.4-3 -1.9-2.2 -5.1-.5 -4.1-.5"/><path d="M1657.8 652.7l-5-1.3 -3.4 .1 -4-.2 -4-.9"/><path d="M1521.8 626.1l4.5 .2 4.7-2.3 3.3-3 -.4-3.6"/><path d="M1530.1 612l4.1-.7 5.9-.1 3.8 2 3.3 1.1"/><path d="M1655.1 640.4l-2.9-2 -3.9-2.8 -.5-2.9 2.9-3.8"/><path d="M1658.9 604.1l-4.4-.3 -2.2 1.8 -.9 3.1 -2 2.7"/><path d="M1591.2 551.2l-2.3 1.9 -5.8-.2 -3-1 -3.3-4"/><path d="M1527.2 608l2.5 3.7 4.1 1.4 2.2 3.8 .1 3.1"/><path d="M1663.4 601.5l-1.8 2.1 -4.4 3.3 -3.7 3.3 -3.8 0"/><path d="M1536.6 604.5l2.4-2.7 2.1-2 5.5-.5 5-2"/><path d="M1539.8 572l4.9 1.6 3.2 .7 3.8-.4 4.9-.9"/><path d="M1594.8 649.5l1.2-4 1-2.9 4.9-1.7 2.8-4.2"/><path d="M1525 607.1l5.6 .7 2 2.6 2.5 2.7 2.7 2.1"/><path d="M1653.1 557.9l-1.2 3.8 2.1 2.9 -.2 2.6 1.8 4.2"/><path d="M1689.1 594.3l-4.5 1.6 -4.5 2.4 -3.9-.5 -3.3 1.4"/><path d="M1559.5 548.1l4.7 3.2 4.1 1.6 3.8 3.7 6.1 1"/><path d="M1692.4 590.9l-3.6-2.8 -3.3-.3 -6-.8 -3.9-1.8"/><path d="M1532.9 587.6l2.9 1.3 5.8 1.1 5.3-1.1 3-3"/></g>
<g fill="none" stroke="#ffffff" stroke-width="1.5" stroke-opacity="0.80" stroke-linecap="round" stroke-linejoin="round"><path d="M1623.3 619.2l3.2-3.9 4.7-1.9 1.8-3.9 -2.5-3.5"/><path d="M1586.7 617.6l-2-3 -3-2.4 .5-4.4 3.6-2"/><path d="M1611.9 582.2l-4.1-.2 -4.4-1.9 -5.8 .1 -5-3.3"/><path d="M1568.4 569.4l-.3 4.3 -2.7 3.9 -2.9 4.3 -2.8 2.8"/><path d="M1621.2 579.9l-5.8-2.2 -5.2-3.4 -1-3.3 1.3-5.2"/><path d="M1562.1 599.8l0 4.6 -1.9 2.8 1.3 4.5 .2 2.9"/><path d="M1571.2 576.9l-1.7-4.1 -3.2-1.5 -3.6-1.8 -6.3-.4"/></g>
<ellipse cx="1600.5" cy="585.7" rx="8.0" ry="8.0" fill="#fff"/>
<defs><filter id="sf36" x="-20%" y="-20%" width="140%" height="140%"><feGaussianBlur stdDeviation="3.0"/></filter></defs>
<g filter="url(#sf36)">
<ellipse cx="1601.9" cy="601.5" rx="94.6" ry="68.8" fill="#ee7860"/>
<ellipse cx="1536.0" cy="607.2" rx="25.8" ry="28.7" fill="#f08468"/>
<ellipse cx="1670.7" cy="613.0" rx="25.8" ry="31.5" fill="#f08468"/>
<ellipse cx="1601.9" cy="555.6" rx="20.1" ry="20.1" fill="#ee7258"/>
<ellipse cx="1604.8" cy="595.7" rx="25.8" ry="43.0" fill="#aaaaaa"/>
<ellipse cx="1576.1" cy="601.5" rx="14.3" ry="25.8" fill="#a2a2a2"/>
<ellipse cx="1630.6" cy="601.5" rx="14.3" ry="25.8" fill="#a2a2a2"/>
<ellipse cx="1601.9" cy="653.1" rx="22.9" ry="14.3" fill="#ee7a60"/>
<ellipse cx="1520.2" cy="578.5" rx="17.2" ry="17.2" fill="#b8cef4"/>
<ellipse cx="1564.6" cy="515.4" rx="4.6" ry="4.6" fill="#4a70e0"/>
<ellipse cx="1643.5" cy="515.4" rx="4.6" ry="4.6" fill="#4a70e0"/>
<ellipse cx="1560.3" cy="512.6" rx="2.9" ry="2.9" fill="#f09070"/>
</g>
</g>
<use href="#sp30" fill="none" stroke="#1c1c1c" stroke-width="4.2" stroke-linejoin="round"/>
<use href="#sp31" fill="none" stroke="#1c1c1c" stroke-width="4.2" stroke-linejoin="round"/>
<use href="#sp32" fill="none" stroke="#1c1c1c" stroke-width="4.2" stroke-linejoin="round"/>
<defs><path id="sp38" d="M1759.7 521.2l.7-7.9 1.1-9.5 1-8.7 2.7-8.4 3.9-5.1 5.3-4.8 4.9-4.9 5.5-4.3 6-3.7 6.1-1.8 9.2 1 7.4 4.4 3.5 4.3 2.5 5.9 1.3 6.2 -.2 6.7 -1.6 7.2 -2 6.2 -3.9 6.5 -4.8 4.8 -4.7 4.3 -6.5 2.3 -8.4 2.1 -8.8 .7 -8.1 1.3 -6.4 .1 -3.5-1.3Z"/><path id="sp39" d="M1892.3 481.2l1.8-5.6 2.5-6.6 3.1-5.6 7-5.9 7.8-1.5 4.9 2.8 3.7 5.1 5.8 4.1 5.6 4.5 4.7 3.9 4.3 4.5 1.2 8 .9 9.5 2.7 7.2 3.5 7.2 2.4 5.6 -.3 4.9 -4.6 3.2 -5.9 1 -7.3 .3 -7.3-.7 -7-.7 -7-1.1 -6.4-2.1 -4.9-4.6 -3.2-6.1 -2.4-6 -3.2-7.5 -2.5-6.7 -.9-5.4Z"/><path id="sp40" d="M1839.8 529.4l6.4-2.1 7.1-.3 6.7 .2 8.7 1.9 8.1 4.4 4.5 3 4.5 4.2 4.5 4.6 4 4.7 5.3 6.1 4.8 6.4 4.1 4.9 4.8 2.1 4 0 5.3-1.7 6.4 .1 7.7 3.4 6.4 7.3 2.8 4.9 2.4 5.9 2.4 6.1 .7 6 0 7.8 -2.3 7.8 -3.8 6.9 -3 4.9 -3.6 4.8 -4.4 4.5 -5.3 3.6 -6.5 3.2 -7.7 2.3 -7.7 1.7 -7 1.1 -7.4 2.3 -6.6 1.1 -6-.2 -7.9-3.3 -6.3-5.6 -5.1-8.7 -4.9-6.3 -4 4.5 -3.6 7.5 -4.7 4.2 -5.6 4.7 -6.6 3.1 -7.3 1.5 -7.8 .6 -7.9-.9 -6-1.1 -6.2-1.7 -5.8-3.1 -5-4.1 -5-4.2 -4.3-5.2 -4.2-5.2 -3.5-5.6 -2-6.9 -1.8-7.6 -.7-7.6 .6-6.5 1.8-6.8 3.6-5.5 3.7-5.4 5.5-3.9 6.2-2.8 5.8-1.9 6.1-1.3 5.3-1.4 5.9-4.8 5.7-6.4 3.6-4.8 3.6-5.1 4.4-4.3 4.8-3.9 4.6-4Z"/><clipPath id="sc37"><use href="#sp38"/><use href="#sp39"/><use href="#sp40"/></clipPath></defs>
<g clip-path="url(#sc37)">
<defs><radialGradient id="sg41"><stop offset="0" stop-color="#949494"/><stop offset="0.6" stop-color="#828282"/><stop offset="1" stop-color="#9c9c9c"/></radialGradient></defs>
<use href="#sp38" fill="url(#sg41)"/>
<g fill="none" stroke="#808080" stroke-width="2.0" stroke-opacity="0.60" stroke-linecap="round" stroke-linejoin="round"><path d="M1804.1 470.1l-1.7 .7 -1.4 1.2 -1.8 .7 -.8 1.5"/><path d="M1773 468.6l.5 2.2 .8 1.1 .5 1.7 .2 1.7"/><path d="M1770.3 483.5l1.1-1.1 .1-2.2 -.9-1.1 -.6-1.7"/><path d="M1794.1 523.1l.5-1.2 1-.5 1.1 .2 1-.6"/><path d="M1770.6 503.8l1.1 0 1 .8 .8 1.4 1.3 .8"/></g>
<g fill="none" stroke="#ffffff" stroke-width="1.4" stroke-opacity="0.95" stroke-linecap="round" stroke-linejoin="round"><path d="M1771.7 492l.9 .9 1 .3 1.3 1.1 1.8 1.1"/><path d="M1788.8 464.5l1.1 1.6 .2 1.3 .2 1.4 .6 1.3"/><path d="M1798.5 466.6l-.8 1.5 -.8 1.6 0 1.3 -.4 1.4"/><path d="M1772 508.3l1.6-.9 1.3 .1 1.1-.3 .9-.7"/><path d="M1781 515.4l-.5-1.8 -.6-1.8 -.5-1.5 -.2-1.3"/><path d="M1815.6 488l-1.8-.8 -1.6-1.2 -1.4-.4 -2.1-.1"/><path d="M1778.9 523l.9-.9 .1-1.8 .9-1.4 1.1-.2"/></g>
<g fill="none" stroke="#ffffff" stroke-width="1.2" stroke-opacity="0.80" stroke-linecap="round" stroke-linejoin="round"><path d="M1794.3 486l1.6-1 .8-1.8 .4-1.5 .8-1.3"/></g>
<defs><radialGradient id="sg42"><stop offset="0" stop-color="#949494"/><stop offset="0.6" stop-color="#828282"/><stop offset="1" stop-color="#9c9c9c"/></radialGradient></defs>
<use href="#sp39" fill="url(#sg42)"/>
<g fill="none" stroke="#808080" stroke-width="2.0" stroke-opacity="0.60" stroke-linecap="round" stroke-linejoin="round"><path d="M1918.9 525.2l.2-2 .2-2.1 -.9-2 -.9-2"/><path d="M1942.8 512l-2.1-.1 -.9-1.3 -1.3-.7 -.7-1.6"/><path d="M1904.7 466.8l1.1 .5 1.4-.9 1-1.4 -.4-2"/><path d="M1903.4 486.8l1.4 0 2 .2 1.2-.9 1.3-.2"/><path d="M1907.2 512.8l1.3-.3 1.7-1.4 .7-1.4 .8-1.7"/><path d="M1911.3 517.9l.9-1.5 -.1-1.8 .9-1.1 1.5-1.2"/></g>
<g fill="none" stroke="#ffffff" stroke-width="1.4" stroke-opacity="0.95" stroke-linecap="round" stroke-linejoin="round"><path d="M1899 476.4l1.5 .4 2-.5 .9-1 1.7-.2"/><path d="M1922.8 514.8l.8-1.4 1.4-.8 .9-2.1 1.1-.4"/><path d="M1929.1 468l-1.9 .9 -.9 1.2 .1 1.7 .6 1"/><path d="M1912.8 511.1l-.6-1.2 -1.5-1.1 -1.4-.1 -1.5-1"/><path d="M1925.3 522.2l-.4-1.4 -1.2-2 -.2-1.8 -1.1-.8"/><path d="M1902.6 468.2l-.8 1.9 -2 .6 -.9 2 .4 1.8"/><path d="M1920 459.5l.6 1.2 -.7 2.3 -1.5 1.4 -1.5 .3"/><path d="M1913.8 472.6l1.6 .6 .6 2.1 .9 1.1 1 1.8"/></g>
<g fill="none" stroke="#ffffff" stroke-width="1.2" stroke-opacity="0.80" stroke-linecap="round" stroke-linejoin="round"><path d="M1908.2 493.8l-.2-2.4 -1.4-1.9 -1.1-1.2 .1-2"/><path d="M1917.3 500.3l-2.4-.2 -1.8 .5 -1.6 1.5 -1.2 .5"/></g>
<defs><radialGradient id="sg43"><stop offset="0" stop-color="#949494"/><stop offset="0.6" stop-color="#828282"/><stop offset="1" stop-color="#9c9c9c"/></radialGradient></defs>
<use href="#sp40" fill="url(#sg43)"/>
<g fill="none" stroke="#808080" stroke-width="3.8" stroke-opacity="0.60" stroke-linecap="round" stroke-linejoin="round"><path d="M1788.5 631.7l.3-2.4 -2-2.5 -2.8-2.4 -4.3-3.2"/><path d="M1924.8 554.7l-2.5 3.7 -1.4 2.5 -1.9 2.4 -2.2 3.8"/><path d="M1800.6 625.6l4-.2 3.8 2 5.2 1.5 5.8-.2"/><path d="M1878.4 543.2l-1.1 4.2 -1.4 3.2 -3.6 2.3 -3.2 1.8"/><path d="M1796.6 571.7l1.7 2.5 3.2 1.1 1.5 2.3 -2.6 3.5"/><path d="M1838.5 552.6l4.6 3.2 5.8 1.9 6 .2 2.4 1.7"/><path d="M1917.9 569.9l-2.3 3.7 1.9 2.8 1.1 3.3 3.7 1.3"/><path d="M1915.6 552.7l.2 2.3 .9 3.1 -2.5 2.3 -2.5 2.7"/><path d="M1791.7 610.2l5.8 2.1 3.8-.6 4.6 2.1 4.9 2.1"/><path d="M1867.2 627.9l-1.2-2.3 -3.4-3.1 -3.6-.3 -5 .6"/><path d="M1827.8 560.4l-1.3 2.1 -3.9 1.5 -2.6 1.5 -.3 2.8"/><path d="M1866.7 639l-.8-3 -2.6-1.4 -6.3-.6 -3.1-2.3"/><path d="M1825.4 625.6l3.8-1.1 6.3-.8 4.2 2.3 4.8-.5"/><path d="M1860.1 629.2l3.8-1.6 4.8 0 3.4-2.2 4.5 .3"/><path d="M1918.1 600.8l-2.6-1.5 -3.4-3.5 -3.5-.7 -3.3-.5"/><path d="M1783.1 596.9l3.4 .2 6.3 0 6.2-.1 4 2"/><path d="M1923.6 575.1l-3.6-1.7 -3.4-1.1 -5.9-1.2 -1.9-2.3"/><path d="M1858.1 528.6l-3.2 1.7 -5.7-.8 -3-2.7 -4.3-2.2"/><path d="M1888.2 629.8l-3-1.2 -3-1.1 -5.3 1.2 -4-1.7"/><path d="M1895.1 638.6l-.5-3 -.2-3.1 -1.2-3.2 -4-1.8"/><path d="M1899.8 623.4l-3.3-1.9 -.3-3.9 -2.1-3.6 -3.5-2.1"/></g>
<g fill="none" stroke="#ffffff" stroke-width="1.9" stroke-opacity="0.95" stroke-linecap="round" stroke-linejoin="round"><path d="M1931 557.7l-.3 2.8 -.3 3.9 -2.6 3 -4.7 1.5"/><path d="M1935.2 577.2l-6-.8 -4.2-.4 -3.9 1.8 -3.2 2.9"/><path d="M1903 547.2l-4.3 2.4 -6.4 .7 -4.7 1.4 -3.8-.9"/><path d="M1908.3 629.3l-3.4-.8 -2.1-1.8 .4-2.5 -3.5-2.6"/><path d="M1931.5 599.1l-3.9-2.2 -3.4-1.5 -1.4-3.9 -1.2-3.3"/><path d="M1846.4 532.4l2.2 1.7 -.9 3.2 2.5 3 4.6 1.8"/><path d="M1934.9 584.9l-3.6-1.3 -5.9-.9 -2.9-1.5 -1.6-2.7"/><path d="M1899.1 541.7l-1.2 2.8 -1.3 3.1 1 2.9 1.5 2.8"/><path d="M1829.7 532.7l2 3.1 1 4 2 3.1 4 .9"/><path d="M1814.2 620.9l3.9-1.5 2.6-2.7 -.8-4.2 1-4"/><path d="M1946.8 578.5l-.7 2.3 -3.3 1.4 -4.9 2.4 -4.7 1.9"/><path d="M1810.7 564.3l2.1 1.8 5.2 1.3 4.5 1.7 4.8-.9"/><path d="M1852 533.6l5.9 1 2.7 1.3 5.3 .6 2.9 1.6"/><path d="M1878.4 643.7l3.9-2.3 .3-3 -2.6-3.3 -2-2.5"/><path d="M1875.9 631.3l2.7-3.9 4.1-1.2 4.2-2.1 5.8 .3"/><path d="M1899.3 628.3l-3.4-2 -4.1-1.1 -3.6-2.9 -2.6-2.6"/><path d="M1834.7 533.7l3.1 2.3 2.6 1.5 1.8 3.3 2.8 3.2"/><path d="M1776 588.8l4.3-2.4 .7-4.3 2.9-2.3 2.5-3.3"/><path d="M1908.1 559.3l-.1 3.8 -2.8 1.9 -1.1 4.1 -4.6 3.1"/><path d="M1822.6 534.2l.2 3.1 3.4 2.2 3.6 2.9 2.3 1.8"/><path d="M1842.3 537.6l1.9 3.8 .8 3.2 1.6 4.1 -3 3.6"/><path d="M1830.5 650.2l3.7-1.3 5.1-1.5 5.8-2.1 5.1-.3"/><path d="M1785.6 612l3.1 1.4 2.4 2.6 1.5 2.1 4.6 2.4"/><path d="M1904.7 565.9l.8 3.8 -3.9 3.1 .5 2.4 -1.2 2.3"/><path d="M1801.1 567.1l5.8 1 2.4 2.1 .3 3.7 -2.1 4"/><path d="M1852.7 544l5 1.5 2 2.8 4.7 3.1 1.5 2.2"/><path d="M1794.7 615.6l3.3 .3 6 .3 5.1 2.4 6.2 .3"/></g>
<g fill="none" stroke="#ffffff" stroke-width="1.5" stroke-opacity="0.80" stroke-linecap="round" stroke-linejoin="round"><path d="M1908 597.9l-.3-2.6 2.6-2.6 1.7-4.6 1.3-4"/><path d="M1829 606.5l2.7-4 4.9-1 6.6-.5 6 1"/><path d="M1853.1 608.8l-3.1-1.6 -1.6-4.2 1.8-3.1 -1.7-4.6"/><path d="M1836.1 593.9l2.2 4 2.6 2.2 2.9 3.7 .7 2.8"/><path d="M1835.9 565.4l2.4-2.8 5.8-1.2 7.1 1 6-.1"/><path d="M1891.6 568.9l-5.1 2.4 -4.8 .3 -3.6 3.7 -2 2.7"/></g>
<defs><filter id="sf44" x="-20%" y="-20%" width="140%" height="140%"><feGaussianBlur stdDeviation="3.0"/></filter></defs>
<g filter="url(#sf44)">
<ellipse cx="1791.2" cy="604.3" rx="31.5" ry="37.3" fill="#ee7a5e"/>
<ellipse cx="1926.0" cy="604.3" rx="31.5" ry="37.3" fill="#ee7a5e"/>
<ellipse cx="1855.7" cy="584.3" rx="22.9" ry="22.9" fill="#e86a54"/>
<ellipse cx="1855.7" cy="541.3" rx="14.3" ry="17.2" fill="#3f62dc"/>
<ellipse cx="1855.7" cy="561.3" rx="14.3" ry="14.3" fill="#a8c4f4"/>
<ellipse cx="1855.7" cy="615.8" rx="15.8" ry="20.1" fill="#3f62dc"/>
<ellipse cx="1855.7" cy="595.7" rx="17.2" ry="11.5" fill="#f08068"/>
<ellipse cx="1824.2" cy="592.9" rx="22.9" ry="34.4" fill="#a6a6a6"/>
<ellipse cx="1887.3" cy="592.9" rx="22.9" ry="34.4" fill="#a6a6a6"/>
<ellipse cx="1799.8" cy="638.8" rx="28.7" ry="11.5" fill="#a8c4f4"/>
<ellipse cx="1917.4" cy="638.8" rx="28.7" ry="11.5" fill="#a8c4f4"/>
</g>
</g>
<use href="#sp38" fill="none" stroke="#1c1c1c" stroke-width="4.2" stroke-linejoin="round"/>
<use href="#sp39" fill="none" stroke="#1c1c1c" stroke-width="4.2" stroke-linejoin="round"/>
<use href="#sp40" fill="none" stroke="#1c1c1c" stroke-width="4.2" stroke-linejoin="round"/>
<line x1="111" y1="763.4" x2="1974" y2="758" stroke="#c6c6c6" stroke-width="3"/>
<line x1="111" y1="1474" x2="1974" y2="1468.4" stroke="#c6c6c6" stroke-width="3"/>
<path d="M1987 831 C2003 760 1995 720 1953 681" fill="none" stroke="#000" stroke-width="4.5" stroke-linecap="round"/>
<path d="M1964.6 676 L1942 673.5 L1949 694" fill="none" stroke="#000" stroke-width="4.5" stroke-linecap="round" stroke-linejoin="miter"/>
<text x="6.5" y="842.8" font-size="74.0" textLength="41.0" lengthAdjust="spacingAndGlyphs" font-weight="bold">B</text>
<text x="108.2" y="827.2" font-size="38.0" textLength="1095.7" lengthAdjust="spacingAndGlyphs">External validation analysis in independent stroke lesion cohort</text>
<text x="1271.6" y="826.8" font-size="38.0" textLength="687.4" lengthAdjust="spacingAndGlyphs">Similarity to DBS improvement network</text>
<defs><path id="sp46" d="M290.3 983.5l.8 2.4 .1 2.5 -.4 2.4 -.7 2.4 -.7 2.3 -.4 2.3 .1 2.4 .3 2.5 .4 2.5 0 2.5 -.5 2.3 -1.1 2.2 -1.8 1.8 -3.2 1.2 -2.5 1.3 1.6 3.1 3.2 3.9 1.9 3.4 .6 3 -.1 2.6 -.8 2.3 -1.3 1.9 -1.5 1.8 -1.4 1.8 -1.2 1.9 -1 2.1 -.9 2.1 -1 2 -1.4 1.8 -1.7 1.3 -2.4 .8 -2.2 .7 -.8 2.2 1 4.1 1.2 4.3 .1 3.5 -1 2.3 -1.7 1.5 -2 1 -2.1 .8 -1.9 1 -1.7 1.4 -1.4 1.6 -1.5 1.7 -1.6 1.4 -1.9 1 -2 .5 -2.2 .3 -2.1 .5 -1.9 .7 -1.6 1.2 -1.5 1.5 -1.5 1.6 -1.6 1.5 -1.7 1.2 -1.7 1.1 -1.8 1.1 -1.7 1.2 -1.7 1.5 -1.6 1.5 -1.8 1.3 -1.9 .8 -2.1 .1 -2.1-.4 -2.2-.7 -2.1-.5 -2 0 -1.9 .4 -1.9 .7 -1.9 .5 -2-.2 -2-1.1 -2-1.4 -1.9-1.3 -1.9-.6 -1.9 .2 -1.9 .3 -1.9 .4 -2 1.7 -2.2 3.3 -2.4 3.4 -2.3 1.7 -2.1 .1 -2-.5 -2-.8 -2-.9 -1.9-1 -1.9-1.2 -1.8-1.3 -1.8-1.4 -1.8-1.2 -1.9-.9 -2-.5 -2.1-.3 -2.1-.4 -1.9-.9 -1.7-1.4 -1.4-2.1 -1.2-2.3 -1.2-2.5 -1.2-2.1 -1.4-1.8 -1.6-1.3 -1.7-1.1 -1.7-1.1 -1.7-1.3 -1.5-1.5 -1.3-1.7 -1.2-2 -1.1-2 -1.1-2.1 -1-2 -.9-2.2 -1-2 -1-2 -1.1-1.8 -1.4-1.6 -1.7-1.3 -1.8-1.2 -1.9-1.2 -1.8-1.4 -1.5-1.6 -1.1-2 -.8-2.2 -.4-2.5 .1-2.8 .5-3 -.1-2.6 -1.7-1.5 -2.6-1.2 -2-1.5 -1.3-2 -.8-2.3 -.7-2.3 -.6-2.3 -.6-2.4 -.1-2.6 .8-2.8 1.9-3.1 2.1-3 .4-2.4 -1.9-2 -2.6-1.9 -1.9-2.1 -.9-2.4 .6-2.6 1.7-2.6 1.1-2.5 -.4-2.5 -.2-2.4 1.7-2.4 3.1-2.2 4.1-2 4.6-1.8 4.4-1.5 3.4-1.4 1.7-1.6 -.7-2.1 -3-2.6 -4.2-3.3 -3.9-3.4 -2.7-3.2 -1.5-3.1 -.5-2.7 .1-2.5 .6-2.3 .7-2.4 .5-2.4 .3-2.5 .2-2.6 .4-2.6 .6-2.4 1-2.2 1.5-1.8 1.7-1.6 1.6-1.6 1.3-1.8 1-2.1 .7-2.4 .5-2.6 .6-2.6 .7-2.4 1.2-2.1 1.5-1.5 2.1-.9 2-.8 1.2-1.9 .3-3.2 .1-3.6 .7-2.9 1.3-2 1.7-1.4 1.7-1.2 1.6-1.3 1.5-1.5 1.6-1.5 1.6-1.3 1.9-.8 2-.3 2.1-.1 2 0 2-.1 1.9 0 1.7-.9 .9-3.2 .7-4.1 1.4-2.3 2.1 .5 2.5 2.4 2.3 2.3 1.8 0 1.4-2 1.4-2.5 1.5-1.5 1.7-.7 1.8-.1 1.8 .2 1.9 .6 1.9 2.1 1.9 3 1.6-1.2 1.5-4.9 1.8 3.3 2.1 24.8 1.3 3.8 1.3-3 2-24.3 2-5.7 1.7 0 1.8-.5 1.9-.8 1.8-.7 1.9 .1 1.7 .8 1.6 1.5 1.6 1.8 1.5 1.5 1.6 1.1 1.7 .6 1.7 .7 1.4 2 1.3 2.1 1.9-.2 1.9-.2 1.7 .9 1.7 .6 1.9 .3 1.9 .2 1.9 .4 1.7 1 1.4 1.7 1.1 2.2 1.1 2.3 1.2 2 1.5 1.4 1.8 .7 2 .5 1.9 .7 1.8 1.1 1.3 1.8 1.1 2.2 .9 2.3 .7 2.6 .2 3.2 -.4 3.9 1.1 1.9 3.4-.9 3.3-.5 1.9 1.2 1.1 2.1 .4 2.8 0 3 1 2.2 2.6 .7 3 .5 1.9 1.6 1 2.3 .4 2.7 .4 2.6 .6 2.5 1 2.3 1.4 2 1.4 2.1 1 2.3 .3 2.7 -.7 3 -1.5 3.3 -2.4 3.4 -2.8 3.3 -3.1 3.3 -2.9 3 -2.2 2.6 -.8 2.2 .9 1.9 2.6 1.7 3.4 1.7 3.6 1.8 3 2.1 2.3 2.3Z"/><clipPath id="sc45"><use href="#sp46"/></clipPath></defs>
<g clip-path="url(#sc45)">
<defs><radialGradient id="sg47"><stop offset="0" stop-color="#c6c6c6"/><stop offset="0.6" stop-color="#afafaf"/><stop offset="1" stop-color="#9c9c9c"/></radialGradient></defs>
<use href="#sp46" fill="url(#sg47)"/>
<g fill="none" stroke="#808080" stroke-width="3.6" stroke-opacity="0.60" stroke-linecap="round" stroke-linejoin="round"><path d="M270.5 1011.3l-1.2-4.3 -2.3-3.1 .3-5.3 1.3-7.9"/><path d="M206.5 876.8l2.6 6.5 3.3 4.7 .2 5 2.8 4.5"/><path d="M123.7 971.2l5-1.5 4.5-5.4 3-2 1.9-4.5"/><path d="M176 1084.1l5.3-2.9 2.6-3.1 -.3-6.4 .4-4.7"/><path d="M139.9 929.2l2.7 3.2 1.8 7 -.7 5.2 2.1 5.3"/><path d="M277.6 963.7l-2.3 3.4 -2.2 6.5 -5.4 2.7 -1.2 4.4"/><path d="M219.7 881.2l2.5 4.6 1.1 7.5 -1.9 5 -2.1 3.4"/><path d="M239.8 1029.6l-4 2.9 -3.6 2.1 -3 6 -2 3.7"/><path d="M214.3 1102.4l-2.3-7.3 2.1-6.2 2.8-6.8 2.8-4.9"/><path d="M114.5 977.1l2.6 3.8 3.3 7.1 2.4 5.6 5 2.1"/><path d="M182.1 1050l2.4-6.7 4.2-3.3 4.2 .2 4.5-4.2"/><path d="M181.7 1053.7l1.8-5.4 .6-7 2.4-4.4 4.1-4.3"/><path d="M127.3 1000.2l2.4-4.1 3.1-6.9 .6-5.7 -2.4-4.5"/><path d="M203.5 879l1.4 5.8 3.3 7.1 5.7 3.1 3.7 .1"/><path d="M232 1065l-3.8 1 -3.7-2.7 -2.6-7.2 -.9-5.6"/><path d="M234.1 910.5l-4.4 2.4 -4.5 1.7 -2.1 3.3 -.5 5.9"/><path d="M142.4 1072.3l6 1.3 3.9-3.3 .5-4.2 4.8-5.4"/><path d="M223.4 1045.6l-3.6-4.3 -.7-6.7 -1.2-7.3 -.8-6"/><path d="M151.7 955.4l2.1 5.9 3.2 3.5 4.9 1.7 4 4.6"/><path d="M279.4 1002.3l-3.4 1.3 -3.9-3.1 -3.3-4.3 -1-5.3"/><path d="M260.2 952.8l-3.9 2.2 -3.9 1 -3.7-2.9 -3.2-1.8"/><path d="M181.6 922.4l-1 8 -2.6 5.2 -.5 4.8 -.4 4.4"/><path d="M224.4 1049.1l0-7.1 1.3-5.8 .4-7.8 -.2-4.3"/><path d="M242.9 894.2l-2.8 5.4 -2.6 3.2 -4.3 .6 -5.9 .8"/><path d="M256.6 1074.2l-2.7-4.3 -3.1-7.1 -2.8-6.7 .3-7.9"/><path d="M237.1 936.2l-2.2 3.1 -.4 7.8 2 6.3 -.5 7.4"/><path d="M188.2 1083.3l-1.3-8 1-4.6 -2-6.2 -.8-7.6"/><path d="M244.6 1018.9l-5.4-2.3 -2.6-2.9 -2.3-5.4 -4.4-3.5"/><path d="M168.6 1046.7l.5-7 1.7-4.3 -.8-4.1 0-7.7"/><path d="M153.8 1030.5l3.3-2.8 4.9-2.8 6 1.4 1.7 4"/><path d="M226.1 915.4l2.8 4.4 -.8 8.3 .3 8.1 1.5 7.7"/><path d="M197.3 1079l-.3-5.8 2.1-6.6 2.6-2.9 3.7-3.8"/><path d="M218.6 1066.1l-1.9-6.5 -4.7-2.4 -3.2-3 -6.1-2.1"/><path d="M224.9 920l-.1 6.1 2.1 7.3 -1.8 6.6 -1.5 7.4"/><path d="M129.6 1040.1l2.2-4.5 2.5-5.3 .2-6.1 -2.6-5.1"/><path d="M285.8 954.2l-2.5-2.7 -1.1-6.9 -2-3.6 -3.2-1.5"/></g>
<g fill="none" stroke="#ffffff" stroke-width="1.8" stroke-opacity="0.95" stroke-linecap="round" stroke-linejoin="round"><path d="M208.2 889l1 5.5 -2.9 5.7 -3.6 4.3 -2.7 6.3"/><path d="M147.1 1056.9l2.7-4.8 -.7-4.3 3.1-5.1 2.2-3.9"/><path d="M287.5 1013.8l-3.9-.1 -2.6 2.8 -3.6 .3 -4.8-.5"/><path d="M215.5 896.1l-1.7 5.4 1.6 4.2 2 4.2 2.9 3.6"/><path d="M269.6 1044.9l-4.7-4.3 -.7-4.4 -1.2-5.2 1.4-4.2"/><path d="M245.2 904.4l-3.2 1 -4.5 .5 -4.4 3.9 -6-2.4"/><path d="M197.2 875.7l5 1.3 4.4-4.7 2.1-3.3 6.3-1.6"/><path d="M141.8 1072.8l4.3-3.4 5.4-.9 5.3 2.8 4.9 5.2"/><path d="M226 906.9l-1.7 6.3 1.7 8 -.9 4.6 -1.4 5"/><path d="M128.7 969.6l3.9 2.3 3.5 4.9 3.8 .4 3.2 5.2"/><path d="M186 899l1.3 5.1 -1.3 5.9 -3.3 4.2 -3.6 .4"/><path d="M241.7 887l1.4 7.3 2.1 5.1 1.9 4 4.1 1.3"/><path d="M269.3 1052l-2.3-6.2 .6-4.4 .7-4.7 -2.6-6.1"/><path d="M131.7 1002.4l5.4-3.6 5.1-1.6 1.6-4.7 .2-5.3"/><path d="M198.6 892.8l.6 5.5 -.3 6.8 -.2 7.9 -1.3 6.2"/><path d="M138.9 982l2.4 5.6 4.1 4 3.4-1.1 5.4 1.4"/><path d="M267.7 1004.5l-4.5 2.9 -3.7 1.4 -2.4 5.2 -.9 6.4"/><path d="M156.1 902.1l2.8 6.9 -.6 7.6 -2.2 7.8 1.4 5.4"/><path d="M153.4 920.2l5.4 2.1 3.2 6.4 -1.1 5.3 -2 5"/><path d="M163.7 1054.2l4.4-4.5 1.6-5.2 3.4-2.7 3.6 .4"/><path d="M260.6 1000.5l-4.2-5.5 -1.2-5 1-6.7 .7-4.8"/><path d="M278.6 1045.8l-3-3.9 -2.8-3.5 -5.1-1.3 -3.3-1"/><path d="M154.6 922.2l-.5 4.7 -1 4.3 -3.1 5.7 -5 4.1"/><path d="M179.5 1083.9l-2.5-6.6 -2.3-7 -1.9-3.9 1.2-5.2"/><path d="M252.6 925.6l-3.1 6.8 -2.1 7.8 -.7 6.7 3.2 6"/><path d="M158.1 895.3l5.2 3 1.5 7 3.9 4.7 3.1 5.2"/><path d="M112.1 992.6l3.5-2.4 3.5 1.9 3.3 3.2 .7 6.1"/><path d="M203.1 1091.2l.7-7.9 .2-5.5 -.4-8.1 -2.4-3.5"/><path d="M170.9 1083.6l-2.9-6.3 .8-5.3 1.3-4.9 .1-6.7"/><path d="M262.8 978.4l-2.6 7.3 1.5 5.3 3.4 5.4 .2 5.6"/><path d="M148.2 1044.5l1.7-7.6 2.7-5.5 4.6-2 3.1 1"/><path d="M238.7 1085.8l-4.3-6 -5.4-1.2 -5.5-3.2 -3-2.5"/><path d="M150.1 1023.7l3.8-3.6 6.3 1 4.5 4.4 .7 7.4"/><path d="M264.6 1051.5l.7-4.4 -.4-6.5 -.9-4.7 1.9-5.7"/><path d="M253.4 935.1l-1.6 4.2 -1.9 7.2 1.9 5 3.4 2.6"/><path d="M146.1 1062.2l3.3-5.7 4.3-1.3 1.7-4.5 3.6-1.7"/><path d="M263.8 985.4l-4.1-1.2 -6-1.6 -3.3 2.9 -1.6 4.2"/><path d="M137.9 1020.9l5.5-1.4 4.4 5 .1 6.9 -4.3 5.6"/><path d="M133.3 1011l5.8-3.3 3 1.6 2.7 7.3 4.9 2.5"/><path d="M221.3 1057.2l-3.9-1.3 -4.7 2.8 -5.1-.9 -4.2 3.2"/><path d="M184.7 868.6l2.3 6.5 .4 5.8 1.5 6.6 .6 6.3"/><path d="M250.6 914.9l-3.8 2 -3.3 2.2 -2.9 2.4 -4.1 5.8"/><path d="M156.3 937.9l3.5 3.9 .6 4.2 .5 7 .3 6"/><path d="M137.7 1015.5l3.9-.4 5.5 1.3 5-1 3.8-.7"/><path d="M125.7 1047.2l4.8-1.9 5.5 1 4.3 1 5.3 2.8"/></g>
<g fill="none" stroke="#ffffff" stroke-width="1.5" stroke-opacity="0.80" stroke-linecap="round" stroke-linejoin="round"><path d="M184.8 1036.8l2.8-6.9 3.2-6.1 3.5-7.1 5.9-1.6"/><path d="M158.8 996.2l5.7-5 3.4-5.4 1.5-5.8 -2.8-6.4"/><path d="M234.8 950.5l.5 6.7 -2.4 8.8 -2 5.5 -2.6 7.1"/><path d="M154.8 955.4l6.5-1.8 3.3 2.7 3.2 2.6 6.8-.9"/><path d="M183.1 1026.1l4.3-1.8 4.7-3.1 5.3 1.6 3.8-3.3"/><path d="M213.3 920.4l3.2 8.4 -.1 6.4 4.8 7.2 1.9 8.7"/><path d="M211.4 942.5l-6.9 3.2 -3.9-.8 -4.1-3.9 -2.5-6.2"/><path d="M175.9 1003.5l-1.4-7.8 -1.9-4.6 1.4-7.3 2.9-7.5"/><path d="M215.6 1028.1l4.3-2.6 5-4.4 4.7-6.4 4.8-4"/><path d="M170.8 1042.9l-4.8 5.6 -3.6 5 -3.7 1.8 -3.7 .7"/><path d="M216.1 1000.5l-2.7 5.4 -4.6 4.1 -4.7 .3 -5 2.7"/></g>
<path d="M182.8 940.8c1.7-1.9 13.7 14.3 18.7 14.3c5 0 17-16.2 18.7-14.3c1.7 1.9 -3.9 22.2 -5.6 28.5c-1.7 6.3 -8.2 15.4 -7.5 18.9c.7 3.5 8.4 4 13.1 7.2c4.7 3.2 20.9 13 22.4 16.5c1.5 3.5 -7 10.1 -11.2 9.5c-4.2-.6 -16.5-12.3 -20.5-14.2c-4-1.9 -6.9 0 -9.4 0c-2.5 0 -5.3-1.9 -9.3 0c-4 1.9 -16.4 13.6 -20.6 14.2c-4.2 .6 -12.7-6 -11.2-9.5c1.5-3.5 17.7-13.3 22.4-16.5c4.7-3.2 12.4-3.7 13.1-7.2c.7-3.5 -5.8-12.6 -7.5-18.9c-1.7-6.3 -7.3-26.6 -5.6-28.5Z" fill="#fff"/>
<path d="M158.5 1007.2l20.6-7.1 16.8 2.4 5.6 4.7 5.6-4.7 16.8 0 18.7 9.4 0 19 -3.7 23.7 -7.5 19 -7.5 16.6 -13 11.8 -18.7 0 -13.1-11.8 -7.5-23.7 -7.5-23.7Z" fill="#3a0862"/>
<path d="M220.2 1026.2l11.2-4.8 -3.7 23.7 -11.2 23.7 -9.4 0 0-28.4Z" fill="#2a3c86"/>
<defs><filter id="sf48" x="-20%" y="-20%" width="140%" height="140%"><feGaussianBlur stdDeviation="1.2"/></filter></defs>
<g filter="url(#sf48)">
<ellipse cx="188.4" cy="983.5" rx="4.7" ry="7.1" fill="#3a0862"/>
<ellipse cx="216.5" cy="983.5" rx="5.6" ry="7.1" fill="#3a0862"/>
<ellipse cx="216.5" cy="919.5" rx="3.7" ry="7.1" fill="#3a0862"/>
<ellipse cx="182.8" cy="988.2" rx="3.7" ry="4.7" fill="#2a3c86"/>
</g>
</g>
<use href="#sp46" fill="none" stroke="#1c1c1c" stroke-width="4.2" stroke-linejoin="round"/>
<text x="110.0" y="901.6" font-size="33.0" textLength="17.5" lengthAdjust="spacingAndGlyphs">R</text>
<text x="277.0" y="901.6" font-size="33.0" textLength="14.5" lengthAdjust="spacingAndGlyphs">L</text>
<defs><path id="sp50" d="M488.6 984l.7 2.6 .3 2.6 -.1 2.6 -.4 2.5 -.5 2.5 -.6 2.5 -.5 2.5 -.8 2.3 -1.8 2.1 -1.9 2 -.4 2.4 1.1 2.8 .1 2.6 -.5 2.3 .8 2.9 1 3.1 -.1 2.7 -.6 2.4 -.8 2.3 -.8 2.3 -.9 2.2 -.9 2.3 -1 2.1 -1 2.1 -1.1 2.1 -1.1 2.1 -1 2.1 -1 2.1 -.9 2.2 -1 2.2 -1 2.1 -1.2 2 -1.2 1.9 -1.4 1.8 -1.4 1.7 -1.5 1.6 -1.5 1.6 -1.5 1.6 -1.5 1.5 -1.5 1.6 -1.5 1.5 -1.6 1.5 -1.6 1.4 -1.5 1.4 -1.6 1.4 -1.6 1.4 -1.6 1.4 -1.6 1.4 -1.6 1.4 -1.6 1.2 -1.7 1.2 -1.8 1.1 -1.8 1 -1.8 1 -1.8 .9 -1.7 1 -1.8 1 -1.8 1.1 -1.7 1.2 -1.7 1.2 -1.8 1.1 -1.9 .9 -1.9 .6 -2 .2 -2.1 0 -2-.3 -2.1-.3 -2-.3 -1.9-.1 -2-.1 -1.9-.3 -2-.5 -1.9-.8 -1.9-.9 -1.9-.5 -1.9 0 -1.8 .6 -2 1.1 -2 1.3 -2 1.5 -2.2 1.5 -2.1 1.3 -2.2 .9 -2.1 .2 -2-.4 -1.9-1.1 -1.8-1.3 -1.8-1.3 -1.9-1 -2-.4 -2.1-.1 -2.1 0 -2.2-.1 -2-.6 -1.9-1.1 -1.7-1.4 -1.7-1.5 -1.7-1.4 -1.8-1 -2-.8 -2-.8 -1.9-.9 -1.8-1.4 -1.5-1.7 -1.3-2.1 -1.2-2.2 -1.3-1.9 -1.5-1.7 -1.7-1.3 -1.9-1.2 -1.8-1.3 -1.5-1.7 -1.2-2 -.9-2.4 -.7-2.6 -.8-2.4 -1-2.2 -1.2-1.9 -1.6-1.7 -1.6-1.5 -1.6-1.7 -1.2-2 -.9-2.3 -.4-2.6 .4-3.2 1.4-3.7 1.5-3.8 -.2-2.5 -2-1.4 -2-1.4 -1.4-1.8 -.9-2.2 -.6-2.3 .6-2.8 1.3-3.1 -.1-2.5 -1.9-1.7 -1.7-2 -.4-2.3 .1-2.6 .2-2.5 -.1-2.4 -.2-2.4 -.4-2.4 -.4-2.4 -.4-2.4 -.2-2.5 -.1-2.4 .1-2.5 .2-2.5 .2-2.5 .4-2.4 .7-2.4 1-2.4 1.5-2.2 1.8-2.2 1.6-2.1 .7-2.2 -.5-2.5 -1.5-2.8 -1.9-3.1 -1.5-3.1 0-2.7 2.7-1.5 2.2-1.7 -.7-3 .3-2.5 .9-2.2 .4-2.5 -.1-2.9 -.5-3.2 -.3-3.2 .2-2.8 1.6-1.9 3.5-.2 4.3 .6 2.2-.9 1.4-1.7 1.1-1.8 -1.6-4.7 -1.8-5.1 -.1-3.6 .7-2.7 1.1-2.2 1.5-1.7 1.6-1.6 1.6-1.5 1.5-1.7 1.5-1.7 1.4-1.8 1.6-1.5 1.8-1.1 1.8-.9 1.9-.8 1.7-1.1 1.5-1.5 1.3-2.1 1.1-2.4 1.2-2.3 1.4-1.9 1.7-1.1 2-.2 2.1 .3 2.2 .5 1.9 0 1.8-.6 1.5-1.3 1.5-1.7 1.8-.2 2.3 2.2 1.6-1.4 .9-4.4 1.6-1.6 1.8 0 1.9 .3 1.8 .2 1.9 .2 1.7 .2 1.8 .1 1.7-.1 1.8-.5 1.7-.9 1.9 6.2 2.1 28.8 1.2 3.4 1.3-4.9 2.1-30.8 2-6.7 1.7 1.7 1.7 1.8 1.6 1.5 1.7 .6 1.8-.3 1.9-.8 2-1 1.9-.3 1.6 1.4 1.2 3.3 1.2 3.4 1.5 1.5 1.6 .6 1.7 .6 2-.5 2.2-1.3 2.1-.5 1.7 .8 1.6 1.2 1.6 1.3 1.7 .9 1.9 .6 1.9 .3 2 .5 1.8 1 1.4 1.8 .9 2.7 .1 4.3 -.2 4.8 1.3 1.4 2.2 .2 2.1 .5 2.1 .4 2.3 .5 1.9 1 1.4 1.7 .8 2.6 .5 3 .3 3 .5 2.6 .9 2.3 1 2.2 .6 2.4 .6 2.5 1 2 1.7 1.5 1.8 1.4 1 2.1 -.2 3 -1.3 3.7 -1.6 3.7 .1 2.5 3 .7 4.1 .3 2.7 1.3 1.2 2.1 .3 2.5 .2 2.6 .2 2.6 .2 2.5 .1 2.5 0 2.6 .1 2.4 .5 2.4 .9 2.3 1.1 2.3 1 2.3 .8 2.4 .8 2.5 .8 2.4 1 2.6Z"/><clipPath id="sc49"><use href="#sp50"/></clipPath></defs>
<g clip-path="url(#sc49)">
<defs><radialGradient id="sg51"><stop offset="0" stop-color="#c6c6c6"/><stop offset="0.6" stop-color="#afafaf"/><stop offset="1" stop-color="#9c9c9c"/></radialGradient></defs>
<use href="#sp50" fill="url(#sg51)"/>
<g fill="none" stroke="#808080" stroke-width="3.6" stroke-opacity="0.60" stroke-linecap="round" stroke-linejoin="round"><path d="M341.3 969.4l5.2 1.5 5.8 1.1 3.9-1.8 4.5-.8"/><path d="M427.4 878.9l-1 4.3 -3.5 6.9 1.2 8.1 3.5 2.7"/><path d="M364 1067.2l-.3-5.4 -3.8-3.7 -3.5-4.4 -2.8-2.8"/><path d="M412.3 1054.3l-3.2-3 -2.8-5.1 -3.8-5.6 -3.4-2.4"/><path d="M361 1069.4l1.8-3.9 .4-6.8 .4-6 .7-7.8"/><path d="M445.1 900.6l-2.9 6.8 -4.8 2.8 -4.9 3.9 -4.6 5.8"/><path d="M357.9 1065.5l4.5-3.3 4.9-3.2 1.9-8.1 2.4-3.6"/><path d="M351.4 918.5l-1.3 6 -2.4 6.5 -3.6 1.4 -4.2 2.6"/><path d="M350.5 961.8l6.2-.7 4.6 3.4 2.9 3.7 .9 6.8"/><path d="M344.1 1038.1l4-.8 3.1 1.1 2.2 4.8 -1.7 5.9"/><path d="M378.1 890.5l3.8 1.3 3.2 5.8 -.1 6.1 -2.5 2.8"/><path d="M414.2 1060.5l-3.1-4.3 .4-7 4.5-5 2.5-2.7"/><path d="M316.1 980.9l5.6-.1 3.6 3.9 5.6 1.5 2.3 5.7"/><path d="M387.3 1061l3.1-5.4 3.8-4.6 .9-5.8 2.6-2.8"/><path d="M466.7 977.4l-5.1-2.4 -5.4 .2 -4.1-4.3 -5.7-3.1"/><path d="M451.1 1018.3l-3.9 .9 -5.6 1.1 -3.6 4 -.4 8.4"/><path d="M430.5 879.9l-3.3 2.3 -1 5.6 -3.9 2.7 -1 4.1"/><path d="M401 1089.4l2.5-4.4 2-7.1 -1.3-5.7 2.3-5"/><path d="M319.8 1016.1l4.7 .6 5.9-.2 2.4-4.1 4.4-2.1"/><path d="M458.6 967l-5.5 3 -4.8 .2 -5.5 0 -3.6-5.7"/><path d="M453.8 968.3l-2.7 3.8 -5.6 .3 -4.8-4.5 -5.2 1.2"/><path d="M386.3 1089.1l2.8-4.6 .8-7.3 0-6.7 -2.6-3.7"/><path d="M325.5 955.8l5.8 2.9 5.7-.4 2.4-3.6 -.3-5.4"/><path d="M333.8 916.2l3.7 2 3.1 1.9 1.7 4.6 5.5 2"/><path d="M348.9 1036l1.3-5.7 1.1-4.5 -1.7-6.5 -1-4.7"/><path d="M345.8 1004.3l4.4-.3 3.3 4.3 3.6 .6 2.7-2.2"/><path d="M425.8 1098.8l-3-1.9 -5.6 1.6 -4.4-.5 -4.9-1.8"/><path d="M341.7 921.6l4 2.7 2.7 4.5 3.2 4.5 3.2-.2"/><path d="M456.7 991.3l-6.3 .3 -4.4-1.1 -3.7 .6 -3.9-3.8"/><path d="M468.4 1048.4l-5.3-1 -3.8 1.9 -3.1-2.4 -2.9-3.9"/><path d="M440.4 906.3l-3.1 1.5 -3.6 4.4 -1.1 8.2 -.5 7.2"/><path d="M372.2 880.5l3.4 1.4 4.7 1 5.6-1.6 3.8 4.2"/><path d="M367.2 1037.8l-1.5-4.2 -2.9-6 .6-4.3 -2.4-3.9"/><path d="M391.5 1066.5l-.2-7.3 1.7-4.3 3.4-5.7 2.3-6.5"/><path d="M363.5 933.3l-1.3 5.1 1.2 5.6 2.4 2.7 4.5-.5"/><path d="M363 927.8l3 7.3 3.9 5.8 3 5 4.8 5.2"/></g>
<g fill="none" stroke="#ffffff" stroke-width="1.8" stroke-opacity="0.95" stroke-linecap="round" stroke-linejoin="round"><path d="M471.4 1002.7l-1.8-6.7 .6-8.2 5.2-4.8 4.5-4.4"/><path d="M445.1 1034.6l-2-4.8 -3.4-4.8 -1.2-7.6 0-7"/><path d="M461.2 952.9l-5.1-.8 -5 .7 -4 4.7 -2.7 3.3"/><path d="M457.7 1020.3l-4-3.9 -2.3-5.4 -4.3-3.5 -3.9 .5"/><path d="M359.9 874.2l.2 8.3 1.7 4.6 .9 7.4 4.3 5.4"/><path d="M386.6 894.1l2 7.8 2.3 4.7 3.7 4.8 4.4-.1"/><path d="M366 1054.2l1.7-4.2 5.5-1.5 6.3-.1 3.6 1.3"/><path d="M330.1 995.3l5.7-3.5 1.4-4.6 3-1.9 1.8-5.1"/><path d="M469.1 1036.2l-3-7 -3.2-2.2 -1.9-6.7 -2.9-4.1"/><path d="M401.4 887.1l-1.9 4.6 1.1 6.1 -.7 7.9 4 5.8"/><path d="M373.5 1071l3.4-5 5.7-1.7 4.3-1.6 3.5-.7"/><path d="M460.5 964l-4.7 5.5 -2.5 6.3 -2.1 7.3 -3.3 2.9"/><path d="M331.8 1002.7l6 1.8 2.7-2.4 5.6-3.6 3.4 .9"/><path d="M406.5 1071.2l-.8-6.4 -1-5.2 -3.7-2.6 -5.8 0"/><path d="M310.2 992.6l5.6 2.4 4.8 2.2 2.8 5 4.4 5.4"/><path d="M341.6 980.5l3.7-2.2 4.8-2.7 2.2-7.4 -.5-6.4"/><path d="M411.8 891.6l-1.3 4.1 -3 4.2 -5.7 2.8 -4.1 1.1"/><path d="M453.5 1029.5l-5 2.5 -5.8-.2 -3.7 3.7 -2.5 4.2"/><path d="M368.7 1071l.7-5.4 3.5-3.7 5.6-.1 4.5 1.5"/><path d="M347.4 888.1l3.5 1.4 3.4 .7 5.2 2.8 3.6 5.4"/><path d="M477.9 983l-4.7 1.9 -3.5-1.3 -4.5-4.6 -2-3.8"/><path d="M460.8 982.5l-4.5-1 -4.8 4.3 -2.6 4.6 .1 4.6"/><path d="M480.7 959.4l-3.7 4.4 -1.5 5.8 2.3 5 4.4 1.2"/><path d="M333.4 1024.9l4.8-2.9 4.5-5.3 0-5.3 2.6-7.3"/><path d="M339.6 966.8l4.7-.6 4.3-3.7 3.1-2.6 2.6-5.7"/><path d="M345.7 1042.4l2.4-5.4 -.7-4.7 -2.2-3.2 -1-4.1"/><path d="M486.6 954.8l-5.6 3.5 -4.6 .7 -3.6-1.4 -4 0"/><path d="M472.8 973.9l-3.9-1.6 -4.4-3.4 -4.2-6 -.5-5.3"/><path d="M397.3 895.3l3.3 2 3.1 5.3 3.1 1.3 4.8 .4"/><path d="M422.3 1052.3l-1.1-7.2 .8-7.6 .4-5.7 -1.8-5"/><path d="M351 919.8l6.1-.3 3.5 3.5 5.3 2.8 5.3 4"/><path d="M476.1 990l-4.4-5.8 -2.4-3.1 -3-5.9 -2.4-6.8"/><path d="M482.5 978.7l-1.4-3.9 .9-4.4 .4-5.9 -.5-7.3"/><path d="M464.2 919.8l.4 8 -1.7 8.2 -5.5 3.4 -1.6 8.1"/><path d="M453.5 1000.9l-3.8-.3 -4.8 3.1 -3.3-1.5 -2.4-3.1"/><path d="M400.5 1093.6l3.7-4.4 1.2-4.8 5.3-3.7 3.5 1.1"/><path d="M323.7 1012.6l5.5 1.1 6.2 1.4 5.7-.6 4 3.2"/><path d="M437 1057.2l-.2-6.3 -4.5-5.1 -.2-5.2 -2.9-3.5"/><path d="M459.8 901.5l-.3 4.3 -1.1 5.1 -3.1 4.1 -5.5 3.4"/><path d="M354 1070.2l2.3-3.4 6.2-.5 3.7 4.9 5.2-.5"/><path d="M333.5 1060.6l-.3-6.5 -2.4-5.4 -2.7-3.5 -1.8-5"/><path d="M454.3 950l-3.8 1.1 -3.8 4 -3.1 5.5 -.5 6.7"/><path d="M465.4 909.7l-5.9 .7 -5.8 1.3 -3.6 .4 -5.6-.9"/><path d="M479.5 951.1l-3.5 6.4 -4.9 1.5 -5 1.3 -2.8-2.2"/><path d="M479.7 1037.7l-5 2.9 -4.9-3 -5.6 1.5 -4.3-2.3"/><path d="M405.9 1086.6l1.9-3.9 -.7-5.9 -2.2-7.5 -2.6-5.6"/></g>
<g fill="none" stroke="#ffffff" stroke-width="1.5" stroke-opacity="0.80" stroke-linecap="round" stroke-linejoin="round"><path d="M376.5 987.6l-5.1 .7 -5.4-3 -6.3 1.2 -5.3 5.3"/><path d="M390.4 935.9l6.1-2.7 3.8-4.6 4.8-1 4.7 5.4"/><path d="M392.6 919.3l2.1-5.1 3.2-4.9 1.6-6.8 1.1-5.8"/><path d="M426.7 987.9l5.9 .7 3.7-1.9 5.2-4.5 2.8-7.6"/><path d="M373.8 968.6l-.9-8.2 -1.9-9.2 -2.8-4.6 -6.3-2.9"/><path d="M431.7 999.2l.7-8 4.1-5.4 1.7-5.6 3.7-3.7"/><path d="M413.3 1007.6l-1.1-7.5 -2.4-4.9 -6.2-4 -5.8 1.7"/><path d="M374.5 934.8l-.5 7.3 3.3 8.4 -1.8 6.3 -5.5 6.3"/><path d="M405.3 947.6l.5 8.1 -1.3 7.7 -3.6 2.6 -2.6 4.5"/><path d="M374.9 947l5.1-3.5 6.3 3.7 2.3 4.1 6.4 1.5"/><path d="M430.2 952.1l5.7 1.2 3.7 7.2 5.7 2.8 4.2 6.4"/></g>
<path d="M377.8 911.4c1.5-1.3 13.7 9.7 18.7 9.7c5 0 17.2-11 18.7-9.7c1.5 1.3 -5.5 14.9 -7.5 19.4c-2 4.5 -5.5 12.6 -7.5 14.5c-2 1.9 -5.4 1.9 -7.4 0c-2-1.9 -5.5-10 -7.5-14.5c-2-4.5 -9-18.1 -7.5-19.4Z" fill="#fff"/>
<ellipse cx="396.5" cy="1013.0" rx="6.5" ry="38.7" fill="#fff"/>
<path d="M390.9 1037.2c2.5-5.8 8.7-5.8 11.2 0c2.5 5.8 10 37.8 7.5 43.6c-2.5 5.8 -23.7 5.8 -26.2 0c-2.5-5.8 5-37.8 7.5-43.6Z" fill="#fff"/>
<defs><filter id="sf52" x="-20%" y="-20%" width="140%" height="140%"><feGaussianBlur stdDeviation="1.5"/></filter></defs>
<g filter="url(#sf52)">
<ellipse cx="364.7" cy="1039.7" rx="22.4" ry="48.4" fill="#3a0862"/>
<ellipse cx="433.9" cy="1044.5" rx="24.3" ry="48.4" fill="#3a0862"/>
<ellipse cx="368.4" cy="1020.3" rx="11.2" ry="29.0" fill="#2a3c86"/>
<ellipse cx="418.9" cy="1027.6" rx="11.2" ry="36.3" fill="#2a3c86"/>
<ellipse cx="396.5" cy="1085.6" rx="37.4" ry="12.1" fill="#3a0862"/>
<ellipse cx="387.1" cy="971.9" rx="18.7" ry="12.1" fill="#3a0862"/>
<ellipse cx="415.2" cy="971.9" rx="18.7" ry="12.1" fill="#3a0862"/>
<ellipse cx="383.4" cy="959.8" rx="11.2" ry="12.1" fill="#21908c"/>
<ellipse cx="409.6" cy="959.8" rx="11.2" ry="12.1" fill="#21908c"/>
<ellipse cx="385.3" cy="955.0" rx="6.5" ry="8.5" fill="#f2e41e"/>
<ellipse cx="407.7" cy="955.0" rx="6.5" ry="9.7" fill="#f2e41e"/>
</g>
</g>
<use href="#sp50" fill="none" stroke="#1c1c1c" stroke-width="4.2" stroke-linejoin="round"/>
<defs><path id="sp54" d="M687.8 985.5l-.5 2.6 -.7 2.5 -.5 2.5 -.1 2.5 .4 2.5 .6 2.7 .5 2.6 -.1 2.6 -1.4 2.2 -2.9 1.8 -3.1 1.6 -1.2 2 .5 2.7 -.2 2.3 .3 2.6 1.9 3.4 1 3 -.1 2.7 -.5 2.4 -.7 2.3 -1 2.2 -1.3 2 -1.4 1.9 -1.3 1.9 -1.2 1.9 -1.9 1.5 -3.4 .1 -1.9 1.3 1.9 4.4 1.1 3.9 -1.1 2 -1.9 1.3 -2 1.1 -1.7 1.4 -1.2 1.8 -.9 2.3 -.7 2.4 -.9 2.4 -1.3 1.8 -1.7 1.3 -2.1 .9 -2 .8 -1.7 1.1 -1.4 1.8 -1 2.4 -.9 2.5 -1.2 2.2 -1.6 1.5 -2 .8 -2.2 .2 -2.2 .3 -1.9 .7 -1.7 1.4 -1.4 1.8 -1.5 1.9 -1.7 1.4 -2 .7 -2.1 0 -2.2-.3 -2.1 .1 -1.9 .8 -1.7 1.5 -1.6 2 -1.7 1.9 -1.9 1.2 -2.1 .3 -2.1-.4 -2.2-.7 -2.1-.6 -2-.4 -2.1-.3 -2-.7 -2-1.2 -2-1.4 -1.9-1.3 -1.9-.6 -1.9 .4 -2 1.4 -2.1 2.2 -2.1 2.3 -2.3 1.6 -2 .2 -1.9-1.9 -1.5-3.2 -1.6-2.5 -2 0 -2.4 2.1 -2.7 2.3 -2.5 1.4 -2.3 .4 -2.1-.5 -1.8-1.4 -1.6-2 -1.2-2.8 -.9-3.6 -1-3 -2.1-.3 -2.7 1.1 -2.2 0 -1.8-1.2 -1.6-1.6 -1.4-1.8 -1.4-1.8 -1.5-1.5 -1.7-1.4 -1.7-1.3 -1.7-1.2 -1.6-1.4 -1.6-1.5 -1.5-1.6 -1.5-1.6 -1.4-1.7 -1.3-1.8 -1.2-2.1 -.9-2.2 -.7-2.4 -.7-2.4 -.8-2.3 -1-2 -1.3-1.8 -1.5-1.6 -1.4-1.7 -1.2-1.9 -.9-2.1 -.6-2.3 -.7-2.3 -.9-2.2 -1.2-1.8 -1.7-1.8 -1.8-1.6 -1.6-1.9 -1.1-2.1 -.6-2.4 -.1-2.6 .2-2.7 .1-2.6 -.2-2.6 -.2-2.4 .2-2.6 1.2-2.9 2.4-3 2-2.8 -.6-2.2 -2.9-1.9 -2.6-2 -1.4-2.3 -.7-2.5 -.4-2.4 -.3-2.6 -.2-2.5 0-2.5 .1-2.6 .3-2.5 1-2.5 2.4-2.2 3.4-2 3-1.8 1.5-2.1 1.3-2 2.5-1.6 3.1-1.3 1.5-1.7 -.6-2.5 -1.8-2.9 -1.7-3.1 -1.3-3 -.8-3 -.5-2.8 -.2-2.8 -.2-2.8 0-2.8 .2-2.8 .6-2.5 .9-2.3 1.2-2 1.4-1.8 1.4-1.9 1.2-2 1.1-2.1 1-2.2 1-2.1 1.3-2 1.3-1.8 1.5-1.7 1.3-1.8 1.1-2 1-2.3 .9-2.5 1-2.4 1.2-2.1 1.4-1.8 1.5-1.5 1.6-1.5 1.6-1.6 1.4-1.7 1.4-1.9 1.4-1.7 1.7-1.3 1.9-.8 2.1 0 2.4 .8 2.5 1.2 2.3 .7 1.6-1 1.1-2.6 1.1-2.8 1.5-1.4 2.2 .9 1.9 .3 1.4-2 1.6-1.4 1.7-.9 1.6-1 1.7-1.2 1.7-1.1 1.7-.6 1.9 0 1.9 .9 1.9 2 2 2.5 1.8 1.8 1.7-.2 1.8 6 2.1 30.5 1.1 3.7 1.2-5.2 2.1-33.7 2-8.3 1.8 .2 1.8 .1 1.8-.1 1.8-.4 1.9-.3 1.8 .1 1.7 1 1.7 1.4 1.8 .4 1.9-.5 2-.4 1.8 .5 1.8 .7 1.8 .6 1.9 .2 2 0 2 .2 1.8 .8 1.6 1.5 1.4 2.1 1.4 2.1 1.4 1.9 1.5 1.6 1.1 2.3 .6 3.6 1.3 1.8 2.9-1.4 2.9-1.1 1.6 1.5 .8 2.7 .9 2.7 1.1 2.2 1.5 1.5 1.8 1.2 1.7 1.4 1.3 1.8 .9 2.4 .5 2.9 .4 2.9 .5 2.7 1 2.1 1.4 1.7 1.7 1.4 1.5 1.6 1.2 2 .8 2.3 .4 2.6 .4 2.6 .7 2.3 1.1 2 1.3 1.9 1.3 2 .7 2.2 -.1 2.8 -1.1 3.2 -1.8 3.3 -1.7 3.3 -1.2 2.8 .1 2.2 1.3 1.8 2.5 1.5 2.8 1.5 2.5 1.7 1.9 2 1.2 2.2 1 2.3 1.1 2.3 1.4 2.4 1.6 2.3 1.4 2.5 .8 2.5Z"/><clipPath id="sc53"><use href="#sp54"/></clipPath></defs>
<g clip-path="url(#sc53)">
<defs><radialGradient id="sg55"><stop offset="0" stop-color="#c6c6c6"/><stop offset="0.6" stop-color="#afafaf"/><stop offset="1" stop-color="#9c9c9c"/></radialGradient></defs>
<use href="#sp54" fill="url(#sg55)"/>
<g fill="none" stroke="#808080" stroke-width="3.8" stroke-opacity="0.60" stroke-linecap="round" stroke-linejoin="round"><path d="M544.2 1037.2l.4-5.8 -.2-7.9 1.2-5.4 1.8-6.6"/><path d="M653 979.1l-3.5 2.5 -1.1 6.2 -.1 5.5 4 6.2"/><path d="M541.3 1008.7l4.5 .2 4 2.6 3.8 4.3 3.5 0"/><path d="M658.3 1011.2l-3.8 .4 -6.2-2.3 -2.7-5.7 -3.7-4.1"/><path d="M564.4 891.1l2.5 4.9 5 3.3 1.6 5.4 4.2 2.4"/><path d="M539.1 959l3.4-1.9 6.4 1.2 3.7 1.8 3.2 2.8"/><path d="M565.8 1081.6l.4-6.4 -.2-6.4 -2.3-4.5 .6-4.9"/><path d="M651.3 1010.6l-4 .3 -3-2.8 -1.3-6.2 -5.4-3.8"/><path d="M682.5 1000.4l-4.2 .2 -5.3 .1 -3.3 3.4 -3.4 .2"/><path d="M632.2 920.8l-1.4 3.9 0 5.7 -3.2 4.4 -2.9 2.9"/><path d="M532.7 959.9l4 2.6 3.4-.8 3-5.8 5.1-4.4"/><path d="M660 911.3l-4.1 4.9 -4.3 2.4 -5.8 1 -4.7 1.5"/><path d="M545.7 936.9l3.6-2.2 3.5-1.6 4.6-.3 4.6 5.6"/><path d="M510.7 1030l3.3-6.2 4.5-3.9 2.1-5.4 2.6-5.7"/><path d="M639.3 1083.9l-5.7-3.5 -3.3-2.5 -4.6 .9 -4.3-2.8"/><path d="M602 1078l2.9-2.1 1.4-3.9 4.1-3.1 6.2 1.7"/><path d="M557 1089l5.7-2.1 5.3 3 2.8 5.9 4.7 1.9"/><path d="M669 986.5l-4-4.9 -4.1-2.8 -2.6-7.6 -.7-4.7"/><path d="M647.9 1061.6l-.8-7.5 -2.1-3.4 -3-4.4 -4.4-3.5"/><path d="M593.1 908.1l1.2 7 1.5 7.9 -1.4 6.9 -3.9 2.6"/><path d="M599.1 1063.9l2.6-7.1 1.9-3.7 4.6-2.5 4.9 2.3"/><path d="M627.2 919.8l-5.6 2.9 -5.5 2.2 -4.9 1.4 -3.5 0"/><path d="M549.3 1026.8l3-2.9 .2-7.5 -1.6-5.7 -.2-6.1"/><path d="M542.7 1084l3.2-1.7 5.5 3.4 6.4 .6 3.8-1.1"/><path d="M610.6 884.5l-3.3 7.1 -2.3 5.9 .4 4.8 2.4 5"/><path d="M535 959.5l3.4 4.4 .7 4 -3.8 6.3 -3.3 6.1"/><path d="M575.9 1087.8l-.8-5.1 .5-6.2 -1.3-5.8 1.2-4.1"/><path d="M587.5 1060l-1.5-5.5 -.4-4.9 .7-4.8 -2.4-6"/><path d="M602.7 894.9l-2.5 3.6 -3.3 5.8 -.5 4.1 -2.8 4.7"/><path d="M635 1045.7l.6-5.6 -.8-6.9 -1.7-4.3 1.5-5.6"/><path d="M603 1051.4l-2.1-7.4 -3.6-3.2 -3-1.8 -3.8-6.1"/><path d="M625.8 923.5l-.2 5.7 4.2 5.4 3.4 4.6 1.4 4.5"/><path d="M513.7 1008.2l3.3-5.5 4.3-.4 4.5-3.3 4.1-3"/><path d="M646.9 995.5l-3.3-3.9 -1.5-5 -.8-4.6 -1.8-7.1"/><path d="M515.4 1005.7l3 2.8 1.7 4.3 -1.1 4.7 -4 2.5"/><path d="M618 1045.7l-3.1-3.2 -3.7-3.8 -4.3-4.5 -3.4-3.5"/></g>
<g fill="none" stroke="#ffffff" stroke-width="1.9" stroke-opacity="0.95" stroke-linecap="round" stroke-linejoin="round"><path d="M670.7 1018l-3.7-1.1 -2.9-4.3 -3.3-3.3 -1.1-4.3"/><path d="M525.2 991.8l5.2 1 5.1 3.2 1.2 7.1 -2.1 3.9"/><path d="M523.8 976.9l4.2 .4 4.3 .4 2.4 4.3 3.3 2.7"/><path d="M670.6 1041.4l-3.9 3.7 -6 1.8 -4.7 0 -3.2-1.9"/><path d="M651.4 1013.5l-3.3 2.8 -1.7 6.7 1.7 4.2 4.1 5.6"/><path d="M537.3 975.1l5.4-3.1 3.9-3.5 3.2-3.5 5 1.1"/><path d="M586.2 904.1l-1 4.5 -2.5 3.3 -1.6 7.4 -5.5 3.2"/><path d="M619.7 1062.9l-1-8.1 .6-8.1 .9-7.3 5.3-3.8"/><path d="M661.7 1034.5l-4-3.6 -1.8-5 -1.8-5.5 .4-7.7"/><path d="M592.2 889.9l-2.9 2.6 -5.7-.2 -3.7-5.6 -1.7-5.2"/><path d="M618 1064.9l1.5-4.1 .3-6.4 1.1-4.3 -3.4-6.7"/><path d="M533.4 909.3l1.8 4.4 1.1 7.6 -2.2 6.5 -1.5 4.1"/><path d="M660.9 965.1l-4.1-.9 -4.6 3.4 -3.2 6.6 -1.8 4.5"/><path d="M553.4 914.2l1.2 5.6 .2 7.2 -.9 4.7 -1.1 5.4"/><path d="M638.8 1057l-2.6-4.7 -3.6-3.5 -4.2-3.2 -1.9-6.3"/><path d="M538 962.4l4-4.4 .5-6.8 -2.4-6.7 -3.1-2.1"/><path d="M619.9 901l2.8 6.5 .7 7.7 3 6.6 6.2 2.1"/><path d="M524.3 1055l3-3.5 6.1-1.8 6.2-.8 3.9 1.5"/><path d="M562.8 910.9l6.3 .8 3.4 4.3 3.1 7.1 2.7 5.4"/><path d="M588.3 1060.9l2.7-6.1 5-2 3.4 1.6 2.2 4.8"/><path d="M522.7 988l4.5-5.3 3.2-1.8 3.8-3.3 5.1 1.7"/><path d="M638.8 902.3l-2.5 5.7 -5.5 2.5 -4.6 4 -3.2 1.1"/><path d="M538.6 960.5l3.2 2.5 5.1 2.8 3.7 .7 4.9-4.6"/><path d="M580.6 1064.1l1.2-6.3 5.2-5 2.7-6.9 1.1-6.1"/><path d="M524.8 942.1l3.3-2.2 .9-5.7 3.6-4.6 3.9 .3"/><path d="M647.7 1061.3l-2.7-3.8 -3.3-3.7 -3.2-1.4 -5.5 1.9"/><path d="M533.1 1003.1l2.8 4.7 6.1 .9 3.7 1.6 4.1 4.8"/><path d="M647.7 918.9l-3.8 3.9 -3.5 2.5 -4.3 .8 -4.3 2.2"/><path d="M652.9 933.8l-3.6-.5 -4.1 5.1 -1.3 4.4 -5.8 3.1"/><path d="M519.9 1018.1l3.5-.3 5.3-4.1 .9-4.5 -3.2-6.8"/><path d="M552.6 887.4l-2.1 7.2 1.8 5 -.6 5.9 -4.6 5.4"/><path d="M536 940.1l3 3.5 .6 7.5 3.7 5.2 2.6 2.7"/><path d="M548.4 919.5l-3.1 7.1 -.8 5.2 -1.5 5.3 -3.9 2.6"/><path d="M533 989.7l4.2 3.7 3.2 3.8 3.6 1.5 5.2 2.3"/><path d="M558.5 906.4l1.1 4.4 4.8 4.5 2.6 2.9 1.4 6.3"/><path d="M505.4 961.6l1.9 4.5 2.7 4.6 5 4.5 2.3 3.5"/><path d="M686.7 984l-3-2.1 -2-6.8 -2.9-6.4 .6-7"/><path d="M521.2 927.6l4.2 4 5.1 .9 2.5 3.7 4.4 .5"/><path d="M663.2 999.5l-2-4.8 -4.9-2.9 -4.8-2.2 -5.9-3.3"/><path d="M517.9 929.7l.5 5.3 4.2 3.4 5.7-.7 4.4 .2"/><path d="M637.4 905.6l-3 5.4 -4.2 .7 -3.5-2 -4.3-3.9"/><path d="M530 1041.3l4.8-2.9 2.5-6.2 -1.4-4.8 -.1-6"/><path d="M687.4 979.8l-5.3 .6 -3.9 3.8 -4.7 2.7 -5.6 2.7"/><path d="M661.5 987.9l-4.8-2.1 -5.6 2.4 -3.3 2.9 -4 .8"/><path d="M677.4 996.3l-2-5.2 -4.5-4.1 -3.9-1.5 -4.2 0"/><path d="M565.5 1054.1l2.5-5 .1-6.9 2.9-3.3 4-2.9"/></g>
<g fill="none" stroke="#ffffff" stroke-width="1.5" stroke-opacity="0.80" stroke-linecap="round" stroke-linejoin="round"><path d="M558.5 1006.9l5.3 5.2 5.8 3.5 3.7 6.4 -.7 4.9"/><path d="M639.5 1015.2l-4.3-5.3 -6.1-5.3 -7.2 1.6 -4.7 0"/><path d="M594.5 949.4l-.1 6.6 -4.5 6.8 -3.9 5.4 -3.7 1.1"/><path d="M606.5 939.6l5.6-1.2 3.2-2.7 6 .3 4.3-.8"/><path d="M625.3 960.1l-1.8-4.4 -4.1-2.6 -2.8-6 -1.2-5.1"/><path d="M599.7 1037.1l4.6-.4 6.2 1.2 6.6-1.7 5.3-6.6"/><path d="M585.5 1047.3l-.7 5.1 -3.1 7.8 -5.5 2.4 -4.5-3.1"/><path d="M641.5 1015.1l4.3-4.4 5.2-.9 5.2-2.1 5.5 .3"/><path d="M591.2 1036.6l6.2 3.1 4 .8 7 2.7 3.9 1.6"/><path d="M555.4 990.9l-4 4.6 -4.8 4.7 -4.4 5.3 -5.6 1"/><path d="M605.6 965.9l-3-8.6 -.1-6.9 -.5-6.2 -2-7.9"/></g>
<ellipse cx="596.8" cy="990.3" rx="11.4" ry="23.9" fill="#fff"/>
<defs><filter id="sf56" x="-20%" y="-20%" width="140%" height="140%"><feGaussianBlur stdDeviation="1.5"/></filter></defs>
<g filter="url(#sf56)">
<ellipse cx="634.8" cy="1038.1" rx="26.6" ry="52.6" fill="#3a0862"/>
<ellipse cx="564.5" cy="1038.1" rx="13.3" ry="52.6" fill="#2a3c86" transform="rotate(5 564.5 1038.1)"/>
<ellipse cx="583.5" cy="1069.2" rx="11.4" ry="23.9" fill="#3a0862"/>
<ellipse cx="612.0" cy="1085.9" rx="28.5" ry="12.0" fill="#3a0862"/>
<ellipse cx="579.7" cy="966.4" rx="13.3" ry="14.3" fill="#3a0862"/>
<ellipse cx="608.2" cy="966.4" rx="13.3" ry="14.3" fill="#3a0862"/>
<ellipse cx="583.5" cy="961.6" rx="9.5" ry="12.0" fill="#21908c"/>
<ellipse cx="606.3" cy="961.6" rx="9.5" ry="12.0" fill="#21908c"/>
<ellipse cx="585.4" cy="961.6" rx="5.7" ry="9.6" fill="#f2e41e"/>
<ellipse cx="604.4" cy="961.6" rx="5.7" ry="9.6" fill="#f2e41e"/>
<ellipse cx="623.4" cy="990.3" rx="7.6" ry="9.6" fill="#21908c"/>
</g>
</g>
<use href="#sp54" fill="none" stroke="#1c1c1c" stroke-width="4.2" stroke-linejoin="round"/>
<defs><path id="sp58" d="M288.4 1230.5l.7 2.4 .5 2.4 .6 2.4 .6 2.4 .3 2.5 .1 2.4 0 2.5 .1 2.4 .1 2.5 .2 2.6 0 2.5 -.3 2.4 -.7 2.2 -1 2.2 -1.1 2.1 -.9 2.1 -.5 2.3 0 2.6 .2 2.7 .2 2.7 -.1 2.7 -.6 2.3 -1 2.1 -1.2 2 -1.2 2 -.9 2.1 -.8 2.3 -.7 2.4 -.8 2.2 -1.1 2.1 -1.4 1.7 -1.6 1.6 -1.6 1.6 -1.3 1.8 -1 2.2 -.9 2.2 -1.4 1.7 -2.2 .9 -2.2 .6 -1.7 1.3 -1.3 1.9 -1.7 1.1 -2.5 .1 -2.2 .3 -1.4 1.6 -.5 3.2 -.4 3.3 -1.1 2.5 -1.6 1.5 -1.9 .9 -2 .8 -1.9 .8 -1.8 1 -1.8 1.1 -1.8 1.2 -1.8 1 -1.9 .7 -2 .7 -1.9 .6 -2 .7 -1.9 .8 -1.9 .9 -1.9 .8 -1.9 .6 -2.1 .3 -2 .2 -2 .1 -2 .2 -2 .3 -2.1 0 -2.1-1.5 -2.2-5 -2.1-3.6 -1.7 2.3 -1.9 1.9 -1.9 .4 -1.9 .5 -1.9-.4 -1.8-1.2 -2.1 1.3 -2.3 4 -2.3 2.5 -2.3 .8 -2.1 .5 -2.3 .5 -2.2 .6 -2.3 .4 -2.2 0 -2.1-.6 -1.9-1.3 -1.8-1.7 -1.6-1.9 -1.7-1.7 -1.8-1.2 -2-.8 -2.1-.6 -2.1-.5 -2-.8 -1.8-1.1 -1.8-1.4 -1.8-1.3 -1.9-1.1 -2-.9 -2.1-.8 -2-1 -1.7-1.5 -1.4-2 -1-2.5 -.8-2.6 -1-2.4 -1.3-2 -1.6-1.4 -2-1.1 -1.9-1.3 -1.6-1.6 -1.1-2.2 -.6-2.6 -.3-2.8 -.5-2.6 -.8-2.3 -1.3-1.9 -1.6-1.6 -1.6-1.7 -1.3-1.9 -.9-2.2 -.4-2.5 -.2-2.6 -.3-2.6 -.5-2.4 -.7-2.3 -.7-2.2 -.5-2.4 -.2-2.5 .1-2.6 .2-2.6 0-2.4 -.4-2.4 -.8-2.2 -.9-2.2 -.7-2.2 -.2-2.4 .4-2.6 .9-2.6 1-2.5 .8-2.5 1.5-2.5 2-2.5 -.6-2.2 -3.7-2.1 -2.2-2.4 .1-2.4 1.3-2.4 1.6-2.3 1.3-2.2 .7-2.3 0-2.3 -.3-2.4 .2-2.4 1.5-2 2.9-1.6 2.8-1.5 .7-2 -.8-2.6 -.5-2.6 .6-2.1 1.7-1.7 2.7-1 3.4-.6 3.7-.2 3.2-.3 2.1-.9 .5-1.8 -1-2.8 -2.1-3.8 -2.7-4.5 -2.5-4.6 -1.9-4.3 -.9-3.8 -.1-3.1 .4-2.7 .8-2.4 .8-2.4 .9-2.3 1-2.2 1.4-1.9 1.7-1.3 2.3-.6 2.4-.2 2.1-.6 1-2.1 .3-3.5 .2-3.7 .7-3.1 1.2-2 1.7-1.3 1.9-.9 1.8-1 1.7-1.3 1.3-2 1.2-2.4 1.3-2.5 1.4-2 1.7-1.4 1.9-.5 2.2 .1 2.1 .3 2.1 0 1.8-.6 1.7-1.2 1.6-1.6 1.6-1.5 1.8-1 1.9-.4 2 .2 1.9 .4 2 .3 1.8-.1 1.8-.6 1.8-.9 1.8-.8 1.9-.4 1.8 .4 2.2 10.1 2.2 35.7 1.2 5.9 1.2-4.6 2.1-34.2 2.1-9.8 1.9-1 1.9-.6 1.8-.2 1.9 .4 1.7 .9 1.7 1.3 1.7 1.6 1.6 1.5 1.6 1.2 1.8 .6 1.8 .2 1.9 0 1.8 .3 1.6 1.4 1.4 2 1.6 1.1 2-.1 2.1-.3 1.9 .5 1.6 1.3 1.5 1.5 1.5 1.4 1.6 1.3 1.7 1.1 1.8 1 1.7 .9 1.8 1 1.8 1 1.8 1.2 1.6 1.4 1.3 1.9 .9 2.6 .6 2.9 1.4 1.8 1.9 .8 1.9 1.2 1.6 1.6 1.3 1.8 1.1 2.1 .7 2.6 -.1 3.4 -.6 3.7 -.3 3.3 .6 2.3 1 2 .3 2.6 -.9 3.3 -1.7 3.9 -2 3.9 -2.1 3.8 -2.3 3.6 -1.4 2.9 2.3 .8 5.3-.8 5.3-.4 4.3 .3 3.5 .9 2.4 1.5 1.3 2 .4 2.4 0 2.5 -.2 2.5 -.2 2.5 -.3 2.5 -.1 2.4 .7 2.2 1.7 2.1 1.7 2.2 -.1 2.4 -1.7 2.5 -.2 2.4Z"/><clipPath id="sc57"><use href="#sp58"/></clipPath></defs>
<g clip-path="url(#sc57)">
<defs><radialGradient id="sg59"><stop offset="0" stop-color="#c6c6c6"/><stop offset="0.6" stop-color="#afafaf"/><stop offset="1" stop-color="#9c9c9c"/></radialGradient></defs>
<use href="#sp58" fill="url(#sg59)"/>
<g fill="none" stroke="#808080" stroke-width="3.6" stroke-opacity="0.60" stroke-linecap="round" stroke-linejoin="round"><path d="M174.7 1318.4l-2.2-3.6 -3.8-2.4 -3.7-.3 -3.4 1.3"/><path d="M165.5 1152.3l3.8 2.7 4.6-.7 2.8 2.8 5.9-1.4"/><path d="M135.4 1234.5l5-4.2 3.3-2.9 3.7 .5 4.3-.6"/><path d="M129.6 1251.4l6.1-1.6 3.9-4.7 2.2-5.3 -1.4-6.3"/><path d="M228.3 1342.9l.2-6.5 -1.2-5.8 -3.2-5.1 -4.2-.9"/><path d="M264.4 1231.8l-5.3 .5 -4.1 5.4 -4.6-.3 -3.7-2.2"/><path d="M146.2 1238.8l5.7 .8 3.4-2.2 5.5 2 5.2 4.2"/><path d="M255 1174.4l-3.2 .4 -5.7 1.3 -5.7-1.5 -5.4 1.3"/><path d="M212.8 1112.6l0 4.9 -.2 5.2 1.9 3.7 3.3 3.9"/><path d="M251.2 1245l-4.8 2.9 -1.4 4.5 -.8 5.9 3.2 6.2"/><path d="M125.7 1167.5l5.8-2.7 3.8 .8 4.8-3.8 4.8-3.6"/><path d="M212.6 1118.6l-.9 6.4 -.3 6.5 .3 4.5 -.2 6.6"/><path d="M259.3 1206l-3.6 6.2 -4.1 2.2 -5.4 1.7 -6-2"/><path d="M222.5 1296.4l.6-6.8 .5-5 3.6-5.6 2.1-4.6"/><path d="M147.7 1276.2l3.2-.8 4.1-.4 4.3 2.7 4 1.7"/><path d="M210.6 1143.9l4.1 5.6 4.1 6.4 3.8 3.8 .5 8"/><path d="M133.8 1256.9l3.6 .9 5.6-2 3.1-2.6 1.3-4.4"/><path d="M221 1335l.9-5.5 2-4.1 3.8-5.5 3.3-.6"/><path d="M252.9 1317.4l-3.9-.9 -3.4-4.8 -1-5.5 -.3-5.7"/><path d="M252 1287.2l-.8-7.7 -3.3-5.8 -1.4-5.9 -1.5-6.8"/><path d="M140.6 1305.8l3.3-.1 4.5 5 2.5 3.6 2.8 2"/><path d="M137.6 1214.9l5-1.7 3.6 .4 5.1-.4 3.3 2.8"/><path d="M147.1 1149.5l5.4 1.5 2.9 7 -1.6 5.5 -3.1 5.4"/><path d="M170.9 1170.8l4.8 2.9 3.9 3.3 1.3 7.7 -2.6 7.1"/><path d="M224.6 1293.8l0-6.7 .8-7 .8-5.5 .8-6.7"/><path d="M247.5 1157.3l-3.6 2.1 -5.9-.9 -3.1-1.3 -5.2 2.4"/><path d="M234.8 1132.5l-4.4 4.3 -.5 5.9 2.9 6.1 1 5.7"/><path d="M124.6 1237.2l4.9-3.1 4.7-2.2 2.3-3.1 .9-4.6"/><path d="M134.6 1175.6l5.3-4 3.9 1.5 4.1 4.7 2.5 3.8"/><path d="M140.9 1177.8l3.1 1.4 3.7-1.6 1.7-4.1 3.4-4.9"/><path d="M212.7 1298.6l-3.7-3.7 -4-.7 -3-5.3 -2.1-7.8"/><path d="M172 1166.6l5.8 1 4.4-1.2 4.1 .9 2.8 2.6"/><path d="M253.7 1250.6l-3.9 4.3 -4.4 4.5 -3.5 .1 -4.8-.6"/><path d="M196.9 1154.5l-2.2 4.9 1 6.3 2.2 5.6 -1 7.1"/><path d="M140.9 1279.9l3.5 3.1 5.4 3.8 2.9 4.7 -.5 4.6"/><path d="M119.4 1267.3l2.6-3.3 1.3-7.6 -.9-5.2 -4.5-4.4"/></g>
<g fill="none" stroke="#ffffff" stroke-width="1.8" stroke-opacity="0.95" stroke-linecap="round" stroke-linejoin="round"><path d="M234.3 1137.3l-2.5 3.2 -3.6 2.6 -3.6-.1 -4-.4"/><path d="M136.2 1187.4l3.3 2.4 4.1-.7 3.8-2.4 2.5-3.1"/><path d="M242.5 1166.8l-.9 6.1 .6 7.5 -3.8 6.4 -3.2 5.4"/><path d="M130.5 1218.8l4.6-2.6 2-7.4 3.6-2.7 4.5-3.7"/><path d="M190.4 1118.4l1.9 5.6 .2 5.7 -2.3 6.9 -.8 4.8"/><path d="M265.7 1146.2l-6.1 .4 -3.9 .7 -4.8-3.4 -2.5-4.1"/><path d="M220.4 1300.6l3.5-5.2 4.5-3.7 4.1 1 4.9 3.8"/><path d="M264.6 1156.4l-.8 7.6 -5.3 4.6 -3 5.6 -4.4 2.1"/><path d="M138.4 1289.3l3.6-.6 5-.5 4.4 4.9 6 1.4"/><path d="M267.6 1230.5l-2.9 4.6 -3.8 3.1 -.8 5.5 1.1 5.5"/><path d="M222.6 1118.8l-3.9 2.7 -1.1 4.7 .3 8 1.3 5.1"/><path d="M120.7 1259.5l3.7-5.4 3.8-.7 3.5-1 3.9 1"/><path d="M247.6 1138.8l-6.2 .8 -3.8-3.2 -3.9 .6 -2.8 2.8"/><path d="M215.9 1141l-5.3 3.6 -2.5 4.9 -3.1 2.4 -1.2 7.2"/><path d="M174.3 1138.6l-1.1 4.8 -1.9 3.8 -2.4 3.1 -5.4 1.2"/><path d="M167.4 1295.7l.6-5.8 4.7-4.9 3.3-1 3.5-6.8"/><path d="M248.7 1186.7l-3.4 2.6 -4-.7 -5.1 .5 -3.3 2.1"/><path d="M143 1194.1l5-4.1 3.5-1.2 4.4 2.1 3.5 4"/><path d="M117.6 1246.5l4.3-3.2 5.9-1.8 4.2 .3 3.3 4"/><path d="M118.1 1263.1l4.1 5.4 4.8-.4 3.1 2.4 3.4 3.4"/><path d="M246.8 1131.9l-3.7 2.7 -5.6 3.9 -2.4 7.2 -1.9 6.1"/><path d="M179.4 1160.6l3.1 3.3 1.5 3.7 -1.8 6.3 -2.7 7.2"/><path d="M111 1233.7l2.6-2.9 .2-7.7 2-6.7 -.6-6.5"/><path d="M157 1150.2l.9 5.5 -.1 6.4 .9 8.1 -3.2 5.6"/><path d="M164.5 1303.5l1-5.2 -1-7 -2.3-3.5 -4.4-3.2"/><path d="M268.2 1177.3l-3.5 2.2 -4.1 2 -6.1-2.3 -4.2-3"/><path d="M235.7 1324.2l-2.4-4.5 -1.5-6.8 2.6-7.6 .3-8"/><path d="M264.5 1261.2l-2.6-4.7 -3.2-7 -3.6-1.7 -5 .8"/><path d="M163 1324.1l3.2-4.7 4-.4 2.9 2.2 3.7-1.1"/><path d="M250.2 1162.7l-5.2 4.1 -3.5-.8 -3.1 1 -5 4.2"/><path d="M197.4 1318.9l-.9-4.6 3-6.8 -.5-7.3 4.2-5.6"/><path d="M144.3 1183.5l5.1 .1 3.4 5.9 2.3 5.5 -.9 7.3"/><path d="M277.1 1261l-3.8 1.4 -5.6-1 -5.4 .3 -3.8 .5"/><path d="M143.3 1234.1l2.2-3.9 .7-8.2 3.5-5.7 5.7-.3"/><path d="M221.1 1152.2l-3 2.3 -2.6 4.7 -6 2.6 -4.4 4.4"/><path d="M190.2 1118.2l4.3 3.7 6.2 1.4 5.4-1.5 3.1-3.7"/><path d="M235 1325.8l-1.9-5.7 .1-8.1 4.3-6 4.4-3.8"/><path d="M254.6 1262.8l-4-3.1 -4.3-1.1 -3.4-1.9 -4.5-3.4"/><path d="M174 1295.3l4.9 1.4 4 2.1 2.7 4.5 2.6 5.1"/><path d="M222.4 1303.4l2.4-5.5 4.2-1.9 3.6-2.9 .5-4.5"/><path d="M265.4 1193.9l-6-.6 -3.7 .7 -2.9-3.5 -1.2-3.9"/><path d="M117.7 1240.6l3.3 1.2 4.9-.6 3.5 2.7 3.1 4.4"/><path d="M214 1311.1l-3.2-2.6 -1.2-6.7 1.1-5.2 -2-3.8"/><path d="M165.9 1338.4l1.9-5.5 -.6-4.3 -3.3-6.3 -4.2-1.5"/><path d="M178.1 1148.1l2.1 7.1 .6 5.7 -.5 7.3 -3.8 5.1"/></g>
<g fill="none" stroke="#ffffff" stroke-width="1.5" stroke-opacity="0.80" stroke-linecap="round" stroke-linejoin="round"><path d="M223.3 1291.1l2.4-6.7 3.6-6 3.9-2.7 4-.7"/><path d="M208.6 1178.2l5.4 4.5 5.3 6.1 5.7-1.3 4.4 4.2"/><path d="M159.1 1270.8l1.9 6.7 4.3 4.2 5 .7 5 3.5"/><path d="M153.6 1205.9l5.5 3 3.4 4.5 1.3 8 1 6.7"/><path d="M228.9 1217.1l-1.5-8 1.4-7 -3.3-7.3 .5-5.7"/><path d="M249.9 1259.6l0 6.6 -.7 6.6 -3.9 7.2 -2 7.2"/><path d="M221.7 1232.6l4.8 2.2 4.6-.3 5.3 1.5 5.3-1.9"/><path d="M213.4 1210.1l2.6-4.8 3.7-1 3.1-3.3 3.6-7.9"/><path d="M165.5 1244.9l-4.1-3.9 -3.6-6.5 -4.2-3.8 -3.3-4"/><path d="M202.9 1170.4l-4.8 .8 -4.5-.3 -6.4 .2 -6 4.6"/><path d="M218.8 1260.8l3.6 3.4 1.9 8.7 -.6 5.1 -4.7 4.6"/></g>
<ellipse cx="200.5" cy="1266.0" rx="7.6" ry="33.2" fill="#fff"/>
<defs><filter id="sf60" x="-20%" y="-20%" width="140%" height="140%"><feGaussianBlur stdDeviation="1.5"/></filter></defs>
<g filter="url(#sf60)">
<ellipse cx="162.3" cy="1306.3" rx="30.6" ry="37.9" fill="#3a0862"/>
<ellipse cx="238.7" cy="1306.3" rx="30.6" ry="37.9" fill="#3a0862"/>
<ellipse cx="166.1" cy="1282.6" rx="15.3" ry="23.7" fill="#2a3c86"/>
<ellipse cx="229.2" cy="1273.2" rx="15.3" ry="23.7" fill="#2a3c86"/>
<ellipse cx="162.3" cy="1313.5" rx="9.6" ry="19.0" fill="#21908c"/>
<ellipse cx="200.5" cy="1337.2" rx="34.4" ry="9.5" fill="#3a0862"/>
<ellipse cx="194.8" cy="1223.4" rx="17.2" ry="16.6" fill="#2a3c86"/>
<ellipse cx="194.8" cy="1223.4" rx="11.5" ry="11.9" fill="#21908c"/>
<ellipse cx="194.8" cy="1223.4" rx="6.7" ry="8.3" fill="#f2e41e"/>
</g>
</g>
<use href="#sp58" fill="none" stroke="#1c1c1c" stroke-width="4.2" stroke-linejoin="round"/>
<defs><path id="sp62" d="M484.3 1232l2.8 2.4 1 2.5 -.2 2.5 -.4 2.4 -.6 2.4 -.9 2.3 .5 2.5 2.7 3 2.5 3.1 .6 2.8 -.9 2.4 -1.5 2.1 -1.5 2.1 -1.1 2.2 -.3 2.5 .3 2.7 .6 2.9 .2 2.9 -.5 2.4 -2.1 1.7 -3.7 .6 -4.7-.2 -3.8 .3 -1.2 1.7 1.4 3.5 2.4 4.5 1.8 4.1 .2 3 -1.3 2 -1.9 1.4 -2 1.2 -1.8 1.3 -1.5 1.7 -1.2 1.9 -1.2 1.9 -1.7 1.3 -2.7 .1 -3.8-1.3 -3.7-1.5 -2.1 .4 -.3 2.8 .3 3.9 -.1 3.3 -1.3 1.7 -2.3 .2 -2.3-.1 -1.8 .9 -1.3 1.6 -1.3 1.6 -1.4 1.5 -1.4 1.5 -1.3 1.9 -1.3 1.9 -1.5 1.8 -1.6 1.2 -1.8 .8 -1.9 .5 -1.9 .5 -1.8 .7 -1.8 1 -1.6 1.3 -1.7 1.3 -1.8 1.2 -1.8 .9 -1.9 .6 -2 .3 -2 .2 -1.9 0 -2-.2 -2.1-.7 -2-1.2 -2-1.6 -1.9-1.7 -1.9-1 -1.8 .2 -1.9 1.4 -1.9 2.4 -2 2.6 -2.1 2 -2.1 1 -2 .1 -2-.4 -2-.5 -2-.2 -2.1 .1 -2.1 .3 -2.1 .1 -2.1-.5 -1.8-1.1 -1.7-1.6 -1.7-1.7 -1.6-1.4 -1.9-.9 -2-.5 -2-.4 -1.8-1.1 -1.3-2.2 -.8-3.1 -.9-2.9 -1.3-1.8 -1.7-1 -1.8-.8 -1.8-.9 -1.8-.8 -1.9-.9 -1.7-1 -1.6-1.4 -1.4-1.6 -1.2-1.8 -1.3-1.8 -1.4-1.6 -1.5-1.4 -1.2-1.8 .1-3.2 .6-3.7 -2-.8 -3.1 .1 -1.6-1.3 -1-2 -1-1.9 -1.3-1.7 -1.5-1.6 -1.6-1.6 -1.4-1.7 -1.1-1.9 -.9-2.1 -.8-2.2 -.9-2.1 -1.1-2 -1.3-1.8 -1.6-1.8 -1.6-1.9 -1.3-2 -.8-2.3 -.3-2.5 .3-2.7 .4-2.7 .2-2.6 -.1-2.5 -.8-2.3 -1.2-2.2 -1.3-2.2 -1.1-2.4 -.6-2.4 0-2.6 .6-2.6 .8-2.6 .7-2.6 .2-2.5 -.2-2.5 -.6-2.5 -.6-2.6 .5-2.5 2.6-2.3 3.8-2 1.7-2.2 -1-2.5 -.9-2.7 0-2.5 -.1-2.5 -.2-2.6 .1-2.6 .8-2.3 1.9-1.9 3-1.3 3.8-.8 4-.5 3.8-.4 2.9-.6 1.9-1.2 .7-1.7 -.3-2.5 -.9-3 -1.1-3.2 -1.1-3.4 -.9-3.4 -.8-3.4 -.7-3.5 -.4-3.4 0-3.1 .6-2.7 1.1-1.9 1.7-1.5 1.8-1.2 1.8-1.2 1.9-.9 2-.8 .6-2.8 -.3-4 .7-2.8 1.7-1.3 2.1-.5 2.1-.4 1.9-.7 1.4-1.5 1-2.4 .9-2.8 .9-2.8 1.3-2.1 1.7-1 2.1-.1 2.3 .5 2.1 .4 1.9-.3 1.6-1.2 1.4-1.8 1.3-1.9 1.6-1.4 1.8-.6 1.9 .2 2 .6 1.9 .6 1.8-.1 1.7-.7 1.6-1.4 1.5-1.4 1.7-1.1 1.8-.4 1.8 .3 1.8 .8 1.8 .7 1.7 .4 2 8.1 2.1 32.1 1.1 4.4 1.1-4.5 2.1-32 1.9-7.4 1.7 .5 1.7 .2 1.8-.4 1.8-.8 1.9-.8 1.8-.6 1.8 .2 1.7 .8 1.6 1.3 1.6 1.3 1.6 .9 1.7 .5 1.9-.1 1.9-.2 1.9 0 1.8 .7 1.6 1.2 1.4 1.7 1.5 1.7 1.5 1.3 1.7 .7 2 .2 2.2-.1 2.1 0 2 .5 1.7 1.2 1.4 1.9 1.1 2.2 1.1 2.4 1.1 2.2 1.1 2.1 1.1 2.2 .7 2.7 .6 2.7 1 2.1 1.8 1 2 .8 1.8 1.2 1.4 1.7 1.3 1.8 1.2 1.9 1.2 2 .8 2.3 .4 2.7 -.4 3.3 -1.2 3.8 -1.8 4.2 -2.1 4.1 -1.9 3.8 -1.3 3.2 -.2 2.3 1 1.5 1.8 1.2 1.7 1.2 1.3 1.5 1.8 1.4 3.5 .7 4.3 .5 3.6 1.1 2.5 1.6 1.7 1.9 1.2 2.2 .6 2.4 0 2.5 -.3 2.5 -.3 2.5 -.3 2.5 -.4 2.4 -.9 2.5 -1.3 2.4 .3 2.3Z"/><clipPath id="sc61"><use href="#sp62"/></clipPath></defs>
<g clip-path="url(#sc61)">
<defs><radialGradient id="sg63"><stop offset="0" stop-color="#c6c6c6"/><stop offset="0.6" stop-color="#afafaf"/><stop offset="1" stop-color="#9c9c9c"/></radialGradient></defs>
<use href="#sp62" fill="url(#sg63)"/>
<g fill="none" stroke="#808080" stroke-width="3.8" stroke-opacity="0.60" stroke-linecap="round" stroke-linejoin="round"><path d="M343.5 1238.3l4.6 1.7 3.2-1.5 4.2 1.7 3.1 5.3"/><path d="M311.9 1244.2l5.8-3.1 4.2-5 6.1-1.9 4.8 3.5"/><path d="M435.9 1143l-3.6 .9 -4 4.5 -3.3 6.5 1.6 6.2"/><path d="M312.6 1194.3l2.5 4.1 2.8 3.6 0 6.4 3.8 6.2"/><path d="M479 1177.5l-3.4-.6 -2.7-4 -1.6-7.5 1-5.1"/><path d="M476.2 1195l-4.6 2.3 -4.5-1 -2.3-3 -.2-5.5"/><path d="M355.8 1272.8l5.2-.1 5.2 5 1.4 6.4 -2.2 4.4"/><path d="M403 1331.3l1.8-3.6 2.7-3.2 3-2.2 6.6 1.1"/><path d="M315 1210.9l4.4 2 2.8 6.2 3.5 6.4 1.4 4.3"/><path d="M345.3 1182.1l5-.5 4.5-1.9 5.9-3 4.2-.3"/><path d="M401 1323.8l1.7-7.1 -.9-5 -1.6-4.3 .7-4.2"/><path d="M402.8 1315.7l-1-5.3 -3.8-2.6 -5.7 1.6 -6.5-1.1"/><path d="M344.1 1172.2l.3 4.9 -3.4 6.4 -1.5 3.9 .7 5.1"/><path d="M344.8 1253.7l4.4-.5 5.7-.9 4 3.3 5.8 3"/><path d="M358.9 1280.6l4.3-3.3 1.4-4.5 2.9-4.9 2.3-4.6"/><path d="M335.3 1225.7l2.4 3.7 2.2 4.3 .4 7.2 4.6 4"/><path d="M447.2 1276.7l-4.7-4.7 -6-.4 -5.5-.1 -4.3-3.2"/><path d="M329.8 1259l5.8-2.7 3.7-2.5 5.7-2.3 3-6"/><path d="M443.1 1181.3l-5.2 4.6 -1.4 5.1 -2.3 5.8 -2.1 4.7"/><path d="M461.1 1237.2l-2.9-2.4 -6.4-.1 -2.9 3.2 -3.1 4"/><path d="M395.4 1127.8l-.3 6.4 .1 5.2 -.9 6.5 3.3 6.4"/><path d="M480.4 1238.3l-3.1-6 -3.1-3.7 -3.6-2.3 -2.2-7.1"/><path d="M428.5 1312.7l.7-5.2 .2-7.5 2.4-4 4.1-2.6"/><path d="M319.8 1220.3l5.1 1.1 4.2-1.1 2-4.3 .8-5.6"/><path d="M460.6 1278.4l.4-4.5 3.7-3.8 5.1-1 4.7 2.8"/><path d="M471.5 1224.9l-2.3 5.2 -2 6.1 -3.1 5.8 -2.8 7.2"/><path d="M456.4 1207.6l-6.2-.3 -6.3-1 -4.2 3.1 -2.7 6.5"/><path d="M329 1307.5l2.5-3 5.5-3.2 3.3-3.8 1.8-5.6"/><path d="M438 1166.4l-4.3 2.4 -4 3.8 -.8 4.2 -4.5 3"/><path d="M459 1154.8l-5.5-1.3 -4.3-1.1 -4.5 2.1 -4.5-3"/><path d="M388.5 1314.5l1.3-4.3 .3-6.3 1.5-7.7 3.9-2.8"/><path d="M399.4 1311.1l-4.4-5.2 -3.7-2.1 -1.9-6.3 .3-4.7"/><path d="M449.5 1218.1l-5.3-2.3 -4.1 1.3 -2.8 5 .8 5.3"/><path d="M336.9 1261.7l6.4-.2 3.9-3 2.2-6.4 4.6-3.6"/><path d="M328.5 1230.4l5.7 3.2 1.4 6.5 -1.9 4 1.8 5.6"/><path d="M464.9 1240.1l-4 .1 -6.5 1.7 -5.3 1.7 -5.1-2.2"/></g>
<g fill="none" stroke="#ffffff" stroke-width="1.9" stroke-opacity="0.95" stroke-linecap="round" stroke-linejoin="round"><path d="M388.2 1307.5l-2.1-4.2 1.1-7.2 -1.5-4.5 2.3-7.1"/><path d="M417.5 1332.6l-.2-5 -2.5-3.9 .1-7.7 -.5-6.6"/><path d="M479 1251.6l-3.2-3.5 -4.5-3.5 -6.1 2.1 -5.3 0"/><path d="M385.6 1325.4l1-4.2 -1.2-6 -5.1-3.2 -6.2 .1"/><path d="M387.8 1142.4l.2 6.3 3 2.8 3.7 .1 4.1-3.4"/><path d="M447.9 1325.8l-1.4-5.9 -3.8-3.8 -6.2-.8 -4.2 2.7"/><path d="M415.1 1152.7l-3.9 5.2 -4.6-.1 -5.4 2.1 -2.7 3"/><path d="M460.6 1225.4l-4 2.2 -2.2 3.4 -1.1 5.1 2.3 5.8"/><path d="M429.4 1333.8l-3.4-4.7 -2.9-6.7 -2.8-5.7 -4.7-1.7"/><path d="M322.8 1214.7l4.6-3.5 5 .6 3.9 6.1 3.5 5.3"/><path d="M460.6 1270.8l-4.5-4.4 -4.2 .7 -6.4 .4 -6.2-1.1"/><path d="M464.6 1222.2l-2.8 3 -2.9 2.9 -.5 5 -2.3 4.4"/><path d="M367.3 1170.8l2.3 3.6 6.2 2.5 2.3 5.6 -2 5.3"/><path d="M373.2 1147.3l1.8 5.1 3.4 2.7 1.1 4 .6 5.9"/><path d="M313.6 1220.4l3.3-2.3 5.9 .2 5.2-2 3.2 1.1"/><path d="M422.4 1167.4l-2.9 3.8 -1.7 4.2 .5 7.6 -1.9 5.7"/><path d="M356.5 1168.8l5 .1 4.4 1.5 3.2 3.1 2.7 2.8"/><path d="M454.5 1198.7l-2.5 3.7 -4 1.8 -2.3 4.8 -1.4 4.9"/><path d="M350.6 1312.6l-.1-7.7 -3.4-4.1 -6 .6 -4-4.8"/><path d="M313 1195.5l6 .2 3.6 3.1 4.3 .3 4.5 2.4"/><path d="M403.5 1346.9l-.5-5 -4.1-6 -4.8-1.6 -2-4.8"/><path d="M464 1165.1l-5.6 1.6 -2.8 5.7 1.2 4.7 -3 6.2"/><path d="M468.2 1219.1l-2.9-2.1 -3.6 .7 -6.2-.5 -4.8-3.1"/><path d="M455.8 1271.1l-2.2-3.5 -2.4-4.2 -.1-5.6 2.8-5.3"/><path d="M392.2 1302.4l1.2-7.9 2.8-3 4.8-1.7 3.6 2.4"/><path d="M392.3 1340.4l-3.4-3.5 -2.1-3.8 -3.4-5.2 .9-6.3"/><path d="M367.9 1157.6l2.7 3.4 3.5 .7 5.6 .9 6.5-.9"/><path d="M406.6 1331.1l4.9-4.8 5.7 1.2 3.6 1.1 4.5-2.1"/><path d="M476 1294.8l-6.3 .8 -3.5 3.2 -3.7 .6 -4.7 5.2"/><path d="M445.8 1273.9l-.9-4.6 -1.2-6.3 2.4-4.1 3.7-2.8"/><path d="M348.9 1135.2l3.3 5.9 3.4 5.1 3.8 2 4.1 2.5"/><path d="M431.8 1161.4l.2 5.3 3.7 4.7 5.2 .1 5.3-4.8"/><path d="M435.7 1289.7l-3.6-5.1 -1-7 1.5-6.6 2.3-4.6"/><path d="M436.5 1286.9l-3.7-.9 -5.5-1.5 -5.5-3.2 -6 .2"/><path d="M351.5 1134.7l4.6 2.4 2.9 5.9 2.3 7.6 1.9 4.8"/><path d="M325 1291.4l3-5.5 -1.3-5.9 .3-5.7 -1.4-5.4"/><path d="M389.7 1314l-2.7-6.9 2.4-6.1 1.5-7.7 1.3-7.7"/><path d="M479.4 1287.3l-2.3-3.7 -1.1-4.1 .6-6.7 -.1-5.3"/><path d="M479.1 1200.3l-4.2 4 -5.2-1.5 -4.3 1.3 -3.5-.5"/><path d="M369.2 1159.8l1.9 4.6 4.4 1.3 3.7 2.1 3.9 3.1"/><path d="M478.7 1202.3l-3.7 .8 -3.2-2 -4-4.1 -4 .6"/><path d="M458.5 1189.8l-3.4 4.7 -5.9 .6 -5.8-2.9 -5.5 3.7"/><path d="M424.7 1132l-4.4 1.9 -3.8 2.4 -1.1 4.2 2.5 7"/><path d="M471.8 1172.6l-2.4 5.3 1.7 5.6 -1.7 7 -1.2 5.7"/><path d="M397.9 1306.1l-3.6-2.5 -4.6-3 -4.7 .4 -3.4 4.7"/><path d="M332.1 1207.4l2.4 3.2 1.1 5.1 .2 6.7 2.9 6.2"/></g>
<g fill="none" stroke="#ffffff" stroke-width="1.5" stroke-opacity="0.80" stroke-linecap="round" stroke-linejoin="round"><path d="M397.1 1280.2l-6.2-2.4 -3-2.9 -3-4.5 -4.2-1.8"/><path d="M363.7 1225.3l4.9-6.9 2.7-6.3 5-6.5 2.8-3.7"/><path d="M384.6 1203l-5.5-2.5 -2.5-6.6 -1.3-6.9 .9-9"/><path d="M361.3 1242.2l-.3-4.7 -1.2-5 1.3-8.5 5.3-5.6"/><path d="M424.7 1235.4l-5.3-.1 -3 4.2 -3.3 6.8 .7 5"/><path d="M367.9 1261.9l2.6 7.1 1.1 4.9 -1.7 4.8 -3 5.1"/><path d="M362 1238l1.1-6 -2.4-3.8 .2-5.1 -3.4-5"/><path d="M380.3 1207.7l-4.8 4.3 -2.6 8.5 -1.8 5.5 -4.6 6.4"/><path d="M407.6 1269.1l6.3-2.9 5.6 .1 6.3-.9 3.2 3.7"/><path d="M361.9 1263.9l4.7-.8 6.2-2.6 6.7 2.2 3.8 2.1"/><path d="M441.3 1209.6l4.3-1.7 6.1 1 5 3.2 2.2 4.4"/></g>
<ellipse cx="396.5" cy="1243.7" rx="11.2" ry="9.4" fill="#fff"/>
<defs><filter id="sf64" x="-20%" y="-20%" width="140%" height="140%"><feGaussianBlur stdDeviation="1.5"/></filter></defs>
<g filter="url(#sf64)">
<ellipse cx="349.8" cy="1290.5" rx="31.8" ry="46.8" fill="#3a0862"/>
<ellipse cx="443.2" cy="1290.5" rx="31.8" ry="46.8" fill="#3a0862"/>
<ellipse cx="396.5" cy="1267.1" rx="26.2" ry="28.1" fill="#433584"/>
<ellipse cx="368.4" cy="1313.9" rx="11.2" ry="18.7" fill="#2a3c86"/>
<ellipse cx="396.5" cy="1302.2" rx="15.0" ry="14.0" fill="#3a0862"/>
<ellipse cx="396.5" cy="1232.0" rx="13.1" ry="23.4" fill="#21908c"/>
<ellipse cx="396.5" cy="1220.3" rx="6.5" ry="14.0" fill="#f2e41e"/>
<ellipse cx="418.9" cy="1255.4" rx="9.3" ry="35.1" fill="#2a3c86"/>
</g>
</g>
<use href="#sp62" fill="none" stroke="#1c1c1c" stroke-width="4.2" stroke-linejoin="round"/>
<defs><path id="sp66" d="M578.3 1129.7l5.2-2.4 5.1 .6 1.6 4.2 .7 9.9 .4 5.2 .3 6.9 0 7.7 -.2 7.9 -.6 7.5 -.5 6.3 -.4 4.4 -3 3.9 -4-1.6 -3.4-1.2 -3.2-2 -3.2-1.9 -2.2-3.6 .2-7.7 .6-9.9 .6-7.4 1.1-7.9 1.3-6.7 1.4-7.3Z"/><path id="sp67" d="M595.9 1130.9l3.8-3 4.1 1.9 2.3 2.7 2.1 5.1 1.3 5.7 1.9 6.9 1.8 6.2 2.1 6.9 1.8 6.1 2.2 6.3 1.4 5.8 -2.1 4.9 -2.9 3.8 -2.3 3.5 -2.8 2.6 -4 1.1 -4 .1 -3.1-1 -1.9-4.1 -.5-5.3 -.6-7.1 -.7-8 -.4-8.1 0-6.8 .2-7.6 -.1-7.4 .5-6.5Z"/><path id="sp68" d="M526 1181.9l5.8-1.6 5-1 3.4 .2 3.2 2 2 5.1 2.7 5.7 3.5 4.9 5 4 6.7 2.5 6.6 2.9 4.8 4.5 2.1 5.3 .8 3.5 -1.2 3.4 -5.7 4.6 -5.8 5.9 -4.7 4.6 -3.7 4.6 -2.8 4.5 -2.2 4.1 -.7 3.5 -1.4 2.9 -2.8 3.3 -3.2 3.8 -2.8 5.5 -3.6 4.1 -4.3-1.7 -2.9-4.6 -.9-7 -.8-5.5 -2.8 3 -2.5 6.2 -3.1 8 -2.8 6.2 .1-.9 -1.6-4.8 -2-6.3 -3-8 -2.7-7.3 -2.4-8.7 -2-7.9 .9-8.3 1.9-8.2 2.2-8.7 2.8-7.9 2.4-6.1 3-5.1 4.5-5.2Z"/><path id="sp69" d="M611.5 1207.9l7-2.7 8.1-2.3 5.5-2.7 5.5-3.5 4.6-5 4.7-6 4.3-3.9 4.5-.7 4.1 2.6 3.2 6.4 3.2 6.9 2.8 4.1 3.1 3 2.9 4.6 2.6 5.7 .2 8.4 0 6.9 1.8 .7 1.3 .7 -2.9 2.4 -2.7 3 .3 1.7 1.2 2.4 1.5 5 .9 6.2 -1.2 8.3 -2.5 8 -1.1 5.2 -2 3.4 -2.6 3.4 -3.5 1.5 -3-3.5 -3.5-4.4 -5.2-1.2 -5.9-.7 -6.1-3.2 -5.4-5.1 -5.9-5.3 -4.9-6 -2-5.7 -2.5-5.9 -3.3-5.5 -3.9-5.9 -3.2-4.9 -2-4.2 .2-3.4 .4-4.4Z"/><path id="sp70" d="M573.9 1231.9l4.1-2.2 4.9-1 4.3-1 4.5-.6 4.5 .1 4.4 .7 4.6 1.2 4.1 1.7 2.3 3.5 1.7 4.4 -.7 6.7 .8 6.6 6.1 2.5 7.2 2 5.4 4.2 5.3 4.8 5.7 4.3 5.9 3.8 5.1 3.9 4.1 4.7 2.3 6.3 .5 7.3 -.4 8.3 -.6 8.2 -1.7 6 -3 4.9 -3.6 4.9 -5.1 3.9 -6.4 3 -7 3.1 -8.5 2.4 -8.9 1.1 -8.4 .2 -7.1-1.8 -4-5.1 -2.4-4 -2.9 3 -3.8 4.6 -7 2.8 -8.3 .9 -7.8-.8 -7.6-2.6 -7.8-4 -7.3-4.4 -6-3.7 -5.1-3.6 -2.7-5 -1.6-5.9 -.6-8.2 .6-8.2 1.6-6.1 2.8-4.7 3.8-3.4 4.3-3 4.2-3.1 3.6-4.1 2.8-5.5 2.9-5.4 4.1-3 4.9-2.1 7.2-1.4 5.8-2.3 -.2-5.1 -1.1-5.9 .3-4.6Z"/><clipPath id="sc65"><use href="#sp66"/><use href="#sp67"/><use href="#sp68"/><use href="#sp69"/><use href="#sp70"/></clipPath></defs>
<g clip-path="url(#sc65)">
<defs><radialGradient id="sg71"><stop offset="0" stop-color="#c6c6c6"/><stop offset="0.6" stop-color="#afafaf"/><stop offset="1" stop-color="#9c9c9c"/></radialGradient></defs>
<use href="#sp66" fill="url(#sg71)"/>
<g fill="none" stroke="#808080" stroke-width="2.0" stroke-opacity="0.60" stroke-linecap="round" stroke-linejoin="round"><path d="M586.3 1151.3l-.4 0 -.7 0 -.3-.6 -.5-.7"/><path d="M582 1180l0-1.2 .1-1.5 0-2.1 .3-1"/><path d="M578.1 1136.8l-.3 .9 -.2 1.2 -.1 1.9 .1 1.2"/><path d="M584.4 1184.6l-.3-.9 -.3-1 -.1-2 .1-1.6"/></g>
<g fill="none" stroke="#ffffff" stroke-width="1.4" stroke-opacity="0.95" stroke-linecap="round" stroke-linejoin="round"><path d="M574.1 1173.4l.5-.3 .5 .7 .1 1.3 .5 1.1"/><path d="M585.3 1141.8l-.4 .4 -.4-.4 -.4-.8 -.1-1.8"/><path d="M583.6 1131.9l-.2 2 0 1.8 .2 1.5 .2 1"/><path d="M585.1 1133.7l0 1.5 .2 1.8 .4 1.3 .6 .4"/><path d="M578.1 1134.2l-.1 1.5 -.2 1 -.5 1.2 -.4 1.6"/></g>
<g fill="none" stroke="#ffffff" stroke-width="1.2" stroke-opacity="0.80" stroke-linecap="round" stroke-linejoin="round"><path d="M581.5 1153.1l.5-.3 .5-2 .4-.9 .6-.4"/></g>
<defs><radialGradient id="sg72"><stop offset="0" stop-color="#c6c6c6"/><stop offset="0.6" stop-color="#afafaf"/><stop offset="1" stop-color="#9c9c9c"/></radialGradient></defs>
<use href="#sp67" fill="url(#sg72)"/>
<g fill="none" stroke="#808080" stroke-width="2.0" stroke-opacity="0.60" stroke-linecap="round" stroke-linejoin="round"><path d="M603 1178l-.1-2.2 .2-1.2 .2-1.3 -.3-1.9"/><path d="M595.9 1155.7l0 1.6 -.2 1.2 -.3 1.9 -.2 2"/><path d="M611 1181l-.4-1.3 -.6-1.6 .1-2.4 -.2-1.5"/><path d="M616 1168.7l-.8 0 -.7 .4 -.6-1.2 -.2-1.5"/></g>
<g fill="none" stroke="#ffffff" stroke-width="1.4" stroke-opacity="0.95" stroke-linecap="round" stroke-linejoin="round"><path d="M606.5 1184.8l.1-1.2 .4-1.1 .5-.6 .7 .7"/><path d="M601.5 1191.7l.4-1.3 .3-2.1 .6-.4 .7-.1"/><path d="M615.6 1159.4l-.5-.4 -.6 1.3 -.8-.1 -.3-1"/><path d="M601.7 1142.7l.6 1.8 .5 0 .6-.4 .5 .3"/><path d="M609.5 1138.9l.5 1.2 0 1.5 0 2.1 -.1 1.5"/></g>
<g fill="none" stroke="#ffffff" stroke-width="1.2" stroke-opacity="0.80" stroke-linecap="round" stroke-linejoin="round"><path d="M602.9 1157l.5 .4 .4 1.8 .7 .7 .2 1.5"/></g>
<defs><radialGradient id="sg73"><stop offset="0" stop-color="#c6c6c6"/><stop offset="0.6" stop-color="#afafaf"/><stop offset="1" stop-color="#9c9c9c"/></radialGradient></defs>
<use href="#sp68" fill="url(#sg73)"/>
<g fill="none" stroke="#808080" stroke-width="2.0" stroke-opacity="0.60" stroke-linecap="round" stroke-linejoin="round"><path d="M519.9 1261l1.8 .4 1.6-.3 1.6-1.4 2-.2"/><path d="M542.1 1201l1.8 2.2 1.1 1.7 .8 1.6 2.5 .6"/><path d="M533.6 1190.1l-.6 3.2 -.6 3.1 .3 1.7 -.5 3.2"/><path d="M568.1 1217.6l-1.5-.3 -1.7-.7 -1.4-.8 -1.8 .4"/><path d="M521.7 1218l2.3 1.4 1.2 1.9 1.3 1 1.6 2.3"/><path d="M570.9 1224.6l-2.3 .5 -1.6 1.3 -1.8-.9 -2.3-.3"/><path d="M546.6 1258.4l-1-2.7 -.2-1.9 .6-2.6 -.3-1.9"/><path d="M521.9 1216.4l1.4 .2 1.9-1.3 2.1-.4 2.4 .6"/></g>
<g fill="none" stroke="#ffffff" stroke-width="1.4" stroke-opacity="0.95" stroke-linecap="round" stroke-linejoin="round"><path d="M549.6 1260.8l-.7-2.8 -1.4-1 -1.6-1 -.7-2.6"/><path d="M569.2 1250.8l-1.7-.1 -1.5 .8 -.6 1.8 -.8 2.8"/><path d="M508.9 1213.6l1.2 1.5 .1 1.8 1.1 2.2 1.5 2.4"/><path d="M525.8 1204.3l-.9 1.6 -2.3 1.2 -1.5 1.3 -2.4 1.3"/><path d="M546.2 1190.8l-1 2.2 -2.4 .6 -1.8-1.3 -.9-2.8"/><path d="M508.5 1213.6l1.8 1.1 1.4 2 1.5 .3 1.1-.9"/><path d="M539.2 1198.8l0 2.3 .9 3.1 1.3 2.8 1.5 .8"/><path d="M513.4 1237.5l1.7-1.7 2-2 .6-2 1.2-.9"/><path d="M553.4 1202.6l-1.2 2.8 -2.2 1.6 -1.6-.2 -1.8 .7"/><path d="M540.8 1261.7l-1.3-1.1 -1.5-.6 -1.4 0 -2-.7"/><path d="M530.5 1260.8l-.7-2.3 -1.9-1.4 -1.5-.7 -2.3 .8"/></g>
<g fill="none" stroke="#ffffff" stroke-width="1.2" stroke-opacity="0.80" stroke-linecap="round" stroke-linejoin="round"><path d="M532 1244.9l2.1-.8 2.1-2.4 .1-2.8 .9-1.7"/><path d="M541.9 1241.8l-2.2-1.2 -2.4-.8 -2.3-.3 -2.5-.8"/></g>
<defs><radialGradient id="sg74"><stop offset="0" stop-color="#c6c6c6"/><stop offset="0.6" stop-color="#afafaf"/><stop offset="1" stop-color="#9c9c9c"/></radialGradient></defs>
<use href="#sp69" fill="url(#sg74)"/>
<g fill="none" stroke="#808080" stroke-width="2.0" stroke-opacity="0.60" stroke-linecap="round" stroke-linejoin="round"><path d="M669.6 1242.6l-2.1-.8 -1.7-2.6 -.6-2 -1.1-1"/><path d="M650.9 1200.5l-1.3 0 -1.5 1 -2.1 .9 -1.3 2.1"/><path d="M669 1243.8l-1.5-.6 -2.2 .4 -1.1-1.1 -1.3-.5"/><path d="M661.8 1211l-.4 3.1 -1.3 1.3 -1.3 2.9 -.6 1.9"/><path d="M624.5 1230.2l1.8-1.7 1.7 .3 1.6 .9 1 1.6"/><path d="M665.3 1244.9l-1.6-2.2 .1-2.1 -.6-1.7 .1-3"/><path d="M626.3 1198.3l.8 2.2 1.5 1.6 1.1 1.8 1.2 1.2"/><path d="M679.3 1244l-1.4 .5 -1.3 .6 -1.2 1 -.5 1.9"/></g>
<g fill="none" stroke="#ffffff" stroke-width="1.4" stroke-opacity="0.95" stroke-linecap="round" stroke-linejoin="round"><path d="M673.9 1259.4l.3-2 .9-3.3 1.6-2.6 1.4-1"/><path d="M630.5 1271l-1.3-2.5 -1.5-.6 -1.3-1.2 -1.3-1.8"/><path d="M661 1205.5l-1.5 1.7 -2 .9 -1.8-.8 -1.1-1"/><path d="M638.3 1194l1.1 2.8 -.6 2.2 -.5 2.7 .4 2.9"/><path d="M641.8 1272.7l-.6-3.3 .1-1.8 -1-2.3 -1.2-2.9"/><path d="M624.6 1266.9l-.4-3.1 -.6-2.2 .9-3.1 -.5-1.9"/><path d="M629.6 1273.4l-.5-3.3 .1-2.7 -.9-2.8 -.1-3.3"/><path d="M642.1 1273.2l.6-2.9 -.5-2.6 .1-2.5 .8-2.8"/><path d="M616.7 1250.6l1.7 .6 1.8-.6 2 1.6 .6 1.8"/><path d="M677.8 1243.3l-1.2-.8 -2.1-1.9 -1.7-1.1 -.7-2.6"/></g>
<g fill="none" stroke="#ffffff" stroke-width="1.2" stroke-opacity="0.80" stroke-linecap="round" stroke-linejoin="round"><path d="M657.8 1213l-.4 2.5 -1.4 1 -2.5-1.5 -1.4-.6"/><path d="M660.3 1233.8l1.2 2.4 2 1.1 2.3 1.1 1.1 2.7"/></g>
<defs><radialGradient id="sg75"><stop offset="0" stop-color="#c6c6c6"/><stop offset="0.6" stop-color="#afafaf"/><stop offset="1" stop-color="#9c9c9c"/></radialGradient></defs>
<use href="#sp70" fill="url(#sg75)"/>
<g fill="none" stroke="#808080" stroke-width="2.7" stroke-opacity="0.60" stroke-linecap="round" stroke-linejoin="round"><path d="M581.1 1239.3l-2.2 1.3 -1.9 3.5 -3.6 1.2 -2.9-.3"/><path d="M632.7 1247.7l.2 3.6 2.3 3.3 2.9 .7 2.4-.4"/><path d="M582 1241.6l2.7 1.7 3.3 .2 2 2.2 3.1 2.1"/><path d="M603.5 1325.1l-.6-3.2 2.1-3.4 0-3.4 3-2.8"/><path d="M631.5 1278l-3.3-1.1 -3.4-1.1 -2.6-1.6 -3.8-1"/><path d="M558.5 1257l2.3 1.3 3.5 2.3 1.5 2.7 4.3 1.5"/><path d="M601 1319.1l.6-2.7 -.5-2.4 -1.5-2.3 -4.2-1.1"/><path d="M535.6 1275.6l4 .1 3.7 2.5 3.7 2.2 3.5 .3"/><path d="M580.1 1247l-.4 2.3 1 3.5 -1.4 3.3 -3 2.9"/><path d="M612.8 1330.6l-2.8-.8 -3.3-2.4 -.8-2.1 -1.7-3.4"/><path d="M565.4 1320.5l3.2-1.8 1-2.4 .2-3.2 1.7-2.1"/><path d="M578.8 1323.9l3.4-1.4 3.2-.7 2.6-1.5 4.1-1.6"/><path d="M637 1280.8l-2.8-3.1 .2-2.1 2.2-3.5 3.4-2.7"/><path d="M551.5 1274.8l4 .1 3.9-.3 2.7 1.3 3.6 1.7"/><path d="M598.2 1238.3l-.6 2.3 -.6 2.1 -1.8 2.4 .5 3.2"/></g>
<g fill="none" stroke="#ffffff" stroke-width="1.4" stroke-opacity="0.95" stroke-linecap="round" stroke-linejoin="round"><path d="M636 1294.1l-2.4 .5 -4.2-.5 -2.8 1.1 -1.4 3.6"/><path d="M565.8 1234.5l2.2 1.4 3 2.2 1.2 3 .5 3.6"/><path d="M537.5 1270.6l3.4-1.2 2.2-3.6 2.8-1.1 3.4 0"/><path d="M546 1300.8l4.1 .7 2.4-1.3 1.2-2.2 .2-3"/><path d="M559 1263.6l3.1-2 3.4-.8 3.3 1.2 4.1-.6"/><path d="M560.9 1311.4l3.1-3 .5-3.6 -1.7-1.9 -2.7-1.3"/><path d="M541.5 1273.4l4.1-1 2.8-1.8 .9-1.9 1.2-3.1"/><path d="M643.4 1320.9l-2.9 .3 -3.1-.6 -2.5-1 -3.4-.5"/><path d="M601.8 1246.7l2.2 3.5 1.2 2.7 -1.6 3 -2.3 2.6"/><path d="M557.6 1254.6l1.1 3 2.5 .9 2.5-.8 2.3-1.7"/><path d="M626 1243.2l-1.8 1.9 -3.7 .2 -2.8 .9 -2.5 .2"/><path d="M538 1310.6l4.3-.9 2-1.2 3-2.5 -.1-2.3"/><path d="M610.9 1249.5l-2.1 3.4 -3 .8 -2.6-.1 -1.9-1.3"/><path d="M638 1309.8l-2.5-2 -.5-2.6 1-3.1 -1.4-1.8"/><path d="M551.7 1278.6l3.1 2.6 2.9 .3 3.1-.1 2.6-1.1"/><path d="M639.6 1323.2l-1.4-1.8 -2.8-1.9 -2-3.2 -3.6-2.4"/><path d="M634.6 1314.4l-4.4-.8 -4 1.4 -2.7 2.7 -.9 3.5"/><path d="M563.8 1248.3l1.8 3.4 .1 2.8 2.6 2 3.2 .1"/><path d="M619.8 1234.5l2 2.7 2.5 1.8 1.2 2 -1 2.7"/></g>
<g fill="none" stroke="#ffffff" stroke-width="1.2" stroke-opacity="0.80" stroke-linecap="round" stroke-linejoin="round"><path d="M572 1296.1l.8-3.5 .8-3 -2.4-2.6 -2.6-1.3"/><path d="M568.9 1268.3l-3.4 2.8 -3 2 -4-.3 -2.9 2.1"/><path d="M586.6 1262.6l-3.3-2.7 -2.3-1.5 -2.8-.3 -2.6-3.2"/><path d="M582.8 1310.1l2.5 3.3 2.6 3.6 0 3.4 2.5 2.2"/></g>
<ellipse cx="591.7" cy="1266.1" rx="6.0" ry="5.0" fill="#fff"/>
<defs><filter id="sf76" x="-20%" y="-20%" width="140%" height="140%"><feGaussianBlur stdDeviation="1.5"/></filter></defs>
<g filter="url(#sf76)">
<ellipse cx="592.8" cy="1301.3" rx="68.1" ry="41.7" fill="#3a0862"/>
<ellipse cx="566.4" cy="1295.8" rx="22.0" ry="13.2" fill="#2a3c86"/>
<ellipse cx="626.8" cy="1301.3" rx="24.2" ry="28.6" fill="#1f7a8c"/>
<ellipse cx="626.8" cy="1298.0" rx="13.2" ry="13.2" fill="#21908c"/>
<ellipse cx="632.3" cy="1323.2" rx="15.4" ry="8.8" fill="#21908c"/>
<ellipse cx="555.4" cy="1312.2" rx="13.2" ry="8.8" fill="#2a3c86"/>
<ellipse cx="592.8" cy="1246.3" rx="19.8" ry="16.5" fill="#1f7a8c"/>
<ellipse cx="592.8" cy="1254.0" rx="13.2" ry="6.6" fill="#f2e41e"/>
<ellipse cx="593.9" cy="1245.2" rx="7.7" ry="6.6" fill="#22a884"/>
<ellipse cx="546.6" cy="1240.8" rx="19.8" ry="16.5" fill="#3a0862"/>
<ellipse cx="547.7" cy="1229.9" rx="11.0" ry="6.6" fill="#3a0862"/>
<ellipse cx="643.3" cy="1246.3" rx="28.6" ry="13.2" fill="#3a0862"/>
<ellipse cx="637.8" cy="1235.3" rx="16.5" ry="9.9" fill="#3a0862"/>
<ellipse cx="654.3" cy="1261.7" rx="22.0" ry="4.4" fill="#3a0862"/>
<ellipse cx="630.1" cy="1244.1" rx="6.6" ry="5.5" fill="#2a3c86"/>
</g>
</g>
<use href="#sp66" fill="none" stroke="#1c1c1c" stroke-width="4.2" stroke-linejoin="round"/>
<use href="#sp67" fill="none" stroke="#1c1c1c" stroke-width="4.2" stroke-linejoin="round"/>
<use href="#sp68" fill="none" stroke="#1c1c1c" stroke-width="4.2" stroke-linejoin="round"/>
<use href="#sp69" fill="none" stroke="#1c1c1c" stroke-width="4.2" stroke-linejoin="round"/>
<use href="#sp70" fill="none" stroke="#1c1c1c" stroke-width="4.2" stroke-linejoin="round"/>
<ellipse cx="559.3" cy="1191.4" rx="9.3" ry="2.7" fill="#9a9a9a" stroke="#111" stroke-width="2.6" transform="rotate(30 559.3 1191.4)"/>
<ellipse cx="625.7" cy="1191.4" rx="12.1" ry="3.3" fill="#9a9a9a" stroke="#111" stroke-width="2.6" transform="rotate(-30 625.7 1191.4)"/>
<ellipse cx="584.5" cy="1199.6" rx="3.3" ry="1.8" fill="#9a9a9a" stroke="#111" stroke-width="2.6" transform="rotate(0 584.5 1199.6)"/>
<ellipse cx="598.8" cy="1200.7" rx="3.3" ry="1.8" fill="#9a9a9a" stroke="#111" stroke-width="2.6" transform="rotate(0 598.8 1200.7)"/>
<defs><linearGradient id="fadeL" gradientUnits="userSpaceOnUse" x1="672" y1="0" x2="762" y2="0"><stop offset="0" stop-color="#fff" stop-opacity="0"/><stop offset="1" stop-color="#fff" stop-opacity="0.75"/></linearGradient>
<mask id="mL" maskUnits="userSpaceOnUse" x="600" y="850" width="200" height="500"><rect x="600" y="850" width="200" height="500" fill="url(#fadeL)"/></mask>
<clipPath id="cRH"><path d="M762.9 879.5c.8-1.3 2.1-5.2 3.2-6.6c1.1-1.4 3.6-3.1 5.1-3.6c1.5-.5 4.7-.1 6.2-.2c1.5-.1 3.8-.8 5.3-.8c1.5 0 4.4 .7 5.9 1c1.5 .3 3.9 1.2 5.5 1.6c1.6 .4 4.9 1 6.5 1.5c1.6 .5 3.9 1.8 5.4 2.4c1.5 .6 4.6 1.5 6.2 2.1c1.6 .6 4.6 1.6 6.1 2.4c1.5 .8 3.5 2.8 5 3.7c1.5 .9 4.4 2.5 6 3.3c1.6 .8 4.1 2.1 5.7 2.8c1.6 .7 4.4 1.4 6 2.1c1.6 .7 4.2 2.1 5.8 2.8c1.6 .7 4.4 1.9 5.9 2.7c1.5 .8 4.3 2.6 5.7 3.4c1.4 .8 3.5 1.9 4.7 2.8c1.2 .9 3 2.9 4.2 3.8c1.2 .9 3.7 2.2 5 3.1c1.3 .9 3.3 3.1 4.4 4c1.1 .9 3.1 2.2 4 3.1c.9 .9 2.3 2.9 3.1 4c.8 1.1 2.3 3.1 3 4.3c.7 1.2 1.4 3.6 1.9 4.9c.5 1.3 1.4 3.5 1.9 4.8c.5 1.3 1.4 3.5 1.7 4.8c.3 1.3 .5 3.8 .8 5.2c.3 1.4 .9 3.8 1.2 5.2c.3 1.4 .9 4 1.1 5.5c.2 1.5 .3 4.1 .5 5.6c.2 1.5 .6 4.3 .9 5.9c.3 1.6 .7 4.7 1.1 6.3c.4 1.6 1.6 4.4 2.1 6c.5 1.6 1.4 4.3 1.9 5.7c.5 1.4 1.2 3.4 1.6 5c.4 1.6 1.4 5.4 1.7 7.2c.3 1.8 1 4.7 .9 6.1c-.1 1.4 -1.1 3.6 -2 4.5c-.9 .9 -3.5 1.5 -5.1 1.9c-1.6 .4 -5.4 .8 -7.2 1.2c-1.8 .4 -4.9 1.1 -6.5 1.8c-1.6 .7 -4.3 2.1 -5.8 3.1c-1.5 1 -4.2 2.8 -5.3 4.1c-1.1 1.3 -2.3 3.9 -2.9 5.4c-.6 1.5 -1.4 3.9 -1.5 5.5c-.1 1.6 .7 5 1 6.8c.3 1.8 .9 5.1 1.5 6.7c.6 1.6 1.9 4.1 3.1 5.1c1.2 1 4.1 1.8 5.7 2.3c1.6 .5 4.3 1.1 6 1.5c1.7 .4 5 1.3 6.6 1.5c1.6 .2 4.1 .3 5.7 .3c1.6 0 4.6-.1 6.3 0c1.7 .1 4.5 .5 6.1 .8c1.6 .3 4.3 .9 5.7 1.5c1.4 .6 3.7 2.2 4.9 3.3c1.2 1.1 2.9 3.4 3.8 4.8c.9 1.4 2.6 4 3.3 5.7c.7 1.7 1.6 5.3 2 6.8c.4 1.5 .4 3.3 .7 4.5c.3 1.2 1.4 3.3 1.9 4.6c.5 1.3 1.2 3.7 1.5 5.1c.3 1.4 .4 4 .7 5.4c.3 1.4 1.1 4 1.3 5.4c.2 1.4 -.1 3.9 -.1 5.3c0 1.4 .1 3.4 .3 4.9c.2 1.5 .9 4.6 1.2 6.2c.3 1.6 .9 4.3 1.3 5.8c.4 1.5 1 4.1 1.4 5.6c.4 1.5 1.5 4.1 1.8 5.6c.3 1.5 .3 4.3 .2 5.9c-.1 1.6 -.3 4.4 -.6 5.9c-.3 1.5 -1.4 4.2 -1.9 5.7c-.5 1.5 -1.2 4.2 -1.5 5.8c-.3 1.6 -.3 4.4 -.5 6c-.2 1.6 -.7 4.5 -1 5.9c-.3 1.4 -.9 3.5 -1.3 4.8c-.4 1.3 -1.2 3.5 -1.7 4.8c-.5 1.3 -1.3 3.4 -1.7 4.7c-.4 1.3 -1 3.5 -1.5 4.8c-.5 1.3 -1.6 3.4 -2.1 4.7c-.5 1.3 -1.1 3.7 -1.7 5c-.6 1.3 -2 3.4 -2.6 4.7c-.6 1.3 -1.6 3.8 -2.2 5.2c-.6 1.4 -1.2 4.2 -2 5.5c-.8 1.3 -2.8 3.2 -3.8 4.4c-1 1.2 -2.6 3.3 -3.5 4.6c-.9 1.3 -2.4 3.5 -3.1 4.9c-.7 1.4 -1.4 4 -2.1 5.4c-.7 1.4 -2.5 3.4 -3.2 4.8c-.7 1.4 -1.5 4 -2.2 5.4c-.7 1.4 -2.1 3.6 -3 4.8c-.9 1.2 -2.6 3.3 -3.5 4.5c-.9 1.2 -2.3 3.3 -3.2 4.5c-.9 1.2 -2.9 3 -3.6 4.3c-.7 1.3 -1 3.8 -1.4 5.1c-.4 1.3 -1.3 3.6 -1.7 4.9c-.4 1.3 -.6 3.9 -1 5.2c-.4 1.3 -1.4 3.5 -2 4.8c-.6 1.3 -2 3.3 -2.7 4.6c-.7 1.3 -1.5 3.8 -2.2 5.1c-.7 1.3 -2.5 3.5 -3.1 4.9c-.6 1.4 -.7 4.4 -1.3 5.9c-.6 1.5 -2.3 3.6 -3 5c-.7 1.4 -1.5 4.2 -2.3 5.5c-.8 1.3 -2.9 3 -4 4c-1.1 1 -3 2.9 -4.3 3.8c-1.3 .9 -4 1.8 -5.3 2.6c-1.3 .8 -3.5 2.5 -4.8 3.3c-1.3 .8 -3.8 1.9 -5.2 2.6c-1.4 .7 -3.9 1.7 -5.3 2.3c-1.4 .6 -4 1.6 -5.3 2.1c-1.3 .5 -3.4 1.1 -4.7 1.4c-1.3 .3 -3.7 .5 -5.1 .5c-1.4 0 -3.8-.6 -5.2-.6c-1.4 0 -3.8 .3 -5.2 .5c-1.4 .2 -3.8 .9 -5.1 1.1c-1.3 .2 -3.7 .2 -5 .3c-1.3 .1 -3.4 .5 -4.8 .4c-1.4-.1 -3.9-.8 -5.4-1c-1.5-.2 -4.1 .1 -5.5-.2c-1.4-.3 -3.7-1.7 -5-2.2c-1.3-.5 -3.8-.8 -5.1-1.2c-1.3-.4 -3.3-1.4 -4.5-1.9c-1.2-.5 -3.3-1.3 -4.4-2.1c-1.1-.8 -2.6-3 -3.5-4.1c-.9-1.1 -2.3-3.2 -3-4.5c-.7-1.3 -1.8-3.5 -2.3-4.9c-.5-1.4 -1.1-3.9 -1.4-5.4c-.3-1.5 -.9-4.2 -1.1-5.6c-.2-1.4 -.3-3.4 -.6-4.7c-.3-1.3 -1.5-3.4 -1.8-4.7c-.3-1.3 -.5-3.7 -.6-5.1c-.1-1.4 -.2-4 -.1-5.5c.1-1.5 .9-4.1 1-5.7c.1-1.6 -.4-4.7 -.4-6.2c0-1.5 .3-3.6 .4-4.9c.1-1.3 0-3.8 0-5.2c0-1.4 -.2-4 -.3-5.5c-.1-1.5 -.7-4.2 -.6-5.7c.1-1.5 .8-4.1 1.1-5.6c.3-1.5 .7-4.2 1-5.7c.3-1.5 1-4.1 1.2-5.6c.2-1.5 .2-4.1 .3-5.6c.1-1.5 .3-4.1 .5-5.6c.2-1.5 .8-4.2 .9-5.7c.1-1.5 -.1-4.3 .1-5.8c.2-1.5 1.2-4.1 1.5-5.6c.3-1.5 .3-4.2 .6-5.7c.3-1.5 1.4-3.9 1.7-5.3c.3-1.4 .6-3.8 .8-5.1c.2-1.3 .4-3.4 .5-4.8c.1-1.4 .3-4.5 .5-6c.2-1.5 .5-4.2 .8-5.6c.3-1.4 .8-3.7 1.3-5c.5-1.3 1.6-3.3 2.1-4.5c.5-1.2 1.2-3.2 1.6-4.3c.4-1.1 1.1-2.8 1.5-4.1c.4-1.3 1.2-4.5 1.4-6c.2-1.5 .2-4.2 .3-5.6c.1-1.4 .6-3.6 .7-4.8c.1-1.2 .1-2.7 0-3.9c-.1-1.2 -.5-4 -1.1-5.3c-.6-1.3 -2.5-3.5 -3.4-4.4c-.9-.9 -2.3-1.9 -3.1-2.7c-.8-.8 -2.3-1.7 -3.1-3.2c-.8-1.5 -2.4-6.5 -2.9-8c-.5-1.5 -.9-2.4 -1.1-3.5c-.2-1.1 0-3.2 -.1-4.4c-.1-1.2 -.3-3.5 -.3-4.8c0-1.3 .6-3.8 .6-5.2c0-1.4 -.3-4.1 -.5-5.6c-.2-1.5 -1-4.2 -1.1-5.8c-.1-1.6 .3-4.3 .2-5.9c-.1-1.6 -.7-4.4 -.8-6c-.1-1.6 .1-4.3 .2-5.9c.1-1.6 .8-4.3 .9-5.8c.1-1.5 .1-4 .2-5.4c.1-1.4 .2-4 .3-5.4c.1-1.4 .5-3.9 .4-5.3c-.1-1.4 -1.1-3.9 -1.2-5.3c-.1-1.4 .3-3.9 .3-5.3c0-1.4 -.5-3.9 -.5-5.3c0-1.4 .2-3.9 .2-5.3c0-1.4 -.1-3.9 -.2-5.3c-.1-1.4 -.3-4 -.4-5.4c-.1-1.4 -.2-3.9 -.3-5.3c-.1-1.4 -.5-3.9 -.7-5.3c-.2-1.4 -.5-3.9 -.6-5.3c-.1-1.4 -.2-3.9 -.1-5.3c.1-1.4 .6-3.9 .7-5.3c.1-1.4 -.1-3.9 0-5.3c.1-1.4 .9-3.9 1-5.3c.1-1.4 -.4-4 -.5-5.4c-.1-1.4 -.3-3.9 -.2-5.3c.1-1.4 .7-3.9 .8-5.3c.1-1.4 -.1-3.9 0-5.3c.1-1.4 .7-3.9 1-5.3c.3-1.4 .7-3.9 .9-5.3c.2-1.4 .3-3.9 .3-5.3c0-1.4 -.4-4 -.6-5.5c-.2-1.5 -.7-4.2 -.9-5.8c-.2-1.6 -.5-4.4 -.6-6c-.1-1.6 .1-4.4 .1-6c0-1.6 .2-4.4 .2-6c0-1.6 0-4.4 -.1-5.9c-.1-1.5 -.4-4.2 -.4-5.6c0-1.4 .2-3.9 .2-5.2c0-1.3 0-3.7 0-4.9c0-1.2 -.6-3.4 -.2-4.4c.4-1 2.2-1.6 3-2.9Z"/></clipPath><clipPath id="cLH"><path d="M751.1 879.5c-.8-1.3 -2.1-5.2 -3.2-6.6c-1.1-1.4 -3.6-3.1 -5.1-3.6c-1.5-.5 -4.7-.1 -6.2-.2c-1.5-.1 -3.8-.8 -5.3-.8c-1.5 0 -4.4 .7 -5.9 1c-1.5 .3 -3.9 1.2 -5.5 1.6c-1.6 .4 -4.9 1 -6.5 1.5c-1.6 .5 -3.9 1.8 -5.4 2.4c-1.5 .6 -4.6 1.5 -6.2 2.1c-1.6 .6 -4.6 1.6 -6.1 2.4c-1.5 .8 -3.5 2.8 -5 3.7c-1.5 .9 -4.4 2.5 -6 3.3c-1.6 .8 -4.1 2.1 -5.7 2.8c-1.6 .7 -4.4 1.4 -6 2.1c-1.6 .7 -4.2 2.1 -5.8 2.8c-1.6 .7 -4.4 1.9 -5.9 2.7c-1.5 .8 -4.3 2.6 -5.7 3.4c-1.4 .8 -3.5 1.9 -4.7 2.8c-1.2 .9 -3 2.9 -4.2 3.8c-1.2 .9 -3.7 2.2 -5 3.1c-1.3 .9 -3.3 3.1 -4.4 4c-1.1 .9 -3.1 2.2 -4 3.1c-.9 .9 -2.3 2.9 -3.1 4c-.8 1.1 -2.3 3.1 -3 4.3c-.7 1.2 -1.4 3.6 -1.9 4.9c-.5 1.3 -1.4 3.5 -1.9 4.8c-.5 1.3 -1.4 3.5 -1.7 4.8c-.3 1.3 -.5 3.8 -.8 5.2c-.3 1.4 -.9 3.8 -1.2 5.2c-.3 1.4 -.9 4 -1.1 5.5c-.2 1.5 -.3 4.1 -.5 5.6c-.2 1.5 -.6 4.3 -.9 5.9c-.3 1.6 -.7 4.7 -1.1 6.3c-.4 1.6 -1.6 4.4 -2.1 6c-.5 1.6 -1.4 4.3 -1.9 5.7c-.5 1.4 -1.2 3.4 -1.6 5c-.4 1.6 -1.4 5.4 -1.7 7.2c-.3 1.8 -1 4.7 -.9 6.1c.1 1.4 1.1 3.6 2 4.5c.9 .9 3.5 1.5 5.1 1.9c1.6 .4 5.4 .8 7.2 1.2c1.8 .4 4.9 1.1 6.5 1.8c1.6 .7 4.3 2.1 5.8 3.1c1.5 1 4.2 2.8 5.3 4.1c1.1 1.3 2.3 3.9 2.9 5.4c.6 1.5 1.4 3.9 1.5 5.5c.1 1.6 -.7 5 -1 6.8c-.3 1.8 -.9 5.1 -1.5 6.7c-.6 1.6 -1.9 4.1 -3.1 5.1c-1.2 1 -4.1 1.8 -5.7 2.3c-1.6 .5 -4.3 1.1 -6 1.5c-1.7 .4 -5 1.3 -6.6 1.5c-1.6 .2 -4.1 .3 -5.7 .3c-1.6 0 -4.6-.1 -6.3 0c-1.7 .1 -4.5 .5 -6.1 .8c-1.6 .3 -4.3 .9 -5.7 1.5c-1.4 .6 -3.7 2.2 -4.9 3.3c-1.2 1.1 -2.9 3.4 -3.8 4.8c-.9 1.4 -2.6 4 -3.3 5.7c-.7 1.7 -1.6 5.3 -2 6.8c-.4 1.5 -.4 3.3 -.7 4.5c-.3 1.2 -1.4 3.3 -1.9 4.6c-.5 1.3 -1.2 3.7 -1.5 5.1c-.3 1.4 -.4 4 -.7 5.4c-.3 1.4 -1.1 4 -1.3 5.4c-.2 1.4 .1 3.9 .1 5.3c0 1.4 -.1 3.4 -.3 4.9c-.2 1.5 -.9 4.6 -1.2 6.2c-.3 1.6 -.9 4.3 -1.3 5.8c-.4 1.5 -1 4.1 -1.4 5.6c-.4 1.5 -1.5 4.1 -1.8 5.6c-.3 1.5 -.3 4.3 -.2 5.9c.1 1.6 .3 4.4 .6 5.9c.3 1.5 1.4 4.2 1.9 5.7c.5 1.5 1.2 4.2 1.5 5.8c.3 1.6 .3 4.4 .5 6c.2 1.6 .7 4.5 1 5.9c.3 1.4 .9 3.5 1.3 4.8c.4 1.3 1.2 3.5 1.7 4.8c.5 1.3 1.3 3.4 1.7 4.7c.4 1.3 1 3.5 1.5 4.8c.5 1.3 1.6 3.4 2.1 4.7c.5 1.3 1.1 3.7 1.7 5c.6 1.3 2 3.4 2.6 4.7c.6 1.3 1.6 3.8 2.2 5.2c.6 1.4 1.2 4.2 2 5.5c.8 1.3 2.8 3.2 3.8 4.4c1 1.2 2.6 3.3 3.5 4.6c.9 1.3 2.4 3.5 3.1 4.9c.7 1.4 1.4 4 2.1 5.4c.7 1.4 2.5 3.4 3.2 4.8c.7 1.4 1.5 4 2.2 5.4c.7 1.4 2.1 3.6 3 4.8c.9 1.2 2.6 3.3 3.5 4.5c.9 1.2 2.3 3.3 3.2 4.5c.9 1.2 2.9 3 3.6 4.3c.7 1.3 1 3.8 1.4 5.1c.4 1.3 1.3 3.6 1.7 4.9c.4 1.3 .6 3.9 1 5.2c.4 1.3 1.4 3.5 2 4.8c.6 1.3 2 3.3 2.7 4.6c.7 1.3 1.5 3.8 2.2 5.1c.7 1.3 2.5 3.5 3.1 4.9c.6 1.4 .7 4.4 1.3 5.9c.6 1.5 2.3 3.6 3 5c.7 1.4 1.5 4.2 2.3 5.5c.8 1.3 2.9 3 4 4c1.1 1 3 2.9 4.3 3.8c1.3 .9 4 1.8 5.3 2.6c1.3 .8 3.5 2.5 4.8 3.3c1.3 .8 3.8 1.9 5.2 2.6c1.4 .7 3.9 1.7 5.3 2.3c1.4 .6 4 1.6 5.3 2.1c1.3 .5 3.4 1.1 4.7 1.4c1.3 .3 3.7 .5 5.1 .5c1.4 0 3.8-.6 5.2-.6c1.4 0 3.8 .3 5.2 .5c1.4 .2 3.8 .9 5.1 1.1c1.3 .2 3.7 .2 5 .3c1.3 .1 3.4 .5 4.8 .4c1.4-.1 3.9-.8 5.4-1c1.5-.2 4.1 .1 5.5-.2c1.4-.3 3.7-1.7 5-2.2c1.3-.5 3.8-.8 5.1-1.2c1.3-.4 3.3-1.4 4.5-1.9c1.2-.5 3.3-1.3 4.4-2.1c1.1-.8 2.6-3 3.5-4.1c.9-1.1 2.3-3.2 3-4.5c.7-1.3 1.8-3.5 2.3-4.9c.5-1.4 1.1-3.9 1.4-5.4c.3-1.5 .9-4.2 1.1-5.6c.2-1.4 .3-3.4 .6-4.7c.3-1.3 1.5-3.4 1.8-4.7c.3-1.3 .5-3.7 .6-5.1c.1-1.4 .2-4 .1-5.5c-.1-1.5 -.9-4.1 -1-5.7c-.1-1.6 .4-4.7 .4-6.2c0-1.5 -.3-3.6 -.4-4.9c-.1-1.3 0-3.8 0-5.2c0-1.4 .2-4 .3-5.5c.1-1.5 .7-4.2 .6-5.7c-.1-1.5 -.8-4.1 -1.1-5.6c-.3-1.5 -.7-4.2 -1-5.7c-.3-1.5 -1-4.1 -1.2-5.6c-.2-1.5 -.2-4.1 -.3-5.6c-.1-1.5 -.3-4.1 -.5-5.6c-.2-1.5 -.8-4.2 -.9-5.7c-.1-1.5 .1-4.3 -.1-5.8c-.2-1.5 -1.2-4.1 -1.5-5.6c-.3-1.5 -.3-4.2 -.6-5.7c-.3-1.5 -1.4-3.9 -1.7-5.3c-.3-1.4 -.6-3.8 -.8-5.1c-.2-1.3 -.4-3.4 -.5-4.8c-.1-1.4 -.3-4.5 -.5-6c-.2-1.5 -.5-4.2 -.8-5.6c-.3-1.4 -.8-3.7 -1.3-5c-.5-1.3 -1.6-3.3 -2.1-4.5c-.5-1.2 -1.2-3.2 -1.6-4.3c-.4-1.1 -1.1-2.8 -1.5-4.1c-.4-1.3 -1.2-4.5 -1.4-6c-.2-1.5 -.2-4.2 -.3-5.6c-.1-1.4 -.6-3.6 -.7-4.8c-.1-1.2 -.1-2.7 0-3.9c.1-1.2 .5-4 1.1-5.3c.6-1.3 2.5-3.5 3.4-4.4c.9-.9 2.3-1.9 3.1-2.7c.8-.8 2.3-1.7 3.1-3.2c.8-1.5 2.4-6.5 2.9-8c.5-1.5 .9-2.4 1.1-3.5c.2-1.1 0-3.2 .1-4.4c.1-1.2 .3-3.5 .3-4.8c0-1.3 -.6-3.8 -.6-5.2c0-1.4 .3-4.1 .5-5.6c.2-1.5 1-4.2 1.1-5.8c.1-1.6 -.3-4.3 -.2-5.9c.1-1.6 .7-4.4 .8-6c.1-1.6 -.1-4.3 -.2-5.9c-.1-1.6 -.8-4.3 -.9-5.8c-.1-1.5 -.1-4 -.2-5.4c-.1-1.4 -.2-4 -.3-5.4c-.1-1.4 -.5-3.9 -.4-5.3c.1-1.4 1.1-3.9 1.2-5.3c.1-1.4 -.3-3.9 -.3-5.3c0-1.4 .5-3.9 .5-5.3c0-1.4 -.2-3.9 -.2-5.3c0-1.4 .1-3.9 .2-5.3c.1-1.4 .3-4 .4-5.4c.1-1.4 .2-3.9 .3-5.3c.1-1.4 .5-3.9 .7-5.3c.2-1.4 .5-3.9 .6-5.3c.1-1.4 .2-3.9 .1-5.3c-.1-1.4 -.6-3.9 -.7-5.3c-.1-1.4 .1-3.9 0-5.3c-.1-1.4 -.9-3.9 -1-5.3c-.1-1.4 .4-4 .5-5.4c.1-1.4 .3-3.9 .2-5.3c-.1-1.4 -.7-3.9 -.8-5.3c-.1-1.4 .1-3.9 0-5.3c-.1-1.4 -.7-3.9 -1-5.3c-.3-1.4 -.7-3.9 -.9-5.3c-.2-1.4 -.3-3.9 -.3-5.3c0-1.4 .4-4 .6-5.5c.2-1.5 .7-4.2 .9-5.8c.2-1.6 .5-4.4 .6-6c.1-1.6 -.1-4.4 -.1-6c0-1.6 -.2-4.4 -.2-6c0-1.6 0-4.4 .1-5.9c.1-1.5 .4-4.2 .4-5.6c0-1.4 -.2-3.9 -.2-5.2c0-1.3 0-3.7 0-4.9c0-1.2 .6-3.4 .2-4.4c-.4-1 -2.2-1.6 -3-2.9Z"/></clipPath></defs>
<g mask="url(#mL)"><g clip-path="url(#cLH)"><rect x="640" y="860" width="120" height="480" fill="#c4c4c4"/>
<g fill="none" stroke="#ffffff" stroke-width="1.6" stroke-opacity="0.90" stroke-linecap="round" stroke-linejoin="round"><path d="M669.6 1214l-3.5 8.7 -2.6 16.4 -.8 23.4 3 19.7"/><path d="M748.6 1039l-3.8 10.3 -3.2-.3 -3.3-16.5 -.9-14"/><path d="M706.5 1049.3l3.6-15 1.2-23.1 2-21.6 2.2-7.2"/><path d="M712.4 1154.8l-3.2-6.7 -3.6 4.3 -2.8-1.4 -1.8-10.7"/><path d="M684.8 1056.7l1.1-14.9 3.6-10.5 3.7-17.1 2.2-11.5"/><path d="M709.5 1199.5l2.3-20.9 3.4-4.8 4.3-4.1 3.6 6.1"/><path d="M689.9 1181.8l.6 13.3 -1.6 13.3 -4 9.3 -1.3 19.2"/><path d="M665.9 1201.8l-5-7.4 -4.8-3 -3.4-6.2 -4.1-2.2"/><path d="M735.1 1049.7l-4.8 10.8 -3.6 4.7 -1.9 16.2 -.2 14.8"/><path d="M683.3 1155.8l-1.2-15.3 .6-14.3 -.4-15.7 -2.5-8"/><path d="M705 1190.2l3.2 17.3 3.6 17.6 2.6 13.6 4.9 6.1"/><path d="M698.7 1015.7l4.3 1 5 7.6 2.8 1.3 4.5 3.6"/><path d="M728.7 1187.1l.6-12 -.4-15.6 .4-18.8 1.2-13.2"/><path d="M745 1016.1l2.8-14.2 1.8-9.5 5.5-.9 1.9 9.2"/><path d="M714.3 1175.3l-4.5-10.5 -4.1-10.4 -3.2 2.7 -4.8 6"/><path d="M743.3 1221.7l-.7-23.6 -3.3-17.3 -2.1-20.6 -3-7.9"/><path d="M656.4 1101.7l3.3 7.7 1.5 11.8 .4 21.5 0 16.8"/><path d="M703.4 1021.7l-3.8-15.9 -3.5-1.5 -2.1-11.2 -1.8-18.2"/><path d="M685.4 1097.9l1.4 13.4 1 17.4 1.9 11.2 2.1 18.4"/><path d="M671.8 954.8l.3 13.7 4 13.2 2.2 12.3 3.6 1.6"/><path d="M706.3 1162.7l-2.1 16.6 2 22.3 -.8 18.7 .8 13.2"/><path d="M721.3 1049.2l3.4-17.1 2.8-2 4.5 8.7 3.2 13.9"/><path d="M733.9 996.7l-4.6-3.3 -2.9-17.1 -4-14.3 -2.3-10.2"/><path d="M733 1097.7l-3.7-17 -.3-19.6 2.3-14.9 2.2-7.8"/><path d="M700.4 1306l-2.7-4.5 -4.5 10.3 -3.8 11.3 -1.7 21.3"/><path d="M685.3 1027l2 14.6 2.5 13.2 -.3 17.4 2.5 19.5"/><path d="M705.9 990.5l-2.3 15.2 -1.8 10.3 -3.9 12.9 -3.1 14.7"/><path d="M727 999l3 4.9 2.6-4.3 3.3-4.8 4.2 1.6"/><path d="M744 1213l-1.8 21.9 -.5 12.9 -1.3 22.4 -3.5 8.3"/><path d="M701.8 1293.6l-.7 21.5 .5 14.2 -3 16.3 .7 14.1"/><path d="M688.2 988l2.1 14.8 4.3 9.6 1 12.1 4.9 9.2"/><path d="M740.5 1235.9l2.9-5.8 1.1-12.7 1.8-18.1 -.4-19.2"/><path d="M691.2 1052.4l3.1-14 3.4-8.7 4.2 1 5 .9"/><path d="M692.4 1137.7l4.6-7.7 3-1.5 3.4 7.6 4.1 10.7"/><path d="M672.2 928.1l.1-17.1 1.5-22.7 1.4-11.6 3.9-16.1"/><path d="M746.6 1163.4l2.9-3 4.9-1.8 4.8 4.1 3.7 6.7"/><path d="M692.7 1191l1.6 22.5 .1 14.1 -.7 21.5 3.4 16.5"/><path d="M717.2 1132.1l-4.2-1.9 -3.7-2.4 -4.3-7.1 -3.6-6.9"/><path d="M707.3 1050.9l1.1 22.6 1.6 21.4 .3 18.7 -1.9 16.4"/><path d="M683.4 1118.3l.6-22.2 3.3-18.8 3.4-18.4 -.3-21.5"/></g>
<path d="M703.8 987.3l0-.3 46.8 .3 0 344.9 -46.8 0Z" fill="#b8a6cc"/>
</g><path d="M751.1 879.5c-.8-1.3 -2.1-5.2 -3.2-6.6c-1.1-1.4 -3.6-3.1 -5.1-3.6c-1.5-.5 -4.7-.1 -6.2-.2c-1.5-.1 -3.8-.8 -5.3-.8c-1.5 0 -4.4 .7 -5.9 1c-1.5 .3 -3.9 1.2 -5.5 1.6c-1.6 .4 -4.9 1 -6.5 1.5c-1.6 .5 -3.9 1.8 -5.4 2.4c-1.5 .6 -4.6 1.5 -6.2 2.1c-1.6 .6 -4.6 1.6 -6.1 2.4c-1.5 .8 -3.5 2.8 -5 3.7c-1.5 .9 -4.4 2.5 -6 3.3c-1.6 .8 -4.1 2.1 -5.7 2.8c-1.6 .7 -4.4 1.4 -6 2.1c-1.6 .7 -4.2 2.1 -5.8 2.8c-1.6 .7 -4.4 1.9 -5.9 2.7c-1.5 .8 -4.3 2.6 -5.7 3.4c-1.4 .8 -3.5 1.9 -4.7 2.8c-1.2 .9 -3 2.9 -4.2 3.8c-1.2 .9 -3.7 2.2 -5 3.1c-1.3 .9 -3.3 3.1 -4.4 4c-1.1 .9 -3.1 2.2 -4 3.1c-.9 .9 -2.3 2.9 -3.1 4c-.8 1.1 -2.3 3.1 -3 4.3c-.7 1.2 -1.4 3.6 -1.9 4.9c-.5 1.3 -1.4 3.5 -1.9 4.8c-.5 1.3 -1.4 3.5 -1.7 4.8c-.3 1.3 -.5 3.8 -.8 5.2c-.3 1.4 -.9 3.8 -1.2 5.2c-.3 1.4 -.9 4 -1.1 5.5c-.2 1.5 -.3 4.1 -.5 5.6c-.2 1.5 -.6 4.3 -.9 5.9c-.3 1.6 -.7 4.7 -1.1 6.3c-.4 1.6 -1.6 4.4 -2.1 6c-.5 1.6 -1.4 4.3 -1.9 5.7c-.5 1.4 -1.2 3.4 -1.6 5c-.4 1.6 -1.4 5.4 -1.7 7.2c-.3 1.8 -1 4.7 -.9 6.1c.1 1.4 1.1 3.6 2 4.5c.9 .9 3.5 1.5 5.1 1.9c1.6 .4 5.4 .8 7.2 1.2c1.8 .4 4.9 1.1 6.5 1.8c1.6 .7 4.3 2.1 5.8 3.1c1.5 1 4.2 2.8 5.3 4.1c1.1 1.3 2.3 3.9 2.9 5.4c.6 1.5 1.4 3.9 1.5 5.5c.1 1.6 -.7 5 -1 6.8c-.3 1.8 -.9 5.1 -1.5 6.7c-.6 1.6 -1.9 4.1 -3.1 5.1c-1.2 1 -4.1 1.8 -5.7 2.3c-1.6 .5 -4.3 1.1 -6 1.5c-1.7 .4 -5 1.3 -6.6 1.5c-1.6 .2 -4.1 .3 -5.7 .3c-1.6 0 -4.6-.1 -6.3 0c-1.7 .1 -4.5 .5 -6.1 .8c-1.6 .3 -4.3 .9 -5.7 1.5c-1.4 .6 -3.7 2.2 -4.9 3.3c-1.2 1.1 -2.9 3.4 -3.8 4.8c-.9 1.4 -2.6 4 -3.3 5.7c-.7 1.7 -1.6 5.3 -2 6.8c-.4 1.5 -.4 3.3 -.7 4.5c-.3 1.2 -1.4 3.3 -1.9 4.6c-.5 1.3 -1.2 3.7 -1.5 5.1c-.3 1.4 -.4 4 -.7 5.4c-.3 1.4 -1.1 4 -1.3 5.4c-.2 1.4 .1 3.9 .1 5.3c0 1.4 -.1 3.4 -.3 4.9c-.2 1.5 -.9 4.6 -1.2 6.2c-.3 1.6 -.9 4.3 -1.3 5.8c-.4 1.5 -1 4.1 -1.4 5.6c-.4 1.5 -1.5 4.1 -1.8 5.6c-.3 1.5 -.3 4.3 -.2 5.9c.1 1.6 .3 4.4 .6 5.9c.3 1.5 1.4 4.2 1.9 5.7c.5 1.5 1.2 4.2 1.5 5.8c.3 1.6 .3 4.4 .5 6c.2 1.6 .7 4.5 1 5.9c.3 1.4 .9 3.5 1.3 4.8c.4 1.3 1.2 3.5 1.7 4.8c.5 1.3 1.3 3.4 1.7 4.7c.4 1.3 1 3.5 1.5 4.8c.5 1.3 1.6 3.4 2.1 4.7c.5 1.3 1.1 3.7 1.7 5c.6 1.3 2 3.4 2.6 4.7c.6 1.3 1.6 3.8 2.2 5.2c.6 1.4 1.2 4.2 2 5.5c.8 1.3 2.8 3.2 3.8 4.4c1 1.2 2.6 3.3 3.5 4.6c.9 1.3 2.4 3.5 3.1 4.9c.7 1.4 1.4 4 2.1 5.4c.7 1.4 2.5 3.4 3.2 4.8c.7 1.4 1.5 4 2.2 5.4c.7 1.4 2.1 3.6 3 4.8c.9 1.2 2.6 3.3 3.5 4.5c.9 1.2 2.3 3.3 3.2 4.5c.9 1.2 2.9 3 3.6 4.3c.7 1.3 1 3.8 1.4 5.1c.4 1.3 1.3 3.6 1.7 4.9c.4 1.3 .6 3.9 1 5.2c.4 1.3 1.4 3.5 2 4.8c.6 1.3 2 3.3 2.7 4.6c.7 1.3 1.5 3.8 2.2 5.1c.7 1.3 2.5 3.5 3.1 4.9c.6 1.4 .7 4.4 1.3 5.9c.6 1.5 2.3 3.6 3 5c.7 1.4 1.5 4.2 2.3 5.5c.8 1.3 2.9 3 4 4c1.1 1 3 2.9 4.3 3.8c1.3 .9 4 1.8 5.3 2.6c1.3 .8 3.5 2.5 4.8 3.3c1.3 .8 3.8 1.9 5.2 2.6c1.4 .7 3.9 1.7 5.3 2.3c1.4 .6 4 1.6 5.3 2.1c1.3 .5 3.4 1.1 4.7 1.4c1.3 .3 3.7 .5 5.1 .5c1.4 0 3.8-.6 5.2-.6c1.4 0 3.8 .3 5.2 .5c1.4 .2 3.8 .9 5.1 1.1c1.3 .2 3.7 .2 5 .3c1.3 .1 3.4 .5 4.8 .4c1.4-.1 3.9-.8 5.4-1c1.5-.2 4.1 .1 5.5-.2c1.4-.3 3.7-1.7 5-2.2c1.3-.5 3.8-.8 5.1-1.2c1.3-.4 3.3-1.4 4.5-1.9c1.2-.5 3.3-1.3 4.4-2.1c1.1-.8 2.6-3 3.5-4.1c.9-1.1 2.3-3.2 3-4.5c.7-1.3 1.8-3.5 2.3-4.9c.5-1.4 1.1-3.9 1.4-5.4c.3-1.5 .9-4.2 1.1-5.6c.2-1.4 .3-3.4 .6-4.7c.3-1.3 1.5-3.4 1.8-4.7c.3-1.3 .5-3.7 .6-5.1c.1-1.4 .2-4 .1-5.5c-.1-1.5 -.9-4.1 -1-5.7c-.1-1.6 .4-4.7 .4-6.2c0-1.5 -.3-3.6 -.4-4.9c-.1-1.3 0-3.8 0-5.2c0-1.4 .2-4 .3-5.5c.1-1.5 .7-4.2 .6-5.7c-.1-1.5 -.8-4.1 -1.1-5.6c-.3-1.5 -.7-4.2 -1-5.7c-.3-1.5 -1-4.1 -1.2-5.6c-.2-1.5 -.2-4.1 -.3-5.6c-.1-1.5 -.3-4.1 -.5-5.6c-.2-1.5 -.8-4.2 -.9-5.7c-.1-1.5 .1-4.3 -.1-5.8c-.2-1.5 -1.2-4.1 -1.5-5.6c-.3-1.5 -.3-4.2 -.6-5.7c-.3-1.5 -1.4-3.9 -1.7-5.3c-.3-1.4 -.6-3.8 -.8-5.1c-.2-1.3 -.4-3.4 -.5-4.8c-.1-1.4 -.3-4.5 -.5-6c-.2-1.5 -.5-4.2 -.8-5.6c-.3-1.4 -.8-3.7 -1.3-5c-.5-1.3 -1.6-3.3 -2.1-4.5c-.5-1.2 -1.2-3.2 -1.6-4.3c-.4-1.1 -1.1-2.8 -1.5-4.1c-.4-1.3 -1.2-4.5 -1.4-6c-.2-1.5 -.2-4.2 -.3-5.6c-.1-1.4 -.6-3.6 -.7-4.8c-.1-1.2 -.1-2.7 0-3.9c.1-1.2 .5-4 1.1-5.3c.6-1.3 2.5-3.5 3.4-4.4c.9-.9 2.3-1.9 3.1-2.7c.8-.8 2.3-1.7 3.1-3.2c.8-1.5 2.4-6.5 2.9-8c.5-1.5 .9-2.4 1.1-3.5c.2-1.1 0-3.2 .1-4.4c.1-1.2 .3-3.5 .3-4.8c0-1.3 -.6-3.8 -.6-5.2c0-1.4 .3-4.1 .5-5.6c.2-1.5 1-4.2 1.1-5.8c.1-1.6 -.3-4.3 -.2-5.9c.1-1.6 .7-4.4 .8-6c.1-1.6 -.1-4.3 -.2-5.9c-.1-1.6 -.8-4.3 -.9-5.8c-.1-1.5 -.1-4 -.2-5.4c-.1-1.4 -.2-4 -.3-5.4c-.1-1.4 -.5-3.9 -.4-5.3c.1-1.4 1.1-3.9 1.2-5.3c.1-1.4 -.3-3.9 -.3-5.3c0-1.4 .5-3.9 .5-5.3c0-1.4 -.2-3.9 -.2-5.3c0-1.4 .1-3.9 .2-5.3c.1-1.4 .3-4 .4-5.4c.1-1.4 .2-3.9 .3-5.3c.1-1.4 .5-3.9 .7-5.3c.2-1.4 .5-3.9 .6-5.3c.1-1.4 .2-3.9 .1-5.3c-.1-1.4 -.6-3.9 -.7-5.3c-.1-1.4 .1-3.9 0-5.3c-.1-1.4 -.9-3.9 -1-5.3c-.1-1.4 .4-4 .5-5.4c.1-1.4 .3-3.9 .2-5.3c-.1-1.4 -.7-3.9 -.8-5.3c-.1-1.4 .1-3.9 0-5.3c-.1-1.4 -.7-3.9 -1-5.3c-.3-1.4 -.7-3.9 -.9-5.3c-.2-1.4 -.3-3.9 -.3-5.3c0-1.4 .4-4 .6-5.5c.2-1.5 .7-4.2 .9-5.8c.2-1.6 .5-4.4 .6-6c.1-1.6 -.1-4.4 -.1-6c0-1.6 -.2-4.4 -.2-6c0-1.6 0-4.4 .1-5.9c.1-1.5 .4-4.2 .4-5.6c0-1.4 -.2-3.9 -.2-5.2c0-1.3 0-3.7 0-4.9c0-1.2 .6-3.4 .2-4.4c-.4-1 -2.2-1.6 -3-2.9Z" fill="none" stroke="#777" stroke-width="1.5"/></g>
<g clip-path="url(#cRH)"><rect x="740" y="860" width="210" height="480" fill="#c4c4c4"/>
<ellipse cx="830" cy="1120" rx="60" ry="160" fill="#c8c8c8"/>
<ellipse cx="835" cy="1020" rx="28" ry="60" fill="#a6a6a6"/>
<g fill="none" stroke="#ffffff" stroke-width="1.8" stroke-opacity="0.95" stroke-linecap="round" stroke-linejoin="round"><path d="M918.2 1061.7l-5.4 3.2 -3.7 3.9 -5.6-1.2 -3.1-10.3"/><path d="M902.9 1124.4l3.3 17.1 -1.2 14.6 .1 18.7 2.7 16.5"/><path d="M795.5 1233l1.4-9.8 -.2-11.5 -1.9-10.8 -3.8-16"/><path d="M850.5 1209.5l-7.3 2.5 -4.8 11.1 -1.4 9.6 -4.7 14.5"/><path d="M846.4 1232l-3.3-6.8 -5.7-3.4 -6.4 10.1 -1.3 18.2"/><path d="M893 1252.8l-1.6-12.8 -4.2-12.1 -1.7-11.8 1.3-13.6"/><path d="M797.5 1060.8l-3.7 11.7 -5.4 9.1 -3.2 14.1 -6.7 5.4"/><path d="M794.2 1121l4.8 10.8 5.2 8.9 4-3.1 6.1-.4"/><path d="M762.1 1031.7l7.3 2 5.3 4.4 4.9 4.1 5.6 11.1"/><path d="M877 1255.7l1-12.3 -.2-16 1.3-9.1 4.7-4.2"/><path d="M775.1 986.6l6-9.9 6.2-2.5 6.4-3.2 3.7-9.3"/><path d="M894.5 1019l3.8-14.1 6.3-1.8 6.7 6.4 5 1.8"/><path d="M768.9 1161.6l.9-12.1 -3.1-13 -3.9-6.7 -2.5-8.3"/><path d="M908 1035.9l2.7 11.9 3.1 8 3.5 13.8 1.1 10.1"/><path d="M832.8 1293.8l-.3-17.1 .2-18.1 -2.2-14.9 -4.2-6.8"/><path d="M914.5 1201.4l-4.2 7.1 -6.4 6.8 -5.3 3.4 -2.8 13.4"/><path d="M878.1 917.3l6.5 .4 6-9.6 5.4-1.1 4.4 2.2"/><path d="M806 1264.1l2.9-11.8 1.3-12.9 .3-11.4 2.1-17.9"/><path d="M787.6 973.8l-5.7 3.8 -5.8-7.8 -5.9 3.5 -5.2-.6"/><path d="M911 1262.7l.5-15.2 .4-18.1 5.8-11 4.2 1.2"/><path d="M900.2 1270.1l-6.1 4.8 -4.2 1.8 -6.7 7.3 -5 .2"/><path d="M806.9 1177.8l5-10.2 2.6-12.5 4.5-7.6 4.9-3.4"/><path d="M906.7 1084.4l-4.2 9.9 -2.9 17 -2.9 17.5 1.8 10.5"/><path d="M795.2 1226.2l7.4-2.9 6.5 1.7 4.5 13.1 3 10.1"/><path d="M939.1 1055.4l-4.5-10 -.8-11.9 2-11.8 3.1-11.3"/><path d="M852.6 961.2l-3.9-8.1 -2.2-9.4 -5.8-8.9 -1.5-15.1"/><path d="M906.5 1185.5l5.3-13.3 -.4-16.3 2.5-10.8 5.2-12.5"/><path d="M863.1 1209.8l-6.4-3.3 -2.8-7.9 -5.5-11.1 -3.8-3.6"/><path d="M864.9 998.5l3.4-13.9 2.2-17.5 4.3-5 3.9-3.5"/><path d="M791.1 1086.1l-.4 17.2 .6 17.3 -3.7 15.3 -3.6 6.5"/><path d="M794.4 953.6l3.4 6.9 3.1 7.2 4.2 .8 7.3 4.5"/><path d="M884.4 1205.6l-5.6-11.7 -7.5 0 -6.1-2.1 -4.5-9.2"/><path d="M885 1163.1l2.5 12.6 1.2 10.6 3.8 7.2 4.1 11.3"/><path d="M886.1 1279.7l6.2-1.3 4.2 3 7-1.2 3.2-5.6"/><path d="M936.1 1072.5l-1.2 17.2 -.5 12.6 -.2 12.7 .1 15.4"/><path d="M920.2 1085.9l-2.9 8.5 -5.9 10.8 -1.1 14.5 .6 14"/><path d="M805.1 1067.4l-5 8.6 -1.1 13.8 3.6 13.3 4.6 5.5"/><path d="M797.4 1078.3l-6-1.5 -4 7.1 -3 8 -3.8 7.2"/><path d="M862.6 1235.1l5.7-9.7 2.4-12.8 3.9-10.1 3.2-14.9"/><path d="M877.9 962.7l-1.4-9.9 3.8-16.5 -1.1-11.5 -3.9-11.2"/><path d="M901.1 903.7l3.6-3 3-12 1.7-10.3 5.3-6.3"/><path d="M806.9 1178.2l6.3-9.2 3.8-6.9 4-13.2 6.9-6.8"/><path d="M808.7 1028l4-13.2 1.2-12.6 -2.2-17.3 -3-12.1"/><path d="M769.5 1059.8l-7.4-3.5 -5.4 9.7 -4.5 1.6 -3.4 13.8"/><path d="M894.4 1058.8l-.1-18.1 -3.9-10 -1.1-15.5 1.2-11.5"/><path d="M889.6 1174.7l-5.5 .3 -4.9-.9 -3.4-9.5 -3-15.4"/><path d="M854.8 892.8l2.3 11 .7 14.2 2.1 16.3 -2.8 15.8"/><path d="M776.9 1160.7l4.7-3.5 5-11.3 4.2-5.3 2.1-16"/><path d="M781.7 1213.8l-4.9 10.3 -3.8 1.9 -5-5.3 -4-4.3"/><path d="M806.2 1136.9l5.1-9.1 5.2-3.3 5.5 9 3.9 8.8"/><path d="M772.8 1053.7l6.1 .8 3.1 7.7 2 10.3 3.1 15.3"/><path d="M812.6 1234.2l-4.1-15.3 -3.8-12.1 -5.4-4.2 -7.2 4.9"/><path d="M901.4 1272l-1.9 8.7 2.4 18.1 -1.2 14.4 -4.4 9.9"/><path d="M852 1229.2l-3 7.2 .3 13.5 1.8 10.8 2.5 17.2"/><path d="M804.2 1039.3l.8-16.3 .3-10.5 .7-18.7 0-13.6"/><path d="M902.7 1088.7l2.5 15.3 1.5 9.6 0 9.6 .3 16.9"/><path d="M784.4 1161.9l.2-16.4 2.3-8.1 1.2-15.6 -4-14.7"/><path d="M931.6 1136.3l1.7-16.3 2.7-17.8 2.5-11.4 -.9-13.5"/><path d="M882.7 953.3l5.2-3.6 3.2-11.3 4.2-1 4.4 4"/><path d="M837.3 1227.8l-7 3.9 -7.5 1.3 -7.1 2.4 -5.4 7.5"/><path d="M836.3 1252.2l1.2 12.3 -1.4 14.9 -.9 12.1 -3.8 11.7"/><path d="M882.6 1014.6l4.2-13.8 2.2-14.5 -.7-17 1.3-15"/><path d="M808 965.6l7-7 6.2-8 1.5-12.1 -3.6-14.5"/><path d="M875.3 915.1l4.8 10.3 1.7 12.8 -1.2 16.1 .5 10"/><path d="M834 1314.5l7.1 3.5 3.2 11.7 1 18.8 -2.7 7.4"/><path d="M874.5 947.8l4.3 3.5 6.1 5.2 4.5-3.9 6.7 3.3"/><path d="M816.5 1025.1l4.9 8.4 1.8 8.5 4.9 4.5 4.9 6.3"/><path d="M760.5 1060.7l-2.8-8.1 -5.9-10.8 -.7-11.2 -3.5-6.1"/><path d="M808.1 1301.2l6.5-.6 6.2-1.3 7.5 .9 5.8-6.4"/><path d="M921.7 1131.1l-.3-16.6 -3.5-7.2 -4.5-7.8 -3.8-13.8"/></g>
<g fill="none" stroke="#9a9a9a" stroke-width="2.0" stroke-opacity="0.70" stroke-linecap="round" stroke-linejoin="round"><path d="M939.7 1145.7l-3.3 17.2 -2.3 10.7 -1.7 12.7 -5.3 10.5"/><path d="M821.6 931.1l3.8 9.1 1.8 17.9 3.8 13 6.6 8"/><path d="M779.8 989l.4-17.5 -2.4-14.7 3.6-16.5 6.5-3"/><path d="M853.6 888.9l1-10.5 2.4-11.4 3.3-16.2 2.7-10.2"/><path d="M938.4 1091.4l-1.3-13.9 -6.4-9.1 -5.3-12.9 -4.7-1.9"/><path d="M806.3 1151l2.1 10.9 -.7 9.6 1.5 15.2 5.6 8.4"/><path d="M896.7 946.2l7-6.8 4.4-2.7 3.7-3.9 4.1-5.4"/><path d="M814.1 1242.7l-2.7-11.7 -3.2-9.4 -3-7.3 -5.6-2.3"/><path d="M775.8 1116.5l3.8 14.5 5.7 11.7 4.4 4.6 5.5 12.7"/><path d="M768.9 1146.8l6.8-2.8 5 1.8 5.6 3.4 5 .6"/><path d="M924.5 1124.5l4.8 1.3 3.9-.9 6.3 10.1 .5 9.9"/><path d="M875.8 1233.3l1.2 16.4 -3 9.7 -5.7 8.4 -5.3-1.6"/><path d="M889.7 1039.9l2.3 10.4 3.4 9.4 3.6 12 .4 13.8"/><path d="M902.9 1253.3l-3.7 11.1 -.3 18 -.6 16.8 -3.1 6"/><path d="M889.1 1304.5l-5.4 6.3 -1.4 9 1.4 11.7 2.6 11.8"/><path d="M822.4 978.9l-5.1-.4 -4.8 11.3 -3.3 15.2 -2.7 8.4"/><path d="M860.3 1217.5l4.7-3 4.8 8.7 2.4 14.1 -.7 11.3"/><path d="M817.5 1005.1l-2.4 14.2 -.1 12.7 -3.6 10.7 -6.1 10.7"/><path d="M896.3 961.7l5.1-2.4 5.7-5.6 4.2-1 5.4-1.8"/><path d="M896.1 1227.5l-3-8.8 .7-17.1 -.2-16.4 4-12.5"/><path d="M779.2 959l3.4-8.1 4.1-13.4 2.5-9.1 1.4-15"/><path d="M795.3 1135.4l3.4-5.1 4.4-7.4 4.7 1.6 3.8 7.8"/><path d="M888.7 969.3l4.4-8.1 .6-9.5 3.2-7 2.7-15.4"/><path d="M790.9 1170.6l4.6-6.4 3.1-13.1 .2-12 1.3-12.6"/><path d="M808.7 1012.9l2.4 17.2 2 12.4 -.4 11.1 1.9 18.1"/><path d="M837.3 996.3l-4.1-1.5 -5.9-3.7 -5.9 6.2 -7.1-5.2"/><path d="M763.5 1051l-5.5-3.4 -4.7-3.3 -3.8-.1 -4.9-3.7"/><path d="M827.1 1306.8l4.8-4.9 4.3 5.5 2.1 12.9 .7 10.1"/><path d="M854.7 973.5l-6.2-1.9 -5.8 4.2 -6.4-8.7 -1.6-11.8"/><path d="M778.4 1023.5l-7.1-5.9 -6.5 7.1 -2.4 12.7 -4.3 3.6"/><path d="M818.1 959.7l-5.6 4.4 -5.1-.5 -5.2 9.1 -4.2 6.9"/><path d="M883.2 918l-4.1 1.4 -6.7-1.9 -4.3-2.8 -3.7-9.1"/><path d="M881 1278.3l2.7-17.6 5.2-6.3 7.3-4.1 4.5-2"/><path d="M886.1 1278.5l-3.8-7.4 -7-7.2 -5.6 1.4 -3.8 .6"/><path d="M791.1 1246.8l-3.5 10 -5.9-.5 -4.7 .2 -3.8 7.1"/><path d="M786.5 1009.7l-3.9-5.3 -4.5 2.1 -3.2 8.4 -4.5 13"/><path d="M759.4 1075.7l-4-7.4 -4.3-6 -5.2-9.2 -4.5-1.3"/><path d="M888.3 1046.6l3.4 13.7 6.1 8.1 7.2-2.5 4.8-1.9"/><path d="M866.4 1250l-6.4-10.1 -5.8 3.1 -6.3-4.9 -2.8-11.3"/><path d="M810.3 899.7l-3.5-6 -4.4-4.3 -6.2-1.5 -6.3 4.1"/><path d="M881.3 1183.8l.4-11.8 -1.9-12.4 -2.2-10.3 -1-18.7"/><path d="M821.1 992.7l2.8-11.6 .2-16.5 2.1-9.1 2.1-14.1"/><path d="M901 1076.7l-1.6-12.4 1.9-15 6.2-7.4 5-8.8"/><path d="M884.5 1189.4l-3.9 2.8 -2.2 11.4 -3.8 5.6 -4.3 5.6"/><path d="M785.1 1223.8l3.3 10.5 1.6 14.9 1.9 12.8 2.6 17.9"/><path d="M852.1 937l-5.5 9.5 -5 8.4 -6.1-2.5 -4.7-10.3"/><path d="M913.8 1170.6l5.9-4.3 6.1 2.4 3.2 6.1 4-1.9"/><path d="M893.3 1077l2.7-9.6 4.4-.7 3.5 7.5 5.7 9.5"/><path d="M910.3 1059.8l-4.2-4.6 -5-5.8 -4.5-4.1 -2.4-8.8"/><path d="M851.1 920.9l4.8 11 4.6-.1 6.1-3.8 3.3-6.5"/></g>
<path d="M756.4 1092.5l67.2 0 0 26.3 11.7 5.9 0 26.3 -2.9 20.4 2.9 29.3 5.9 17.5 23.4 2.9 5.8 8.8 0 29.2 11.7 8.8 0 26.3 -17.5 23.4 -29.3 17.5 -35 2.9 -29.3-8.7 -13.1-23.4 -1.5-46.8 4.4-58.4 13.2-43.9 2.9-20.4 -17.5-2.9Z" fill="#9a7fb6"/>
<path d="M760.8 1063.3l24.9 2.9 11.6 26.3 -35 0Z" fill="#9a7fb6"/>
</g>
<path d="M762.9 879.5c.8-1.3 2.1-5.2 3.2-6.6c1.1-1.4 3.6-3.1 5.1-3.6c1.5-.5 4.7-.1 6.2-.2c1.5-.1 3.8-.8 5.3-.8c1.5 0 4.4 .7 5.9 1c1.5 .3 3.9 1.2 5.5 1.6c1.6 .4 4.9 1 6.5 1.5c1.6 .5 3.9 1.8 5.4 2.4c1.5 .6 4.6 1.5 6.2 2.1c1.6 .6 4.6 1.6 6.1 2.4c1.5 .8 3.5 2.8 5 3.7c1.5 .9 4.4 2.5 6 3.3c1.6 .8 4.1 2.1 5.7 2.8c1.6 .7 4.4 1.4 6 2.1c1.6 .7 4.2 2.1 5.8 2.8c1.6 .7 4.4 1.9 5.9 2.7c1.5 .8 4.3 2.6 5.7 3.4c1.4 .8 3.5 1.9 4.7 2.8c1.2 .9 3 2.9 4.2 3.8c1.2 .9 3.7 2.2 5 3.1c1.3 .9 3.3 3.1 4.4 4c1.1 .9 3.1 2.2 4 3.1c.9 .9 2.3 2.9 3.1 4c.8 1.1 2.3 3.1 3 4.3c.7 1.2 1.4 3.6 1.9 4.9c.5 1.3 1.4 3.5 1.9 4.8c.5 1.3 1.4 3.5 1.7 4.8c.3 1.3 .5 3.8 .8 5.2c.3 1.4 .9 3.8 1.2 5.2c.3 1.4 .9 4 1.1 5.5c.2 1.5 .3 4.1 .5 5.6c.2 1.5 .6 4.3 .9 5.9c.3 1.6 .7 4.7 1.1 6.3c.4 1.6 1.6 4.4 2.1 6c.5 1.6 1.4 4.3 1.9 5.7c.5 1.4 1.2 3.4 1.6 5c.4 1.6 1.4 5.4 1.7 7.2c.3 1.8 1 4.7 .9 6.1c-.1 1.4 -1.1 3.6 -2 4.5c-.9 .9 -3.5 1.5 -5.1 1.9c-1.6 .4 -5.4 .8 -7.2 1.2c-1.8 .4 -4.9 1.1 -6.5 1.8c-1.6 .7 -4.3 2.1 -5.8 3.1c-1.5 1 -4.2 2.8 -5.3 4.1c-1.1 1.3 -2.3 3.9 -2.9 5.4c-.6 1.5 -1.4 3.9 -1.5 5.5c-.1 1.6 .7 5 1 6.8c.3 1.8 .9 5.1 1.5 6.7c.6 1.6 1.9 4.1 3.1 5.1c1.2 1 4.1 1.8 5.7 2.3c1.6 .5 4.3 1.1 6 1.5c1.7 .4 5 1.3 6.6 1.5c1.6 .2 4.1 .3 5.7 .3c1.6 0 4.6-.1 6.3 0c1.7 .1 4.5 .5 6.1 .8c1.6 .3 4.3 .9 5.7 1.5c1.4 .6 3.7 2.2 4.9 3.3c1.2 1.1 2.9 3.4 3.8 4.8c.9 1.4 2.6 4 3.3 5.7c.7 1.7 1.6 5.3 2 6.8c.4 1.5 .4 3.3 .7 4.5c.3 1.2 1.4 3.3 1.9 4.6c.5 1.3 1.2 3.7 1.5 5.1c.3 1.4 .4 4 .7 5.4c.3 1.4 1.1 4 1.3 5.4c.2 1.4 -.1 3.9 -.1 5.3c0 1.4 .1 3.4 .3 4.9c.2 1.5 .9 4.6 1.2 6.2c.3 1.6 .9 4.3 1.3 5.8c.4 1.5 1 4.1 1.4 5.6c.4 1.5 1.5 4.1 1.8 5.6c.3 1.5 .3 4.3 .2 5.9c-.1 1.6 -.3 4.4 -.6 5.9c-.3 1.5 -1.4 4.2 -1.9 5.7c-.5 1.5 -1.2 4.2 -1.5 5.8c-.3 1.6 -.3 4.4 -.5 6c-.2 1.6 -.7 4.5 -1 5.9c-.3 1.4 -.9 3.5 -1.3 4.8c-.4 1.3 -1.2 3.5 -1.7 4.8c-.5 1.3 -1.3 3.4 -1.7 4.7c-.4 1.3 -1 3.5 -1.5 4.8c-.5 1.3 -1.6 3.4 -2.1 4.7c-.5 1.3 -1.1 3.7 -1.7 5c-.6 1.3 -2 3.4 -2.6 4.7c-.6 1.3 -1.6 3.8 -2.2 5.2c-.6 1.4 -1.2 4.2 -2 5.5c-.8 1.3 -2.8 3.2 -3.8 4.4c-1 1.2 -2.6 3.3 -3.5 4.6c-.9 1.3 -2.4 3.5 -3.1 4.9c-.7 1.4 -1.4 4 -2.1 5.4c-.7 1.4 -2.5 3.4 -3.2 4.8c-.7 1.4 -1.5 4 -2.2 5.4c-.7 1.4 -2.1 3.6 -3 4.8c-.9 1.2 -2.6 3.3 -3.5 4.5c-.9 1.2 -2.3 3.3 -3.2 4.5c-.9 1.2 -2.9 3 -3.6 4.3c-.7 1.3 -1 3.8 -1.4 5.1c-.4 1.3 -1.3 3.6 -1.7 4.9c-.4 1.3 -.6 3.9 -1 5.2c-.4 1.3 -1.4 3.5 -2 4.8c-.6 1.3 -2 3.3 -2.7 4.6c-.7 1.3 -1.5 3.8 -2.2 5.1c-.7 1.3 -2.5 3.5 -3.1 4.9c-.6 1.4 -.7 4.4 -1.3 5.9c-.6 1.5 -2.3 3.6 -3 5c-.7 1.4 -1.5 4.2 -2.3 5.5c-.8 1.3 -2.9 3 -4 4c-1.1 1 -3 2.9 -4.3 3.8c-1.3 .9 -4 1.8 -5.3 2.6c-1.3 .8 -3.5 2.5 -4.8 3.3c-1.3 .8 -3.8 1.9 -5.2 2.6c-1.4 .7 -3.9 1.7 -5.3 2.3c-1.4 .6 -4 1.6 -5.3 2.1c-1.3 .5 -3.4 1.1 -4.7 1.4c-1.3 .3 -3.7 .5 -5.1 .5c-1.4 0 -3.8-.6 -5.2-.6c-1.4 0 -3.8 .3 -5.2 .5c-1.4 .2 -3.8 .9 -5.1 1.1c-1.3 .2 -3.7 .2 -5 .3c-1.3 .1 -3.4 .5 -4.8 .4c-1.4-.1 -3.9-.8 -5.4-1c-1.5-.2 -4.1 .1 -5.5-.2c-1.4-.3 -3.7-1.7 -5-2.2c-1.3-.5 -3.8-.8 -5.1-1.2c-1.3-.4 -3.3-1.4 -4.5-1.9c-1.2-.5 -3.3-1.3 -4.4-2.1c-1.1-.8 -2.6-3 -3.5-4.1c-.9-1.1 -2.3-3.2 -3-4.5c-.7-1.3 -1.8-3.5 -2.3-4.9c-.5-1.4 -1.1-3.9 -1.4-5.4c-.3-1.5 -.9-4.2 -1.1-5.6c-.2-1.4 -.3-3.4 -.6-4.7c-.3-1.3 -1.5-3.4 -1.8-4.7c-.3-1.3 -.5-3.7 -.6-5.1c-.1-1.4 -.2-4 -.1-5.5c.1-1.5 .9-4.1 1-5.7c.1-1.6 -.4-4.7 -.4-6.2c0-1.5 .3-3.6 .4-4.9c.1-1.3 0-3.8 0-5.2c0-1.4 -.2-4 -.3-5.5c-.1-1.5 -.7-4.2 -.6-5.7c.1-1.5 .8-4.1 1.1-5.6c.3-1.5 .7-4.2 1-5.7c.3-1.5 1-4.1 1.2-5.6c.2-1.5 .2-4.1 .3-5.6c.1-1.5 .3-4.1 .5-5.6c.2-1.5 .8-4.2 .9-5.7c.1-1.5 -.1-4.3 .1-5.8c.2-1.5 1.2-4.1 1.5-5.6c.3-1.5 .3-4.2 .6-5.7c.3-1.5 1.4-3.9 1.7-5.3c.3-1.4 .6-3.8 .8-5.1c.2-1.3 .4-3.4 .5-4.8c.1-1.4 .3-4.5 .5-6c.2-1.5 .5-4.2 .8-5.6c.3-1.4 .8-3.7 1.3-5c.5-1.3 1.6-3.3 2.1-4.5c.5-1.2 1.2-3.2 1.6-4.3c.4-1.1 1.1-2.8 1.5-4.1c.4-1.3 1.2-4.5 1.4-6c.2-1.5 .2-4.2 .3-5.6c.1-1.4 .6-3.6 .7-4.8c.1-1.2 .1-2.7 0-3.9c-.1-1.2 -.5-4 -1.1-5.3c-.6-1.3 -2.5-3.5 -3.4-4.4c-.9-.9 -2.3-1.9 -3.1-2.7c-.8-.8 -2.3-1.7 -3.1-3.2c-.8-1.5 -2.4-6.5 -2.9-8c-.5-1.5 -.9-2.4 -1.1-3.5c-.2-1.1 0-3.2 -.1-4.4c-.1-1.2 -.3-3.5 -.3-4.8c0-1.3 .6-3.8 .6-5.2c0-1.4 -.3-4.1 -.5-5.6c-.2-1.5 -1-4.2 -1.1-5.8c-.1-1.6 .3-4.3 .2-5.9c-.1-1.6 -.7-4.4 -.8-6c-.1-1.6 .1-4.3 .2-5.9c.1-1.6 .8-4.3 .9-5.8c.1-1.5 .1-4 .2-5.4c.1-1.4 .2-4 .3-5.4c.1-1.4 .5-3.9 .4-5.3c-.1-1.4 -1.1-3.9 -1.2-5.3c-.1-1.4 .3-3.9 .3-5.3c0-1.4 -.5-3.9 -.5-5.3c0-1.4 .2-3.9 .2-5.3c0-1.4 -.1-3.9 -.2-5.3c-.1-1.4 -.3-4 -.4-5.4c-.1-1.4 -.2-3.9 -.3-5.3c-.1-1.4 -.5-3.9 -.7-5.3c-.2-1.4 -.5-3.9 -.6-5.3c-.1-1.4 -.2-3.9 -.1-5.3c.1-1.4 .6-3.9 .7-5.3c.1-1.4 -.1-3.9 0-5.3c.1-1.4 .9-3.9 1-5.3c.1-1.4 -.4-4 -.5-5.4c-.1-1.4 -.3-3.9 -.2-5.3c.1-1.4 .7-3.9 .8-5.3c.1-1.4 -.1-3.9 0-5.3c.1-1.4 .7-3.9 1-5.3c.3-1.4 .7-3.9 .9-5.3c.2-1.4 .3-3.9 .3-5.3c0-1.4 -.4-4 -.6-5.5c-.2-1.5 -.7-4.2 -.9-5.8c-.2-1.6 -.5-4.4 -.6-6c-.1-1.6 .1-4.4 .1-6c0-1.6 .2-4.4 .2-6c0-1.6 0-4.4 -.1-5.9c-.1-1.5 -.4-4.2 -.4-5.6c0-1.4 .2-3.9 .2-5.2c0-1.3 0-3.7 0-4.9c0-1.2 -.6-3.4 -.2-4.4c.4-1 2.2-1.6 3-2.9Z" fill="none" stroke="#7a7a7a" stroke-width="1.5"/>
<ellipse cx="890.3" cy="1032.6" rx="13" ry="18" fill="#c4c4c4" stroke="#7a7a7a" stroke-width="1.5"/>
<g filter="url(#bl2)">
<rect x="729" y="1076" width="24" height="48" fill="#8fd3c4"/><rect x="760" y="1070" width="32" height="54" fill="#8fd3c4"/>
<ellipse cx="742" cy="1100" rx="9" ry="18" fill="#f4ea70"/><ellipse cx="775" cy="1098" rx="12" ry="19" fill="#f4ea70"/>
</g><defs><filter id="bl2"><feGaussianBlur stdDeviation="2"/></filter></defs>
<path d="M706.8 1067.7l16 0 0 13.2 7.3 2.9 0 26.3 -17.5 0 0-8.8 -5.8 0Z" fill="#e4e8ee" stroke="#000" stroke-width="3.5" stroke-linejoin="miter"/>
<path d="M765.2 1072.1l17.5 0 0 27.8 -7.3 0 0-7.4 -7.3 0 0-8.7 -2.9 0Z" fill="#e4e8ee" stroke="#000" stroke-width="3.5" stroke-linejoin="miter"/>
<path d="M791.5 1159.8l23.4-3 0 11.7 7.3 2.9 0 23.4 -10.2 0 0-11.7 -8.8 0 0-8.7 -11.7 2.9Z" fill="#e4e8ee" stroke="#000" stroke-width="3.5" stroke-linejoin="miter"/>
<path d="M794.4 1265l17.6 0 0-5.9 23.3 0 0 11.7 11.7 0 5.9 11.7 0 23.4 -14.6 0 0-11.7 -23.4 0 0-5.9 -17.6 0 0-11.6 -2.9 0Z" fill="#e4e8ee" stroke="#000" stroke-width="3.5" stroke-linejoin="miter"/>
<path d="M721 1110 C740 1178 860 1250 993 1257" fill="none" stroke="#000" stroke-width="3.6" stroke-dasharray="3.6 4.4"/>
<path d="M783 1078 C830 1040 900 1022 1005 1044" fill="none" stroke="#000" stroke-width="3.6" stroke-dasharray="3.6 4.4"/>
<path d="M815 1157 C838 1040 900 945 1005 943" fill="none" stroke="#000" stroke-width="3.6" stroke-dasharray="3.6 4.4"/>
<path d="M832 1262 C845 1190 920 1120 1005 1142" fill="none" stroke="#000" stroke-width="3.6" stroke-dasharray="3.6 4.4"/>
<line x1="1097.0" y1="1013.6" x2="1170" y2="1133.5" stroke="#bcbcbc" stroke-width="3"/>
<line x1="1108.6" y1="1101.0" x2="1170" y2="1133.5" stroke="#bcbcbc" stroke-width="3"/>
<line x1="1102.7" y1="1167.0" x2="1170" y2="1133.5" stroke="#bcbcbc" stroke-width="3"/>
<line x1="1094.0" y1="1259.0" x2="1170" y2="1133.5" stroke="#bcbcbc" stroke-width="3"/>
<path d="M1160 1121.5 L1175.4 1133.6 L1160 1143.5 L1165 1133.6Z" fill="#bcbcbc"/>
<defs><path id="p31" d="M1042 937.8c-3.8 0 -7.5 1.4 -10.1 1.4c-2.6 0 -3.2-1.7 -5.5-1.4c-2.3 .3 -5.3 1.8 -8.5 3.1c-3.2 1.3 -7.4 2.7 -10.6 4.7c-3.2 2 -5.8 4.2 -8.8 7.1c-3 2.9 -6.5 6.5 -9.2 10.1c-2.7 3.6 -5.3 7.9 -7.2 11.5c-1.9 3.6 -3.2 6.6 -4.2 9.9c-1 3.3 -1.8 7 -2 10.1c-.2 3.1 .4 6.5 1 8.7c.6 2.2 1.4 3.5 2.9 4.7c1.5 1.2 4 1.8 6.3 2.6c2.3 .8 4.2 1.2 7.7 2.1c3.5 .9 9.1 2.3 13.5 3.5c4.4 1.2 9.3 2.6 13.1 3.6c3.8 1 7 1.8 9.8 2.6c2.8 .8 4.5 1.1 7.2 2.1c2.7 1.1 6.2 2.9 9.1 4.2c2.8 1.3 5.6 2.9 8 3.6c2.4 .7 4.3 .7 6.2 .4c1.9-.3 4.1-1.1 5.4-2c1.3-.9 1.9-1.7 2.3-3.1c.4-1.4 .4-3.7 .3-5.2c-.1-1.5 -1.9-2.9 -1-3.6c.9-.7 4.1-.6 6.6-.8c2.5-.2 5.5-.1 8.2-.6c2.7-.5 5.8-1.4 8.1-2.2c2.3-.8 4-1.4 5.9-2.5c1.9-1.1 4-2.7 5.6-4.1c1.5-1.4 2.7-2.7 3.7-4.5c1-1.8 1.7-4.2 2.1-6.4c.5-2.2 .6-4.4 .6-7c-.1-2.6 -.3-5.8 -.9-8.5c-.6-2.7 -1.6-5.1 -2.9-7.6c-1.3-2.5 -3-4.8 -5.1-7.4c-2.1-2.6 -4.4-5.5 -7.3-8.1c-2.8-2.6 -6.8-5.6 -9.8-7.6c-3-2 -5.3-3.2 -8.2-4.6c-2.9-1.5 -5.7-2.9 -9-4.1c-3.3-1.2 -6.7-2.2 -10.6-3c-3.9-.8 -8.9-1.7 -12.7-1.7Z"/><clipPath id="c29"><use href="#p31"/></clipPath><filter id="f30" x="-30%" y="-30%" width="160%" height="160%"><feGaussianBlur stdDeviation="3.0"/></filter></defs>
<g clip-path="url(#c29)">
<rect x="970.6" y="932.7" width="143.0" height="105.0" fill="#4f6fd6"/>
<g filter="url(#f30)">
<ellipse cx="998.2" cy="971.9" rx="12.0" ry="13.3" fill="#cc1a40"/>
<ellipse cx="1007.5" cy="980.5" rx="8.0" ry="5.7" fill="#f0a8a0"/>
<ellipse cx="1038.1" cy="961.5" rx="9.3" ry="20.9" fill="#f0b4a4" transform="rotate(-30 1038.1 961.5)"/>
<ellipse cx="1051.4" cy="1013.7" rx="9.3" ry="6.7" fill="#cc1a40"/>
<ellipse cx="1023.5" cy="1006.1" rx="9.3" ry="4.8" fill="#f0b0a0"/>
<ellipse cx="1078.0" cy="975.7" rx="9.3" ry="7.6" fill="#f0c0b4"/>
<ellipse cx="1079.3" cy="947.2" rx="6.7" ry="3.8" fill="#d84050"/>
<ellipse cx="1002.2" cy="1004.2" rx="16.0" ry="7.6" fill="#9cbaf2"/>
<ellipse cx="1058.1" cy="990.0" rx="10.6" ry="7.6" fill="#c4d6f4"/>
<ellipse cx="1022.1" cy="947.2" rx="8.0" ry="4.8" fill="#9cbaf2"/>
<ellipse cx="1092.6" cy="994.7" rx="8.0" ry="7.6" fill="#9cbaf2"/>
</g>
<defs><filter id="f32" filterUnits="userSpaceOnUse" x="956" y="918" width="173" height="135"><feGaussianBlur stdDeviation="0.8"/></filter><filter id="f33" filterUnits="userSpaceOnUse" x="956" y="918" width="173" height="135"><feGaussianBlur stdDeviation="2.0"/></filter></defs>
<g filter="url(#f33)" fill="none" stroke="#2a2a3a" stroke-linecap="round"><path d="M1031.5 942.5c1.8 4 6.6 15 10.6 23.7c4 8.7 11.1 23.8 13.3 28.5" stroke-opacity="0.29" stroke-width="2.8"/><path d="M1022.1 980.5c3.3 1.6 12.2 6.8 20 9.5c7.8 2.7 18.8 5.3 26.6 6.6c7.8 1.3 16.7 .8 20 1" stroke-opacity="0.29" stroke-width="2.8"/></g>
<g filter="url(#f32)" fill="none" stroke="#111" stroke-linecap="round"><path d="M1031.5 942.5c1.8 4 6.6 15 10.6 23.7c4 8.7 11.1 23.8 13.3 28.5" stroke-opacity="0.68" stroke-width="1.2"/><path d="M1022.1 980.5c3.3 1.6 12.2 6.8 20 9.5c7.8 2.7 18.8 5.3 26.6 6.6c7.8 1.3 16.7 .8 20 1" stroke-opacity="0.68" stroke-width="1.2"/></g>
<defs><filter id="f34" x="-10%" y="-10%" width="120%" height="120%"><feGaussianBlur stdDeviation="1.6"/></filter></defs>
<use href="#p31" fill="none" stroke="#1a1a1a" stroke-opacity="0.50" stroke-width="6.0" filter="url(#f34)"/>
</g>
<use href="#p31" fill="none" stroke="#000" stroke-width="3.2" stroke-linejoin="round"/>
<defs><path id="p37" d="M1041.2 1037.1c-3.8 0 -7.4 1.4 -10 1.4c-2.6 0 -3.1-1.7 -5.4-1.4c-2.3 .3 -5.2 1.8 -8.4 3.1c-3.1 1.3 -7.3 2.7 -10.5 4.7c-3.2 2 -5.7 4.2 -8.7 7.1c-2.9 2.9 -6.3 6.5 -9 10.1c-2.7 3.6 -5.2 7.9 -7.1 11.5c-1.9 3.6 -3.2 6.6 -4.2 9.9c-1 3.3 -1.8 7 -2 10.1c-.2 3.1 .4 6.5 1 8.7c.6 2.2 1.3 3.5 2.8 4.7c1.5 1.2 3.9 1.8 6.2 2.6c2.3 .8 4.2 1.2 7.7 2.1c3.5 .9 8.9 2.3 13.3 3.5c4.4 1.2 9.1 2.6 12.9 3.6c3.8 1 6.9 1.8 9.7 2.6c2.8 .8 4.4 1 7.1 2.1c2.7 1 6.3 2.9 9.1 4.2c2.8 1.3 5.5 2.9 7.8 3.6c2.3 .7 4.2 .7 6.1 .4c1.9-.3 4.1-1.1 5.4-2c1.3-.9 1.9-1.7 2.3-3.1c.4-1.4 .4-3.7 .3-5.2c-.1-1.5 -1.9-2.9 -1-3.6c.9-.7 4.1-.6 6.5-.8c2.4-.2 5.4-.1 8.1-.6c2.7-.5 5.7-1.4 8-2.2c2.3-.8 4-1.4 5.9-2.5c1.9-1.1 3.9-2.7 5.4-4.1c1.5-1.4 2.7-2.7 3.7-4.5c1-1.8 1.8-4.2 2.2-6.4c.5-2.2 .6-4.4 .5-7c-.1-2.6 -.3-5.8 -.9-8.5c-.6-2.7 -1.6-5.1 -2.9-7.6c-1.3-2.5 -3-4.8 -5-7.4c-2-2.6 -4.4-5.5 -7.2-8.1c-2.8-2.6 -6.7-5.6 -9.7-7.6c-3-2 -5.3-3.1 -8.1-4.6c-2.8-1.5 -5.6-2.9 -8.8-4.1c-3.2-1.2 -6.7-2.2 -10.6-3c-3.8-.8 -8.8-1.7 -12.5-1.7Z"/><clipPath id="c35"><use href="#p37"/></clipPath><filter id="f36" x="-30%" y="-30%" width="160%" height="160%"><feGaussianBlur stdDeviation="3.0"/></filter></defs>
<g clip-path="url(#c35)">
<rect x="970.6" y="1032.0" width="141.4" height="105.0" fill="#4f6fd6"/>
<g filter="url(#f36)">
<ellipse cx="1020.3" cy="1065.5" rx="10.5" ry="7.6" fill="#cc1a40"/>
<ellipse cx="1093.9" cy="1081.7" rx="6.6" ry="17.1" fill="#cc1a40"/>
<ellipse cx="1070.2" cy="1098.8" rx="7.9" ry="6.7" fill="#e87068"/>
<ellipse cx="1001.9" cy="1084.5" rx="15.8" ry="19.0" fill="#9cbaf2"/>
<ellipse cx="978.2" cy="1098.8" rx="3.9" ry="5.7" fill="#cc1a40"/>
<ellipse cx="1047.9" cy="1056.0" rx="10.5" ry="6.7" fill="#9cbaf2"/>
<ellipse cx="1054.4" cy="1113.0" rx="13.1" ry="7.6" fill="#c4d6f4"/>
<ellipse cx="1012.4" cy="1111.1" rx="13.1" ry="7.6" fill="#9cbaf2"/>
<ellipse cx="1078.1" cy="1060.8" rx="7.9" ry="5.7" fill="#f0c4b8"/>
</g>
<defs><filter id="f38" filterUnits="userSpaceOnUse" x="956" y="1017" width="171" height="135"><feGaussianBlur stdDeviation="0.8"/></filter><filter id="f39" filterUnits="userSpaceOnUse" x="956" y="1017" width="171" height="135"><feGaussianBlur stdDeviation="2.0"/></filter></defs>
<g filter="url(#f39)" fill="none" stroke="#2a2a3a" stroke-linecap="round"><path d="M1030.8 1041.8c1.8 4 6.6 15 10.5 23.7c3.9 8.7 10.9 23.8 13.1 28.5" stroke-opacity="0.29" stroke-width="2.7"/><path d="M1021.6 1084.5c3.3 1.3 12 5.7 19.7 7.6c7.7 1.9 18.6 3 26.3 3.8c7.7 .8 16.4 .7 19.7 .9" stroke-opacity="0.29" stroke-width="2.7"/></g>
<g filter="url(#f38)" fill="none" stroke="#111" stroke-linecap="round"><path d="M1030.8 1041.8c1.8 4 6.6 15 10.5 23.7c3.9 8.7 10.9 23.8 13.1 28.5" stroke-opacity="0.68" stroke-width="1.2"/><path d="M1021.6 1084.5c3.3 1.3 12 5.7 19.7 7.6c7.7 1.9 18.6 3 26.3 3.8c7.7 .8 16.4 .7 19.7 .9" stroke-opacity="0.68" stroke-width="1.2"/></g>
<defs><filter id="f40" x="-10%" y="-10%" width="120%" height="120%"><feGaussianBlur stdDeviation="1.6"/></filter></defs>
<use href="#p37" fill="none" stroke="#1a1a1a" stroke-opacity="0.50" stroke-width="5.9" filter="url(#f40)"/>
</g>
<use href="#p37" fill="none" stroke="#000" stroke-width="3.2" stroke-linejoin="round"/>
<defs><path id="p43" d="M1041.2 1136.1c-3.8 0 -7.4 1.4 -10 1.4c-2.6 0 -3.1-1.7 -5.4-1.4c-2.3 .3 -5.2 1.8 -8.4 3.1c-3.1 1.3 -7.3 2.6 -10.5 4.6c-3.2 2 -5.7 4.3 -8.7 7.1c-2.9 2.8 -6.3 6.3 -9 9.9c-2.7 3.5 -5.2 7.9 -7.1 11.4c-1.9 3.5 -3.2 6.5 -4.2 9.8c-1 3.3 -1.8 6.9 -2 10c-.2 3.1 .4 6.4 1 8.6c.6 2.2 1.3 3.5 2.8 4.7c1.5 1.2 3.9 1.7 6.2 2.5c2.3 .8 4.2 1.2 7.7 2.1c3.5 .9 8.9 2.3 13.3 3.5c4.4 1.2 9.1 2.5 12.9 3.5c3.8 1 6.9 1.9 9.7 2.7c2.8 .8 4.4 1 7.1 2c2.7 1 6.3 2.9 9.1 4.2c2.8 1.3 5.5 2.8 7.8 3.5c2.3 .7 4.2 .7 6.1 .4c1.9-.3 4.1-1.2 5.4-2c1.3-.8 1.9-1.6 2.3-3c.4-1.4 .4-3.7 .3-5.1c-.1-1.5 -1.9-2.8 -1-3.6c.9-.8 4.1-.7 6.5-.9c2.4-.2 5.4-.1 8.1-.5c2.7-.4 5.7-1.4 8-2.2c2.3-.8 4-1.4 5.9-2.5c1.9-1.1 3.9-2.7 5.4-4.1c1.5-1.4 2.7-2.6 3.7-4.4c1-1.8 1.8-4.1 2.2-6.3c.5-2.2 .6-4.3 .5-6.9c-.1-2.6 -.3-5.8 -.9-8.5c-.6-2.7 -1.6-5 -2.9-7.5c-1.3-2.5 -3-4.7 -5-7.3c-2-2.5 -4.4-5.4 -7.2-8c-2.8-2.6 -6.7-5.6 -9.7-7.6c-3-2 -5.3-3.1 -8.1-4.5c-2.8-1.4 -5.6-2.8 -8.8-4c-3.2-1.2 -6.7-2.2 -10.6-3c-3.8-.8 -8.8-1.7 -12.5-1.7Z"/><clipPath id="c41"><use href="#p43"/></clipPath><filter id="f42" x="-30%" y="-30%" width="160%" height="160%"><feGaussianBlur stdDeviation="3.0"/></filter></defs>
<g clip-path="url(#c41)">
<rect x="970.6" y="1131.0" width="141.4" height="104.0" fill="#4f6fd6"/>
<g filter="url(#f42)">
<ellipse cx="983.5" cy="1183.0" rx="7.9" ry="18.8" fill="#cc1a40"/>
<ellipse cx="997.9" cy="1166.1" rx="5.3" ry="5.6" fill="#cc1a40"/>
<ellipse cx="1001.9" cy="1187.7" rx="13.1" ry="16.9" fill="#c4d6f4"/>
<ellipse cx="1017.6" cy="1206.5" rx="15.8" ry="7.5" fill="#9cbaf2"/>
<ellipse cx="1047.9" cy="1178.3" rx="10.5" ry="9.4" fill="#9cbaf2"/>
<ellipse cx="1074.2" cy="1164.2" rx="10.5" ry="7.5" fill="#9cbaf2"/>
<ellipse cx="1087.3" cy="1201.8" rx="7.9" ry="5.6" fill="#d8e0f0"/>
<ellipse cx="991.4" cy="1159.5" rx="6.6" ry="5.6" fill="#f0b0a0"/>
</g>
<defs><filter id="f44" filterUnits="userSpaceOnUse" x="956" y="1116" width="171" height="134"><feGaussianBlur stdDeviation="0.8"/></filter><filter id="f45" filterUnits="userSpaceOnUse" x="956" y="1116" width="171" height="134"><feGaussianBlur stdDeviation="2.0"/></filter></defs>
<g filter="url(#f45)" fill="none" stroke="#2a2a3a" stroke-linecap="round"><path d="M1030.8 1140.7c1.8 3.9 6.6 14.9 10.5 23.5c3.9 8.6 10.9 23.5 13.1 28.2" stroke-opacity="0.29" stroke-width="2.7"/><path d="M1021.6 1183c3.3 1.2 12 5.6 19.7 7.5c7.7 1.9 18.6 3 26.3 3.8c7.7 .8 16.4 .8 19.7 .9" stroke-opacity="0.29" stroke-width="2.7"/></g>
<g filter="url(#f44)" fill="none" stroke="#111" stroke-linecap="round"><path d="M1030.8 1140.7c1.8 3.9 6.6 14.9 10.5 23.5c3.9 8.6 10.9 23.5 13.1 28.2" stroke-opacity="0.68" stroke-width="1.2"/><path d="M1021.6 1183c3.3 1.2 12 5.6 19.7 7.5c7.7 1.9 18.6 3 26.3 3.8c7.7 .8 16.4 .8 19.7 .9" stroke-opacity="0.68" stroke-width="1.2"/></g>
<defs><filter id="f46" x="-10%" y="-10%" width="120%" height="120%"><feGaussianBlur stdDeviation="1.6"/></filter></defs>
<use href="#p43" fill="none" stroke="#1a1a1a" stroke-opacity="0.50" stroke-width="5.9" filter="url(#f46)"/>
</g>
<use href="#p43" fill="none" stroke="#000" stroke-width="3.2" stroke-linejoin="round"/>
<defs><path id="p49" d="M1042 1236.1c-3.8 0 -7.5 1.4 -10.1 1.4c-2.6 0 -3.2-1.7 -5.5-1.4c-2.3 .3 -5.3 1.8 -8.5 3.1c-3.2 1.3 -7.4 2.7 -10.6 4.7c-3.2 2 -5.8 4.2 -8.8 7.1c-3 2.9 -6.5 6.5 -9.2 10.1c-2.7 3.6 -5.3 7.9 -7.2 11.5c-1.9 3.6 -3.2 6.6 -4.2 9.9c-1 3.3 -1.8 7 -2 10.1c-.2 3.1 .4 6.5 1 8.7c.6 2.2 1.4 3.5 2.9 4.7c1.5 1.2 4 1.8 6.3 2.6c2.3 .8 4.2 1.2 7.7 2.1c3.5 .9 9.1 2.3 13.5 3.5c4.4 1.2 9.3 2.6 13.1 3.6c3.8 1 7 1.8 9.8 2.6c2.8 .8 4.5 1 7.2 2.1c2.7 1 6.2 2.9 9.1 4.2c2.8 1.3 5.6 2.9 8 3.6c2.4 .7 4.3 .7 6.2 .4c1.9-.3 4.1-1.1 5.4-2c1.3-.9 1.9-1.7 2.3-3.1c.4-1.4 .4-3.7 .3-5.2c-.1-1.5 -1.9-2.9 -1-3.6c.9-.7 4.1-.6 6.6-.8c2.5-.2 5.5-.1 8.2-.6c2.7-.5 5.8-1.4 8.1-2.2c2.3-.8 4-1.4 5.9-2.5c1.9-1.1 4-2.7 5.6-4.1c1.5-1.4 2.7-2.7 3.7-4.5c1-1.8 1.7-4.2 2.1-6.4c.5-2.2 .6-4.4 .6-7c-.1-2.6 -.3-5.8 -.9-8.5c-.6-2.7 -1.6-5.1 -2.9-7.6c-1.3-2.5 -3-4.8 -5.1-7.4c-2.1-2.6 -4.4-5.5 -7.3-8.1c-2.8-2.6 -6.8-5.6 -9.8-7.6c-3-2 -5.3-3.1 -8.2-4.6c-2.9-1.5 -5.7-2.9 -9-4.1c-3.3-1.2 -6.7-2.2 -10.6-3c-3.9-.8 -8.9-1.7 -12.7-1.7Z"/><clipPath id="c47"><use href="#p49"/></clipPath><filter id="f48" x="-30%" y="-30%" width="160%" height="160%"><feGaussianBlur stdDeviation="3.0"/></filter></defs>
<g clip-path="url(#c47)">
<rect x="970.6" y="1231.0" width="143.0" height="105.0" fill="#4f6fd6"/>
<g filter="url(#f48)">
<ellipse cx="1048.8" cy="1275.9" rx="16.0" ry="19.0" fill="#cc1a40" transform="rotate(-35 1048.8 1275.9)"/>
<ellipse cx="1038.1" cy="1253.1" rx="6.7" ry="11.4" fill="#cc1a40" transform="rotate(-30 1038.1 1253.1)"/>
<ellipse cx="1058.1" cy="1297.8" rx="10.6" ry="7.6" fill="#e86060"/>
<ellipse cx="1031.5" cy="1278.8" rx="6.7" ry="9.5" fill="#f0c0b0"/>
<ellipse cx="1002.2" cy="1278.8" rx="16.0" ry="13.3" fill="#9cbaf2"/>
<ellipse cx="1082.0" cy="1269.2" rx="10.6" ry="9.5" fill="#9cbaf2"/>
<ellipse cx="1015.5" cy="1312.0" rx="16.0" ry="5.7" fill="#c4d6f4"/>
<ellipse cx="1075.3" cy="1307.2" rx="8.0" ry="5.7" fill="#c4d6f4"/>
</g>
<defs><filter id="f50" filterUnits="userSpaceOnUse" x="956" y="1216" width="173" height="135"><feGaussianBlur stdDeviation="0.8"/></filter><filter id="f51" filterUnits="userSpaceOnUse" x="956" y="1216" width="173" height="135"><feGaussianBlur stdDeviation="2.0"/></filter></defs>
<g filter="url(#f51)" fill="none" stroke="#2a2a3a" stroke-linecap="round"><path d="M1031.5 1240.8c1.8 4 6.6 15 10.6 23.7c4 8.7 11.1 23.8 13.3 28.5" stroke-opacity="0.29" stroke-width="2.8"/><path d="M1022.1 1283.5c3.3 1.3 12.2 5.7 20 7.6c7.8 1.9 18.8 3 26.6 3.8c7.8 .8 16.7 .7 20 .9" stroke-opacity="0.29" stroke-width="2.8"/></g>
<g filter="url(#f50)" fill="none" stroke="#111" stroke-linecap="round"><path d="M1031.5 1240.8c1.8 4 6.6 15 10.6 23.7c4 8.7 11.1 23.8 13.3 28.5" stroke-opacity="0.68" stroke-width="1.2"/><path d="M1022.1 1283.5c3.3 1.3 12.2 5.7 20 7.6c7.8 1.9 18.8 3 26.6 3.8c7.8 .8 16.7 .7 20 .9" stroke-opacity="0.68" stroke-width="1.2"/></g>
<defs><filter id="f52" x="-10%" y="-10%" width="120%" height="120%"><feGaussianBlur stdDeviation="1.6"/></filter></defs>
<use href="#p49" fill="none" stroke="#1a1a1a" stroke-opacity="0.50" stroke-width="6.0" filter="url(#f52)"/>
</g>
<use href="#p49" fill="none" stroke="#000" stroke-width="3.2" stroke-linejoin="round"/>
<text x="106.5" y="1427" font-size="35" textLength="372.5" lengthAdjust="spacingAndGlyphs">Lesion frequency (<tspan font-style="italic">n</tspan>) = 1</text>
<rect x="491" y="1404.4" width="154.5" height="21.1" fill="url(#vir)" stroke="#000" stroke-width="1.8"/>
<text x="648.7" y="1427.0" font-size="35.0" textLength="21.3" lengthAdjust="spacingAndGlyphs">7</text>
<text x="704.6" y="1426.8" font-size="35" textLength="303.9" lengthAdjust="spacingAndGlyphs">Func. conn. (<tspan font-style="italic">z</tspan>) = -.5</text>
<rect x="1017.9" y="1404.8" width="154.3" height="20.5" fill="url(#cw)" stroke="#000" stroke-width="1.8"/>
<line x1="1096" y1="1405.5" x2="1096" y2="1424.5" stroke="#777" stroke-width="1.2"/>
<text x="1179.5" y="1426.8" font-size="35.0" textLength="23.4" lengthAdjust="spacingAndGlyphs">.5</text>
<defs><clipPath id="cpS"><rect x="1271.0" y="870.0" width="700.0" height="478.0" rx="24"/></clipPath></defs>
<g clip-path="url(#cpS)">
<line x1="1271" x2="1971" y1="951.2" y2="951.2" stroke="#ebebeb" stroke-width="1.6"/>
<line x1="1271" x2="1971" y1="1076.0" y2="1076.0" stroke="#ebebeb" stroke-width="1.6"/>
<line x1="1271" x2="1971" y1="1200.6" y2="1200.6" stroke="#ebebeb" stroke-width="1.6"/>
<line x1="1271" x2="1971" y1="1325.3" y2="1325.3" stroke="#ebebeb" stroke-width="1.6"/>
<line x1="1271" x2="1971" y1="888.9" y2="888.9" stroke="#dedede" stroke-width="2.2"/>
<line x1="1271" x2="1971" y1="1013.6" y2="1013.6" stroke="#dedede" stroke-width="2.2"/>
<line x1="1271" x2="1971" y1="1263.0" y2="1263.0" stroke="#dedede" stroke-width="2.2"/>
<line x1="1300.9" x2="1300.9" y1="870" y2="1348" stroke="#d2d2d2" stroke-width="2.4"/>
<line x1="1429.0" x2="1429.0" y1="870" y2="1348" stroke="#d2d2d2" stroke-width="2.4"/>
<line x1="1557.0" x2="1557.0" y1="870" y2="1348" stroke="#d2d2d2" stroke-width="2.4"/>
<line x1="1685.1" x2="1685.1" y1="870" y2="1348" stroke="#d2d2d2" stroke-width="2.4"/>
<line x1="1813.1" x2="1813.1" y1="870" y2="1348" stroke="#d2d2d2" stroke-width="2.4"/>
<line x1="1941.2" x2="1941.2" y1="870" y2="1348" stroke="#d2d2d2" stroke-width="2.4"/>
<path d="M1300.9 952.5l16 4.1 16 4.2 16 4.1 16 4.2 16 4 16 4.1 16.1 4 16 4 16 4 16 3.8 16 3.9 16 3.8 16 3.7 16 3.6 16 3.6 16 3.5 16 3.4 16 3.2 16 3.2 16.1 3.1 16 2.9 16 2.8 16 2.8 16 2.6 16 2.5 16 2.4 16 2.3 16 2.2 16 2.2 16 2.1 16 2 16 2 16 2 16.1 1.9 16 1.8 16 1.8 16 1.8 16 1.8 16 1.7 16 1.8 0 68.7 -16-4.1 -16-4.2 -16-4.1 -16-4.1 -16-4 -16-4 -16.1-4 -16-4 -16-3.8 -16-3.9 -16-3.8 -16-3.7 -16-3.6 -16-3.6 -16-3.4 -16-3.4 -16-3.3 -16-3.1 -16-3.1 -16-2.9 -16.1-2.8 -16-2.7 -16-2.6 -16-2.5 -16-2.4 -16-2.3 -16-2.3 -16-2.1 -16-2.1 -16-2 -16-2 -16-1.9 -16-1.9 -16.1-1.9 -16-1.8 -16-1.8 -16-1.7 -16-1.8 -16-1.7 -16-1.7Z" fill="#d4d4d4" fill-opacity="0.7"/>
<line x1="1271" x2="1971" y1="1138.3" y2="1138.3" stroke="#000" stroke-width="3"/>
<circle cx="1300.9" cy="911.1" r="10.2" fill="#1a1a1a" fill-opacity="0.58"/>
<circle cx="1300.9" cy="927.7" r="10.2" fill="#1a1a1a" fill-opacity="0.58"/>
<circle cx="1300.9" cy="947.9" r="10.2" fill="#1a1a1a" fill-opacity="0.58"/>
<circle cx="1300.9" cy="964.5" r="10.2" fill="#1a1a1a" fill-opacity="0.58"/>
<circle cx="1300.9" cy="970.0" r="10.2" fill="#1a1a1a" fill-opacity="0.58"/>
<circle cx="1300.9" cy="975.5" r="10.2" fill="#1a1a1a" fill-opacity="0.58"/>
<circle cx="1300.9" cy="980.1" r="10.2" fill="#1a1a1a" fill-opacity="0.58"/>
<circle cx="1300.9" cy="983.8" r="10.2" fill="#1a1a1a" fill-opacity="0.58"/>
<circle cx="1300.9" cy="988.4" r="10.2" fill="#1a1a1a" fill-opacity="0.58"/>
<circle cx="1300.9" cy="997.6" r="10.2" fill="#1a1a1a" fill-opacity="0.58"/>
<circle cx="1300.9" cy="1004.5" r="10.2" fill="#1a1a1a" fill-opacity="0.58"/>
<circle cx="1300.9" cy="1012.3" r="10.2" fill="#1a1a1a" fill-opacity="0.58"/>
<circle cx="1429.0" cy="1042.2" r="10.2" fill="#1a1a1a" fill-opacity="0.58"/>
<circle cx="1429.0" cy="1079.0" r="10.2" fill="#1a1a1a" fill-opacity="0.58"/>
<circle cx="1557.0" cy="980.1" r="10.2" fill="#1a1a1a" fill-opacity="0.58"/>
<circle cx="1557.0" cy="1010.0" r="10.2" fill="#1a1a1a" fill-opacity="0.58"/>
<circle cx="1557.0" cy="1035.8" r="10.2" fill="#1a1a1a" fill-opacity="0.58"/>
<circle cx="1557.0" cy="1038.0" r="10.2" fill="#1a1a1a" fill-opacity="0.58"/>
<circle cx="1557.0" cy="1094.2" r="10.2" fill="#1a1a1a" fill-opacity="0.58"/>
<circle cx="1557.0" cy="1129.6" r="10.2" fill="#1a1a1a" fill-opacity="0.58"/>
<circle cx="1685.1" cy="1014.6" r="10.2" fill="#1a1a1a" fill-opacity="0.58"/>
<circle cx="1685.1" cy="1068.9" r="10.2" fill="#1a1a1a" fill-opacity="0.58"/>
<circle cx="1685.1" cy="1124.1" r="10.2" fill="#1a1a1a" fill-opacity="0.58"/>
<circle cx="1813.1" cy="1019.2" r="10.2" fill="#1a1a1a" fill-opacity="0.58"/>
<circle cx="1813.1" cy="1036.7" r="10.2" fill="#1a1a1a" fill-opacity="0.58"/>
<circle cx="1813.1" cy="1180.7" r="10.2" fill="#1a1a1a" fill-opacity="0.58"/>
<circle cx="1813.1" cy="1190.8" r="10.2" fill="#1a1a1a" fill-opacity="0.58"/>
<circle cx="1813.1" cy="1233.6" r="10.2" fill="#1a1a1a" fill-opacity="0.58"/>
<circle cx="1941.2" cy="935.0" r="10.2" fill="#1a1a1a" fill-opacity="0.58"/>
<circle cx="1941.2" cy="964.5" r="10.2" fill="#1a1a1a" fill-opacity="0.58"/>
<circle cx="1941.2" cy="970.0" r="10.2" fill="#1a1a1a" fill-opacity="0.58"/>
<circle cx="1941.2" cy="981.5" r="10.2" fill="#1a1a1a" fill-opacity="0.58"/>
<circle cx="1941.2" cy="983.8" r="10.2" fill="#1a1a1a" fill-opacity="0.58"/>
<circle cx="1941.2" cy="1009.1" r="10.2" fill="#1a1a1a" fill-opacity="0.58"/>
<circle cx="1941.2" cy="1087.3" r="10.2" fill="#1a1a1a" fill-opacity="0.58"/>
<circle cx="1941.2" cy="1091.9" r="10.2" fill="#1a1a1a" fill-opacity="0.58"/>
<circle cx="1941.2" cy="1117.2" r="10.2" fill="#1a1a1a" fill-opacity="0.58"/>
<circle cx="1941.2" cy="1120.9" r="10.2" fill="#1a1a1a" fill-opacity="0.58"/>
<circle cx="1941.2" cy="1173.3" r="10.2" fill="#1a1a1a" fill-opacity="0.58"/>
<circle cx="1941.2" cy="1176.1" r="10.2" fill="#1a1a1a" fill-opacity="0.58"/>
<circle cx="1941.2" cy="1186.2" r="10.2" fill="#1a1a1a" fill-opacity="0.58"/>
<circle cx="1941.2" cy="1235.4" r="10.2" fill="#1a1a1a" fill-opacity="0.58"/>
<circle cx="1941.2" cy="1273.6" r="10.2" fill="#1a1a1a" fill-opacity="0.58"/>
<line x1="1301.8" y1="988.4" x2="1941" y2="1105.7" stroke="#f00000" stroke-width="4.6"/>
</g>
<rect x="1271.5" y="870.0" width="699.0" height="478.0" rx="24" fill="none" stroke="#000" stroke-width="3.2"/>
<rect x="1300" y="1193" width="194" height="113.7" rx="26" fill="#ebebeb" stroke="#000" stroke-width="3"/>
<text x="1397" y="1237" font-size="33" text-anchor="middle" textLength="155" lengthAdjust="spacingAndGlyphs"><tspan font-style="italic">rho</tspan> = -0.5</text>
<text x="1397" y="1285.5" font-size="33" text-anchor="middle" textLength="150" lengthAdjust="spacingAndGlyphs"><tspan font-style="italic">p</tspan>=0.0007</text>
<text x="1216.7" y="901.2" font-size="32.0" textLength="44.8" lengthAdjust="spacingAndGlyphs">0.4</text>
<text x="1216.7" y="1023.2" font-size="32.0" textLength="44.8" lengthAdjust="spacingAndGlyphs">0.2</text>
<text x="1230.8" y="1147.4" font-size="32.0" textLength="17.2" lengthAdjust="spacingAndGlyphs">0</text>
<text x="1206.0" y="1269.0" font-size="32.0" textLength="55.5" lengthAdjust="spacingAndGlyphs">-0.2</text>
<text x="1300.9" y="1384.0" font-size="32.0" text-anchor="middle">1</text>
<text x="1429.0" y="1384.0" font-size="32.0" text-anchor="middle">2</text>
<text x="1557.0" y="1384.0" font-size="32.0" text-anchor="middle">3</text>
<text x="1685.1" y="1384.0" font-size="32.0" text-anchor="middle">4</text>
<text x="1813.1" y="1384.0" font-size="32.0" text-anchor="middle">5</text>
<text x="1941.2" y="1384.0" font-size="32.0" text-anchor="middle">6</text>
<text x="1196" y="1110" font-size="37" text-anchor="middle" transform="rotate(-90 1196 1110)" textLength="330" lengthAdjust="spacingAndGlyphs">Spatial correlation (<tspan font-style="italic">r</tspan>)</text>
<text x="1270.5" y="1425.0" font-size="35.0" textLength="88.5" lengthAdjust="spacingAndGlyphs" font-style="italic">Coma</text>
<text x="1508.0" y="1425.0" font-size="35.0" textLength="214.7" lengthAdjust="spacingAndGlyphs">Arousal score</text>
<text x="1868.5" y="1425.0" font-size="35.0" textLength="102.5" lengthAdjust="spacingAndGlyphs" font-style="italic">Awake</text>
<line x1="1497" y1="1415" x2="1372" y2="1415" stroke="#000" stroke-width="2"/><path d="M1376 1410 L1364 1415 L1376 1420Z" fill="#000"/>
<line x1="1733" y1="1415" x2="1857" y2="1415" stroke="#000" stroke-width="2"/><path d="M1853 1410 L1865 1415 L1853 1420Z" fill="#000"/>
<text x="1.5" y="1550.0" font-size="74.0" textLength="50.0" lengthAdjust="spacingAndGlyphs" font-weight="bold">C</text>
<text x="108.0" y="1533.8" font-size="38.0" textLength="1020.6" lengthAdjust="spacingAndGlyphs">External validation analysis in independent epilepsy cohort</text>
<text x="1272.0" y="1532.8" font-size="38.0" textLength="686.6" lengthAdjust="spacingAndGlyphs">Similarity to DBS improvement network</text>
<defs><clipPath id="cpE"><rect x="106.4" y="1575.0" width="322.0" height="457.2" rx="15"/></clipPath></defs>
<g clip-path="url(#cpE)">
<rect x="106.4" y="1575.0" width="52.8" height="457.2" fill="#e8e8e8"/>
<line x1="161.0" x2="161.0" y1="1575.0" y2="2032.2" stroke="#d8d8d8" stroke-width="1" stroke-dasharray="1.5 2"/>
<line x1="174.3" x2="174.3" y1="1575.0" y2="2032.2" stroke="#d8d8d8" stroke-width="1" stroke-dasharray="1.5 2"/>
<line x1="187.6" x2="187.6" y1="1575.0" y2="2032.2" stroke="#d8d8d8" stroke-width="1" stroke-dasharray="1.5 2"/>
<line x1="200.9" x2="200.9" y1="1575.0" y2="2032.2" stroke="#d8d8d8" stroke-width="1" stroke-dasharray="1.5 2"/>
<line x1="214.2" x2="214.2" y1="1575.0" y2="2032.2" stroke="#d8d8d8" stroke-width="1" stroke-dasharray="1.5 2"/>
<line x1="227.5" x2="227.5" y1="1575.0" y2="2032.2" stroke="#d8d8d8" stroke-width="1" stroke-dasharray="1.5 2"/>
<line x1="240.8" x2="240.8" y1="1575.0" y2="2032.2" stroke="#d8d8d8" stroke-width="1" stroke-dasharray="1.5 2"/>
<line x1="254.1" x2="254.1" y1="1575.0" y2="2032.2" stroke="#d8d8d8" stroke-width="1" stroke-dasharray="1.5 2"/>
<line x1="267.4" x2="267.4" y1="1575.0" y2="2032.2" stroke="#d8d8d8" stroke-width="1" stroke-dasharray="1.5 2"/>
<line x1="280.7" x2="280.7" y1="1575.0" y2="2032.2" stroke="#d8d8d8" stroke-width="1" stroke-dasharray="1.5 2"/>
<line x1="294.0" x2="294.0" y1="1575.0" y2="2032.2" stroke="#d8d8d8" stroke-width="1" stroke-dasharray="1.5 2"/>
<line x1="307.3" x2="307.3" y1="1575.0" y2="2032.2" stroke="#d8d8d8" stroke-width="1" stroke-dasharray="1.5 2"/>
<line x1="320.6" x2="320.6" y1="1575.0" y2="2032.2" stroke="#d8d8d8" stroke-width="1" stroke-dasharray="1.5 2"/>
<line x1="333.9" x2="333.9" y1="1575.0" y2="2032.2" stroke="#d8d8d8" stroke-width="1" stroke-dasharray="1.5 2"/>
<line x1="347.2" x2="347.2" y1="1575.0" y2="2032.2" stroke="#d8d8d8" stroke-width="1" stroke-dasharray="1.5 2"/>
<line x1="360.5" x2="360.5" y1="1575.0" y2="2032.2" stroke="#d8d8d8" stroke-width="1" stroke-dasharray="1.5 2"/>
<line x1="373.8" x2="373.8" y1="1575.0" y2="2032.2" stroke="#d8d8d8" stroke-width="1" stroke-dasharray="1.5 2"/>
<line x1="387.1" x2="387.1" y1="1575.0" y2="2032.2" stroke="#d8d8d8" stroke-width="1" stroke-dasharray="1.5 2"/>
<line x1="400.4" x2="400.4" y1="1575.0" y2="2032.2" stroke="#d8d8d8" stroke-width="1" stroke-dasharray="1.5 2"/>
<line x1="413.7" x2="413.7" y1="1575.0" y2="2032.2" stroke="#d8d8d8" stroke-width="1" stroke-dasharray="1.5 2"/>
<path d="M160.5 1581.4l.9-5.3 .9-2.3 .9-4.3 .9 4.3 .9 1.9 .9-3.2 .9-1.3 .8 17.4 .9 5.7 .9-.4 .9 2.1 .9 2.2 .9 5.5 .9 2.3 .9 5 .9-2.2 .9-4.1 .9-15.4 .9-14.5 .9-3.5 .9 2.9 .8 5.3 .9-3.1 .9-1.6 .9 2.7 .9 11.1 .9 4.6 .9 6.5 .9 2.4 .9-4.6 .9 .3 .9-1.3 .9-.9 .9 11.3 .9 4.6 .8-3.5 .9-5.2 .9-8 .9-14.4 .9-8.6 .9 7.5 .9 2.5 .9 4 .9-3.4 .9 6.5 .9-3 .9 1.2 .9-2.4 .9-5 .8-.2 .9 2.4 .9 8.4 .9 11.9 .9 .5 .9-2.7 .9-1.6 .9-5.4 .9-9.9 .9 .9 .9 6.3 .9 4.6 .9 7.2 .9-2.2 .9-10 .8-4.1 .9-4.8 .9 .8 .9 2 .9 .5 .9 2.4 .9-7.1 .9-5.5 .9-1.2 .9 5.7 .9 12.7 .9 9.2 .9 8.5 .9 1.3 .8 .7 .9 .5 .9-5 .9-9 .9-7.6 .9 0 .9 2.7 .9 1.4 .9-1.5 .9-4.6 .9-9.2 .9-9.3 .9-6.5 .9-7.1 .8 8.1 .9 16.2 .9 4.6 .9 4.9 .9-5.2 .9-2.6 .9-2.8 .9 4.9 .9 4.8 .9 1.5 .9 .3 .9 7.2 .9-5.2 .9 10.8 .8 4.6 .9-1.2 .9-6.4 .9-4.1 .9-1.6 .9-3.6 .9 5.4 .9 5.3 .9-.9 .9 .1 .9-14.5 .9-7.7 .9-1.4 .9-1.5 .9-1.4 .8-3.4 .9-1.3 .9 4 .9 5.2 .9-.2 .9 10.5 .9 3 .9-6.7 .9 3.8 .9-3.8 .9 .2 .9-.4 .9 4.7 .9 3.4 .8 1.6 .9-8.9 .9-2 .9 2.3 .9 4.9 .9 7.4 .9 1.4 .9-1 .9-6.4 .9-.6 .9 10.6 .9 7.4 .9 1.7 .9-5.5 .8-3 .9-10.2 .9-6.1 .9-2.8 .9-4.8 .9-.1 .9 5.6 .9 2.4 .9 1.8 .9-8 .9 1.5 .9-4 .9-2.9 .9-5.6 .8 5.1 .9 12.1 .9 2.6 .9 .3 .9-5.5 .9-12.1 .9-12 .9-5.5 .9 1.1 .9 9.9 .9 9.1 .9 6.5 .9 1.8 .9 1.6 .8 1.7 .9 9.1 .9 .9 .9-.2 .9 5.5 .9 2.2 .9-5 .9-.1 .9-2.6 .9 7.4 .9-7.8 .9-4.8 .9-.9 .9 7.2 .9-1.5 .8-5.2 .9 1.9 .9 2.7 .9-3 .9 0 .9 5.9 .9 .2 .9-4.9 .9-7.7 .9-10.6 .9-7.5 .9-.7 .9 1.7 .9-.3 .8 7.5 .9 2.6 .9 4.5 .9-6.1 .9 1.7 .9-.3 .9 9.2 .9 4.2 .9 1.7 .9 1.5 .9 1.3 .9 2.4 .9 4.3 .9 .4 .8-9 .9-5.4 .9-6.1 .9 2.2 .9-1.6 .9 14.2 .9 14.3 .9-1.3 .9-5.2 .9-3.3 .9-12.5 .9 1.8 .9-.9 .9-5.8 .8-2.6 .9-2 .9-3.3 .9 .9 .9-6.1 .9 2.9 .9-9.4 .9-10 .9 5.1 .9 8.4 .9 11.6 .9 15.1 .9 8.7 .9 7.2 .9-7 .8-9.9 .9 1.4 .9 6.9 .9 .3 .9-2.3 .9-8.2 .9-7.1 .9-7.1 .9 3.2 .9-2.1 .9 6.1 .9 4.9 .9-4.4 .9-3.7 .8-4.3 .9 1.3 .9 1.7 .9 3.5 .9 3.4 .9 .7 .9 5.7 .9 3.2 .9-1.8 .9 .6 .9-6 .9-4.2 .9 1.4 .9 8.6 .8 18.5 .9 1.5 .9-3.6 .9-6.9 .9-17 .9-9.6 .9-1.8 .9 .9 .9 1.5 .9 2 .9-2.9 .9-8 .9-6.2 .9 7.5 .8 8.6 .9 1.2 .9 9.1 .9 5.2 .9 4.2 .9 3.9 .9 4.5 .9 1.6" fill="none" stroke="#1e1e1e" stroke-width="0.65" stroke-linejoin="round"/>
<path d="M160.5 1616.7l.9-4.4 .9 1.6 .9-4.9 .9 4.9 .9 2 .9 8.1 .9 3.4 .8 .3 .9 .5 .9 2.4 .9-2.2 .9-13.1 .9-6.3 .9-5.6 .9-7.3 .9 4.5 .9-1.3 .9 1.7 .9 5.9 .9 5.8 .9-.4 .8-6.9 .9-.7 .9-5 .9 .4 .9-.8 .9-.5 .9 .6 .9 1.4 .9 1.7 .9 3.3 .9 9.5 .9 9.8 .9 5.2 .9 3.1 .8 2.6 .9-8.2 .9-4.4 .9-11.8 .9 2 .9 4.9 .9-.5 .9 4.2 .9 1.4 .9 3.3 .9-5 .9 3.1 .9-4.7 .9-2.8 .8-3.5 .9 .2 .9-8.1 .9 2.4 .9-5.9 .9-2.8 .9-.6 .9 6.8 .9-3.1 .9 4.2 .9-1.7 .9 0 .9-9.9 .9 0 .9-3.8 .8-4.2 .9 4.8 .9 2.6 .9 5.2 .9 5.8 .9 8.4 .9-.5 .9 .3 .9 1.9 .9 3.6 .9-1.3 .9-5.3 .9-1.3 .9 2.7 .8 4.5 .9-3.5 .9-.3 .9 2.4 .9 2.4 .9 5.4 .9 2.9 .9-.4 .9-7.4 .9-6.6 .9-4.4 .9-7.1 .9-10 .9 3.7 .8 1.2 .9 6.2 .9-3.6 .9 8.2 .9-.9 .9 1.5 .9 3.9 .9-3.3 .9-.4 .9-.7 .9 1.6 .9 .7 .9 1.8 .9 6.4 .8-.3 .9 6.4 .9 6 .9 1.1 .9 2 .9-1.5 .9-2.9 .9-11.9 .9-10.1 .9-3.9 .9-9.7 .9 .5 .9 4.2 .9 5.4 .9 .2 .8 2.5 .9-.8 .9-10 .9 .3 .9 2.4 .9 4.7 .9 1.9 .9 4.4 .9 4.6 .9 9.8 .9-1.1 .9 5.2 .9-6.3 .9 5.3 .8-1.9 .9-1.1 .9-1 .9-8.5 .9-7 .9-7.7 .9-6.5 .9 3.5 .9-5.2 .9 5.8 .9 10.3 .9 4.3 .9 11.5 .9 9.3 .8-6.4 .9-2 .9-5.6 .9-2.3 .9-1.9 .9 2.5 .9-.5 .9-1.3 .9 1.1 .9-3.8 .9 .9 .9-.8 .9-2.3 .9-5.6 .8-4.6 .9-2.6 .9-4.2 .9 1.1 .9-.2 .9 5.6 .9 9.1 .9 8.9 .9 13.3 .9 12 .9-1.5 .9-7.7 .9-4.4 .9-10.6 .8-9.7 .9-15.7 .9-3.3 .9 6.5 .9 5.4 .9 4.1 .9 4.1 .9 3.8 .9 6.7 .9 2.4 .9-6.4 .9 .7 .9-4.2 .9 .1 .9-1.6 .8-.8 .9 2.5 .9-1.2 .9 2.9 .9 5.3 .9 1 .9-6.7 .9-.5 .9-12.3 .9-12.4 .9-10.4 .9-3.7 .9 9.7 .9 6.7 .8 14.8 .9 9.8 .9 10.3 .9 3.3 .9 4.4 .9-4.1 .9-7 .9-7.3 .9-8 .9-9.1 .9 2.5 .9-2.7 .9 4.9 .9-2.6 .8-.7 .9 7.2 .9 2.4 .9-.7 .9 3.5 .9-2.5 .9-3.9 .9 1.6 .9 2.3 .9 1 .9 6.2 .9 3 .9 13.6 .9 6.3 .8 .7 .9-9.7 .9-7.8 .9-8.9 .9-7.8 .9-5.9 .9-3.1 .9-4.6 .9-.2 .9-.5 .9 2.9 .9 3.4 .9 5 .9-.5 .9 2.5 .8 4.8 .9 10.3 .9-5 .9-6.4 .9-.6 .9 6.4 .9 1.6 .9-4.5 .9 9.9 .9 9.5 .9-.8 .9-7 .9-5 .9-3.6 .8-2.8 .9-11 .9 .4 .9-6.9 .9-1.6 .9 3.8 .9 4.7 .9 4 .9 3.6 .9 4.4 .9 3.4 .9 1.9 .9-7.1 .9-4.6 .8 2.3 .9-1.2 .9 2.7 .9 1.9 .9 .5 .9 5.1 .9 5.1 .9 4.1 .9 .4 .9 1.7 .9-7.8 .9 .1 .9-8.7 .9-5.4 .8-2.5 .9 6.8 .9-5.1 .9 4.9 .9 5.3 .9-5.6 .9-3.4 .9 2.3" fill="none" stroke="#1e1e1e" stroke-width="0.65" stroke-linejoin="round"/>
<path d="M160.5 1620.7l.9-4.4 .9 7.8 .9 7.8 .9 2.5 .9-4.7 .9-.9 .9 .1 .8 6.7 .9 7.3 .9 11.2 .9 2.4 .9-7.4 .9-9.3 .9-3 .9-7.5 .9 6.7 .9-1.8 .9 .4 .9-5.5 .9-3 .9 3 .8 2.9 .9 2.6 .9 10.1 .9 5.5 .9 2.5 .9-2 .9-.4 .9 .9 .9-8.4 .9 .6 .9 1.5 .9-10.1 .9-1.6 .9-8.6 .8-7 .9 4 .9 5.6 .9 .8 .9 13.6 .9 6.6 .9 1.5 .9-.4 .9-6.5 .9 2.4 .9 7 .9-7.6 .9-4.1 .9-4.9 .8-12.9 .9-4.2 .9 1.1 .9 9.4 .9 6.1 .9-1.4 .9 0 .9 .3 .9 4.2 .9 .9 .9 7.8 .9 4.9 .9 1.6 .9-6.2 .9-7.7 .8-8.7 .9-.5 .9 1.4 .9 3.6 .9 .1 .9-2.8 .9-12.2 .9-7.1 .9 2.7 .9 6.3 .9 10 .9 12.6 .9-1.3 .9-.7 .8-5.7 .9-.9 .9 10.3 .9 8.5 .9-2.2 .9-1.2 .9-6.3 .9-12 .9-8 .9-2.7 .9 5.5 .9-1.2 .9 11.9 .9-5.6 .8-.1 .9-6.1 .9 .3 .9 3 .9 3.6 .9 13 .9 12.1 .9-.8 .9 .4 .9-9.1 .9-4.6 .9-3.4 .9 6.2 .9 2.1 .8 4.4 .9-10 .9-10.3 .9-12.5 .9-8.3 .9 6.1 .9 6.9 .9 8.7 .9-2.1 .9-15.5 .9-.8 .9-3.1 .9 4 .9 9.6 .9 14.4 .8 4.2 .9-4.1 .9-8.1 .9 .3 .9 5.9 .9 4.7 .9 6.8 .9 6.3 .9-5.5 .9-7.1 .9-6.9 .9 3.2 .9-1 .9 3.2 .8 4.3 .9-5.6 .9-4.7 .9-6.4 .9-4.5 .9-7.3 .9 2.7 .9 9.3 .9-2.9 .9 2 .9-5.7 .9-1.4 .9-1.6 .9 2.7 .8 8.7 .9 7.1 .9 2.3 .9 .5 .9-4 .9-6.6 .9 4.3 .9-.8 .9 7.6 .9 5.4 .9 6.7 .9-3.6 .9-7 .9-2.5 .8 1.2 .9 1.1 .9-.7 .9-.3 .9 .7 .9-9.5 .9-3.8 .9-1 .9-3.5 .9 3.5 .9 2.1 .9-1.7 .9 4.1 .9-13 .8-6.9 .9 11.4 .9 6.7 .9-3.1 .9-7.1 .9-2 .9-.8 .9 6.7 .9 7.5 .9 2.3 .9 7.8 .9-4.4 .9 0 .9 3.6 .9 5.4 .8-3.1 .9 3.9 .9 5.4 .9-2.7 .9 .9 .9-7.9 .9 3.2 .9-2.1 .9-4.3 .9-7.3 .9 2.3 .9-6.7 .9 .8 .9 .2 .8 6.6 .9-5.5 .9-4.2 .9-3 .9-1.4 .9 5.7 .9 7.3 .9-2 .9 6.2 .9-8.7 .9 6.4 .9 9.2 .9-3.4 .9 2.6 .8 3.1 .9 .7 .9-.2 .9 3.4 .9-6.9 .9-5.2 .9-1.6 .9-1.1 .9-5.1 .9-4.4 .9 .8 .9 1.8 .9-3.9 .9-1 .8-9.9 .9-6.3 .9 2.9 .9 5.9 .9 8.1 .9 10.4 .9-4.6 .9-2 .9 7.5 .9 4.8 .9 3.2 .9 4.3 .9 4.1 .9-3.9 .9-6.9 .8-10.4 .9-5.3 .9 .5 .9 4.8 .9-1.1 .9-1.7 .9-8.8 .9-1 .9 3.7 .9 1.9 .9 9.5 .9 7.6 .9 5.3 .9-1.8 .8-6.7 .9 4.9 .9-4.4 .9 5.5 .9 1 .9-6.9 .9 .3 .9-5.6 .9-5.7 .9-10.5 .9-3.1 .9 2.8 .9 3.9 .9 3.1 .8 7.7 .9 .1 .9-1.3 .9 1.3 .9 8.5 .9 0 .9 7.1 .9-2.7 .9-3.5 .9-6.9 .9-3.3 .9-13.6 .9 5.8 .9 3.5 .8 2.5 .9-1.5 .9 3.2 .9-9.1 .9 5.4 .9 7.3 .9 3.1 .9 12" fill="none" stroke="#1e1e1e" stroke-width="0.65" stroke-linejoin="round"/>
<path d="M160.5 1681.3l.9-4.7 .9-4.9 .9-2.9 .9-.3 .9-1.5 .9 4.4 .9 9.7 .8 8.2 .9-.8 .9 6.9 .9-3.2 .9-7.5 .9-7.2 .9 7.9 .9 4.1 .9 3.9 .9 3.1 .9-.9 .9-3.7 .9-2.6 .9-10.6 .8-5.1 .9 1.6 .9-2.9 .9-6.6 .9-1.8 .9-3 .9 2.5 .9 3.1 .9 7.7 .9 7.5 .9 9.6 .9 10.3 .9 2.3 .9 3.5 .8-11.7 .9-10.3 .9-17 .9-2.8 .9 .2 .9-2.5 .9 1.6 .9 9.2 .9 12.2 .9 6.8 .9 6.7 .9-6.2 .9 4.2 .9-4.7 .8-2.8 .9-.6 .9-6.2 .9-3.9 .9-6.7 .9 .4 .9 .2 .9-3 .9-3.8 .9-2.3 .9 10.7 .9 9.2 .9 8.8 .9-.7 .9 1.1 .8-7.9 .9 0 .9 1.9 .9 1.7 .9 2.9 .9 1 .9-9.4 .9-5.9 .9-11.5 .9 1.4 .9 1.3 .9 6.2 .9 8.4 .9 12.7 .8 8.7 .9-4.2 .9 0 .9-6.6 .9-12.4 .9-5.4 .9-3 .9-8.1 .9 .4 .9 .6 .9-.2 .9 3.9 .9 4.2 .9 7.3 .8 10.5 .9 5 .9 6.2 .9-2.5 .9-7.3 .9-3.8 .9-11.2 .9-8 .9-4.8 .9-.3 .9 10.1 .9 3.4 .9 4 .9 2.5 .8 6.6 .9 4.8 .9-3.4 .9-5.2 .9-3.4 .9-1.6 .9-.4 .9 2.7 .9-1.3 .9 4.2 .9-6.5 .9-5.1 .9 .6 .9-11.9 .9 5.3 .8 .8 .9 2.8 .9-4 .9 0 .9 .6 .9 8.9 .9 2.4 .9 11.2 .9 3 .9 8.1 .9-2.8 .9-7.4 .9-2.8 .9-14.6 .8-9 .9 2.7 .9 2.3 .9 2.9 .9-.4 .9-2.4 .9 5.5 .9 4.6 .9 2.5 .9 10 .9-3.9 .9 1.4 .9 2.5 .9-2.5 .8 3.7 .9 .2 .9-9.3 .9-3.2 .9-4.3 .9-.2 .9-.3 .9-2.3 .9-5 .9-2.1 .9-10.8 .9 .9 .9 3.1 .9 1.4 .8 8.7 .9 5.1 .9 4.1 .9 4.4 .9 4.9 .9-5.9 .9-3 .9-1.4 .9 1.4 .9 1.7 .9 8.1 .9-.6 .9 .5 .9-1.1 .8-4.1 .9-3 .9 1.4 .9-12.5 .9 2.6 .9-6.5 .9 2 .9-3.9 .9-.9 .9 2.8 .9-2.3 .9 5 .9 8.9 .9 12.3 .9 0 .8 2.5 .9-6.8 .9-.8 .9-11 .9 1.2 .9-1.3 .9 6.4 .9 5 .9 4.1 .9 6.1 .9-3.3 .9 3 .9-3.1 .9-9.3 .8-3.2 .9 1.7 .9-1.4 .9-5.6 .9-3.7 .9-7.8 .9 2.5 .9-2 .9 4.3 .9 1.9 .9 1.4 .9 .5 .9-9.7 .9 1.9 .8-2 .9-.7 .9-4.6 .9 8.4 .9 11.2 .9 5.1 .9 10.4 .9-3 .9 2.9 .9-3.7 .9-5.3 .9 4.2 .9 1.3 .9 .3 .8 6.1 .9-1.1 .9 3.1 .9-4.1 .9-10.9 .9-9 .9-3.5 .9-3.2 .9 1.2 .9-2.1 .9 .2 .9 5.5 .9 .4 .9 2.4 .9 .4 .8 4.4 .9 5.2 .9 1.4 .9-.4 .9-.2 .9-3.3 .9-.1 .9-5.3 .9-3.2 .9 10.5 .9-1.3 .9 10.6 .9 5.6 .9 3.1 .8-8.5 .9-5.8 .9-9.5 .9-4.9 .9-6 .9-5.5 .9 .5 .9-2.4 .9 1.6 .9 1.6 .9 1.1 .9 5.9 .9 2.2 .9 10.6 .8 7.5 .9 5 .9 3.2 .9-6.8 .9-4.8 .9-5.2 .9-5 .9 3.5 .9 1.9 .9 2.3 .9-3.2 .9-3.8 .9-.9 .9 .6 .8-7.1 .9-9.7 .9 4.4 .9 4.9 .9 3.2 .9 10.5 .9 7.3 .9-2.3" fill="none" stroke="#1e1e1e" stroke-width="0.65" stroke-linejoin="round"/>
<path d="M160.5 1711.2l.9-4.9 .9-3.8 .9-6.5 .9-3.3 .9-3.5 .9 4.7 .9 .2 .8-3.5 .9-3.4 .9 1.6 .9 6.1 .9 6.4 .9 9.7 .9-4 .9-7.6 .9-3.3 .9 4.1 .9 1.4 .9 5.3 .9 3.1 .9 2.9 .8 2.6 .9 1.3 .9-2.5 .9-5.5 .9-11.4 .9 11.7 .9 1.5 .9 .1 .9-2 .9-3.7 .9-6.7 .9-5.7 .9-1.5 .9-3 .8-6.7 .9-7.4 .9-4.4 .9 6 .9 6.3 .9 14 .9 13.8 .9 9.3 .9 1 .9-3.3 .9-1 .9 3.6 .9-2.6 .9 3.8 .8-9.1 .9 1.5 .9-9.5 .9-2.3 .9-2.6 .9-7.5 .9-3.6 .9-.2 .9 .2 .9 5 .9 6.2 .9 1.7 .9 1.7 .9 5.7 .9 10.5 .8 .4 .9-5.3 .9-5.6 .9 3.8 .9 2.4 .9 6.5 .9 4.1 .9-11.1 .9-6.7 .9-7.8 .9-6.2 .9 .6 .9-2.2 .9-2.7 .8-2.7 .9-1.2 .9-.6 .9 5.3 .9 7.3 .9 3.9 .9 2 .9 4.3 .9 .1 .9 2.4 .9-.4 .9-1 .9-1.1 .9-1.6 .8 1.5 .9 2.4 .9-6.3 .9-1.6 .9-6.2 .9 1.6 .9 2.5 .9 3.6 .9-1.3 .9-.8 .9 3 .9-.6 .9-5.3 .9 2.5 .8-1.8 .9-3.4 .9 4.8 .9-1 .9 5.3 .9 11.1 .9 5.4 .9-2.8 .9-2 .9-3.9 .9-2.6 .9-3.8 .9-3.6 .9-1.7 .9 1.5 .8-1.6 .9-1.3 .9-12.1 .9-6.3 .9-8 .9-1.1 .9 10.4 .9 5.8 .9 3.8 .9 11.4 .9 2.3 .9 7.3 .9 9.9 .9 2.1 .8 2.4 .9-10.1 .9-13.1 .9-1.7 .9-2.7 .9 7.3 .9 2.4 .9-5.3 .9-4.8 .9-6.7 .9-5 .9-3.3 .9 5.7 .9-6.2 .8 2.9 .9 1.1 .9 4.9 .9-.7 .9 4.8 .9 9.8 .9 1.9 .9 .6 .9-1 .9-2.8 .9-3.2 .9 1.4 .9 3.4 .9 6 .8 5.6 .9-4.3 .9-3.4 .9-6.5 .9-4.1 .9 5.4 .9 1 .9 7.3 .9-1.6 .9 .4 .9-5.2 .9-.2 .9 1.8 .9-2.5 .8-3.8 .9-14.5 .9-4.4 .9-.5 .9-5.6 .9 5.7 .9 2.3 .9 3.9 .9 6.2 .9-1.7 .9-5 .9 1.7 .9 5.6 .9-3.1 .9 6.3 .8 4.6 .9 4.4 .9-3.9 .9-1 .9 .3 .9-4.5 .9 3.5 .9-.2 .9 7.2 .9-1.4 .9 4.9 .9-1.5 .9 11.6 .9 3.2 .8 2.5 .9-8.2 .9-9.2 .9-7.9 .9-1.5 .9-1.6 .9 2.7 .9-2.3 .9 2.2 .9-3.4 .9 2.9 .9-7.6 .9-1.7 .9 4.5 .8-4.4 .9 2.1 .9-4.2 .9 4 .9-.9 .9 .4 .9 0 .9-2.1 .9 2.9 .9 .1 .9-6.7 .9-1.5 .9 3.7 .9 7 .8 10.2 .9-2.3 .9-4.1 .9-4.6 .9-.8 .9 4 .9 4.7 .9 9.1 .9 4.3 .9-.6 .9 4.6 .9-.5 .9 2.1 .9-1.9 .9-5.7 .8-8.5 .9-5.8 .9-.6 .9-1.8 .9-1.4 .9 3.3 .9 8.7 .9 3.4 .9-2.9 .9-7.1 .9-8 .9-9.4 .9 6.6 .9 6 .8 2.8 .9-2.4 .9-7.3 .9-12.5 .9-2.9 .9-3.5 .9 3.3 .9 5.5 .9 6.4 .9-2.1 .9 4.7 .9 14.6 .9 4.9 .9 11.7 .8 1.7 .9-6 .9-4.8 .9-1.8 .9-1.7 .9-2.7 .9 .5 .9 2.6 .9-2.2 .9-2.9 .9-.3 .9-1.5 .9-6.9 .9 .8 .8-2.1 .9-.7 .9 2.2 .9 2 .9-8.2 .9 4.1 .9 2.4 .9 5.4" fill="none" stroke="#1e1e1e" stroke-width="0.65" stroke-linejoin="round"/>
<path d="M160.5 1743.5l.9-2.4 .9-3.3 .9-1.5 .9-8.7 .9-1.5 .9-7.5 .9 3.3 .8 2.2 .9-1.4 .9-11.9 .9 8.2 .9-2.1 .9-1.8 .9-3.3 .9 8.2 .9-2.7 .9 15.4 .9 .4 .9 8.3 .9 5.4 .9-5.4 .8 1.1 .9-8.5 .9-2.2 .9-.9 .9 2.4 .9 2.1 .9 .5 .9 10.3 .9 0 .9 3.9 .9-7.7 .9-9.9 .9-8.2 .9-11.5 .8-6.3 .9-2.7 .9 7 .9 .1 .9-1.4 .9 12.9 .9 1.7 .9 1.8 .9 1.1 .9 1 .9 .7 .9 5.2 .9 1.8 .9 4 .8 3.4 .9-1.3 .9-3.9 .9-2.4 .9-.9 .9-.2 .9-4 .9 1.6 .9 .1 .9-7.3 .9 2.4 .9-4.1 .9-6.5 .9 2.9 .9-4.2 .8-1.7 .9 2 .9 10.8 .9 9 .9 8.3 .9 5.9 .9 5.5 .9-4.2 .9-6.7 .9-3.8 .9-.7 .9-15 .9-11.1 .9 .3 .8-5.2 .9 10 .9 .6 .9-.6 .9 5.3 .9 .2 .9 1.2 .9 .1 .9 .1 .9 4.4 .9 5.9 .9-6.6 .9-.1 .9-2.2 .8 7.3 .9-1.2 .9 4.7 .9-.1 .9-3.9 .9-1.9 .9-5.5 .9 1.3 .9-10.3 .9-2.6 .9-4 .9-.1 .9 4.4 .9 7.3 .8 15.3 .9 5.2 .9 6.4 .9 4.3 .9 1.6 .9-3 .9-16.3 .9-5.3 .9-5.3 .9-9 .9-.6 .9-.1 .9-3.7 .9 .7 .9 1.2 .8 2.5 .9 8.4 .9 7.3 .9 4.3 .9 5.5 .9 1.9 .9-3.1 .9-2.4 .9-7.3 .9 0 .9-5.1 .9-1.6 .9 3.8 .9-2.1 .8 3.4 .9 6.4 .9-2.9 .9-1.8 .9-8.6 .9 .3 .9-3.1 .9-2.8 .9 1.8 .9 4.2 .9 11.1 .9 4 .9 9.4 .9 5.7 .8 1.8 .9 1.3 .9-12.2 .9-9.7 .9-10.9 .9-2.6 .9-1.4 .9 1 .9 5.9 .9-8.8 .9 .7 .9-4.5 .9-2.5 .9 0 .8 5.8 .9 6.9 .9 .3 .9 6.2 .9 3.6 .9-.3 .9 4.6 .9-9.2 .9-.6 .9-2.9 .9 .6 .9 6.4 .9 9.2 .9 2.8 .8 3.7 .9-4.3 .9-4.8 .9-8.2 .9-15.5 .9-8.8 .9-3 .9 2.8 .9 6 .9 4.8 .9 8.5 .9 4.2 .9 8.5 .9-3.5 .9 .5 .8-8.7 .9-11 .9 1.6 .9 1.6 .9 7.4 .9 8.5 .9 4.5 .9 1.5 .9 4.2 .9-1.4 .9-4 .9-2.3 .9-3.9 .9-5.9 .8 5.5 .9 1.2 .9-4.9 .9 4.6 .9-4.4 .9-7.7 .9-5.8 .9-6.9 .9-1.2 .9 5.9 .9 6 .9 5.7 .9 1.1 .9-5.1 .8-9.5 .9-4.5 .9-8.2 .9-2.1 .9 5.4 .9 6 .9 6.5 .9 12 .9 5.4 .9 11.6 .9 3 .9 1.3 .9-11.5 .9-.2 .8-5.2 .9 4.7 .9-2.4 .9 6.8 .9 4.6 .9-.8 .9 3.3 .9-2.6 .9-2.6 .9-1.7 .9-6.3 .9-2 .9-3.6 .9-1.2 .9 2.6 .8-1.5 .9-4.5 .9-7 .9 3.6 .9-5 .9-3 .9 3.5 .9 1.6 .9 2.8 .9 7.9 .9-4.2 .9 3.1 .9-.7 .9-9.1 .8-2.9 .9 .5 .9 6.6 .9 5.6 .9 7.1 .9 2 .9 5.3 .9 2.2 .9 6.2 .9-.4 .9 .8 .9-4.5 .9-6.1 .9-3.3 .8-1.8 .9-1 .9-1.2 .9 6.3 .9-6.9 .9-.4 .9-3.2 .9 .7 .9-6.6 .9-4.8 .9 1.4 .9-6.6 .9 .6 .9 1.5 .8-4.1 .9-2.3 .9-.4 .9 3.4 .9-1.8 .9 10.8 .9 11.3 .9-1.1" fill="none" stroke="#1e1e1e" stroke-width="0.65" stroke-linejoin="round"/>
<path d="M160.5 1772.4l.9-3.6 .9 3.7 .9 6.1 .9 7 .9-2.1 .9-11.5 .9-9 .8-1.9 .9 6.2 .9 7.2 .9-.1 .9-11.9 .9-11.3 .9 7.1 .9 4.7 .9 6.9 .9-5.2 .9-12.3 .9-9.3 .9 4.2 .9 13.3 .8 12.2 .9-2.8 .9-10 .9-5.7 .9 .2 .9 10.1 .9 7.7 .9 0 .9-7.3 .9 1 .9 1 .9 14.1 .9 11.5 .9-3.6 .8-9 .9-9.8 .9-1.7 .9 3.8 .9 10.1 .9 6.5 .9-7.3 .9-9.5 .9-5.1 .9-3.2 .9-1 .9-.7 .9-5.7 .9-4.7 .8-1.3 .9 2.7 .9 1.1 .9 6.4 .9-1.7 .9-.6 .9-7.7 .9 3.6 .9 .8 .9 8.9 .9 13.4 .9 .7 .9 2.6 .9-2.9 .9-2.5 .8 3.8 .9-.5 .9 1 .9-8.8 .9-6.9 .9 3.2 .9 2.3 .9 5.5 .9-3.2 .9-10.5 .9-11.7 .9-5.8 .9 9 .9 10.2 .8 1.8 .9-2.2 .9-3.2 .9 1.5 .9 9 .9 16.9 .9-1.5 .9-12.8 .9-6.9 .9 .2 .9 17.8 .9 7.1 .9 2.3 .9-16.5 .8-16.8 .9-8.8 .9 2.8 .9 14.6 .9-.7 .9-12.3 .9-13.7 .9 .2 .9 10.8 .9 18.5 .9 8.6 .9-7.2 .9-6.4 .9-.9 .8 4.4 .9 11.6 .9 8.7 .9-12.1 .9-10.6 .9-4.1 .9-6.6 .9 9 .9-1.9 .9-6.9 .9-4.3 .9-1.9 .9 10.2 .9 8.1 .9 13.9 .8-5.3 .9-1.2 .9-6.5 .9 3.8 .9 3.4 .9-2.4 .9-4 .9-2.3 .9 3.6 .9-4.5 .9-5.4 .9-1.7 .9-11.2 .9-3.8 .8-3.2 .9 5 .9 14.2 .9 9.8 .9 7.2 .9 3.1 .9-1 .9-5.8 .9-2.2 .9-1.7 .9-.5 .9-7.5 .9-5.6 .9-.6 .8 .3 .9 5 .9 7 .9-5.4 .9-4.1 .9-3 .9-4.9 .9 17 .9 13.2 .9 7 .9-6.3 .9-8.8 .9-10.7 .9-1.8 .8 11.2 .9 3 .9-11.6 .9-16.5 .9-6.9 .9 .9 .9 10.6 .9 17.6 .9-3 .9-7.9 .9-2.8 .9 11.9 .9 9.8 .9 13.3 .8-5.2 .9-9.8 .9-7.7 .9 .7 .9 4 .9-6.2 .9-8.3 .9-8.1 .9-.8 .9 7.1 .9 12.5 .9 3 .9-1 .9-3.7 .9 0 .8 10.1 .9 6.8 .9-1.7 .9-7.9 .9-1.4 .9-2 .9 1.3 .9 7.3 .9-7.3 .9-9.8 .9-14.4 .9-6.4 .9 5.6 .9 3.6 .8 8 .9-6.4 .9 8.5 .9 3.3 .9 3.6 .9 5.3 .9 4.3 .9-.5 .9-5.8 .9-5 .9 6.6 .9 2.3 .9 4.3 .9-1 .8-4.7 .9-6.9 .9-7.9 .9-3 .9-2 .9 8.3 .9 .3 .9 1.3 .9-1.3 .9-7.3 .9-2.4 .9 3.3 .9 11.1 .9 10.2 .8-3 .9-3.2 .9 1.5 .9 10.9 .9 4.9 .9-3.2 .9-8.5 .9-2.9 .9-2.8 .9 .3 .9 3.7 .9 2.4 .9-5.5 .9-3.6 .9-9.3 .8 2.1 .9-8.2 .9-.7 .9-7.2 .9-.2 .9-4.1 .9 9.1 .9 2.6 .9 2.6 .9-7.3 .9 4.6 .9 4.8 .9 5.3 .9 2.2 .8 3.9 .9-6.4 .9 8.2 .9 7.9 .9 4.5 .9 1.4 .9-6.8 .9-2.7 .9-5.2 .9 4.5 .9 8.3 .9 .1 .9-4.5 .9-13 .8-1.1 .9 5.3 .9-1.2 .9-1.5 .9-7.7 .9-1.9 .9 6 .9-4.8 .9 3.6 .9 6.1 .9-2.8 .9-2.2 .9-6.2 .9 4.7 .8 .4 .9-5.4 .9 4.6 .9 3.8 .9 2.2 .9 4.8 .9 5.5 .9-7.2" fill="none" stroke="#1e1e1e" stroke-width="0.65" stroke-linejoin="round"/>
<path d="M160.5 1793l.9-5.4 .9-6.6 .9 2.8 .9 8.5 .9 9.5 .9 6 .9-.8 .8-3.7 .9-6.7 .9-4 .9-6.6 .9-1.8 .9 3.2 .9 4.3 .9 3.4 .9-.7 .9-6.6 .9-3.2 .9 8.3 .9 5.7 .9 14.6 .8 1.7 .9-1.4 .9-9.9 .9-11.6 .9 2.4 .9 1.3 .9-6.4 .9 3.9 .9-7.9 .9-2 .9-3.7 .9-1.2 .9 2.8 .9 4.7 .8 10.9 .9 17.2 .9 5.8 .9-8.8 .9-6.8 .9-7.8 .9-2.4 .9-1.7 .9 1 .9 3.7 .9-11.6 .9 3.4 .9-6.3 .9-.7 .8 2.1 .9 9.8 .9 8.7 .9 7.1 .9 3.8 .9-12.1 .9-1.8 .9 3.1 .9-5 .9 10.5 .9-4.9 .9 1.8 .9-15.7 .9-1.1 .9-4.2 .8-6.9 .9 3.8 .9-2.8 .9-.5 .9 7 .9 3.5 .9-.5 .9 1.9 .9 6.5 .9 9.3 .9 5.5 .9 .4 .9-9.6 .9-7.4 .8 .3 .9-2 .9 3.2 .9 .6 .9 1.4 .9-3 .9-7.9 .9-5.6 .9-6.5 .9-3.8 .9 7.2 .9 9.7 .9 12.8 .9-6.3 .8-8.3 .9-4.1 .9 6.8 .9 8.5 .9 9.3 .9-.4 .9-7.1 .9-2.7 .9 1.3 .9-5.2 .9 7.2 .9 1.2 .9 .5 .9 2.5 .8-2.6 .9-11.1 .9-10.3 .9-8.9 .9 6 .9 6.4 .9 3.7 .9 1.5 .9-5 .9-7.5 .9-4.6 .9 4.6 .9 .8 .9 4.6 .9 16.5 .8 3.9 .9 .2 .9-7.3 .9 2.6 .9 1.8 .9 11.1 .9 4 .9 1.6 .9-6.3 .9-11.7 .9-1.5 .9-2.8 .9 5 .9 4.4 .8 1.4 .9-3.6 .9-8.2 .9-.5 .9-14.7 .9 2.9 .9 3.8 .9 5.4 .9 1.5 .9-.2 .9-7.4 .9-4.9 .9 2.1 .9 12.3 .8 5.5 .9 .2 .9-3.9 .9-4.8 .9-.3 .9 7.5 .9 5.7 .9 3.5 .9 7.1 .9-1.6 .9-.3 .9-7.3 .9-3.2 .9-9.2 .8 5.7 .9 10.5 .9 3 .9-8.7 .9-11.9 .9-10 .9-1.5 .9 3.7 .9-1.5 .9-.5 .9 1.9 .9-2.7 .9-5 .9-6.4 .8 2.9 .9 3 .9 14.6 .9 10.5 .9 6 .9-5.3 .9-7.1 .9-4.7 .9 7.3 .9 6.6 .9 12.8 .9-1.5 .9 .7 .9-12 .9-8.7 .8-7.9 .9-3.5 .9 9.7 .9 .7 .9 2 .9-3.4 .9-4.1 .9-4.3 .9-3.2 .9 9 .9 10.8 .9 3.1 .9-5.5 .9-2.2 .8 .2 .9 2.1 .9 10.4 .9 2.9 .9-3.3 .9-2.5 .9-.6 .9-8.3 .9-8.1 .9-3.7 .9 2 .9 1.9 .9-.3 .9-8.7 .8 1.7 .9-6.9 .9 6.8 .9 6.2 .9 17.4 .9 6.4 .9-3.2 .9-4.5 .9-6.4 .9-2.7 .9-.3 .9 3 .9 5.7 .9-2.5 .8-3 .9-8.6 .9-3.1 .9-5.3 .9-2.7 .9 14.3 .9 11.5 .9 4 .9-.4 .9-2.1 .9-8.3 .9-2.5 .9 5.6 .9 5.7 .9-4.4 .8-1.2 .9-11.8 .9-9.7 .9-12.4 .9 4.4 .9 5.5 .9 9.8 .9 14.9 .9 4.4 .9-7.2 .9 4 .9-2.9 .9 2.7 .9-.3 .8-5.6 .9 .8 .9-7.3 .9-.9 .9-1.3 .9-5 .9 1.7 .9 13.7 .9 4.7 .9 4.6 .9-3.2 .9-7.1 .9-.7 .9 5.1 .8 6.3 .9-1.7 .9-5.2 .9-11 .9-3.5 .9-2.2 .9-5.2 .9-.9 .9 1.4 .9 8.3 .9 9 .9 7.4 .9-.2 .9 1.9 .8-.8 .9 6.5 .9-4.1 .9-12 .9-13.5 .9-3.6 .9 3.1 .9 1.3" fill="none" stroke="#1e1e1e" stroke-width="0.65" stroke-linejoin="round"/>
<path d="M160.5 1800.8l.9-8.4 .9 0 .9 5.2 .9 5.9 .9 7.1 .9 5 .9 7.8 .8 2.2 .9-.9 .9 2 .9 5.7 .9-11.5 .9-3.5 .9-1 .9 6.5 .9-5.4 .9 8.2 .9 9 .9-4.8 .9-5.3 .9-4.4 .8-1.7 .9-14.6 .9-4.1 .9-4.5 .9 4.8 .9 4.7 .9 3.7 .9 9.5 .9 11 .9 7.4 .9-4.3 .9-.5 .9-4.2 .9 3.7 .8-5.9 .9-5.6 .9-4.7 .9-6.6 .9 4.9 .9 4 .9-.1 .9 .8 .9-7.5 .9-5.7 .9-2.5 .9-.8 .9 .9 .9 4.5 .8 1.9 .9-6.8 .9 4.2 .9 12.3 .9 10.3 .9 4.1 .9 3.9 .9-5.1 .9-4.6 .9-2.8 .9-1.4 .9 .3 .9-7.1 .9-10.1 .9-7.2 .8 4.4 .9 6.6 .9-1.4 .9 1.5 .9 1.2 .9-.8 .9 4.3 .9 1.5 .9 3 .9-5.9 .9-3.9 .9 4.1 .9 5.1 .9 4.2 .8 5.3 .9 0 .9 3.1 .9-2 .9 2.1 .9-1.1 .9-7.1 .9-6 .9-7 .9-9.4 .9 1.9 .9-3.3 .9 3.3 .9 7.1 .8-1.3 .9 1.5 .9-.4 .9 1.9 .9-4.6 .9-6.1 .9 .9 .9 5.2 .9 5.4 .9 .9 .9 6.4 .9 11.7 .9 7.6 .9-3.5 .8-4.3 .9-.1 .9-2.4 .9 2.2 .9-5 .9-5.7 .9-4.5 .9-7.8 .9 2.1 .9 2.9 .9 5.7 .9-3.9 .9-2.4 .9-7.3 .9-2.8 .8 5.7 .9-4.9 .9 .7 .9-1.2 .9 2.5 .9 0 .9 8.4 .9 5.8 .9-4.3 .9-1.5 .9-3.2 .9 8.5 .9 4.9 .9 4.7 .8-5.5 .9 7.7 .9-4.4 .9 5.7 .9 5.4 .9-8.1 .9-.1 .9-1.7 .9-3.2 .9 .8 .9 2.3 .9 4 .9-6.9 .9-5.3 .8-7.1 .9 5.6 .9-.1 .9-1.4 .9-6.9 .9-.7 .9-4.2 .9 4.9 .9 5.8 .9-8.7 .9 2.8 .9-8.8 .9 2.4 .9 2.4 .8-8.4 .9 4.5 .9-5 .9-1.9 .9 5.1 .9 1.5 .9 3.8 .9 10.7 .9-3.1 .9 8.5 .9 3.8 .9-4.8 .9-1.5 .9 4.4 .8 1.4 .9 4.4 .9-4.4 .9 1.3 .9 3.3 .9 2.5 .9 1.2 .9 0 .9 0 .9-.1 .9-10.4 .9 4 .9-1.7 .9-2.4 .9-2.4 .8-5.4 .9-5.7 .9 6.7 .9 5.9 .9-4.1 .9 .3 .9-2.1 .9-8 .9 5.3 .9 5.1 .9-3.7 .9-7 .9-6.6 .9 .3 .8 9.8 .9 1.1 .9 1.7 .9-.2 .9-1.7 .9 5.1 .9 8.8 .9 5.1 .9-6.6 .9-3.5 .9-.7 .9 1.5 .9 3.8 .9 3.8 .8-.9 .9 1.4 .9-1.4 .9-2.3 .9 6.3 .9 5 .9-5.3 .9-1.4 .9-11.7 .9-10.9 .9-2.7 .9 2.9 .9 .3 .9-1.1 .8 3.7 .9 1.5 .9 2.5 .9-4.7 .9-5.8 .9-5.6 .9-6.9 .9 7.3 .9-5.9 .9 8.6 .9 3.6 .9 11.5 .9 6.6 .9 10.6 .9 3.2 .8 2.5 .9-1.2 .9-2.5 .9-6.6 .9-7.4 .9-10.2 .9 7.8 .9-3.6 .9 .9 .9 5.5 .9 2.4 .9 .5 .9-8.2 .9 2.3 .8-5.7 .9-8.6 .9-4 .9-6 .9-.1 .9 6.9 .9 14.6 .9 7.1 .9 7.5 .9-.5 .9 5.4 .9 3 .9-2.5 .9-9.1 .8-13 .9-7.3 .9-.4 .9 6.2 .9 9.4 .9 2 .9-8.2 .9-9.7 .9 4.9 .9 1.6 .9-3.3 .9-5.8 .9-6.1 .9-8.3 .8 11 .9 9.6 .9 10 .9 6.2 .9-3.3 .9 3.9 .9 9.4 .9-2.7" fill="none" stroke="#1e1e1e" stroke-width="0.65" stroke-linejoin="round"/>
<path d="M160.5 1855.2l.9-7.3 .9-8.8 .9-4 .9 9.6 .9 14.2 .9 2.9 .9 2 .8-1.4 .9 5.9 .9 2.8 .9-.5 .9-6.2 .9-8.7 .9-11.3 .9 2.6 .9 6.6 .9-2.9 .9 4.9 .9-10 .9-5.3 .9 10 .8 7.5 .9 10.4 .9 2.6 .9-.7 .9-5.3 .9-.6 .9 4.9 .9-1.6 .9 3 .9 3.6 .9-5.2 .9 .5 .9-1.5 .9-12.6 .8-10.1 .9-2.9 .9 2.1 .9-.6 .9 8 .9-3.5 .9-6.2 .9 1.6 .9 4.5 .9 7.8 .9 5.5 .9 9.8 .9 .8 .9-1.3 .8-4.5 .9-1.7 .9-.6 .9-7.2 .9 7.2 .9 2.6 .9-1.9 .9 .6 .9-10 .9-13.3 .9-1.1 .9-5.9 .9 8.8 .9 7.4 .9 1.7 .8 5.1 .9-4.1 .9 2.6 .9-8.5 .9 5.9 .9 1.4 .9 3.8 .9 1.3 .9 7.9 .9 10.1 .9-3.7 .9-8.4 .9-6.5 .9-3.3 .8 9.5 .9 4.3 .9 .3 .9-6.7 .9-3.2 .9-17.1 .9-5.7 .9 4.2 .9 4.6 .9 8.6 .9 2.6 .9-4.8 .9-4.3 .9-6.8 .8-9.4 .9-7.9 .9 2.4 .9 9.5 .9 11.8 .9 12.6 .9 4.6 .9-4.2 .9-8 .9-.7 .9 6.2 .9 5.3 .9-1.4 .9 7 .8-5 .9 .9 .9 .3 .9-.2 .9-.9 .9-5.7 .9 5.1 .9 1.8 .9 6.1 .9-7.3 .9-8.3 .9-7.4 .9-4.3 .9 6.8 .9 5.6 .8 1.1 .9-4.3 .9-8.6 .9-1.8 .9 1 .9 2.2 .9 .5 .9 1.2 .9 5.6 .9 5.5 .9 .8 .9-3 .9-7.3 .9-1.6 .8-1.6 .9 7 .9 14.9 .9 1.9 .9-9 .9 .3 .9 1.8 .9-2.2 .9 7.6 .9 4.4 .9 1.2 .9-9.7 .9 2.3 .9 .4 .8-9 .9 .4 .9-1.5 .9-2.4 .9 8.1 .9 5 .9 1.5 .9-11.8 .9-6.6 .9-6.9 .9-.8 .9 6.4 .9 .6 .9 3.9 .8-6.6 .9-3.7 .9-3.3 .9 1.7 .9-14.6 .9 6.5 .9-.2 .9 10.2 .9 .3 .9 7.9 .9 9.5 .9-5.4 .9 .8 .9 5.3 .8 8 .9 2 .9-3.6 .9-9.2 .9 .6 .9 2.3 .9-.4 .9 5.8 .9-5.9 .9-1.7 .9-.3 .9 .6 .9-6.5 .9-2.5 .9-2.9 .8-3.5 .9 4.8 .9-2.7 .9 7.5 .9-1.8 .9 5 .9-8.9 .9-1.7 .9 10.9 .9 6.6 .9 6.5 .9-2 .9-.6 .9-5.6 .8 .5 .9 1.5 .9 1 .9-.3 .9-1.7 .9-6.1 .9 .2 .9-2.1 .9-6.1 .9-6 .9-4.2 .9 5.2 .9 1.8 .9 1.8 .8 5.1 .9 .3 .9-2.6 .9-6 .9 8 .9 6.2 .9 2.1 .9 5.9 .9 7 .9-7.8 .9 2.8 .9-3.5 .9-8.9 .9-3.4 .8-.2 .9 1 .9 1.6 .9-.6 .9-5.3 .9-7.7 .9 .7 .9 10 .9 3.4 .9 4.4 .9 4.3 .9-1.9 .9 2.5 .9-1.3 .9 .2 .8 .4 .9 .2 .9-4.3 .9-.8 .9-1.3 .9 2.3 .9-9.1 .9-8.8 .9-9.8 .9 2.2 .9 1.2 .9 0 .9 13 .9 1.9 .8 5.6 .9 7 .9 3.2 .9-4.9 .9-1.8 .9-1.6 .9 5.9 .9 3.5 .9-5 .9-7.5 .9-7 .9-1.3 .9 1.1 .9-1.6 .8-.9 .9 3.2 .9 2.5 .9-2.3 .9 .6 .9 10 .9 5.2 .9 .9 .9-1 .9 3.4 .9 3.7 .9-1.8 .9-4.9 .9-10 .8-9 .9-7.9 .9 .9 .9 4.1 .9 .4 .9-1.7 .9-.1 .9-1.9" fill="none" stroke="#1e1e1e" stroke-width="0.65" stroke-linejoin="round"/>
<path d="M160.5 1891.9l.9-3 .9 .7 .9-.9 .9-2.7 .9-9.5 .9-11.3 .9 0 .8-1.9 .9 4 .9-5.8 .9 12.6 .9 2.9 .9 7 .9 5.8 .9 1.3 .9 8.9 .9-1.9 .9 4.9 .9-.4 .9-2.4 .9-4.8 .8-8.3 .9 1.6 .9-9.8 .9-5.1 .9-1.4 .9-.3 .9 5.4 .9 .3 .9 2.2 .9-5.5 .9-2.1 .9-1.1 .9 .5 .9 4.5 .8 4.7 .9 10.4 .9 3.1 .9 3.8 .9-11.3 .9-5.4 .9 1.6 .9-2.2 .9-6.9 .9 6.3 .9-4.1 .9-1.7 .9 .7 .9-2.2 .8-4.5 .9-2 .9 10.4 .9 8.4 .9 6.4 .9 6.8 .9-.7 .9-2.3 .9-4.9 .9-9.4 .9-3.2 .9-1.5 .9 .7 .9 1.6 .9 .7 .8 1.3 .9-2 .9-2.6 .9-3.5 .9 4.4 .9-1.3 .9 3.4 .9 5.7 .9-1.4 .9 4.7 .9-4.5 .9-1.7 .9 2.2 .9-2.5 .8-1.9 .9-.4 .9 4.4 .9-4 .9 7.1 .9-2.8 .9 3.7 .9-2.4 .9 1.2 .9-3.1 .9-3.8 .9-.3 .9-1.5 .9 .2 .8 1.9 .9 2.6 .9 4.7 .9 3.3 .9 1.6 .9-1.3 .9-.7 .9-10.3 .9-8.6 .9 3.4 .9 .5 .9-.2 .9 3.1 .9 .9 .8 2.4 .9-2.1 .9-1.5 .9 3.8 .9 5.5 .9 2.3 .9 9.2 .9-4.3 .9-7.7 .9-4.4 .9-8.7 .9-2.8 .9 1.6 .9 5.9 .9 2.5 .8-.4 .9 12.2 .9-3.6 .9 .8 .9 .1 .9-9.9 .9-1.3 .9 9.3 .9 7.9 .9 3.6 .9-5.1 .9-4.7 .9-4.4 .9-2.9 .8-3.6 .9-2.6 .9-2.5 .9-.9 .9-5.1 .9 2.9 .9-1.8 .9 2.7 .9 8.7 .9 1.6 .9 9.6 .9 7.6 .9 2.6 .9 1.3 .8 6.8 .9-8.6 .9-.1 .9-8.5 .9-11.9 .9 .8 .9-6.6 .9-4.8 .9-1.6 .9-1.3 .9 1.7 .9 .2 .9 7.5 .9 2.5 .8 10.4 .9 10.6 .9-4.7 .9 5.5 .9-5.3 .9-4.1 .9 3.3 .9-3.4 .9-2.4 .9-.8 .9-6 .9 2.8 .9-2.7 .9-.3 .8-2.9 .9 3.7 .9 1.3 .9-4.9 .9-.4 .9-6.8 .9-7.7 .9-.3 .9 .7 .9-1.9 .9 3.1 .9 6.3 .9 3.8 .9 5.2 .9 1.7 .8 .6 .9 .4 .9-6.5 .9 4.4 .9 2.6 .9 3.1 .9 9.4 .9 2.1 .9-4.6 .9-1.9 .9-4.7 .9-2.6 .9 4.8 .9 9.4 .8-5.3 .9-.5 .9-8 .9-6.3 .9-8.7 .9-6.5 .9-1.9 .9 2.6 .9 4.1 .9 4.5 .9-.6 .9 3 .9-.9 .9 3.4 .8 1.5 .9 0 .9 2.8 .9-1 .9 10.1 .9-.3 .9-5.2 .9 2 .9-5.4 .9 3.7 .9 4.1 .9 2.1 .9 2.9 .9 2 .8 .6 .9 .8 .9-3.2 .9-1.7 .9-.6 .9-4.5 .9-1.5 .9-.2 .9-2.2 .9-5.2 .9-3.3 .9-5.8 .9-6.5 .9 6 .9-1.5 .8-4.6 .9-1.7 .9-3.4 .9 4 .9-1 .9 8.5 .9 2.4 .9 8.1 .9 13.3 .9 .3 .9-5.7 .9 1.5 .9-7 .9-2.7 .8 2.9 .9 7.3 .9 2.1 .9 .9 .9 .5 .9-1.9 .9-6.4 .9 1.9 .9 4.3 .9-.1 .9 1.8 .9-3.6 .9-1.1 .9-6.8 .8-16.1 .9-2.2 .9-3 .9 6 .9 3.4 .9 6.2 .9 8.5 .9 6.4 .9 3.6 .9 .5 .9-1.2 .9-1.7 .9 6.1 .9-1.2 .8-3.6 .9-4.5 .9-3.1 .9-12.7 .9-3.2 .9-2.7 .9-1.1 .9 7.2" fill="none" stroke="#1e1e1e" stroke-width="0.65" stroke-linejoin="round"/>
<path d="M160.5 1909.9l.9 5.1 .9 .2 .9 2.4 .9-4 .9-1.9 .9-1.8 .9-2.1 .8-4.9 .9 5 .9-4.4 .9-4.6 .9-1.6 .9-3.7 .9 .7 .9-2.3 .9 10 .9 7.4 .9-.3 .9 3.3 .9-4 .9 6.9 .8 3.4 .9 4.6 .9 .3 .9-4.7 .9-2.8 .9 1.7 .9 3.1 .9 4.6 .9-6.5 .9-8 .9-8.4 .9-11.4 .9-.6 .9 3.7 .8 7.4 .9 2.2 .9-1.4 .9-4.2 .9 1.2 .9 4.7 .9-4.1 .9 1 .9 11.7 .9 .8 .9 11.3 .9-3.2 .9 6.8 .9-.3 .8-5.9 .9-3.2 .9-10.8 .9-2.9 .9-9 .9-4.8 .9 3.6 .9 4.2 .9 3.1 .9 3.9 .9 .8 .9 .7 .9 4.7 .9 1.6 .9 3.6 .8-2.7 .9 7.5 .9 .9 .9 4.4 .9-8.4 .9-1.2 .9-3.8 .9-3.9 .9-5.2 .9-10.8 .9-8.7 .9-5.1 .9-1.1 .9 8.1 .8 13.3 .9 5.9 .9 7.4 .9 3 .9 6.5 .9 1.4 .9 .9 .9-8 .9-7.8 .9-7.8 .9-10.5 .9-.3 .9 4.4 .9 7.7 .8 7.8 .9 7.6 .9 .3 .9 2.3 .9-3 .9 .7 .9 1.2 .9-4.5 .9-7.8 .9-4.8 .9-.5 .9 7.7 .9 1 .9 .4 .8-4 .9-7.6 .9-6.5 .9-4.4 .9 .2 .9 5.7 .9 15.1 .9 6.2 .9 7.5 .9 3.2 .9-4.8 .9-6.9 .9-6.4 .9-2.5 .9-4.5 .8-4.7 .9-1.6 .9-3 .9 7.3 .9 4.9 .9 11.4 .9 10.9 .9-1 .9 .2 .9-5.7 .9-3.1 .9-5.2 .9-5.9 .9-3.4 .8-3.7 .9-5.1 .9-3 .9-2.4 .9 4.9 .9 11.4 .9 12.8 .9 1.2 .9 2 .9 3.5 .9-9.5 .9-1.1 .9-2.4 .9-5.6 .8 .6 .9-8.8 .9 3.6 .9-3.9 .9-2.2 .9 9.7 .9-.4 .9 6.7 .9 5.5 .9 6.2 .9-3.1 .9 3.5 .9-4.4 .9 3 .8-4 .9-9.3 .9 2 .9-7.3 .9 1.6 .9-3.4 .9 3.8 .9-2.8 .9-5.3 .9-2.9 .9-6 .9-2.1 .9 12.3 .9 9.2 .8 9.5 .9 2.4 .9 9.9 .9-2.9 .9-2.9 .9 2 .9-6.4 .9-12 .9-4.1 .9-10.7 .9-.7 .9-2.3 .9 10.8 .9 4.8 .9 0 .8 3.5 .9 .3 .9-.1 .9-3.2 .9 3.7 .9-1.8 .9 4.3 .9-2.1 .9-.6 .9 4.7 .9 5 .9 2.5 .9 3.9 .9-1.4 .8-7.2 .9-8.8 .9-4.2 .9-5 .9-7.9 .9-2.2 .9 2.5 .9 1.7 .9 4.2 .9 2.7 .9 3.3 .9-.1 .9 .2 .9-1.5 .8-1.4 .9-2.4 .9 4.5 .9 1.5 .9 15.6 .9 5.4 .9 4.9 .9-4.8 .9-3.2 .9-2.3 .9-2.9 .9-.5 .9 3.2 .9-10 .8 2.5 .9-2.8 .9-3 .9-4.9 .9 1.8 .9-.1 .9 1.1 .9-7.6 .9 1.7 .9-5.4 .9 5.9 .9 6.7 .9 2.9 .9-3.4 .9-3.4 .8-3.3 .9 2.9 .9 7.2 .9 6.8 .9 9.5 .9 2.6 .9-4.8 .9-2.9 .9-4.1 .9 5.2 .9-.9 .9 1.7 .9-7.6 .9-2.9 .8 1.9 .9-1.3 .9-4.9 .9 1.4 .9-.1 .9 2.7 .9-3 .9-5.5 .9-2.7 .9-5 .9-8.5 .9-1.4 .9 1.2 .9-1.7 .8 4.8 .9 6.3 .9 7.3 .9 11 .9 5.9 .9-2.5 .9-7.7 .9-2.6 .9 2.9 .9 2.2 .9 .9 .9 5.8 .9 3.4 .9 4.9 .8-7.1 .9 6.3 .9-.8 .9-12.1 .9-5.7 .9-9.2 .9-2.5 .9-6.6" fill="none" stroke="#1e1e1e" stroke-width="0.65" stroke-linejoin="round"/>
<path d="M160.5 1943.4l.9 4.7 .9 2.6 .9-2.5 .9 5.4 .9 7.3 .9-.6 .9-1.3 .8-3.1 .9-10.4 .9-3.6 .9 5.1 .9-4.7 .9 4.9 .9-1.5 .9 3.7 .9 5.3 .9-.9 .9-17.2 .9-8.8 .9-2.2 .9 5.1 .8 6.7 .9 1.8 .9-1.5 .9-3.9 .9 4.3 .9 10 .9 1.2 .9-3 .9 1.3 .9-5.1 .9-4.2 .9 2.4 .9 9.5 .9 5.2 .8-3.4 .9 .8 .9 5.2 .9 1.2 .9-2.5 .9-2.4 .9 3.7 .9 .6 .9 3.3 .9-3.4 .9-10.1 .9-5.9 .9 1.2 .9 6.3 .8-2.3 .9 1 .9-2.2 .9-6.9 .9 3.8 .9-.9 .9-1.3 .9-1.6 .9-1.7 .9-6.5 .9-6.2 .9 2 .9-1.5 .9 4.4 .9 9.7 .8 2.2 .9-6 .9-9.3 .9-3.4 .9-1.4 .9 2 .9 8.4 .9 12.4 .9-4.3 .9 2.4 .9 7.4 .9-.5 .9 8.3 .9 2.1 .8-4.5 .9-9.4 .9 5.7 .9 .1 .9 3.6 .9-1.3 .9 8 .9-3.8 .9 3.8 .9-3.5 .9-2.9 .9-4.9 .9-4.4 .9 3.4 .8 4.4 .9-9.8 .9-9.6 .9 1.9 .9 1.8 .9 6.3 .9 .3 .9-6.6 .9-4.2 .9-4.2 .9-1.9 .9 9.7 .9 1.1 .9-5.3 .8-3.6 .9 3.6 .9-1.3 .9 4.5 .9 3.2 .9 .8 .9 5.5 .9 13.7 .9 1.3 .9-6.2 .9-2 .9-9.8 .9 .9 .9 9.5 .9 8.4 .8 2.2 .9-10.4 .9-6.8 .9 5 .9 7.2 .9-2.7 .9-4.4 .9-8.8 .9-7.8 .9 2.7 .9 2.8 .9-1.4 .9 1 .9-.1 .8-8.1 .9-3.2 .9-1.5 .9-4.7 .9-.9 .9-.1 .9 5.9 .9 7.5 .9-1.2 .9 .6 .9 1.7 .9 6.2 .9 6.6 .9 16.9 .8-7.4 .9-10.5 .9-3.5 .9 5.1 .9 .7 .9 7.7 .9-4.8 .9-5.4 .9-13.7 .9-.6 .9 6.4 .9 7.3 .9-9.2 .9 3.5 .8-9 .9 .3 .9 5.8 .9-3.1 .9-4 .9 .9 .9 3.9 .9 3.6 .9 10 .9 2.9 .9 6.1 .9 3.3 .9 1.1 .9-4.6 .8-8.2 .9-7 .9-6.9 .9 4.6 .9 7.6 .9 11.7 .9-6.5 .9-4.4 .9-9.8 .9-9.8 .9-3.7 .9-4.5 .9 .1 .9 7.5 .9 3.7 .8-1.6 .9 8 .9 8.1 .9 9.9 .9 5.6 .9-5.3 .9-4.7 .9-7.3 .9-2 .9 5.8 .9 4.1 .9-4.4 .9-.1 .9-10 .8 1.2 .9-3 .9-5.6 .9 .9 .9 3.4 .9 1.3 .9 2.4 .9-2.8 .9 8.2 .9-2.9 .9 4.9 .9 2.3 .9 7.2 .9 6 .8-11.7 .9 2.4 .9-1.4 .9 3.6 .9 .8 .9-7.2 .9-7.4 .9-13.4 .9 .6 .9 5.8 .9 2.2 .9-2 .9 2 .9-3.9 .8 2.4 .9 1.5 .9 .2 .9-2.7 .9 6.6 .9 6.1 .9 7 .9 4.6 .9-2.4 .9-2.2 .9 8.2 .9 2.1 .9-8.9 .9-6.9 .9-10.9 .8-17.6 .9 1 .9 12.6 .9 6.9 .9 0 .9 3.2 .9-9 .9 4.7 .9 5 .9-8 .9 7.2 .9-2.2 .9 2.5 .9 8.8 .8-.6 .9 1.9 .9 .5 .9 2.6 .9 1.1 .9-3.4 .9-5.4 .9-8.5 .9-2.3 .9 1 .9 1.7 .9 7.4 .9-12.3 .9-5.8 .8-5.3 .9-1.8 .9 6.4 .9 8.9 .9-8.7 .9 1.6 .9-2.4 .9-1.7 .9-1.7 .9 8.4 .9 5.3 .9 1.1 .9 5.3 .9 7.2 .8 2.9 .9-1.3 .9-1 .9 8.8 .9-7.2 .9 2 .9-6.1 .9-8.6" fill="none" stroke="#1e1e1e" stroke-width="0.65" stroke-linejoin="round"/>
<path d="M160.5 1957.2l.9 .7 .9 9.7 .9-4.3 .9 1.6 .9-1.5 .9-8.7 .9-6.3 .8-6.4 .9 1.9 .9 11.8 .9 10.7 .9 12.3 .9 6.7 .9-3.5 .9-9.8 .9-7 .9-.2 .9-1 .9 13.4 .9 .7 .9-3.5 .8-4.9 .9-11.4 .9-8.1 .9-3 .9 6 .9 9 .9 .2 .9 2.1 .9 6.2 .9 2.5 .9-3.9 .9-1.7 .9-1.8 .9 1.8 .8 8.9 .9 6.3 .9-3.8 .9-1.5 .9-6.6 .9-8.2 .9-5.8 .9 7.3 .9-3.5 .9 .2 .9-4.8 .9-11.7 .9 5.2 .9 8.8 .8 6.2 .9 11 .9 2.9 .9-.5 .9-2.9 .9-7.4 .9 3.5 .9 3.7 .9 .6 .9-2.7 .9 2.1 .9-3.9 .9-2 .9-15.1 .9-1.1 .8-4.1 .9 2.5 .9 10.6 .9 9.9 .9 4 .9-3.7 .9 3.7 .9-3.8 .9-3.4 .9 5.2 .9-1.8 .9 6.3 .9-2.3 .9-6.5 .8-.1 .9 4.6 .9-5.3 .9-8.4 .9-11.1 .9-4.9 .9 3.8 .9 1.6 .9 10.8 .9 .6 .9 7 .9 .2 .9 5.5 .9-.3 .8-2.9 .9 5.5 .9-.9 .9 5.1 .9 .6 .9 0 .9-9.7 .9-7.3 .9-7.2 .9-10 .9 2.4 .9 10.1 .9 10.5 .9 2.7 .8-6.5 .9-5.4 .9-.9 .9-.3 .9 6.7 .9 3.1 .9 3.9 .9 10.5 .9 4.7 .9-2.2 .9-6.6 .9-12.7 .9-7 .9 6.3 .9-1.6 .8-.1 .9 3.7 .9-4.1 .9-9.4 .9-6.4 .9 1.5 .9 .7 .9 1.2 .9 2.2 .9-3.2 .9 1.6 .9 4.1 .9 1.1 .9 10.3 .8 4.8 .9 3.2 .9 5.4 .9 1.9 .9-9.2 .9 4.2 .9-2.9 .9-.3 .9 3.9 .9 5.5 .9-2.3 .9-9.2 .9-8.2 .9-12.1 .8-1.9 .9 2.1 .9 2.7 .9 7.6 .9 8 .9-5.5 .9-10.2 .9-5.3 .9-5.5 .9 5.1 .9 10.3 .9 10 .9 7.3 .9 7.1 .8 7.3 .9-11.3 .9-14.3 .9-5.5 .9 8 .9 8.9 .9 8 .9 .7 .9-6.9 .9-6.7 .9-.1 .9-2.1 .9 5.3 .9-1.8 .8 .8 .9-4.7 .9 .8 .9-2.1 .9-.1 .9 .8 .9-5.9 .9-8.3 .9 3.7 .9-7.4 .9 7.3 .9 3.3 .9-11 .9 1.9 .9 2.2 .8 3.3 .9 .4 .9-3.9 .9-1.8 .9-5.4 .9 8.2 .9 8.3 .9 10.8 .9 5.4 .9-1.3 .9-5.5 .9-.4 .9-2.3 .9 .4 .8 5.1 .9 1.4 .9-2.1 .9 1.9 .9 3.2 .9 1.1 .9-9.1 .9-7.7 .9 3.3 .9-.8 .9 9.1 .9-5.7 .9 5.7 .9-10.6 .8-4 .9-3.8 .9 .5 .9 3.5 .9-3.3 .9-8.8 .9 .8 .9 3.4 .9 8.3 .9 .8 .9 .1 .9-5.3 .9-.7 .9-1.3 .8 6.1 .9-2.8 .9 13.8 .9 3.3 .9 6.7 .9 1.4 .9 .4 .9-10.5 .9-5.2 .9-2.8 .9 6.5 .9 9 .9 7.2 .9-3.4 .9-8.3 .8-7.8 .9-14.6 .9-1.6 .9 5.9 .9-.9 .9 5.2 .9-.5 .9-4.9 .9 2.2 .9-6.8 .9-1 .9-4.9 .9-3 .9 7.3 .8 12.2 .9 10.1 .9-.2 .9 0 .9-10.4 .9 4.1 .9 7.5 .9 2.9 .9 1 .9-.5 .9-3.7 .9-2.5 .9 .7 .9 4.6 .8-2.5 .9-5.1 .9-5.3 .9-7.6 .9-1.6 .9-3.6 .9 7.6 .9 3.6 .9 4 .9 1.1 .9 .9 .9 6.6 .9-3.8 .9-3.2 .8-4.6 .9 6.6 .9 15.9 .9 5.7 .9-5 .9-10.1 .9-14.9 .9-7.8" fill="none" stroke="#1e1e1e" stroke-width="0.65" stroke-linejoin="round"/>
<path d="M160.5 1979l.9-7.3 .9 20.7 .9-11.8 .9 8 .9-22 .9-14.5 .9 1.2 .8 7.6 .9 10.4 .9 8.2 .9 17.4 .9 1.7 .9 16 .9 6.3 .9-13.1 .9-7.3 .9 3.2 .9-32.4 .9-14.5 .9 8.1 .9-9.7 .8 24.4 .9 1.9 .9-8.9 .9 41 .9 28.5 .9-25.7 .9-3.8 .9-32.9 .9-5.7 .9 6.6 .9 8 .9 19.6 .9 3.2 .9-34.7 .8-8.6 .9 21.1 .9 3.8 .9-19.1 .9-19.8 .9-3.1 .9 7.3 .9-4.3 .9 14.7 .9 21.7 .9 2.1 .9-.7 .9-8.6 .9 20.9 .8 13.2 .9-1.1 .9-24.7 .9-21.8 .9 17.9 .9-5.7 .9-.8 .9 10.3 .9-10.5 .9 3.9 .9-6.1 .9 14.5 .9 18.7 .9 .4 .9-14.2 .8-1.2 .9-2.5 .9-.7 .9-21.3 .9 7.6 .9-20.4 .9-1.1 .9-10.3 .9 5.7 .9 11.2 .9 9.1 .9 2.9 .9 17.2 .9-5.2 .8 12.6 .9 22.1 .9-10.6 .9-5.7 .9-14.5 .9-8.2 .9 6.7 .9 15 .9-20.4 .9-12.9 .9-9.2 .9-13.2 .9 21.7 .9 10.5 .8-3.6 .9-7.1 .9-1 .9 10.3 .9 15.4 .9 9.2 .9-11 .9-3.1 .9 4.5 .9-4.5 .9 12.7 .9 7 .9-26.2 .9-21.2 .8-31 .9 9.4 .9 6 .9 25.4 .9 17.1 .9-24.5 .9 10.2 .9 15.2 .9 24.5 .9-5.2 .9 12.3 .9-24 .9-10.4 .9 11.4 .9 .4 .8 5.2 .9-1.7 .9-22.4 .9-16 .9 .7 .9 7.2 .9-9 .9 8.4 .9-3.8 .9-8 .9 18.6 .9 5 .9 3.6 .9 7.9 .8-18.4 .9 27.1 .9 7.5 .9 14.4 .9-7.9 .9-8.5 .9-12.8 .9 3.5 .9-14.6 .9 0 .9 25.6 .9-19.8 .9-1.6 .9-8.3 .8-12.4 .9 11.6 .9-10.9 .9-.8 .9-10.9 .9-15.4 .9 1.8 .9 5.5 .9 27 .9 11 .9 4.7 .9 .9 .9-5.6 .9 13.7 .8-9.9 .9-2.4 .9-9.6 .9 16.4 .9 30.1 .9-1.8 .9-11.5 .9-5.4 .9-5.6 .9 7.5 .9-6.9 .9-20.3 .9-3.3 .9 5.6 .8-.9 .9-20 .9-1.5 .9 24.1 .9-15.8 .9 .4 .9-3.7 .9-8.4 .9 11.1 .9 21.3 .9 23.5 .9 .6 .9-32.6 .9 13.9 .9 5.6 .8 7.5 .9 4.9 .9-12.7 .9 20 .9-21.8 .9 22.2 .9 8.1 .9 5.5 .9-6.1 .9-26.9 .9 6.5 .9-.3 .9-14.8 .9 8.1 .8 4.6 .9-24 .9-4.2 .9 12.8 .9 10 .9-18.9 .9-23.2 .9 3.9 .9-2.2 .9-11 .9 12.7 .9-4.6 .9-5 .9-14.3 .8-6.8 .9 34.5 .9 27.4 .9 7.7 .9 5.8 .9-8 .9-13.3 .9 25.5 .9-7.3 .9 10.6 .9-25.1 .9-1.1 .9-4.3 .9 22.1 .8 10.1 .9-13.6 .9-11.9 .9-12.1 .9-13 .9-6.7 .9 16.7 .9 2.8 .9 .6 .9-10.6 .9-4.5 .9 13.3 .9 2.4 .9-.9 .9-14.3 .8 18 .9 3 .9 9.3 .9 7.4 .9 9.8 .9-12.4 .9-15.7 .9-7.8 .9 18.4 .9-3.6 .9 3.3 .9-13.2 .9-5 .9-18.9 .8 22.9 .9 19.7 .9-26 .9-10.3 .9 3 .9-12.1 .9 11.5 .9 24.1 .9 .3 .9-8.6 .9-7.2 .9 15.1 .9 15.2 .9 5.2 .8 7.7 .9-4.1 .9-27.5 .9 4.9 .9-4.8 .9 8.7 .9-33.1 .9-2.7 .9 8 .9-11.7 .9 1.9 .9 13.9 .9 4 .9 8.1 .8 13.7 .9-24.7 .9 5 .9 11 .9 .1 .9 7 .9 3.6 .9 10.5" fill="none" stroke="#2020ee" stroke-width="0.60" stroke-linejoin="round"/>
<path d="M160.5 1999.3l.9 2.1 .9-5.7 .9-17.9 .9-5 .9-8.9 .9 9.7 .9 30 .8-7.1 .9 11.4 .9-5.6 .9 3.6 .9 20.3 .9-8 .9 .2 .9 12.4 .9-16.4 .9-5.9 .9-18.5 .9 1.5 .9 30.8 .9-9.5 .8-23.6 .9-7.7 .9 9 .9-3.9 .9 48.3 .9-4.6 .9-.4 .9-2.1 .9-26.2 .9 17.9 .9-2.5 .9-2.3 .9 7.6 .9-6.3 .8-15.6 .9-9.3 .9-18.4 .9-9 .9 15.7 .9 25 .9 10.3 .9-.3 .9-4 .9 4.2 .9 23.3 .9-17 .9 20.8 .9-17.5 .8-19.5 .9-8 .9-1.7 .9 10.4 .9-15.8 .9-2.3 .9 9.8 .9-2.9 .9 2.3 .9 23.7 .9 4.9 .9 12.8 .9-35.6 .9 17.6 .9-13.7 .8-12.1 .9 .9 .9-5 .9-10.6 .9 8.5 .9-2.4 .9 3.6 .9-17.6 .9 10.5 .9-11.6 .9 6.1 .9 14.5 .9 2.4 .9 18 .8 21.7 .9 1.2 .9-17.7 .9-16.6 .9-3.5 .9-18.5 .9 16.4 .9 19.3 .9-1.3 .9-19.6 .9-35.3 .9-4.7 .9 25.3 .9 39.1 .8 8 .9 6.2 .9-9.5 .9-11.8 .9-3.3 .9 18.3 .9 10 .9-12.4 .9 5.5 .9-24.1 .9-8.6 .9-9.3 .9 12.6 .9-18.3 .8-14.9 .9 14.9 .9-.5 .9 27.8 .9-4.8 .9-13.8 .9 13.6 .9 7.9 .9 10.1 .9-6.2 .9 3.1 .9 10 .9 10.5 .9-11 .9-10.3 .8-13.1 .9-1.2 .9-3.2 .9-9.6 .9-17.3 .9-7 .9 20.3 .9 9.9 .9 2.8 .9 13 .9 2.6 .9-20 .9-7.4 .9 2 .8 12 .9 13.7 .9 11.9 .9 10.6 .9-5.8 .9 2.2 .9-8 .9 10.7 .9 3.3 .9-18.9 .9-1.4 .9-22.9 .9-3.9 .9-3.3 .8 14.5 .9 5.5 .9-16.6 .9-8.6 .9-15.9 .9-.8 .9 31.7 .9-3.9 .9-19.4 .9-12.7 .9 5.9 .9 19.4 .9 23.8 .9 .7 .8-3 .9-3.9 .9-16.8 .9 24.5 .9 1.3 .9 9.1 .9 13.3 .9 9.2 .9-12 .9-16.3 .9 6.3 .9 8.8 .9-15.2 .9-2.7 .8-26.4 .9 6.5 .9 7.2 .9-9.3 .9 1.5 .9 21 .9-12 .9-24.8 .9 2.8 .9 2.2 .9 10.3 .9 14.1 .9 11 .9 1 .9-9.3 .8-26.8 .9 19.3 .9 30.7 .9-27.5 .9 9.4 .9 0 .9-1.6 .9-10 .9 .3 .9 27.1 .9 13.4 .9 10.7 .9-29.2 .9 7.1 .8-9.4 .9 .5 .9 11.4 .9-20.4 .9-14.1 .9 15 .9-13.3 .9-7.9 .9 14.2 .9-17.1 .9-19.9 .9-13.7 .9 17.1 .9-3.1 .8 3.3 .9 13.5 .9-5.6 .9 4.6 .9-18.2 .9 13.7 .9 28.2 .9-11.7 .9 14.7 .9-11.9 .9-7.3 .9 22.6 .9-16.5 .9 35.1 .8-.9 .9-25.1 .9 11 .9-16 .9-13.2 .9 12.4 .9 6.2 .9 1.3 .9-11.8 .9-36.3 .9 2.8 .9 18.7 .9-.3 .9 11.7 .9 8.2 .8-.4 .9 4.8 .9 9 .9-3.6 .9 8.3 .9 7.8 .9-2.7 .9-36.3 .9 19.2 .9-5.7 .9-3.4 .9 1.8 .9 .3 .9-16.1 .8-.9 .9 5.2 .9-18.6 .9 10.1 .9-3.2 .9-3.3 .9-10.5 .9-7.7 .9 28.8 .9 12.3 .9 14.5 .9 17.2 .9-22.5 .9 .7 .8-3.1 .9 10.3 .9-5.1 .9-4.9 .9-17.7 .9-15.3 .9 24.4 .9-7 .9 3.6 .9-.4 .9 4.2 .9-18.2 .9-15.3 .9 8.9 .8 47.2 .9 16.4 .9-19 .9 2.5 .9-8 .9-19.4 .9 16.3 .9 9.7" fill="none" stroke="#2020ee" stroke-width="0.60" stroke-linejoin="round"/>
</g>
<line x1="159.2" y1="1575.0" x2="159.2" y2="2032.2" stroke="#000" stroke-width="2.6"/>
<rect x="106.4" y="1575.0" width="322.0" height="457.2" rx="15" fill="none" stroke="#000" stroke-width="2.8"/>
<text x="132.3" y="1626.6" font-size="33.0" text-anchor="middle" textLength="31.2" lengthAdjust="spacingAndGlyphs">R1</text>
<text x="132.3" y="1717.7" font-size="33.0" text-anchor="middle" textLength="28.5" lengthAdjust="spacingAndGlyphs">L1</text>
<text x="132.3" y="1809.0" font-size="33.0" text-anchor="middle" textLength="31.2" lengthAdjust="spacingAndGlyphs">R2</text>
<text x="132.3" y="1900.0" font-size="33.0" text-anchor="middle" textLength="28.5" lengthAdjust="spacingAndGlyphs">L2</text>
<text x="132.3" y="1964.7" font-size="33.0" text-anchor="middle" textLength="26.0" lengthAdjust="spacingAndGlyphs">M</text>
<text x="132.3" y="2015.3" font-size="33.0" text-anchor="middle" textLength="17.0" lengthAdjust="spacingAndGlyphs" fill="#2020e0">E</text>
<line x1="281" y1="2057.6" x2="349.3" y2="2057.6" stroke="#000" stroke-width="3.2"/><line x1="282.5" y1="2051" x2="282.5" y2="2064" stroke="#000" stroke-width="3"/><line x1="348" y1="2051" x2="348" y2="2064" stroke="#000" stroke-width="3"/>
<text x="357.6" y="2068.6" font-size="33.0" textLength="75.4" lengthAdjust="spacingAndGlyphs">1 sec</text>
<text x="469.5" y="1601.0" font-size="34.0" textLength="77.0" lengthAdjust="spacingAndGlyphs">L Lat.</text>
<text x="774.4" y="1601.0" font-size="34.0" textLength="102.0" lengthAdjust="spacingAndGlyphs">L Med.</text>
<text x="468.3" y="1854.0" font-size="34.0" textLength="80.0" lengthAdjust="spacingAndGlyphs">R Lat.</text>
<text x="773.6" y="1854.0" font-size="34.0" textLength="103.0" lengthAdjust="spacingAndGlyphs">R Med.</text>
<defs><path id="p55" d="M653 1575.9c9.3-.1 18.5 3.5 24.8 3.5c6.3 0 7.5-4.2 13.2-3.5c5.7 .7 13.2 4.4 21 7.6c7.8 3.2 17.9 6.7 25.8 11.4c7.9 4.8 14.3 10.2 21.6 17.1c7.3 6.9 15.7 15.7 22.4 24.4c6.6 8.7 12.8 19.2 17.5 27.9c4.7 8.6 7.8 15.9 10.4 24c2.6 8.1 4.6 16.9 5 24.5c.4 7.6 -1 15.6 -2.6 21c-1.6 5.4 -3.2 8.5 -6.9 11.4c-3.7 2.9 -9.8 4.3 -15.5 6.2c-5.7 1.9 -10.2 2.9 -18.8 5.2c-8.7 2.3 -22.3 5.5 -33.1 8.4c-10.8 2.9 -22.6 6.3 -31.9 8.8c-9.3 2.5 -17.1 4.4 -24 6.3c-6.9 1.9 -10.9 2.5 -17.5 5c-6.6 2.5 -15.4 7 -22.4 10.2c-7 3.2 -13.6 7.2 -19.4 8.8c-5.8 1.6 -10.5 1.7 -15.2 1c-4.8-.7 -10.1-2.9 -13.3-5c-3.2-2.1 -4.6-4.1 -5.7-7.4c-1.1-3.3 -1-9.1 -.7-12.6c.3-3.5 4.9-6.9 2.6-8.7c-2.3-1.8 -10.2-1.4 -16.2-2c-6-.6 -13.2-.3 -19.9-1.4c-6.6-1.1 -14.3-3.5 -20-5.4c-5.7-1.9 -9.8-3.3 -14.4-6c-4.7-2.7 -9.7-6.5 -13.5-10c-3.8-3.5 -6.7-6.5 -9.1-10.9c-2.4-4.4 -4.2-10.1 -5.3-15.5c-1.1-5.4 -1.5-10.7 -1.4-16.9c.1-6.2 .6-14.1 2.2-20.6c1.6-6.5 3.9-12.3 7.2-18.4c3.3-6.1 7.3-11.8 12.4-18c5.1-6.2 10.9-13.2 17.9-19.5c7-6.3 16.7-13.6 24-18.5c7.3-4.9 12.9-7.5 19.9-11c7-3.5 13.9-7 21.9-9.9c8-2.9 16.6-5.4 26.1-7.3c9.5-1.9 21.6-4.1 30.9-4.2Z"/><clipPath id="c53"><use href="#p55"/></clipPath><filter id="f54" x="-30%" y="-30%" width="160%" height="160%"><feGaussianBlur stdDeviation="6.5"/></filter></defs>
<g clip-path="url(#c53)">
<rect x="485.3" y="1570.7" width="335.0" height="240.0" fill="#f0b4a2"/>
<g filter="url(#f54)">
<ellipse cx="607.3" cy="1644.7" rx="58.5" ry="59.8" fill="#ec8a78"/>
<ellipse cx="652.8" cy="1603.3" rx="32.5" ry="18.4" fill="#d87068"/>
<ellipse cx="604.0" cy="1681.5" rx="22.8" ry="29.9" fill="#cc1a40"/>
<ellipse cx="578.0" cy="1736.7" rx="39.0" ry="25.3" fill="#cc1a40"/>
<ellipse cx="597.5" cy="1713.7" rx="22.8" ry="13.8" fill="#cc1a40"/>
<ellipse cx="516.3" cy="1713.7" rx="22.8" ry="39.1" fill="#d0d4e4"/>
<ellipse cx="555.3" cy="1644.7" rx="19.5" ry="23.0" fill="#f4c4b4"/>
<ellipse cx="743.8" cy="1690.7" rx="45.5" ry="57.5" fill="#5a70d4"/>
<ellipse cx="685.3" cy="1679.2" rx="19.5" ry="46.0" fill="#a8c0f0"/>
<ellipse cx="782.8" cy="1702.2" rx="16.2" ry="46.0" fill="#98b2ea"/>
<ellipse cx="659.3" cy="1764.3" rx="58.5" ry="18.4" fill="#d4ddf0"/>
<ellipse cx="626.8" cy="1778.1" rx="26.0" ry="13.8" fill="#f0b8a8"/>
<ellipse cx="704.8" cy="1603.3" rx="39.0" ry="18.4" fill="#d8dce8"/>
<ellipse cx="750.3" cy="1745.9" rx="26.0" ry="13.8" fill="#6c86dc"/>
<ellipse cx="756.8" cy="1709.1" rx="6.5" ry="9.2" fill="#f0d0c8"/>
</g>
<defs><filter id="f56" filterUnits="userSpaceOnUse" x="470" y="1556" width="365" height="270"><feGaussianBlur stdDeviation="1.0"/></filter><filter id="f57" filterUnits="userSpaceOnUse" x="470" y="1556" width="365" height="270"><feGaussianBlur stdDeviation="3.9"/></filter></defs>
<g filter="url(#f57)" fill="none" stroke="#2a2a3a" stroke-linecap="round"><path d="M675.5 1589.5c-2.7 5.4 -10.3 21.9 -16.2 32.2c-6 10.3 -16.2 24.9 -19.5 29.9" stroke-opacity="0.29" stroke-width="8.5"/><path d="M545.6 1755.1c2.7-3.8 7.5-18.8 16.2-23c8.6-4.2 23.3 0 35.7-2.3c12.5-2.3 26-7.3 39-11.5c13-4.2 29.8-10 39-13.8c9.2-3.8 13.6-7.7 16.3-9.2" stroke-opacity="0.29" stroke-width="11.0"/><path d="M626.8 1755.1c7.1-2.3 28.2-9.2 42.3-13.8c14.1-4.6 35.2-11.5 42.2-13.8" stroke-opacity="0.29" stroke-width="6.8"/><path d="M675.5 1640.1c7-.8 28.2-4.6 42.3-4.6c14.1 0 35.2 3.8 42.2 4.6" stroke-opacity="0.29" stroke-width="8.5"/><path d="M506.6 1702.2c2.7-5.8 8.1-24.1 16.2-34.5c8.1-10.4 27.1-23 32.5-27.6" stroke-opacity="0.15" stroke-width="6.8"/></g>
<g filter="url(#f56)" fill="none" stroke="#111" stroke-linecap="round"><path d="M675.5 1589.5c-2.7 5.4 -10.3 21.9 -16.2 32.2c-6 10.3 -16.2 24.9 -19.5 29.9" stroke-opacity="0.68" stroke-width="1.6"/><path d="M545.6 1755.1c2.7-3.8 7.5-18.8 16.2-23c8.6-4.2 23.3 0 35.7-2.3c12.5-2.3 26-7.3 39-11.5c13-4.2 29.8-10 39-13.8c9.2-3.8 13.6-7.7 16.3-9.2" stroke-opacity="0.68" stroke-width="2.1"/><path d="M626.8 1755.1c7.1-2.3 28.2-9.2 42.3-13.8c14.1-4.6 35.2-11.5 42.2-13.8" stroke-opacity="0.68" stroke-width="1.3"/><path d="M675.5 1640.1c7-.8 28.2-4.6 42.3-4.6c14.1 0 35.2 3.8 42.2 4.6" stroke-opacity="0.68" stroke-width="1.6"/><path d="M506.6 1702.2c2.7-5.8 8.1-24.1 16.2-34.5c8.1-10.4 27.1-23 32.5-27.6" stroke-opacity="0.36" stroke-width="1.3"/></g>
<defs><filter id="f58" x="-10%" y="-10%" width="120%" height="120%"><feGaussianBlur stdDeviation="3.9"/></filter></defs>
<use href="#p55" fill="none" stroke="#1a1a1a" stroke-opacity="0.42" stroke-width="14.6" filter="url(#f58)"/>
</g>
<use href="#p55" fill="none" stroke="#000" stroke-width="3.2" stroke-linejoin="round"/>
<defs><path id="p61" d="M822.2 1713.4c0 6.9 .2 15.8 3 21.7c2.8 5.9 7.5 10.3 13.8 13.9c6.3 3.6 15.8 5.3 24 7.6c8.2 2.3 12.9 3.4 25.4 6.4c12.5 3.1 34.7 8 49.5 11.9c14.8 4 28.2 7.5 39.4 11.8c11.2 4.3 20.5 10.7 27.8 13.8c7.3 3.1 10.5 4.7 15.8 5c5.3 .3 11.7-.8 15.8-3c4.1-2.2 7.4-6 8.9-9.9c1.5-4 -.2-10 0-13.8c.2-3.8 -4.1-7.2 1-8.9c5.1-1.6 19.4 .5 29.6-1c10.2-1.5 22.8-4.7 31.6-7.9c8.8-3.2 16-7.4 21.2-11.6c5.2-4.2 7.6-7.5 10.3-13.5c2.7-6 5.4-15.2 6.1-22.5c.7-7.3 -.7-13.1 -2.1-21.3c-1.4-8.2 -3.4-19.8 -6.3-27.8c-2.9-8 -7.1-14 -11.3-20.2c-4.2-6.2 -9.2-12.2 -14.1-17.2c-5-5 -9.9-8.5 -15.6-12.6c-5.7-4.1 -12-8.5 -18.6-12.1c-6.6-3.6 -14.4-6.8 -21-9.6c-6.6-2.8 -12.1-5.1 -18.7-7.1c-6.6-2 -12.4-3.4 -20.8-4.9c-8.4-1.5 -21.8-3.4 -29.6-3.9c-7.8-.4 -12.2 .7 -17.1 1.2c-4.9 .5 -9.2 2 -12.5 1.8c-3.3-.2 -5.1-2.3 -7.4-3c-2.3-.7 -3.2-1.3 -6.5-1c-3.3 .3 -9 1.4 -13.3 2.6c-4.3 1.1 -6 1.3 -12.4 4.3c-6.4 3 -18.5 9.2 -25.7 13.9c-7.2 4.7 -11.9 8.9 -17.5 14.5c-5.6 5.6 -11.2 13 -16.1 19.2c-4.9 6.2 -9.3 11.9 -13.3 18.2c-4 6.3 -7.6 13.7 -10.5 19.4c-2.9 5.7 -5.3 10.5 -6.9 14.8c-1.6 4.3 -1.9 5.9 -2.9 11c-1 5.1 -3 12.9 -3 19.8Z"/><clipPath id="c59"><use href="#p61"/></clipPath><filter id="f60" x="-30%" y="-30%" width="160%" height="160%"><feGaussianBlur stdDeviation="6.5"/></filter></defs>
<g clip-path="url(#c59)">
<rect x="816.7" y="1570.7" width="334.0" height="240.0" fill="#a8c4f4"/>
<g filter="url(#f60)">
<ellipse cx="999.9" cy="1617.1" rx="97.2" ry="39.1" fill="#f09a84"/>
<ellipse cx="1064.7" cy="1663.1" rx="32.4" ry="36.8" fill="#ee8e78"/>
<ellipse cx="931.9" cy="1596.4" rx="19.4" ry="16.1" fill="#cc1a40"/>
<ellipse cx="1055.0" cy="1626.3" rx="19.4" ry="23.0" fill="#cc1a40" transform="rotate(-30 1055.0 1626.3)"/>
<ellipse cx="983.7" cy="1617.1" rx="16.2" ry="9.2" fill="#f8d8d0"/>
<ellipse cx="909.2" cy="1679.2" rx="38.9" ry="39.1" fill="#5a6ed8"/>
<ellipse cx="1106.8" cy="1727.5" rx="32.4" ry="27.6" fill="#5a70dc"/>
<ellipse cx="1129.5" cy="1679.2" rx="13.0" ry="27.6" fill="#88a4ec"/>
<ellipse cx="870.3" cy="1713.7" rx="19.4" ry="8.1" fill="#f0c0b0" transform="rotate(20 870.3 1713.7)"/>
<ellipse cx="841.1" cy="1713.7" rx="13.0" ry="27.6" fill="#d8e4f8"/>
<ellipse cx="999.9" cy="1778.1" rx="58.3" ry="13.8" fill="#c0d4f4"/>
<ellipse cx="967.5" cy="1644.7" rx="19.4" ry="13.8" fill="#c8d8f6"/>
</g>
<defs><filter id="f62" filterUnits="userSpaceOnUse" x="802" y="1556" width="364" height="270"><feGaussianBlur stdDeviation="1.0"/></filter><filter id="f63" filterUnits="userSpaceOnUse" x="802" y="1556" width="364" height="270"><feGaussianBlur stdDeviation="3.9"/></filter></defs>
<g filter="url(#f63)" fill="none" stroke="#2a2a3a" stroke-linecap="round"><path d="M854.1 1709.1c5.4 2.7 21.6 11.5 32.4 16.1c10.8 4.6 27 9.6 32.4 11.5" stroke-opacity="0.29" stroke-width="8.4"/><path d="M935.1 1755.1c8.1 2.7 34 12.3 48.6 16.1c14.6 3.8 32.4 5.7 38.9 6.9" stroke-opacity="0.19" stroke-width="6.7"/></g>
<g filter="url(#f62)" fill="none" stroke="#111" stroke-linecap="round"><path d="M854.1 1709.1c5.4 2.7 21.6 11.5 32.4 16.1c10.8 4.6 27 9.6 32.4 11.5" stroke-opacity="0.68" stroke-width="1.6"/><path d="M935.1 1755.1c8.1 2.7 34 12.3 48.6 16.1c14.6 3.8 32.4 5.7 38.9 6.9" stroke-opacity="0.45" stroke-width="1.3"/></g>
<defs><linearGradient id="g64" x1="100%" y1="0%" x2="0%" y2="100%"><stop offset="0" stop-color="#c6c6c6"/><stop offset="0.55" stop-color="#c2c2c2"/><stop offset="0.8" stop-color="#8a8a8a"/><stop offset="1" stop-color="#b4b4b4"/></linearGradient></defs>
<path d="M928 1699.5c1-3.6 5.9-12.8 9.9-15.8c3.9-3 23.7-12.1 29.6-13.9c5.9-1.8 24.8-3.6 29.7-3.9c4.9-.3 15.6 .2 19.7 .9c4 .7 16.9 4.5 20.8 6.2c4 1.7 15.1 8.6 18.7 10.7c3.6 2.1 14.2 8.8 17 10.8c2.8 2 9.7 6.9 10.8 9c1.1 2.1 1.5 9.9 0 11.9c-1.5 2 -11.9 6.4 -14.7 7.8c-2.8 1.4 -10.4 4 -13.1 6c-2.7 2 -11.8 10.9 -13.8 13.9c-2 3 -5.7 12.9 -5.9 15.9c-.2 3 4.9 11 3.9 13.8c-1 2.8 -10.4 12.3 -13.8 13.9c-3.4 1.6 -15.8 2.8 -19.8 2c-3.9-.8 -14.8-7.3 -19.7-9.9c-4.9-2.6 -24.3-12.2 -29.6-15.8c-5.3-3.6 -20.8-15.5 -23.8-19.9c-3-4.4 -5.3-19.3 -5.9-23.7c-.6-4.4 -1-16.3 0-19.9Z" fill="url(#g64)"/>
<defs><filter id="f65" filterUnits="userSpaceOnUse" x="802" y="1556" width="364" height="270"><feGaussianBlur stdDeviation="3.9"/></filter></defs>
<path d="M935.1 1718.3c3.8 6.1 11.9 27.2 22.7 36.8c10.8 9.6 28.1 16.1 42.1 20.7c14 4.6 35.1 5.8 42.1 6.9" fill="none" stroke="#333" stroke-opacity="0.55" stroke-width="9.7" filter="url(#f65)"/>
<defs><filter id="f66" x="-10%" y="-10%" width="120%" height="120%"><feGaussianBlur stdDeviation="3.9"/></filter></defs>
<use href="#p61" fill="none" stroke="#1a1a1a" stroke-opacity="0.42" stroke-width="14.6" filter="url(#f66)"/>
</g>
<use href="#p61" fill="none" stroke="#000" stroke-width="3.2" stroke-linejoin="round"/>
<defs><path id="p69" d="M652.6 1832.7c-9.3-.1 -18.5 3.6 -24.8 3.6c-6.3 0 -7.5-4.3 -13.2-3.6c-5.7 .7 -13.2 4.5 -21 7.8c-7.8 3.2 -17.9 6.8 -25.8 11.7c-7.9 4.9 -14.3 10.6 -21.6 17.7c-7.3 7.1 -15.8 16 -22.4 25c-6.7 9 -12.8 19.9 -17.5 28.8c-4.6 8.9 -7.8 16.3 -10.4 24.6c-2.6 8.3 -4.6 17.4 -5 25.2c-.4 7.8 1 16 2.6 21.6c1.6 5.5 3.2 8.7 6.9 11.7c3.7 3 9.8 4.5 15.5 6.4c5.7 2 10.2 3 18.8 5.3c8.6 2.3 22.3 5.6 33.1 8.6c10.8 3 22.6 6.5 31.9 9.1c9.3 2.6 17.1 4.6 24 6.5c6.9 1.9 10.9 2.5 17.5 5.1c6.6 2.6 15.4 7.2 22.4 10.5c7 3.3 13.6 7.4 19.4 9.1c5.8 1.7 10.5 1.6 15.2 .9c4.8-.7 10.1-2.9 13.3-5c3.2-2.1 4.6-4.3 5.7-7.7c1.1-3.4 1-9.2 .7-12.9c-.3-3.6 -4.9-7.1 -2.6-9c2.3-1.9 10.2-1.5 16.2-2.1c6-.6 13.2-.2 19.9-1.4c6.6-1.1 14.3-3.5 20-5.5c5.7-2 9.7-3.5 14.4-6.2c4.6-2.8 9.7-6.7 13.5-10.3c3.8-3.6 6.7-6.7 9.1-11.2c2.4-4.5 4.2-10.4 5.3-15.9c1.1-5.5 1.5-11 1.4-17.4c-.1-6.4 -.6-14.5 -2.2-21.2c-1.6-6.7 -3.9-12.6 -7.2-18.8c-3.3-6.2 -7.4-12.2 -12.4-18.6c-5.1-6.4 -10.9-13.5 -17.9-20c-7-6.5 -16.7-14 -24-19.1c-7.3-5.1 -12.9-7.7 -19.9-11.3c-7-3.6 -13.9-7.3 -21.9-10.2c-8-3 -16.6-5.5 -26.1-7.5c-9.5-2 -21.6-4.2 -30.9-4.3Z"/><clipPath id="c67"><use href="#p69"/></clipPath><filter id="f68" x="-30%" y="-30%" width="160%" height="160%"><feGaussianBlur stdDeviation="6.5"/></filter></defs>
<g clip-path="url(#c67)">
<rect x="485.3" y="1827.5" width="335.0" height="246.5" fill="#f0a894"/>
<g filter="url(#f68)">
<ellipse cx="581.3" cy="1946.0" rx="48.8" ry="66.2" fill="#a8c4f4"/>
<ellipse cx="565.0" cy="1922.4" rx="16.2" ry="16.6" fill="#6a84dc"/>
<ellipse cx="587.8" cy="1962.6" rx="26.0" ry="23.7" fill="#88a4ec"/>
<ellipse cx="643.0" cy="2017.0" rx="19.5" ry="9.5" fill="#7896e6"/>
<ellipse cx="604.0" cy="2026.4" rx="39.0" ry="18.9" fill="#b8d0f4"/>
<ellipse cx="526.0" cy="1964.9" rx="19.5" ry="28.4" fill="#f0b0a0"/>
<ellipse cx="509.8" cy="2009.9" rx="13.0" ry="23.7" fill="#b0c4ec"/>
<ellipse cx="587.8" cy="1875.1" rx="32.5" ry="23.7" fill="#e8d0cc"/>
<ellipse cx="691.8" cy="1927.1" rx="65.0" ry="82.8" fill="#ec8474"/>
<ellipse cx="717.8" cy="1955.5" rx="22.8" ry="14.2" fill="#cc1a40"/>
<ellipse cx="727.5" cy="1991.0" rx="16.2" ry="11.8" fill="#cc1a40"/>
<ellipse cx="678.8" cy="1903.5" rx="16.2" ry="18.9" fill="#d86860"/>
<ellipse cx="734.0" cy="1903.5" rx="16.2" ry="14.2" fill="#f4c0b0"/>
<ellipse cx="776.3" cy="1938.9" rx="19.5" ry="33.1" fill="#f0c4b4"/>
<ellipse cx="782.8" cy="1986.2" rx="22.8" ry="18.9" fill="#b4c8f0"/>
<ellipse cx="685.3" cy="2040.6" rx="26.0" ry="16.6" fill="#f0a090"/>
</g>
<defs><filter id="f70" filterUnits="userSpaceOnUse" x="470" y="1812" width="365" height="276"><feGaussianBlur stdDeviation="1.0"/></filter><filter id="f71" filterUnits="userSpaceOnUse" x="470" y="1812" width="365" height="276"><feGaussianBlur stdDeviation="3.9"/></filter></defs>
<g filter="url(#f71)" fill="none" stroke="#2a2a3a" stroke-linecap="round"><path d="M626.8 1846.7c2.2 5.5 7.6 20.5 13 33.1c5.4 12.6 14.6 32.8 19.5 42.6c4.9 9.9 8.2 13.8 9.8 16.5" stroke-opacity="0.29" stroke-width="10.1"/><path d="M535.8 1903.5c7.6-2 30.3-11.1 45.5-11.9c15.2-.8 35.2 3.2 45.5 7.1c10.3 4 13.5 13.8 16.2 16.6" stroke-opacity="0.29" stroke-width="10.1"/><path d="M623.5 1927.1c1.6 5.9 3.8 27.6 9.8 35.5c6 7.9 16.2 5.9 26 11.8c9.8 5.9 23.8 15.7 32.5 23.6c8.7 7.9 15.2 16.6 19.5 23.7c4.3 7.1 5.4 15.7 6.5 18.9" stroke-opacity="0.29" stroke-width="10.1"/><path d="M597.5 1979.1c6.5 3.2 27.1 11.8 39 18.9c11.9 7.1 27.2 19.8 32.6 23.7" stroke-opacity="0.29" stroke-width="6.8"/><path d="M669.1 1851.4c7 2.4 28.7 8.7 42.2 14.2c13.5 5.5 28.2 11.8 39 18.9c10.8 7.1 21.7 19.8 26 23.7" stroke-opacity="0.29" stroke-width="8.5"/><path d="M734 1974.4c2.7 1.2 12 2.4 16.3 7.1c4.3 4.7 8.1 17.7 9.7 21.3" stroke-opacity="0.29" stroke-width="6.8"/></g>
<g filter="url(#f70)" fill="none" stroke="#111" stroke-linecap="round"><path d="M626.8 1846.7c2.2 5.5 7.6 20.5 13 33.1c5.4 12.6 14.6 32.8 19.5 42.6c4.9 9.9 8.2 13.8 9.8 16.5" stroke-opacity="0.68" stroke-width="1.9"/><path d="M535.8 1903.5c7.6-2 30.3-11.1 45.5-11.9c15.2-.8 35.2 3.2 45.5 7.1c10.3 4 13.5 13.8 16.2 16.6" stroke-opacity="0.68" stroke-width="1.9"/><path d="M623.5 1927.1c1.6 5.9 3.8 27.6 9.8 35.5c6 7.9 16.2 5.9 26 11.8c9.8 5.9 23.8 15.7 32.5 23.6c8.7 7.9 15.2 16.6 19.5 23.7c4.3 7.1 5.4 15.7 6.5 18.9" stroke-opacity="0.68" stroke-width="1.9"/><path d="M597.5 1979.1c6.5 3.2 27.1 11.8 39 18.9c11.9 7.1 27.2 19.8 32.6 23.7" stroke-opacity="0.68" stroke-width="1.3"/><path d="M669.1 1851.4c7 2.4 28.7 8.7 42.2 14.2c13.5 5.5 28.2 11.8 39 18.9c10.8 7.1 21.7 19.8 26 23.7" stroke-opacity="0.68" stroke-width="1.6"/><path d="M734 1974.4c2.7 1.2 12 2.4 16.3 7.1c4.3 4.7 8.1 17.7 9.7 21.3" stroke-opacity="0.68" stroke-width="1.3"/></g>
<defs><filter id="f72" x="-10%" y="-10%" width="120%" height="120%"><feGaussianBlur stdDeviation="3.9"/></filter></defs>
<use href="#p69" fill="none" stroke="#1a1a1a" stroke-opacity="0.42" stroke-width="14.6" filter="url(#f72)"/>
</g>
<use href="#p69" fill="none" stroke="#000" stroke-width="3.2" stroke-linejoin="round"/>
<defs><path id="p75" d="M1145.5 1974.1c0 7.1 -.2 16.2 -3 22.3c-2.8 6.1 -7.5 10.6 -13.8 14.3c-6.3 3.7 -15.8 5.4 -24 7.8c-8.2 2.4 -13 3.5 -25.5 6.6c-12.5 3.1 -34.7 8.2 -49.5 12.2c-14.8 4.1 -28.3 7.7 -39.5 12.1c-11.2 4.4 -20.5 11.1 -27.7 14.3c-7.2 3.2 -10.5 4.8 -15.8 5.1c-5.3 .3 -11.8-.9 -15.9-3.1c-4.1-2.2 -7.4-6 -8.9-10.1c-1.5-4.1 .2-10.4 0-14.3c-.2-3.9 4.1-7.4 -1-9.1c-5.1-1.7 -19.5 .4 -29.7-1.1c-10.2-1.5 -22.8-4.8 -31.6-8.1c-8.8-3.3 -16-7.6 -21.2-11.9c-5.2-4.3 -7.6-7.7 -10.3-13.9c-2.7-6.2 -5.4-15.6 -6.1-23.1c-.7-7.5 .7-13.5 2.1-21.9c1.4-8.4 3.4-20.4 6.3-28.6c2.9-8.2 7.1-14.4 11.3-20.8c4.2-6.4 9.2-12.6 14.2-17.7c5-5.1 9.9-8.7 15.6-12.9c5.7-4.2 12-8.7 18.6-12.4c6.6-3.7 14.3-7.1 20.9-10c6.6-2.9 12.2-5.2 18.8-7.2c6.6-2 12.4-3.5 20.8-5c8.4-1.5 21.9-3.6 29.7-4.1c7.8-.5 12.2 .8 17.1 1.3c4.9 .5 9.2 2 12.5 1.8c3.3-.2 5-2.3 7.3-3c2.3-.7 3.3-1.4 6.6-1.1c3.3 .3 9 1.5 13.3 2.7c4.3 1.2 6 1.3 12.4 4.4c6.4 3.1 18.6 9.4 25.8 14.3c7.2 4.9 11.8 9.1 17.4 14.9c5.6 5.8 11.3 13.4 16.2 19.8c4.9 6.4 9.3 12.2 13.3 18.6c3.9 6.4 7.5 14.1 10.4 20c2.9 5.9 5.3 10.8 7 15.2c1.7 4.4 1.9 6 2.9 11.3c1 5.3 3 13.3 3 20.4Z"/><clipPath id="c73"><use href="#p75"/></clipPath><filter id="f74" x="-30%" y="-30%" width="160%" height="160%"><feGaussianBlur stdDeviation="6.5"/></filter></defs>
<g clip-path="url(#c73)">
<rect x="816.7" y="1827.5" width="334.3" height="246.5" fill="#a8c4f4"/>
<g filter="url(#f74)">
<ellipse cx="967.6" cy="1891.6" rx="107.0" ry="47.3" fill="#f09a84"/>
<ellipse cx="919.0" cy="1922.4" rx="38.9" ry="23.7" fill="#ee9a84"/>
<ellipse cx="912.5" cy="1886.9" rx="22.7" ry="14.2" fill="#cc1a40" transform="rotate(-25 912.5 1886.9)"/>
<ellipse cx="1042.2" cy="1858.5" rx="13.0" ry="11.8" fill="#cc1a40"/>
<ellipse cx="1000.1" cy="1868.0" rx="25.9" ry="14.2" fill="#f4b8a4"/>
<ellipse cx="1058.4" cy="1943.7" rx="32.4" ry="33.1" fill="#5a70d8"/>
<ellipse cx="1016.3" cy="1927.1" rx="32.4" ry="14.2" fill="#a0bcf0"/>
<ellipse cx="1103.8" cy="1962.6" rx="13.0" ry="37.8" fill="#f0d0c4"/>
<ellipse cx="1133.0" cy="1979.1" rx="9.7" ry="23.7" fill="#a8c0f0"/>
<ellipse cx="876.8" cy="2002.8" rx="38.9" ry="18.9" fill="#5a70d8"/>
<ellipse cx="841.2" cy="1962.6" rx="16.2" ry="28.4" fill="#b8ccf4"/>
<ellipse cx="938.4" cy="2052.4" rx="22.7" ry="11.8" fill="#f0b0a0"/>
<ellipse cx="1064.9" cy="2021.7" rx="32.4" ry="14.2" fill="#e8d8dc"/>
</g>
<defs><filter id="f76" filterUnits="userSpaceOnUse" x="802" y="1812" width="364" height="276"><feGaussianBlur stdDeviation="1.0"/></filter><filter id="f77" filterUnits="userSpaceOnUse" x="802" y="1812" width="364" height="276"><feGaussianBlur stdDeviation="3.9"/></filter></defs>
<g filter="url(#f77)" fill="none" stroke="#2a2a3a" stroke-linecap="round"><path d="M1107.1 1974.4c-4.3 4.7 -17.4 21.3 -26 28.4c-8.6 7.1 -21.6 11.8 -25.9 14.2" stroke-opacity="0.29" stroke-width="8.4"/><path d="M1113.6 1938.9l-16.2 23.7" stroke-opacity="0.19" stroke-width="5.1"/></g>
<g filter="url(#f76)" fill="none" stroke="#111" stroke-linecap="round"><path d="M1107.1 1974.4c-4.3 4.7 -17.4 21.3 -26 28.4c-8.6 7.1 -21.6 11.8 -25.9 14.2" stroke-opacity="0.68" stroke-width="1.6"/><path d="M1113.6 1938.9l-16.2 23.7" stroke-opacity="0.45" stroke-width="1.2"/></g>
<defs><linearGradient id="g78" x1="0%" y1="0%" x2="100%" y2="100%"><stop offset="0" stop-color="#c6c6c6"/><stop offset="0.55" stop-color="#c2c2c2"/><stop offset="0.8" stop-color="#8a8a8a"/><stop offset="1" stop-color="#b4b4b4"/></linearGradient></defs>
<path d="M1039.6 1959.8c-1-3.7 -5.9-13.2 -9.9-16.3c-3.9-3.1 -23.7-12.4 -29.6-14.2c-5.9-1.8 -24.9-3.8 -29.8-4.1c-5-.3 -15.6 .3 -19.7 1c-4 .7 -16.8 4.7 -20.8 6.4c-4 1.7 -15.2 8.7 -18.8 10.9c-3.6 2.2 -14.2 9.2 -17 11.2c-2.8 2 -9.6 7.1 -10.7 9.2c-1.1 2.1 -1.5 10.2 0 12.2c1.5 2 11.9 6.6 14.7 8c2.8 1.4 10.3 4.3 13 6.3c2.7 2 11.9 11.1 13.9 14.2c2 3.1 5.7 13.3 5.9 16.4c.2 3.1 -4.9 11.4 -3.9 14.2c1 2.8 10.4 12.6 13.8 14.2c3.4 1.6 15.8 2.9 19.8 2.1c4-.8 14.9-7.6 19.8-10.2c4.9-2.6 24.3-12.5 29.6-16.2c5.3-3.7 20.8-16 23.8-20.5c3-4.5 5.3-19.9 5.9-24.4c.6-4.5 1-16.7 0-20.4Z" fill="url(#g78)"/>
<defs><filter id="f79" filterUnits="userSpaceOnUse" x="802" y="1812" width="364" height="276"><feGaussianBlur stdDeviation="3.9"/></filter></defs>
<path d="M1032.5 1979.1c-3.8 6.3 -11.9 28 -22.7 37.9c-10.8 9.9 -28.1 16.6 -42.2 21.3c-14 4.7 -35.1 5.8 -42.1 7" fill="none" stroke="#333" stroke-opacity="0.55" stroke-width="9.7" filter="url(#f79)"/>
<defs><filter id="f80" x="-10%" y="-10%" width="120%" height="120%"><feGaussianBlur stdDeviation="3.9"/></filter></defs>
<use href="#p75" fill="none" stroke="#1a1a1a" stroke-opacity="0.42" stroke-width="14.6" filter="url(#f80)"/>
</g>
<use href="#p75" fill="none" stroke="#000" stroke-width="3.2" stroke-linejoin="round"/>
<text x="106.2" y="2147.5" font-size="36.0" textLength="482.8" lengthAdjust="spacingAndGlyphs">EEG-fMRI of absence epilepsy</text>
<text x="617" y="2147.5" font-size="36" textLength="180.6" lengthAdjust="spacingAndGlyphs"><tspan font-style="italic">z</tspan>-score = -1</text>
<rect x="805" y="2114.5" width="324.4" height="43.5" fill="url(#cw)" stroke="#000" stroke-width="2"/>
<line x1="969" y1="2115.5" x2="969" y2="2157" stroke="#888" stroke-width="1.5"/>
<text x="811.0" y="2146.0" font-size="34.0" textLength="144.6" lengthAdjust="spacingAndGlyphs" fill="#fff" filter="url(#tsh)">BOLD dec.</text>
<text x="987.5" y="2146.0" font-size="34.0" textLength="133.2" lengthAdjust="spacingAndGlyphs" fill="#fff" filter="url(#tsh)">BOLD inc.</text>
<text x="1133.0" y="2147.5" font-size="36.0">1</text>
<defs><clipPath id="cpH"><rect x="1272.0" y="1580.0" width="699.0" height="487.7" rx="26"/></clipPath></defs>
<g clip-path="url(#cpH)">
<line x1="1272" x2="1971" y1="1976.0" y2="1976.0" stroke="#efefef" stroke-width="1.6"/>
<line x1="1272" x2="1971" y1="1836.8" y2="1836.8" stroke="#efefef" stroke-width="1.6"/>
<line x1="1272" x2="1971" y1="1697.5" y2="1697.5" stroke="#efefef" stroke-width="1.6"/>
<line x1="1272" x2="1971" y1="2045.7" y2="2045.7" stroke="#e2e2e2" stroke-width="2.2"/>
<line x1="1272" x2="1971" y1="1906.4" y2="1906.4" stroke="#e2e2e2" stroke-width="2.2"/>
<line x1="1272" x2="1971" y1="1767.1" y2="1767.1" stroke="#e2e2e2" stroke-width="2.2"/>
<line x1="1272" x2="1971" y1="1627.8" y2="1627.8" stroke="#e2e2e2" stroke-width="2.2"/>
<line x1="1382.7" x2="1382.7" y1="1580" y2="2067" stroke="#efefef" stroke-width="1.6"/>
<line x1="1541.3" x2="1541.3" y1="1580" y2="2067" stroke="#efefef" stroke-width="1.6"/>
<line x1="1699.9" x2="1699.9" y1="1580" y2="2067" stroke="#efefef" stroke-width="1.6"/>
<line x1="1858.5" x2="1858.5" y1="1580" y2="2067" stroke="#efefef" stroke-width="1.6"/>
<line x1="1303.3" x2="1303.3" y1="1580" y2="2067" stroke="#e2e2e2" stroke-width="2.2"/>
<line x1="1462.0" x2="1462.0" y1="1580" y2="2067" stroke="#e2e2e2" stroke-width="2.2"/>
<line x1="1620.6" x2="1620.6" y1="1580" y2="2067" stroke="#e2e2e2" stroke-width="2.2"/>
<line x1="1779.2" x2="1779.2" y1="1580" y2="2067" stroke="#e2e2e2" stroke-width="2.2"/>
<line x1="1937.8" x2="1937.8" y1="1580" y2="2067" stroke="#e2e2e2" stroke-width="2.2"/>
<rect x="1303.35" y="2037.26" width="6.34" height="8.44" fill="#bdbdbd" stroke="#000" stroke-width="1.4"/>
<rect x="1309.69" y="2030.02" width="6.34" height="15.68" fill="#bdbdbd" stroke="#000" stroke-width="1.4"/>
<rect x="1316.04" y="2038.37" width="6.34" height="7.33" fill="#bdbdbd" stroke="#000" stroke-width="1.4"/>
<rect x="1322.38" y="2025.96" width="6.34" height="19.74" fill="#bdbdbd" stroke="#000" stroke-width="1.4"/>
<rect x="1328.73" y="2020.17" width="6.34" height="25.53" fill="#bdbdbd" stroke="#000" stroke-width="1.4"/>
<rect x="1335.07" y="2009.26" width="6.34" height="36.44" fill="#bdbdbd" stroke="#000" stroke-width="1.4"/>
<rect x="1341.42" y="2011.50" width="6.34" height="34.20" fill="#bdbdbd" stroke="#000" stroke-width="1.4"/>
<rect x="1347.76" y="2021.17" width="6.34" height="24.53" fill="#bdbdbd" stroke="#000" stroke-width="1.4"/>
<rect x="1354.11" y="2003.17" width="6.34" height="42.53" fill="#bdbdbd" stroke="#000" stroke-width="1.4"/>
<rect x="1360.45" y="2007.97" width="6.34" height="37.73" fill="#bdbdbd" stroke="#000" stroke-width="1.4"/>
<rect x="1366.80" y="2008.82" width="6.34" height="36.88" fill="#bdbdbd" stroke="#000" stroke-width="1.4"/>
<rect x="1373.14" y="1996.17" width="6.34" height="49.53" fill="#bdbdbd" stroke="#000" stroke-width="1.4"/>
<rect x="1379.49" y="1989.55" width="6.34" height="56.15" fill="#bdbdbd" stroke="#000" stroke-width="1.4"/>
<rect x="1385.83" y="1984.56" width="6.34" height="61.14" fill="#bdbdbd" stroke="#000" stroke-width="1.4"/>
<rect x="1392.18" y="1986.50" width="6.34" height="59.20" fill="#bdbdbd" stroke="#000" stroke-width="1.4"/>
<rect x="1398.52" y="1988.30" width="6.34" height="57.40" fill="#bdbdbd" stroke="#000" stroke-width="1.4"/>
<rect x="1404.87" y="1998.76" width="6.34" height="46.94" fill="#bdbdbd" stroke="#000" stroke-width="1.4"/>
<rect x="1411.21" y="1971.80" width="6.34" height="73.90" fill="#bdbdbd" stroke="#000" stroke-width="1.4"/>
<rect x="1417.56" y="1962.84" width="6.34" height="82.86" fill="#bdbdbd" stroke="#000" stroke-width="1.4"/>
<rect x="1423.90" y="1956.58" width="6.34" height="89.12" fill="#bdbdbd" stroke="#000" stroke-width="1.4"/>
<rect x="1430.25" y="1953.42" width="6.34" height="92.28" fill="#bdbdbd" stroke="#000" stroke-width="1.4"/>
<rect x="1436.59" y="1934.46" width="6.34" height="111.24" fill="#bdbdbd" stroke="#000" stroke-width="1.4"/>
<rect x="1442.94" y="1922.96" width="6.34" height="122.74" fill="#bdbdbd" stroke="#000" stroke-width="1.4"/>
<rect x="1449.28" y="1920.03" width="6.34" height="125.67" fill="#bdbdbd" stroke="#000" stroke-width="1.4"/>
<rect x="1455.63" y="1936.65" width="6.34" height="109.05" fill="#bdbdbd" stroke="#000" stroke-width="1.4"/>
<rect x="1461.97" y="1923.90" width="6.34" height="121.80" fill="#bdbdbd" stroke="#000" stroke-width="1.4"/>
<rect x="1468.32" y="1908.80" width="6.34" height="136.90" fill="#bdbdbd" stroke="#000" stroke-width="1.4"/>
<rect x="1474.66" y="1930.83" width="6.34" height="114.87" fill="#bdbdbd" stroke="#000" stroke-width="1.4"/>
<rect x="1481.01" y="1888.24" width="6.34" height="157.46" fill="#bdbdbd" stroke="#000" stroke-width="1.4"/>
<rect x="1487.36" y="1886.57" width="6.34" height="159.13" fill="#bdbdbd" stroke="#000" stroke-width="1.4"/>
<rect x="1493.70" y="1875.58" width="6.34" height="170.12" fill="#bdbdbd" stroke="#000" stroke-width="1.4"/>
<rect x="1500.04" y="1904.90" width="6.34" height="140.80" fill="#bdbdbd" stroke="#000" stroke-width="1.4"/>
<rect x="1506.39" y="1855.53" width="6.34" height="190.17" fill="#bdbdbd" stroke="#000" stroke-width="1.4"/>
<rect x="1512.73" y="1849.50" width="6.34" height="196.20" fill="#bdbdbd" stroke="#000" stroke-width="1.4"/>
<rect x="1519.08" y="1849.62" width="6.34" height="196.08" fill="#bdbdbd" stroke="#000" stroke-width="1.4"/>
<rect x="1525.42" y="1806.10" width="6.34" height="239.60" fill="#bdbdbd" stroke="#000" stroke-width="1.4"/>
<rect x="1531.77" y="1813.59" width="6.34" height="232.11" fill="#bdbdbd" stroke="#000" stroke-width="1.4"/>
<rect x="1538.11" y="1825.28" width="6.34" height="220.42" fill="#bdbdbd" stroke="#000" stroke-width="1.4"/>
<rect x="1544.46" y="1782.14" width="6.34" height="263.56" fill="#bdbdbd" stroke="#000" stroke-width="1.4"/>
<rect x="1550.80" y="1795.78" width="6.34" height="249.92" fill="#bdbdbd" stroke="#000" stroke-width="1.4"/>
<rect x="1557.15" y="1812.46" width="6.34" height="233.24" fill="#bdbdbd" stroke="#000" stroke-width="1.4"/>
<rect x="1563.49" y="1767.10" width="6.34" height="278.60" fill="#bdbdbd" stroke="#000" stroke-width="1.4"/>
<rect x="1569.84" y="1793.30" width="6.34" height="252.40" fill="#bdbdbd" stroke="#000" stroke-width="1.4"/>
<rect x="1576.18" y="1748.06" width="6.34" height="297.64" fill="#bdbdbd" stroke="#000" stroke-width="1.4"/>
<rect x="1582.53" y="1767.10" width="6.34" height="278.60" fill="#bdbdbd" stroke="#000" stroke-width="1.4"/>
<rect x="1588.88" y="1741.42" width="6.34" height="304.28" fill="#bdbdbd" stroke="#000" stroke-width="1.4"/>
<rect x="1595.22" y="1768.19" width="6.34" height="277.51" fill="#bdbdbd" stroke="#000" stroke-width="1.4"/>
<rect x="1601.56" y="1739.10" width="6.34" height="306.60" fill="#bdbdbd" stroke="#000" stroke-width="1.4"/>
<rect x="1607.91" y="1726.81" width="6.34" height="318.89" fill="#bdbdbd" stroke="#000" stroke-width="1.4"/>
<rect x="1614.25" y="1739.24" width="6.34" height="306.46" fill="#bdbdbd" stroke="#000" stroke-width="1.4"/>
<rect x="1620.60" y="1736.45" width="6.34" height="309.25" fill="#bdbdbd" stroke="#000" stroke-width="1.4"/>
<rect x="1626.94" y="1725.31" width="6.34" height="320.39" fill="#bdbdbd" stroke="#000" stroke-width="1.4"/>
<rect x="1633.29" y="1704.41" width="6.34" height="341.29" fill="#bdbdbd" stroke="#000" stroke-width="1.4"/>
<rect x="1639.63" y="1729.74" width="6.34" height="315.96" fill="#bdbdbd" stroke="#000" stroke-width="1.4"/>
<rect x="1645.98" y="1815.87" width="6.34" height="229.83" fill="#bdbdbd" stroke="#000" stroke-width="1.4"/>
<rect x="1652.32" y="1748.90" width="6.34" height="296.80" fill="#bdbdbd" stroke="#000" stroke-width="1.4"/>
<rect x="1658.67" y="1779.54" width="6.34" height="266.16" fill="#bdbdbd" stroke="#000" stroke-width="1.4"/>
<rect x="1665.01" y="1736.31" width="6.34" height="309.39" fill="#bdbdbd" stroke="#000" stroke-width="1.4"/>
<rect x="1671.36" y="1785.67" width="6.34" height="260.03" fill="#bdbdbd" stroke="#000" stroke-width="1.4"/>
<rect x="1677.70" y="1802.33" width="6.34" height="243.37" fill="#bdbdbd" stroke="#000" stroke-width="1.4"/>
<rect x="1684.05" y="1798.23" width="6.34" height="247.47" fill="#bdbdbd" stroke="#000" stroke-width="1.4"/>
<rect x="1690.39" y="1809.12" width="6.34" height="236.58" fill="#bdbdbd" stroke="#000" stroke-width="1.4"/>
<rect x="1696.74" y="1807.69" width="6.34" height="238.01" fill="#bdbdbd" stroke="#000" stroke-width="1.4"/>
<rect x="1703.08" y="1796.61" width="6.34" height="249.09" fill="#bdbdbd" stroke="#000" stroke-width="1.4"/>
<rect x="1709.43" y="1828.23" width="6.34" height="217.47" fill="#bdbdbd" stroke="#000" stroke-width="1.4"/>
<rect x="1715.77" y="1857.81" width="6.34" height="187.89" fill="#bdbdbd" stroke="#000" stroke-width="1.4"/>
<rect x="1722.12" y="1855.97" width="6.34" height="189.73" fill="#bdbdbd" stroke="#000" stroke-width="1.4"/>
<rect x="1728.46" y="1860.62" width="6.34" height="185.08" fill="#bdbdbd" stroke="#000" stroke-width="1.4"/>
<rect x="1734.81" y="1856.01" width="6.34" height="189.69" fill="#bdbdbd" stroke="#000" stroke-width="1.4"/>
<rect x="1741.15" y="1890.71" width="6.34" height="154.99" fill="#bdbdbd" stroke="#000" stroke-width="1.4"/>
<rect x="1747.50" y="1910.10" width="6.34" height="135.60" fill="#bdbdbd" stroke="#000" stroke-width="1.4"/>
<rect x="1753.84" y="1887.96" width="6.34" height="157.74" fill="#bdbdbd" stroke="#000" stroke-width="1.4"/>
<rect x="1760.19" y="1905.31" width="6.34" height="140.39" fill="#bdbdbd" stroke="#000" stroke-width="1.4"/>
<rect x="1766.53" y="1926.62" width="6.34" height="119.08" fill="#bdbdbd" stroke="#000" stroke-width="1.4"/>
<rect x="1772.88" y="1902.65" width="6.34" height="143.05" fill="#bdbdbd" stroke="#000" stroke-width="1.4"/>
<rect x="1779.22" y="1897.46" width="6.34" height="148.24" fill="#bdbdbd" stroke="#000" stroke-width="1.4"/>
<rect x="1785.57" y="1926.58" width="6.34" height="119.12" fill="#bdbdbd" stroke="#000" stroke-width="1.4"/>
<rect x="1791.91" y="1923.12" width="6.34" height="122.58" fill="#bdbdbd" stroke="#000" stroke-width="1.4"/>
<rect x="1798.26" y="1930.46" width="6.34" height="115.24" fill="#bdbdbd" stroke="#000" stroke-width="1.4"/>
<rect x="1804.61" y="1928.07" width="6.34" height="117.63" fill="#bdbdbd" stroke="#000" stroke-width="1.4"/>
<rect x="1810.95" y="1921.20" width="6.34" height="124.50" fill="#bdbdbd" stroke="#000" stroke-width="1.4"/>
<rect x="1817.29" y="1932.57" width="6.34" height="113.13" fill="#bdbdbd" stroke="#000" stroke-width="1.4"/>
<rect x="1823.64" y="1958.99" width="6.34" height="86.71" fill="#bdbdbd" stroke="#000" stroke-width="1.4"/>
<rect x="1829.98" y="1923.12" width="6.34" height="122.58" fill="#bdbdbd" stroke="#000" stroke-width="1.4"/>
<rect x="1836.33" y="1970.96" width="6.34" height="74.74" fill="#bdbdbd" stroke="#000" stroke-width="1.4"/>
<rect x="1842.67" y="1971.67" width="6.34" height="74.03" fill="#bdbdbd" stroke="#000" stroke-width="1.4"/>
<rect x="1849.02" y="1989.36" width="6.34" height="56.34" fill="#bdbdbd" stroke="#000" stroke-width="1.4"/>
<rect x="1855.36" y="1989.37" width="6.34" height="56.33" fill="#bdbdbd" stroke="#000" stroke-width="1.4"/>
<rect x="1861.71" y="1985.94" width="6.34" height="59.76" fill="#bdbdbd" stroke="#000" stroke-width="1.4"/>
<rect x="1868.05" y="1999.48" width="6.34" height="46.22" fill="#bdbdbd" stroke="#000" stroke-width="1.4"/>
<rect x="1874.40" y="2008.83" width="6.34" height="36.87" fill="#bdbdbd" stroke="#000" stroke-width="1.4"/>
<rect x="1880.74" y="2000.97" width="6.34" height="44.73" fill="#bdbdbd" stroke="#000" stroke-width="1.4"/>
<rect x="1887.09" y="2007.81" width="6.34" height="37.89" fill="#bdbdbd" stroke="#000" stroke-width="1.4"/>
<rect x="1893.43" y="2016.75" width="6.34" height="28.95" fill="#bdbdbd" stroke="#000" stroke-width="1.4"/>
<rect x="1899.78" y="2013.84" width="6.34" height="31.86" fill="#bdbdbd" stroke="#000" stroke-width="1.4"/>
<rect x="1906.12" y="2022.07" width="6.34" height="23.63" fill="#bdbdbd" stroke="#000" stroke-width="1.4"/>
<rect x="1912.47" y="2012.00" width="6.34" height="33.70" fill="#bdbdbd" stroke="#000" stroke-width="1.4"/>
<rect x="1918.82" y="2027.96" width="6.34" height="17.74" fill="#bdbdbd" stroke="#000" stroke-width="1.4"/>
<rect x="1925.16" y="2034.84" width="6.34" height="10.86" fill="#bdbdbd" stroke="#000" stroke-width="1.4"/>
<rect x="1931.50" y="2036.00" width="6.34" height="9.70" fill="#bdbdbd" stroke="#000" stroke-width="1.4"/>
<path d="M1303.3 2036.5l3.2-.3 3.2-1 3.2-1.4 3.1-1.8 3.2-2.2 3.2-2.3 3.2-2.4 3.1-2.4 3.2-2.4 3.2-2.1 3.1-1.8 3.2-1.5 3.2-.9 3.2-.3 3.1-.3 3.2-.9 3.2-1.3 3.2-1.7 3.1-2 3.2-2.3 3.2-2.4 3.1-2.6 3.2-2.7 3.2-2.6 3.2-2.5 3.1-2.4 3.2-2.1 3.2-1.8 3.2-1.5 3.1-1 3.2-.5 3.2-.6 3.1-2.6 3.2-4.3 3.2-5.1 3.2-5.1 3.1-4.3 3.2-2.7 3.2-.7 3.1-2.4 3.2-4.2 3.2-5.4 3.2-5.6 3.1-5 3.2-3.6 3.2-1.4 3.2-.6 3.1-1.5 3.2-2.1 3.2-2.3 3.1-2.2 3.2-1.6 3.2-.8 3.2-.9 3.1-3 3.2-4.4 3.2-4.9 3.2-4.5 3.1-3.3 3.2-1.4 3.2-2.1 3.1-5.7 3.2-8 3.2-8.9 3.2-8.8 3.1-7.2 3.2-4.4 3.2-1.1 3.2-2.4 3.1-4.5 3.2-6.2 3.2-7.1 3.1-7.6 3.2-7.3 3.2-6.6 3.2-5.3 3.1-3.4 3.2-.9 3.2-.7 3.1-1.6 3.2-2.3 3.2-2.8 3.2-3.2 3.1-3.2 3.2-3.1 3.2-2.9 3.2-2.5 3.1-1.7 3.2-.9 3.2-.3 3.1-.9 3.2-1.5 3.2-2.1 3.2-2.5 3.1-2.8 3.2-2.9 3.2-2.8 3.2-2.7 3.1-2.5 3.2-2 3.2-1.4 3.1-.7 3.2 0 3.2 .9 3.2 1.3 3.1 1.8 3.2 1.8 3.2 1.9 3.2 1.6 3.1 1.2 3.2 .5 3.2 .8 3.1 2.7 3.2 4.2 3.2 5 3.2 5.3 3.1 5.1 3.2 4.1 3.2 2.7 3.1 .9 3.2 2.6 3.2 5.8 3.2 7.8 3.1 9 3.2 9.2 3.2 8.4 3.2 6.7 3.1 4 3.2 1.2 3.2 4.4 3.1 7.5 3.2 8.6 3.2 7.5 3.2 4.5 3.1 .7 3.2 1.4 3.2 2.3 3.2 2.9 3.1 3.1 3.2 3.1 3.2 2.6 3.1 1.8 3.2 .6 3.2 .7 3.2 1.7 3.1 2.5 3.2 3 3.2 3 3.2 2.9 3.1 2.4 3.2 1.5 3.2 .5 3.1 1.3 3.2 2.7 3.2 3.5 3.2 3.8 3.1 3.4 3.2 2.4 3.2 1 3.1 1.1 3.2 3.1 3.2 4.5 3.2 5.5 3.1 6 3.2 6.1 3.2 5.7 3.2 4.8 3.1 3.4 3.2 1.5 3.2 .4 3.1 1.3 3.2 2 3.2 2.7 3.2 3 3.1 3.2 3.2 3.2 3.2 3 3.2 2.7 3.1 2 3.2 1.3 3.2 .4 3.1 .8 3.2 1.9 3.2 2.6 3.2 3.1 3.1 3.4 3.2 3.3 3.2 3 3.2 2.5 3.1 1.7 3.2 .6 3.2 .5 3.1 1.4 3.2 2.1 3.2 2.3 3.2 2.6 3.1 2.4 3.2 2 3.2 1.4 3.1 .5 0 7.8 -634.5 0Z" fill="#ff0000" fill-opacity="0.14"/>
<path d="M1303.3 2036.5l3.2-.3 3.2-1 3.2-1.4 3.1-1.8 3.2-2.2 3.2-2.3 3.2-2.4 3.1-2.4 3.2-2.4 3.2-2.1 3.1-1.8 3.2-1.5 3.2-.9 3.2-.3 3.1-.3 3.2-.9 3.2-1.3 3.2-1.7 3.1-2 3.2-2.3 3.2-2.4 3.1-2.6 3.2-2.7 3.2-2.6 3.2-2.5 3.1-2.4 3.2-2.1 3.2-1.8 3.2-1.5 3.1-1 3.2-.5 3.2-.6 3.1-2.6 3.2-4.3 3.2-5.1 3.2-5.1 3.1-4.3 3.2-2.7 3.2-.7 3.1-2.4 3.2-4.2 3.2-5.4 3.2-5.6 3.1-5 3.2-3.6 3.2-1.4 3.2-.6 3.1-1.5 3.2-2.1 3.2-2.3 3.1-2.2 3.2-1.6 3.2-.8 3.2-.9 3.1-3 3.2-4.4 3.2-4.9 3.2-4.5 3.1-3.3 3.2-1.4 3.2-2.1 3.1-5.7 3.2-8 3.2-8.9 3.2-8.8 3.1-7.2 3.2-4.4 3.2-1.1 3.2-2.4 3.1-4.5 3.2-6.2 3.2-7.1 3.1-7.6 3.2-7.3 3.2-6.6 3.2-5.3 3.1-3.4 3.2-.9 3.2-.7 3.1-1.6 3.2-2.3 3.2-2.8 3.2-3.2 3.1-3.2 3.2-3.1 3.2-2.9 3.2-2.5 3.1-1.7 3.2-.9 3.2-.3 3.1-.9 3.2-1.5 3.2-2.1 3.2-2.5 3.1-2.8 3.2-2.9 3.2-2.8 3.2-2.7 3.1-2.5 3.2-2 3.2-1.4 3.1-.7 3.2 0 3.2 .9 3.2 1.3 3.1 1.8 3.2 1.8 3.2 1.9 3.2 1.6 3.1 1.2 3.2 .5 3.2 .8 3.1 2.7 3.2 4.2 3.2 5 3.2 5.3 3.1 5.1 3.2 4.1 3.2 2.7 3.1 .9 3.2 2.6 3.2 5.8 3.2 7.8 3.1 9 3.2 9.2 3.2 8.4 3.2 6.7 3.1 4 3.2 1.2 3.2 4.4 3.1 7.5 3.2 8.6 3.2 7.5 3.2 4.5 3.1 .7 3.2 1.4 3.2 2.3 3.2 2.9 3.1 3.1 3.2 3.1 3.2 2.6 3.1 1.8 3.2 .6 3.2 .7 3.2 1.7 3.1 2.5 3.2 3 3.2 3 3.2 2.9 3.1 2.4 3.2 1.5 3.2 .5 3.1 1.3 3.2 2.7 3.2 3.5 3.2 3.8 3.1 3.4 3.2 2.4 3.2 1 3.1 1.1 3.2 3.1 3.2 4.5 3.2 5.5 3.1 6 3.2 6.1 3.2 5.7 3.2 4.8 3.1 3.4 3.2 1.5 3.2 .4 3.1 1.3 3.2 2 3.2 2.7 3.2 3 3.1 3.2 3.2 3.2 3.2 3 3.2 2.7 3.1 2 3.2 1.3 3.2 .4 3.1 .8 3.2 1.9 3.2 2.6 3.2 3.1 3.1 3.4 3.2 3.3 3.2 3 3.2 2.5 3.1 1.7 3.2 .6 3.2 .5 3.1 1.4 3.2 2.1 3.2 2.3 3.2 2.6 3.1 2.4 3.2 2 3.2 1.4 3.1 .5" fill="none" stroke="#000" stroke-width="2.2"/>
<line x1="1346.9" x2="1346.9" y1="1580" y2="2067" stroke="#0000ee" stroke-width="3.4"/>
</g>
<rect x="1272.5" y="1580.0" width="698.0" height="487.7" rx="26" fill="none" stroke="#000" stroke-width="3.2"/>
<path d="M1637 1622.5 C1560 1620 1450 1621 1376 1622.5" fill="none" stroke="#000" stroke-width="4" stroke-linecap="round"/>
<path d="M1386 1614 L1374 1622.5 L1386 1631" fill="none" stroke="#000" stroke-width="3.4" stroke-linecap="round"/>
<rect x="1653.7" y="1595" width="239.2" height="115" rx="28" fill="#ebebeb" stroke="#000" stroke-width="3"/>
<text x="1773.3" y="1638.6" font-size="34" text-anchor="middle" textLength="174" lengthAdjust="spacingAndGlyphs"><tspan font-style="italic">rho</tspan> = -0.43</text>
<text x="1773.3" y="1687" font-size="34" text-anchor="middle" textLength="215" lengthAdjust="spacingAndGlyphs">Spin-<tspan font-style="italic">p</tspan>=0.026</text>
<text x="1239.0" y="1639.3" font-size="33.0" text-anchor="middle">3</text>
<text x="1239.0" y="1778.6" font-size="33.0" text-anchor="middle">2</text>
<text x="1239.0" y="1917.9" font-size="33.0" text-anchor="middle">1</text>
<text x="1239.0" y="2057.2" font-size="33.0" text-anchor="middle">0</text>
<text x="1303.3" y="2112.0" font-size="33.0" text-anchor="middle">-0.5</text>
<text x="1462.0" y="2112.0" font-size="33.0" text-anchor="middle">-0.25</text>
<text x="1620.6" y="2112.0" font-size="33.0" text-anchor="middle">0</text>
<text x="1779.2" y="2112.0" font-size="33.0" text-anchor="middle">0.25</text>
<text x="1937.8" y="2112.0" font-size="33.0" text-anchor="middle">0.5</text>
<text x="1196" y="1825" font-size="37" text-anchor="middle" transform="rotate(-90 1196 1825)" textLength="119.7" lengthAdjust="spacingAndGlyphs">Density</text>
<text x="1322.5" y="2156.0" font-size="37.0" textLength="598.0" lengthAdjust="spacingAndGlyphs">Null correlation values (10,000 perm.)</text></svg>
</body></html>
